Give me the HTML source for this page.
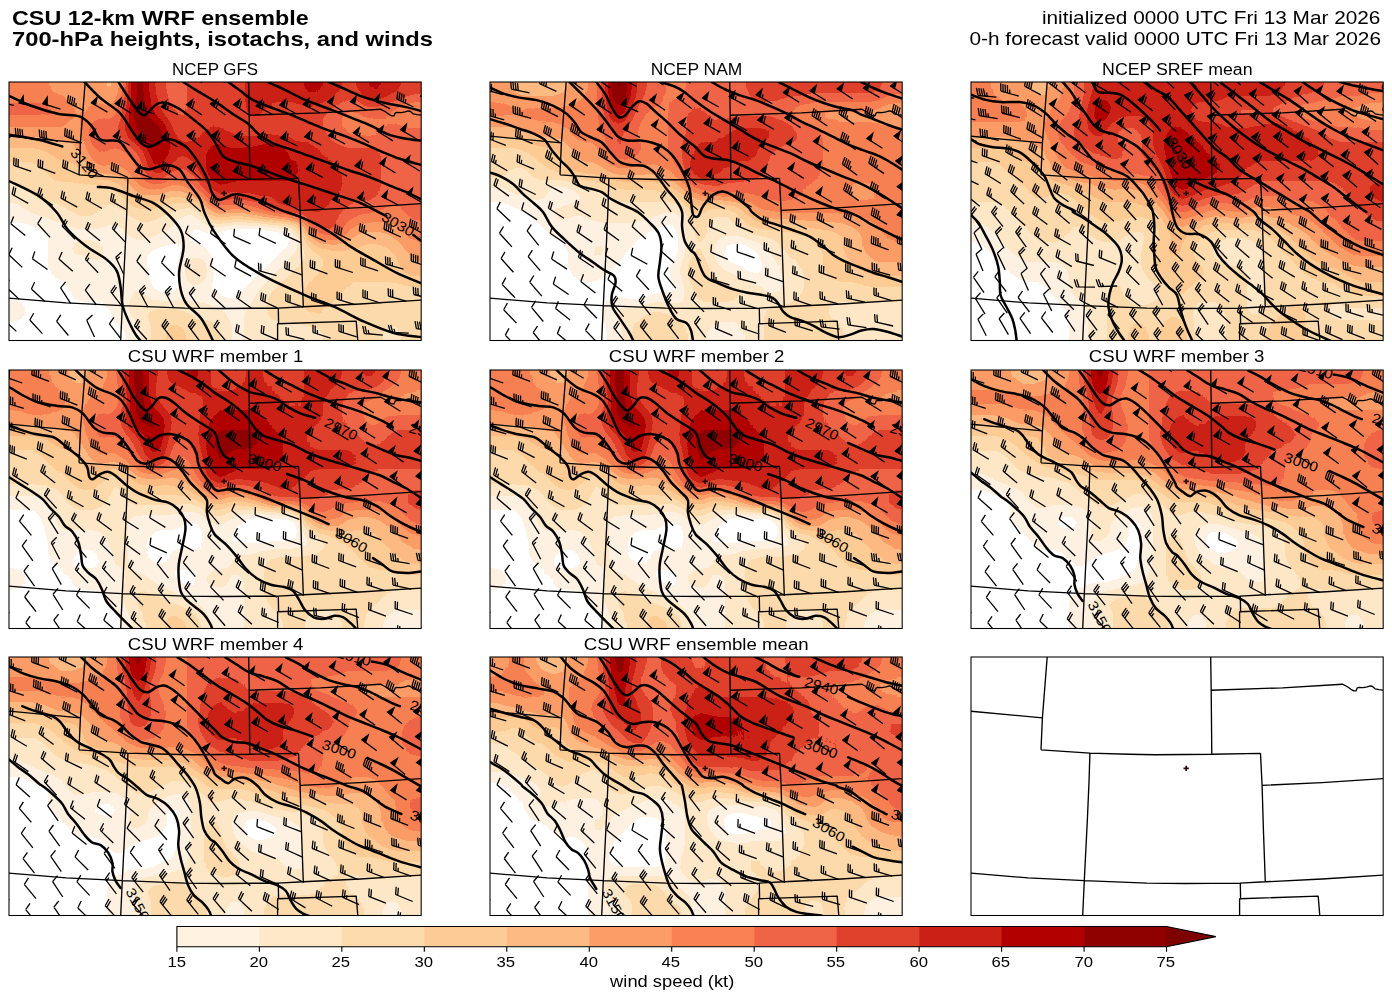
<!DOCTYPE html>
<html><head><meta charset="utf-8"><title>CSU 12-km WRF ensemble</title>
<style>
html,body{margin:0;padding:0;background:#fff;}
body{width:1392px;height:1001px;position:relative;overflow:hidden;font-family:"Liberation Sans",sans-serif;color:#000;}
.t{position:absolute;white-space:nowrap;line-height:1;}
.pan{position:absolute;overflow:visible;}
.cl{font-family:"Liberation Sans",sans-serif;font-size:13.9px;fill:#000;text-anchor:middle;}
.sx{display:inline-block;transform-origin:0 50%;}
.sc{display:inline-block;transform-origin:50% 50%;}
.sr{display:inline-block;transform-origin:100% 50%;}
</style></head><body>
<svg width="0" height="0" style="position:absolute"><defs><filter id="fld" x="-20%" y="-20%" width="140%" height="140%" color-interpolation-filters="sRGB"><feGaussianBlur stdDeviation="4.5"/><feComponentTransfer><feFuncR type="discrete" tableValues="1.0000 1.0000 1.0000 0.9961 0.9922 0.9922 0.9922 0.9882 0.9725 0.9373 0.8745 0.7961 0.6980 0.5608 0.4980 0.4980"/><feFuncG type="discrete" tableValues="1.0000 1.0000 0.9490 0.9098 0.8588 0.8000 0.7294 0.6118 0.5020 0.3922 0.2549 0.1255 0.0000 0.0000 0.0000 0.0000"/><feFuncB type="discrete" tableValues="1.0000 1.0000 0.8824 0.7843 0.6745 0.5882 0.5137 0.4039 0.3255 0.2784 0.1725 0.0824 0.0000 0.0000 0.0000 0.0000"/><feFuncA type="discrete" tableValues="1 1"/></feComponentTransfer></filter></defs></svg>
<div class="t" style="top:8.25px;font-size:20.40px;font-weight:bold;left:11.5px;"><span class="sx" style="transform:scaleX(1.1434)">CSU 12-km WRF ensemble</span></div>
<div class="t" style="top:29.25px;font-size:20.40px;font-weight:bold;left:11.5px;"><span class="sx" style="transform:scaleX(1.1643)">700-hPa heights, isotachs, and winds</span></div>
<div class="t" style="top:8.45px;font-size:19.00px;right:11.3px;"><span class="sr" style="transform:scaleX(1.0941)">initialized 0000 UTC Fri 13 Mar 2026</span></div>
<div class="t" style="top:29.45px;font-size:19.00px;right:11.3px;"><span class="sr" style="transform:scaleX(1.0943)">0-h forecast valid 0000 UTC Fri 13 Mar 2026</span></div><div class="t" style="top:60.80px;font-size:17.30px;left:15.4px;width:400px;text-align:center;"><span class="sc" style="transform:scaleX(0.9767)">NCEP GFS</span></div>
<div class="t" style="top:60.80px;font-size:17.30px;left:496.2px;width:400px;text-align:center;"><span class="sc" style="transform:scaleX(1.0081)">NCEP NAM</span></div>
<div class="t" style="top:60.80px;font-size:17.30px;left:977.1px;width:400px;text-align:center;"><span class="sc" style="transform:scaleX(1.0259)">NCEP SREF mean</span></div>
<div class="t" style="top:347.80px;font-size:17.30px;left:15.4px;width:400px;text-align:center;"><span class="sc" style="transform:scaleX(1.0752)">CSU WRF member 1</span></div>
<div class="t" style="top:347.80px;font-size:17.30px;left:496.2px;width:400px;text-align:center;"><span class="sc" style="transform:scaleX(1.0752)">CSU WRF member 2</span></div>
<div class="t" style="top:347.80px;font-size:17.30px;left:977.1px;width:400px;text-align:center;"><span class="sc" style="transform:scaleX(1.0752)">CSU WRF member 3</span></div>
<div class="t" style="top:635.80px;font-size:17.30px;left:15.4px;width:400px;text-align:center;"><span class="sc" style="transform:scaleX(1.0752)">CSU WRF member 4</span></div>
<div class="t" style="top:635.80px;font-size:17.30px;left:496.2px;width:400px;text-align:center;"><span class="sc" style="transform:scaleX(1.0799)">CSU WRF ensemble mean</span></div>
<svg class="pan" style="left:8.3px;top:80.9px" width="414.2" height="260.5" viewBox="0 0 414.2 260.5">
<g transform="translate(1,1)">
<g id="pc0">
<clipPath id="cp0"><rect x="0" y="0" width="412.2" height="258.5"/></clipPath>
<g clip-path="url(#cp0)">
<g filter="url(#fld)">
<path fill="rgb(8,8,8)" d="M225.7 149.1H255.5V159.4H225.7ZM225.7 159.1H245.7V169.3H225.7Z"/>
<path fill="rgb(12,12,12)" d="M215.9 149.1H226.0V159.4H215.9ZM255.2 149.1H265.3V159.4H255.2ZM215.9 159.1H226.0V169.3H215.9ZM245.4 159.1H255.5V169.3H245.4ZM225.7 169.0H245.7V179.3H225.7Z"/>
<path fill="rgb(16,16,16)" d="M265.0 149.1H275.1V159.4H265.0ZM255.2 159.1H265.3V169.3H255.2ZM215.9 169.0H226.0V179.3H215.9ZM245.4 169.0H255.5V179.3H245.4Z"/>
<path fill="rgb(20,20,20)" d="M206.1 149.1H216.2V159.4H206.1ZM206.1 159.1H216.2V169.3H206.1ZM206.1 169.0H216.2V179.3H206.1ZM215.9 179.0H245.7V189.2H215.9Z"/>
<path fill="rgb(24,24,24)" d="M-30.0 149.1H29.7V159.4H-30.0ZM196.3 149.1H206.4V159.4H196.3ZM274.8 149.1H284.9V159.4H274.8ZM-30.0 159.1H29.7V169.3H-30.0ZM265.0 159.1H275.1V169.3H265.0ZM-30.0 169.0H29.7V179.3H-30.0ZM147.2 169.0H167.1V179.3H147.2ZM255.2 169.0H265.3V179.3H255.2ZM-30.0 179.0H29.7V189.2H-30.0ZM147.2 179.0H167.1V189.2H147.2ZM206.1 179.0H216.2V189.2H206.1ZM245.4 179.0H255.5V189.2H245.4ZM-30.0 188.9H29.7V199.1H-30.0ZM147.2 188.9H167.1V199.1H147.2ZM206.1 188.9H235.8V199.1H206.1ZM-30.0 198.8H39.6V209.1H-30.0ZM147.2 198.8H167.1V209.1H147.2ZM206.1 198.8H226.0V209.1H206.1ZM19.6 208.8H49.4V219.0H19.6ZM29.4 218.7H59.2V229.0H29.4ZM29.4 228.7H88.6V238.9H29.4ZM19.6 238.6H98.4V248.9H19.6ZM-30.0 248.6H108.3V288.8H-30.0Z"/>
<path fill="rgb(28,28,28)" d="M-30.0 139.2H19.9V149.4H-30.0ZM29.4 149.1H39.6V159.4H29.4ZM186.5 149.1H196.6V159.4H186.5ZM29.4 159.1H39.6V169.3H29.4ZM157.0 159.1H167.1V169.3H157.0ZM196.3 159.1H206.4V169.3H196.3ZM29.4 169.0H39.6V179.3H29.4ZM137.4 169.0H147.5V179.3H137.4ZM29.4 179.0H39.6V189.2H29.4ZM137.4 179.0H147.5V189.2H137.4ZM29.4 188.9H39.6V199.1H29.4ZM137.4 188.9H147.5V199.1H137.4ZM235.5 188.9H245.7V199.1H235.5ZM39.3 198.8H49.4V209.1H39.3ZM225.7 198.8H235.8V209.1H225.7ZM-30.0 208.8H19.9V219.0H-30.0ZM49.1 208.8H59.2V219.0H49.1ZM215.9 208.8H226.0V219.0H215.9ZM19.6 218.7H29.7V229.0H19.6ZM58.9 218.7H88.6V229.0H58.9ZM19.6 228.7H29.7V238.9H19.6ZM88.3 228.7H98.4V238.9H88.3ZM-30.0 238.6H19.9V248.9H-30.0ZM98.1 238.6H108.3V248.9H98.1ZM108.0 248.6H118.1V288.8H108.0Z"/>
<path fill="rgb(32,32,32)" d="M19.6 139.2H29.7V149.4H19.6ZM176.7 139.2H196.6V149.4H176.7ZM166.8 149.1H186.8V159.4H166.8ZM147.2 159.1H157.3V169.3H147.2ZM166.8 159.1H196.6V169.3H166.8ZM274.8 159.1H284.9V169.3H274.8ZM166.8 169.0H177.0V179.3H166.8ZM196.3 169.0H206.4V179.3H196.3ZM265.0 169.0H275.1V179.3H265.0ZM58.9 179.0H69.0V189.2H58.9ZM255.2 179.0H265.3V189.2H255.2ZM39.3 188.9H78.8V199.1H39.3ZM245.4 188.9H255.5V199.1H245.4ZM49.1 198.8H69.0V209.1H49.1ZM98.1 198.8H118.1V209.1H98.1ZM137.4 198.8H147.5V209.1H137.4ZM166.8 198.8H177.0V209.1H166.8ZM196.3 198.8H206.4V209.1H196.3ZM235.5 198.8H245.7V209.1H235.5ZM58.9 208.8H69.0V219.0H58.9ZM88.3 208.8H108.3V219.0H88.3ZM206.1 208.8H216.2V219.0H206.1ZM225.7 208.8H235.8V219.0H225.7ZM9.8 218.7H19.9V229.0H9.8ZM88.3 218.7H108.3V229.0H88.3ZM9.8 228.7H19.9V238.9H9.8ZM98.1 228.7H108.3V238.9H98.1ZM108.0 238.6H118.1V248.9H108.0Z"/>
<path fill="rgb(36,36,36)" d="M-30.0 129.2H10.1V139.5H-30.0ZM29.4 139.2H39.6V149.4H29.4ZM225.7 139.2H235.8V149.4H225.7ZM39.3 149.1H49.4V159.4H39.3ZM39.3 159.1H49.4V169.3H39.3ZM137.4 159.1H147.5V169.3H137.4ZM39.3 169.0H49.4V179.3H39.3ZM127.6 169.0H137.7V179.3H127.6ZM39.3 179.0H49.4V189.2H39.3ZM68.7 179.0H78.8V189.2H68.7ZM127.6 179.0H137.7V189.2H127.6ZM166.8 179.0H177.0V189.2H166.8ZM196.3 179.0H206.4V189.2H196.3ZM78.5 188.9H88.6V199.1H78.5ZM98.1 188.9H108.3V199.1H98.1ZM166.8 188.9H177.0V199.1H166.8ZM196.3 188.9H206.4V199.1H196.3ZM68.7 198.8H78.8V209.1H68.7ZM88.3 198.8H98.4V209.1H88.3ZM68.7 208.8H88.6V219.0H68.7ZM108.0 208.8H118.1V219.0H108.0ZM147.2 208.8H167.1V219.0H147.2ZM196.3 208.8H206.4V219.0H196.3ZM-30.0 218.7H10.1V229.0H-30.0ZM-30.0 228.7H10.1V238.9H-30.0ZM117.8 248.6H127.9V288.8H117.8Z"/>
<path fill="rgb(40,40,40)" d="M9.8 129.2H19.9V139.5H9.8ZM176.7 129.2H186.8V139.5H176.7ZM39.3 139.2H49.4V149.4H39.3ZM166.8 139.2H177.0V149.4H166.8ZM215.9 139.2H226.0V149.4H215.9ZM235.5 139.2H255.5V149.4H235.5ZM49.1 149.1H59.2V159.4H49.1ZM98.1 149.1H108.3V159.4H98.1ZM157.0 149.1H167.1V159.4H157.0ZM108.0 159.1H118.1V169.3H108.0ZM127.6 159.1H137.7V169.3H127.6ZM49.1 169.0H59.2V179.3H49.1ZM108.0 169.0H127.9V179.3H108.0ZM49.1 179.0H59.2V189.2H49.1ZM78.5 179.0H88.6V189.2H78.5ZM98.1 179.0H127.9V189.2H98.1ZM88.3 188.9H98.4V199.1H88.3ZM108.0 188.9H137.7V199.1H108.0ZM78.5 198.8H88.6V209.1H78.5ZM137.4 208.8H147.5V219.0H137.4ZM166.8 208.8H196.6V219.0H166.8ZM235.5 208.8H245.7V219.0H235.5ZM108.0 218.7H118.1V229.0H108.0ZM215.9 218.7H235.8V229.0H215.9ZM108.0 228.7H118.1V238.9H108.0ZM117.8 238.6H127.9V248.9H117.8Z"/>
<path fill="rgb(44,44,44)" d="M-30.0 119.3H10.1V129.6H-30.0ZM19.6 129.2H29.7V139.5H19.6ZM49.1 139.2H59.2V149.4H49.1ZM98.1 139.2H108.3V149.4H98.1ZM58.9 149.1H98.4V159.4H58.9ZM108.0 149.1H118.1V159.4H108.0ZM147.2 149.1H157.3V159.4H147.2ZM49.1 159.1H59.2V169.3H49.1ZM98.1 159.1H108.3V169.3H98.1ZM117.8 159.1H127.9V169.3H117.8ZM98.1 169.0H108.3V179.3H98.1ZM176.7 169.0H196.6V179.3H176.7ZM274.8 169.0H284.9V179.3H274.8ZM88.3 179.0H98.4V189.2H88.3ZM265.0 179.0H275.1V189.2H265.0ZM255.2 188.9H265.3V199.1H255.2ZM127.6 198.8H137.7V209.1H127.6ZM176.7 198.8H196.6V209.1H176.7ZM245.4 198.8H255.5V209.1H245.4ZM206.1 218.7H216.2V229.0H206.1ZM215.9 228.7H235.8V238.9H215.9ZM225.7 238.6H235.8V248.9H225.7ZM225.7 248.6H235.8V288.8H225.7Z"/>
<path fill="rgb(48,48,48)" d="M9.8 119.3H19.9V129.6H9.8ZM29.4 129.2H39.6V139.5H29.4ZM166.8 129.2H177.0V139.5H166.8ZM58.9 139.2H98.4V149.4H58.9ZM108.0 139.2H118.1V149.4H108.0ZM157.0 139.2H167.1V149.4H157.0ZM196.3 139.2H216.2V149.4H196.3ZM255.2 139.2H265.3V149.4H255.2ZM117.8 149.1H127.9V159.4H117.8ZM137.4 149.1H147.5V159.4H137.4ZM58.9 159.1H69.0V169.3H58.9ZM88.3 159.1H98.4V169.3H88.3ZM284.6 159.1H294.7V169.3H284.6ZM58.9 169.0H78.8V179.3H58.9ZM88.3 169.0H98.4V179.3H88.3ZM117.8 198.8H127.9V209.1H117.8ZM117.8 208.8H127.9V219.0H117.8ZM196.3 218.7H206.4V229.0H196.3ZM235.5 218.7H245.7V229.0H235.5ZM117.8 228.7H127.9V238.9H117.8ZM215.9 238.6H226.0V248.9H215.9ZM127.6 248.6H137.7V288.8H127.6ZM215.9 248.6H226.0V288.8H215.9Z"/>
<path fill="rgb(52,52,52)" d="M-30.0 109.4H10.1V119.6H-30.0ZM39.3 129.2H49.4V139.5H39.3ZM265.0 139.2H275.1V149.4H265.0ZM127.6 149.1H137.7V159.4H127.6ZM68.7 159.1H88.6V169.3H68.7ZM78.5 169.0H88.6V179.3H78.5ZM127.6 208.8H137.7V219.0H127.6ZM245.4 208.8H255.5V219.0H245.4ZM117.8 218.7H127.9V229.0H117.8ZM186.5 218.7H196.6V229.0H186.5ZM235.5 228.7H245.7V238.9H235.5ZM127.6 238.6H137.7V248.9H127.6ZM235.5 238.6H245.7V248.9H235.5ZM235.5 248.6H245.7V288.8H235.5Z"/>
<path fill="rgb(56,56,56)" d="M9.8 109.4H19.9V119.6H9.8ZM19.6 119.3H29.7V129.6H19.6ZM49.1 129.2H59.2V139.5H49.1ZM98.1 129.2H118.1V139.5H98.1ZM157.0 129.2H167.1V139.5H157.0ZM186.5 129.2H196.6V139.5H186.5ZM117.8 139.2H127.9V149.4H117.8ZM147.2 139.2H157.3V149.4H147.2ZM284.6 149.1H294.7V159.4H284.6ZM284.6 169.0H294.7V179.3H284.6ZM274.8 179.0H284.9V189.2H274.8ZM265.0 188.9H275.1V199.1H265.0ZM255.2 198.8H265.3V209.1H255.2ZM127.6 218.7H137.7V229.0H127.6ZM166.8 218.7H186.8V229.0H166.8ZM245.4 218.7H255.5V229.0H245.4ZM127.6 228.7H137.7V238.9H127.6ZM206.1 228.7H216.2V238.9H206.1ZM245.4 238.6H255.5V248.9H245.4ZM245.4 248.6H304.5V288.8H245.4Z"/>
<path fill="rgb(60,60,60)" d="M-30.0 99.4H10.1V109.7H-30.0ZM29.4 119.3H49.4V129.6H29.4ZM58.9 129.2H69.0V139.5H58.9ZM88.3 129.2H98.4V139.5H88.3ZM127.6 139.2H147.5V149.4H127.6ZM274.8 139.2H284.9V149.4H274.8ZM137.4 218.7H167.1V229.0H137.4ZM186.5 228.7H206.4V238.9H186.5ZM245.4 228.7H255.5V238.9H245.4ZM206.1 238.6H216.2V248.9H206.1ZM255.2 238.6H294.7V248.9H255.2ZM304.2 248.6H314.4V288.8H304.2ZM372.9 248.6H392.9V288.8H372.9Z"/>
<path fill="rgb(64,64,64)" d="M9.8 99.4H19.9V109.7H9.8ZM19.6 109.4H29.7V119.6H19.6ZM78.5 109.4H108.3V119.6H78.5ZM49.1 119.3H59.2V129.6H49.1ZM88.3 119.3H118.1V129.6H88.3ZM176.7 119.3H186.8V129.6H176.7ZM68.7 129.2H88.6V139.5H68.7ZM117.8 129.2H127.9V139.5H117.8ZM147.2 129.2H157.3V139.5H147.2ZM294.4 169.0H304.5V179.3H294.4ZM176.7 179.0H196.6V189.2H176.7ZM284.6 179.0H294.7V189.2H284.6ZM176.7 188.9H196.6V199.1H176.7ZM274.8 188.9H284.9V199.1H274.8ZM265.0 198.8H275.1V209.1H265.0ZM255.2 208.8H265.3V219.0H255.2ZM176.7 228.7H186.8V238.9H176.7ZM255.2 228.7H265.3V238.9H255.2ZM137.4 238.6H147.5V248.9H137.4ZM294.4 238.6H314.4V248.9H294.4ZM372.9 238.6H392.9V248.9H372.9ZM137.4 248.6H147.5V288.8H137.4ZM206.1 248.6H216.2V288.8H206.1Z"/>
<path fill="rgb(68,68,68)" d="M-30.0 89.5H19.9V99.7H-30.0ZM19.6 99.4H29.7V109.7H19.6ZM29.4 109.4H59.2V119.6H29.4ZM68.7 109.4H78.8V119.6H68.7ZM58.9 119.3H69.0V129.6H58.9ZM78.5 119.3H88.6V129.6H78.5ZM166.8 119.3H177.0V129.6H166.8ZM127.6 129.2H147.5V139.5H127.6ZM255.2 218.7H265.3V229.0H255.2ZM137.4 228.7H147.5V238.9H137.4ZM265.0 228.7H284.9V238.9H265.0ZM372.9 228.7H392.9V238.9H372.9ZM186.5 238.6H206.4V248.9H186.5ZM363.1 238.6H373.2V248.9H363.1ZM392.6 238.6H402.7V248.9H392.6ZM314.1 248.6H324.2V288.8H314.1ZM363.1 248.6H373.2V288.8H363.1ZM392.6 248.6H402.7V288.8H392.6Z"/>
<path fill="rgb(72,72,72)" d="M19.6 89.5H29.7V99.7H19.6ZM29.4 99.4H39.6V109.7H29.4ZM78.5 99.4H88.6V109.7H78.5ZM58.9 109.4H69.0V119.6H58.9ZM68.7 119.3H78.8V129.6H68.7ZM157.0 119.3H167.1V129.6H157.0ZM294.4 179.0H304.5V189.2H294.4ZM284.6 188.9H294.7V199.1H284.6ZM274.8 198.8H284.9V209.1H274.8ZM265.0 208.8H284.9V219.0H265.0ZM343.5 208.8H442.5V219.0H343.5ZM265.0 218.7H284.9V229.0H265.0ZM333.7 218.7H442.5V229.0H333.7ZM147.2 228.7H157.3V238.9H147.2ZM166.8 228.7H177.0V238.9H166.8ZM284.6 228.7H294.7V238.9H284.6ZM314.1 228.7H373.2V238.9H314.1ZM392.6 228.7H442.5V238.9H392.6ZM176.7 238.6H186.8V248.9H176.7ZM314.1 238.6H363.4V248.9H314.1ZM402.4 238.6H442.5V248.9H402.4ZM186.5 248.6H206.4V288.8H186.5ZM323.9 248.6H363.4V288.8H323.9ZM402.4 248.6H442.5V288.8H402.4Z"/>
<path fill="rgb(76,76,76)" d="M-30.0 79.5H29.7V89.8H-30.0ZM29.4 89.5H39.6V99.7H29.4ZM39.3 99.4H78.8V109.7H39.3ZM88.3 99.4H98.4V109.7H88.3ZM304.2 169.0H314.4V179.3H304.2ZM304.2 179.0H314.4V189.2H304.2ZM294.4 188.9H304.5V199.1H294.4ZM284.6 198.8H294.7V209.1H284.6ZM343.5 198.8H392.9V209.1H343.5ZM284.6 208.8H294.7V219.0H284.6ZM333.7 208.8H343.8V219.0H333.7ZM284.6 218.7H294.7V229.0H284.6ZM323.9 218.7H334.0V229.0H323.9ZM157.0 228.7H167.1V238.9H157.0ZM294.4 228.7H304.5V238.9H294.4ZM147.2 238.6H157.3V248.9H147.2ZM147.2 248.6H157.3V288.8H147.2ZM176.7 248.6H186.8V288.8H176.7Z"/>
<path fill="rgb(80,80,80)" d="M29.4 79.5H39.6V89.8H29.4ZM39.3 89.5H49.4V99.7H39.3ZM98.1 99.4H108.3V109.7H98.1ZM108.0 109.4H118.1V119.6H108.0ZM117.8 119.3H127.9V129.6H117.8ZM147.2 119.3H157.3V129.6H147.2ZM294.4 159.1H304.5V169.3H294.4ZM304.2 188.9H314.4V199.1H304.2ZM294.4 198.8H304.5V209.1H294.4ZM333.7 198.8H343.8V209.1H333.7ZM392.6 198.8H442.5V209.1H392.6ZM323.9 208.8H334.0V219.0H323.9ZM314.1 218.7H324.2V229.0H314.1ZM304.2 228.7H314.4V238.9H304.2ZM157.0 238.6H177.0V248.9H157.0Z"/>
<path fill="rgb(84,84,84)" d="M-30.0 69.6H29.7V79.8H-30.0ZM49.1 89.5H69.0V99.7H49.1ZM127.6 119.3H147.5V129.6H127.6ZM186.5 119.3H196.6V129.6H186.5ZM314.1 169.0H324.2V179.3H314.1ZM314.1 179.0H324.2V189.2H314.1ZM314.1 188.9H324.2V199.1H314.1ZM333.7 188.9H383.1V199.1H333.7ZM304.2 198.8H314.4V209.1H304.2ZM323.9 198.8H334.0V209.1H323.9ZM294.4 208.8H304.5V219.0H294.4ZM314.1 208.8H324.2V219.0H314.1ZM294.4 218.7H314.4V229.0H294.4ZM157.0 248.6H177.0V288.8H157.0Z"/>
<path fill="rgb(88,88,88)" d="M29.4 69.6H39.6V79.8H29.4ZM39.3 79.5H49.4V89.8H39.3ZM68.7 89.5H78.8V99.7H68.7ZM196.3 129.2H206.4V139.5H196.3ZM284.6 139.2H294.7V149.4H284.6ZM323.9 169.0H383.1V179.3H323.9ZM323.9 179.0H383.1V189.2H323.9ZM323.9 188.9H334.0V199.1H323.9ZM382.8 188.9H392.9V199.1H382.8ZM314.1 198.8H324.2V209.1H314.1ZM304.2 208.8H314.4V219.0H304.2Z"/>
<path fill="rgb(92,92,92)" d="M49.1 79.5H69.0V89.8H49.1ZM353.3 159.1H373.2V169.3H353.3ZM382.8 179.0H392.9V189.2H382.8ZM392.6 188.9H402.7V199.1H392.6Z"/>
<path fill="rgb(96,96,96)" d="M-30.0 59.7H29.7V69.9H-30.0ZM39.3 69.6H49.4V79.8H39.3ZM108.0 99.4H118.1V109.7H108.0ZM117.8 109.4H127.9V119.6H117.8ZM157.0 109.4H177.0V119.6H157.0ZM215.9 129.2H235.8V139.5H215.9ZM304.2 159.1H314.4V169.3H304.2ZM343.5 159.1H353.6V169.3H343.5ZM372.9 159.1H383.1V169.3H372.9ZM382.8 169.0H392.9V179.3H382.8ZM402.4 188.9H442.5V199.1H402.4Z"/>
<path fill="rgb(100,100,100)" d="M29.4 59.7H39.6V69.9H29.4ZM49.1 69.6H69.0V79.8H49.1ZM68.7 79.5H78.8V89.8H68.7ZM78.5 89.5H88.6V99.7H78.5ZM235.5 129.2H245.7V139.5H235.5ZM333.7 159.1H343.8V169.3H333.7Z"/>
<path fill="rgb(104,104,104)" d="M39.3 59.7H49.4V69.9H39.3ZM88.3 89.5H98.4V99.7H88.3ZM147.2 109.4H157.3V119.6H147.2ZM206.1 129.2H216.2V139.5H206.1ZM294.4 149.1H304.5V159.4H294.4ZM353.3 149.1H373.2V159.4H353.3ZM314.1 159.1H334.0V169.3H314.1ZM382.8 159.1H392.9V169.3H382.8ZM392.6 179.0H402.7V189.2H392.6Z"/>
<path fill="rgb(108,108,108)" d="M98.1 -30.0H108.3V10.2H98.1ZM49.1 59.7H69.0V69.9H49.1ZM98.1 89.5H108.3V99.7H98.1ZM127.6 109.4H147.5V119.6H127.6ZM176.7 109.4H186.8V119.6H176.7ZM343.5 149.1H353.6V159.4H343.5ZM372.9 149.1H383.1V159.4H372.9ZM392.6 169.0H402.7V179.3H392.6ZM402.4 179.0H442.5V189.2H402.4Z"/>
<path fill="rgb(112,112,112)" d="M-30.0 49.7H39.6V60.0H-30.0ZM68.7 69.6H78.8V79.8H68.7ZM108.0 89.5H118.1V99.7H108.0ZM117.8 99.4H127.9V109.7H117.8ZM245.4 129.2H255.5V139.5H245.4Z"/>
<path fill="rgb(116,116,116)" d="M88.3 -30.0H98.4V10.2H88.3ZM98.1 9.9H108.3V20.2H98.1ZM39.3 49.7H69.0V60.0H39.3ZM382.8 149.1H392.9V159.4H382.8ZM392.6 159.1H402.7V169.3H392.6ZM402.4 169.0H442.5V179.3H402.4Z"/>
<path fill="rgb(120,120,120)" d="M49.1 -30.0H88.6V10.2H49.1ZM58.9 9.9H78.8V20.2H58.9ZM88.3 9.9H98.4V20.2H88.3ZM58.9 39.8H69.0V50.0H58.9ZM68.7 59.7H78.8V69.9H68.7ZM78.5 79.5H88.6V89.8H78.5ZM157.0 99.4H167.1V109.7H157.0ZM255.2 129.2H265.3V139.5H255.2ZM353.3 139.2H383.1V149.4H353.3ZM333.7 149.1H343.8V159.4H333.7Z"/>
<path fill="rgb(124,124,124)" d="M39.3 -30.0H49.4V10.2H39.3ZM78.5 9.9H88.6V20.2H78.5ZM68.7 19.9H78.8V30.1H68.7ZM98.1 79.5H108.3V89.8H98.1ZM166.8 99.4H177.0V109.7H166.8ZM343.5 139.2H353.6V149.4H343.5ZM402.4 159.1H442.5V169.3H402.4Z"/>
<path fill="rgb(128,128,128)" d="M49.1 9.9H59.2V20.2H49.1ZM58.9 19.9H69.0V30.1H58.9ZM78.5 19.9H88.6V30.1H78.5ZM98.1 19.9H108.3V30.1H98.1ZM58.9 29.8H78.8V40.1H58.9ZM402.4 29.8H442.5V40.1H402.4ZM-30.0 39.8H59.2V50.0H-30.0ZM68.7 39.8H78.8V50.0H68.7ZM68.7 49.7H78.8V60.0H68.7ZM88.3 79.5H98.4V89.8H88.3ZM108.0 79.5H118.1V89.8H108.0ZM117.8 89.5H127.9V99.7H117.8ZM127.6 99.4H137.7V109.7H127.6ZM186.5 109.4H196.6V119.6H186.5ZM196.3 119.3H206.4V129.6H196.3ZM382.8 139.2H392.9V149.4H382.8ZM392.6 149.1H402.7V159.4H392.6Z"/>
<path fill="rgb(131,131,131)" d="M29.4 -30.0H39.6V10.2H29.4ZM39.3 9.9H49.4V20.2H39.3ZM88.3 19.9H98.4V30.1H88.3ZM402.4 19.9H442.5V30.1H402.4ZM392.6 29.8H402.7V40.1H392.6ZM78.5 69.6H88.6V79.8H78.5ZM265.0 129.2H275.1V139.5H265.0ZM402.4 149.1H442.5V159.4H402.4Z"/>
<path fill="rgb(135,135,135)" d="M-30.0 -30.0H29.7V10.2H-30.0ZM108.0 -30.0H118.1V10.2H108.0ZM29.4 9.9H39.6V20.2H29.4ZM49.1 19.9H59.2V30.1H49.1ZM392.6 19.9H402.7V30.1H392.6ZM49.1 29.8H59.2V40.1H49.1ZM78.5 29.8H88.6V40.1H78.5ZM382.8 29.8H392.9V40.1H382.8ZM343.5 39.8H353.6V50.0H343.5ZM98.1 69.6H118.1V79.8H98.1ZM117.8 79.5H127.9V89.8H117.8ZM137.4 99.4H157.3V109.7H137.4ZM176.7 99.4H186.8V109.7H176.7ZM363.1 129.2H392.9V139.5H363.1ZM294.4 139.2H304.5V149.4H294.4ZM333.7 139.2H343.8V149.4H333.7ZM392.6 139.2H402.7V149.4H392.6ZM304.2 149.1H314.4V159.4H304.2Z"/>
<path fill="rgb(139,139,139)" d="M-30.0 9.9H29.7V20.2H-30.0ZM98.1 29.8H108.3V40.1H98.1ZM333.7 29.8H353.6V40.1H333.7ZM333.7 39.8H343.8V50.0H333.7ZM353.3 39.8H363.4V50.0H353.3ZM88.3 69.6H98.4V79.8H88.3ZM215.9 119.3H235.8V129.6H215.9ZM274.8 129.2H284.9V139.5H274.8ZM353.3 129.2H363.4V139.5H353.3ZM402.4 139.2H442.5V149.4H402.4ZM323.9 149.1H334.0V159.4H323.9Z"/>
<path fill="rgb(143,143,143)" d="M108.0 9.9H118.1V20.2H108.0ZM39.3 19.9H49.4V30.1H39.3ZM382.8 19.9H392.9V30.1H382.8ZM-30.0 29.8H49.4V40.1H-30.0ZM88.3 29.8H98.4V40.1H88.3ZM353.3 29.8H383.1V40.1H353.3ZM363.1 39.8H383.1V50.0H363.1ZM392.6 39.8H442.5V50.0H392.6ZM343.5 49.7H373.2V60.0H343.5ZM78.5 59.7H88.6V69.9H78.5ZM98.1 59.7H108.3V69.9H98.1ZM117.8 69.6H127.9V79.8H117.8ZM127.6 89.5H137.7V99.7H127.6ZM166.8 89.5H177.0V99.7H166.8ZM206.1 119.3H216.2V129.6H206.1ZM235.5 119.3H245.7V129.6H235.5ZM372.9 119.3H392.9V129.6H372.9ZM343.5 129.2H353.6V139.5H343.5ZM392.6 129.2H402.7V139.5H392.6ZM314.1 149.1H324.2V159.4H314.1Z"/>
<path fill="rgb(147,147,147)" d="M-30.0 19.9H39.6V30.1H-30.0ZM333.7 19.9H353.6V30.1H333.7ZM323.9 29.8H334.0V40.1H323.9ZM323.9 39.8H334.0V50.0H323.9ZM382.8 39.8H392.9V50.0H382.8ZM333.7 49.7H343.8V60.0H333.7ZM108.0 59.7H118.1V69.9H108.0ZM382.8 109.4H392.9V119.6H382.8ZM392.6 119.3H402.7V129.6H392.6ZM402.4 129.2H442.5V139.5H402.4Z"/>
<path fill="rgb(151,151,151)" d="M108.0 19.9H118.1V30.1H108.0ZM372.9 19.9H383.1V30.1H372.9ZM78.5 39.8H88.6V50.0H78.5ZM98.1 39.8H108.3V50.0H98.1ZM78.5 49.7H88.6V60.0H78.5ZM98.1 49.7H108.3V60.0H98.1ZM323.9 49.7H334.0V60.0H323.9ZM372.9 49.7H442.5V60.0H372.9ZM88.3 59.7H98.4V69.9H88.3ZM372.9 59.7H442.5V69.9H372.9ZM382.8 69.6H442.5V79.8H382.8ZM382.8 79.5H442.5V89.8H382.8ZM157.0 89.5H167.1V99.7H157.0ZM382.8 89.5H442.5V99.7H382.8ZM382.8 99.4H442.5V109.7H382.8ZM372.9 109.4H383.1V119.6H372.9ZM392.6 109.4H442.5V119.6H392.6ZM245.4 119.3H255.5V129.6H245.4ZM363.1 119.3H373.2V129.6H363.1ZM402.4 119.3H442.5V129.6H402.4ZM284.6 129.2H294.7V139.5H284.6ZM333.7 129.2H343.8V139.5H333.7Z"/>
<path fill="rgb(155,155,155)" d="M157.0 -30.0H177.0V10.2H157.0ZM157.0 9.9H177.0V20.2H157.0ZM402.4 9.9H442.5V20.2H402.4ZM166.8 19.9H177.0V30.1H166.8ZM323.9 19.9H334.0V30.1H323.9ZM314.1 29.8H324.2V40.1H314.1ZM88.3 39.8H98.4V50.0H88.3ZM314.1 39.8H324.2V50.0H314.1ZM372.9 69.6H383.1V79.8H372.9ZM127.6 79.5H137.7V89.8H127.6ZM372.9 79.5H383.1V89.8H372.9ZM176.7 89.5H186.8V99.7H176.7ZM372.9 89.5H383.1V99.7H372.9ZM186.5 99.4H196.6V109.7H186.5ZM372.9 99.4H383.1V109.7H372.9ZM196.3 109.4H206.4V119.6H196.3ZM343.5 119.3H363.4V129.6H343.5Z"/>
<path fill="rgb(159,159,159)" d="M392.6 9.9H402.7V20.2H392.6ZM157.0 19.9H167.1V30.1H157.0ZM353.3 19.9H373.2V30.1H353.3ZM108.0 29.8H118.1V40.1H108.0ZM166.8 29.8H177.0V40.1H166.8ZM88.3 49.7H98.4V60.0H88.3ZM108.0 49.7H118.1V60.0H108.0ZM314.1 49.7H324.2V60.0H314.1ZM117.8 59.7H127.9V69.9H117.8ZM333.7 59.7H373.2V69.9H333.7ZM363.1 109.4H373.2V119.6H363.1ZM333.7 119.3H343.8V129.6H333.7ZM323.9 129.2H334.0V139.5H323.9ZM304.2 139.2H314.4V149.4H304.2ZM323.9 139.2H334.0V149.4H323.9Z"/>
<path fill="rgb(163,163,163)" d="M147.2 -30.0H157.3V10.2H147.2ZM176.7 -30.0H186.8V10.2H176.7ZM176.7 9.9H186.8V20.2H176.7ZM333.7 9.9H343.8V20.2H333.7ZM176.7 19.9H186.8V30.1H176.7ZM314.1 19.9H324.2V30.1H314.1ZM176.7 29.8H186.8V40.1H176.7ZM304.2 29.8H314.4V40.1H304.2ZM166.8 39.8H177.0V50.0H166.8ZM304.2 39.8H314.4V50.0H304.2ZM323.9 59.7H334.0V69.9H323.9ZM127.6 69.6H137.7V79.8H127.6ZM363.1 69.6H373.2V79.8H363.1ZM166.8 79.5H177.0V89.8H166.8ZM363.1 79.5H373.2V89.8H363.1ZM363.1 89.5H373.2V99.7H363.1ZM363.1 99.4H373.2V109.7H363.1ZM343.5 109.4H363.4V119.6H343.5Z"/>
<path fill="rgb(167,167,167)" d="M186.5 -30.0H226.0V10.2H186.5ZM402.4 -30.0H442.5V10.2H402.4ZM147.2 9.9H157.3V20.2H147.2ZM186.5 9.9H226.0V20.2H186.5ZM343.5 9.9H353.6V20.2H343.5ZM382.8 9.9H392.9V20.2H382.8ZM186.5 19.9H226.0V30.1H186.5ZM157.0 29.8H167.1V40.1H157.0ZM186.5 29.8H196.6V40.1H186.5ZM215.9 29.8H226.0V40.1H215.9ZM265.0 29.8H304.5V40.1H265.0ZM108.0 39.8H118.1V50.0H108.0ZM176.7 39.8H186.8V50.0H176.7ZM225.7 39.8H235.8V50.0H225.7ZM255.2 39.8H304.5V50.0H255.2ZM304.2 49.7H314.4V60.0H304.2ZM314.1 59.7H324.2V69.9H314.1ZM333.7 69.6H363.4V79.8H333.7ZM176.7 79.5H186.8V89.8H176.7ZM343.5 79.5H363.4V89.8H343.5ZM137.4 89.5H157.3V99.7H137.4ZM343.5 89.5H363.4V99.7H343.5ZM343.5 99.4H363.4V109.7H343.5ZM215.9 109.4H235.8V119.6H215.9ZM333.7 109.4H343.8V119.6H333.7ZM255.2 119.3H265.3V129.6H255.2ZM323.9 119.3H334.0V129.6H323.9ZM294.4 129.2H304.5V139.5H294.4ZM314.1 129.2H324.2V139.5H314.1ZM314.1 139.2H324.2V149.4H314.1Z"/>
<path fill="rgb(171,171,171)" d="M225.7 -30.0H235.8V10.2H225.7ZM333.7 -30.0H343.8V10.2H333.7ZM392.6 -30.0H402.7V10.2H392.6ZM225.7 9.9H235.8V20.2H225.7ZM323.9 9.9H334.0V20.2H323.9ZM147.2 19.9H157.3V30.1H147.2ZM225.7 19.9H235.8V30.1H225.7ZM265.0 19.9H294.7V30.1H265.0ZM304.2 19.9H314.4V30.1H304.2ZM196.3 29.8H216.2V40.1H196.3ZM225.7 29.8H235.8V40.1H225.7ZM255.2 29.8H265.3V40.1H255.2ZM186.5 39.8H196.6V50.0H186.5ZM215.9 39.8H226.0V50.0H215.9ZM235.5 39.8H255.5V50.0H235.5ZM166.8 49.7H186.8V60.0H166.8ZM284.6 49.7H304.5V60.0H284.6ZM323.9 69.6H334.0V79.8H323.9ZM157.0 79.5H167.1V89.8H157.0ZM333.7 79.5H343.8V89.8H333.7ZM186.5 89.5H196.6V99.7H186.5ZM333.7 89.5H343.8V99.7H333.7ZM333.7 99.4H343.8V109.7H333.7ZM206.1 109.4H216.2V119.6H206.1ZM235.5 109.4H245.7V119.6H235.5Z"/>
<path fill="rgb(175,175,175)" d="M343.5 -30.0H353.6V10.2H343.5ZM372.9 9.9H383.1V20.2H372.9ZM255.2 19.9H265.3V30.1H255.2ZM294.4 19.9H304.5V30.1H294.4ZM235.5 29.8H255.5V40.1H235.5ZM157.0 39.8H167.1V50.0H157.0ZM196.3 39.8H216.2V50.0H196.3ZM186.5 49.7H196.6V60.0H186.5ZM225.7 49.7H255.5V60.0H225.7ZM265.0 49.7H284.9V60.0H265.0ZM304.2 59.7H314.4V69.9H304.2ZM166.8 69.6H177.0V79.8H166.8ZM314.1 69.6H324.2V79.8H314.1ZM323.9 79.5H334.0V89.8H323.9ZM245.4 109.4H265.3V119.6H245.4ZM323.9 109.4H334.0V119.6H323.9ZM265.0 119.3H275.1V129.6H265.0ZM314.1 119.3H324.2V129.6H314.1ZM304.2 129.2H314.4V139.5H304.2Z"/>
<path fill="rgb(179,179,179)" d="M235.5 -30.0H245.7V10.2H235.5ZM323.9 -30.0H334.0V10.2H323.9ZM382.8 -30.0H392.9V10.2H382.8ZM235.5 9.9H245.7V20.2H235.5ZM255.2 9.9H284.9V20.2H255.2ZM314.1 9.9H324.2V20.2H314.1ZM353.3 9.9H363.4V20.2H353.3ZM235.5 19.9H255.5V30.1H235.5ZM215.9 49.7H226.0V60.0H215.9ZM255.2 49.7H265.3V60.0H255.2ZM127.6 59.7H137.7V69.9H127.6ZM166.8 59.7H186.8V69.9H166.8ZM284.6 59.7H304.5V69.9H284.6ZM176.7 69.6H186.8V79.8H176.7ZM304.2 69.6H314.4V79.8H304.2ZM314.1 79.5H324.2V89.8H314.1ZM323.9 89.5H334.0V99.7H323.9ZM196.3 99.4H206.4V109.7H196.3ZM323.9 99.4H334.0V109.7H323.9ZM265.0 109.4H275.1V119.6H265.0ZM314.1 109.4H324.2V119.6H314.1ZM274.8 119.3H284.9V129.6H274.8ZM304.2 119.3H314.4V129.6H304.2Z"/>
<path fill="rgb(183,183,183)" d="M137.4 -30.0H147.5V10.2H137.4ZM245.4 -30.0H284.9V10.2H245.4ZM245.4 9.9H255.5V20.2H245.4ZM284.6 9.9H294.7V20.2H284.6ZM363.1 9.9H373.2V20.2H363.1ZM147.2 29.8H157.3V40.1H147.2ZM157.0 49.7H167.1V60.0H157.0ZM196.3 49.7H216.2V60.0H196.3ZM186.5 59.7H196.6V69.9H186.5ZM274.8 59.7H284.9V69.9H274.8ZM157.0 69.6H167.1V79.8H157.0ZM186.5 69.6H196.6V79.8H186.5ZM294.4 69.6H304.5V79.8H294.4ZM186.5 79.5H196.6V89.8H186.5ZM304.2 79.5H314.4V89.8H304.2ZM304.2 89.5H324.2V99.7H304.2ZM294.4 99.4H324.2V109.7H294.4ZM274.8 109.4H314.4V119.6H274.8ZM284.6 119.3H304.5V129.6H284.6Z"/>
<path fill="rgb(187,187,187)" d="M284.6 -30.0H294.7V10.2H284.6ZM314.1 -30.0H324.2V10.2H314.1ZM372.9 -30.0H383.1V10.2H372.9ZM137.4 9.9H147.5V20.2H137.4ZM294.4 9.9H314.4V20.2H294.4ZM117.8 49.7H127.9V60.0H117.8ZM284.6 69.6H294.7V79.8H284.6ZM137.4 79.5H147.5V89.8H137.4ZM294.4 79.5H304.5V89.8H294.4ZM294.4 89.5H304.5V99.7H294.4ZM215.9 99.4H294.7V109.7H215.9Z"/>
<path fill="rgb(191,191,191)" d="M353.3 -30.0H363.4V10.2H353.3ZM137.4 19.9H147.5V30.1H137.4ZM157.0 59.7H167.1V69.9H157.0ZM196.3 59.7H206.4V69.9H196.3ZM215.9 59.7H245.7V69.9H215.9ZM274.8 69.6H284.9V79.8H274.8ZM147.2 79.5H157.3V89.8H147.2ZM284.6 79.5H294.7V89.8H284.6ZM284.6 89.5H294.7V99.7H284.6ZM206.1 99.4H216.2V109.7H206.1Z"/>
<path fill="rgb(195,195,195)" d="M294.4 -30.0H314.4V10.2H294.4ZM363.1 -30.0H373.2V10.2H363.1ZM206.1 59.7H216.2V69.9H206.1ZM245.4 59.7H255.5V69.9H245.4ZM137.4 69.6H147.5V79.8H137.4ZM196.3 89.5H206.4V99.7H196.3ZM225.7 89.5H284.9V99.7H225.7Z"/>
<path fill="rgb(199,199,199)" d="M117.8 -30.0H127.9V10.2H117.8ZM117.8 9.9H127.9V20.2H117.8ZM117.8 39.8H127.9V50.0H117.8ZM255.2 59.7H275.1V69.9H255.2ZM196.3 69.6H206.4V79.8H196.3ZM215.9 69.6H245.7V79.8H215.9ZM196.3 79.5H206.4V89.8H196.3ZM225.7 79.5H255.5V89.8H225.7ZM265.0 79.5H284.9V89.8H265.0ZM215.9 89.5H226.0V99.7H215.9Z"/>
<path fill="rgb(203,203,203)" d="M137.4 29.8H147.5V40.1H137.4ZM147.2 69.6H157.3V79.8H147.2ZM206.1 69.6H216.2V79.8H206.1ZM245.4 69.6H255.5V79.8H245.4ZM215.9 79.5H226.0V89.8H215.9ZM255.2 79.5H265.3V89.8H255.2ZM206.1 89.5H216.2V99.7H206.1Z"/>
<path fill="rgb(207,207,207)" d="M117.8 19.9H127.9V30.1H117.8ZM117.8 29.8H127.9V40.1H117.8ZM147.2 39.8H157.3V50.0H147.2ZM127.6 49.7H137.7V60.0H127.6ZM137.4 59.7H157.3V69.9H137.4ZM255.2 69.6H275.1V79.8H255.2ZM206.1 79.5H216.2V89.8H206.1Z"/>
<path fill="rgb(215,215,215)" d="M127.6 -30.0H137.7V10.2H127.6ZM127.6 9.9H137.7V20.2H127.6ZM147.2 49.7H157.3V60.0H147.2Z"/>
<path fill="rgb(219,219,219)" d="M127.6 19.9H137.7V30.1H127.6ZM127.6 29.8H137.7V40.1H127.6ZM127.6 39.8H147.5V50.0H127.6ZM137.4 49.7H147.5V60.0H137.4Z"/>
</g>
<path d="M76.2 0.0 L71.4 60.9 L70.0 92.8 M0.0 54.2 L71.4 60.9 M70.0 92.8 L118.9 96.1 L158.4 97.2 L183.7 97.7 L214.0 97.5 L240.8 97.2 L289.5 96.4 M239.7 0.0 L240.2 33.2 L240.8 97.2 M240.2 33.2 L311.6 30.8 L371.4 27.2 L376.0 29.5 L380.0 32.3 L382.8 33.9 L385.1 33.7 L386.2 31.0 L387.5 30.3 L392.2 30.6 L396.0 29.8 L399.5 28.8 L401.5 29.5 L404.1 31.8 L408.0 32.6 L412.0 33.2 M118.9 96.1 L118.1 122.9 L116.5 160.0 L113.3 223.7 L111.7 258.5 M289.5 96.4 L291.1 128.4 L292.5 175.0 L294.3 224.8 M291.1 128.4 L351.1 125.6 L412.0 121.7 M0.0 216.2 L57.2 220.9 L113.3 223.7 L175.8 226.1 L214.0 226.5 L269.0 226.1 L294.3 224.8 L351.1 222.0 L412.0 218.2 M269.3 226.1 L269.6 241.6 L268.6 241.8 L268.6 258.5 M268.6 241.8 L347.2 239.1 L348.8 258.5" fill="none" stroke="#000" stroke-width="1.35" stroke-linejoin="round"/>
<path d="M0.0 99.0 C4.9 101.5 21.7 108.8 29.6 114.0 C37.5 119.2 42.5 124.3 47.4 130.0 C52.3 135.7 54.3 142.3 59.2 148.0 C64.1 153.7 70.6 159.1 77.0 164.0 C83.4 168.9 92.5 173.4 97.7 177.6 C102.9 181.8 105.6 184.5 108.0 189.4 C110.4 194.3 110.9 201.1 111.9 207.0 C112.9 212.9 111.9 218.1 114.0 225.0 C116.1 231.9 121.3 242.9 124.3 248.6 C127.2 254.3 130.5 257.3 131.7 259.0 M0.0 52.7 C4.9 53.5 20.7 55.7 29.6 57.7 C38.5 59.7 49.3 63.4 53.3 64.5 M88.8 105.0 C91.3 105.2 97.7 105.0 103.6 106.5 C109.5 108.0 117.4 111.5 124.3 114.0 C131.2 116.5 139.1 118.1 145.0 121.3 C150.9 124.5 155.4 128.8 159.8 133.2 C164.2 137.6 169.1 142.6 171.6 148.0 C174.1 153.4 174.8 158.8 174.6 165.7 C174.4 172.6 170.7 182.5 170.2 189.4 C169.7 196.3 170.4 201.8 171.6 207.2 C172.8 212.6 174.1 217.1 177.6 222.0 C181.1 226.9 188.0 230.6 192.4 236.8 C196.8 243.0 202.2 255.3 204.2 259.0 M0.0 13.9 C3.7 15.5 14.1 20.7 22.2 23.7 C30.3 26.7 40.7 29.9 48.8 31.7 C56.9 33.5 65.3 32.5 71.0 34.6 C76.7 36.7 79.5 40.5 82.9 44.4 C86.4 48.2 87.3 55.2 91.7 57.7 C96.1 60.2 105.0 57.2 109.5 59.2 C114.0 61.2 115.0 65.3 118.4 69.5 C121.9 73.7 126.5 81.3 130.2 84.3 C133.9 87.3 136.1 87.5 140.6 87.3 C145.1 87.1 152.0 82.9 156.9 82.9 C161.8 82.9 166.5 84.3 170.2 87.3 C173.9 90.2 175.6 95.7 179.0 100.6 C182.4 105.5 188.2 112.0 190.9 116.9 C193.6 121.8 193.1 125.0 195.3 130.2 C197.5 135.4 199.3 140.6 204.2 148.0 C209.1 155.4 216.5 167.0 224.9 174.6 C233.3 182.2 242.7 187.4 254.5 193.8 C266.3 200.2 284.1 207.9 295.9 213.1 C307.7 218.3 315.6 220.5 325.5 224.9 C335.4 229.3 345.2 235.3 355.1 239.7 C365.0 244.0 375.2 248.4 384.7 251.0 C394.2 253.6 407.4 254.4 412.0 255.1 M75.5 0.0 C78.2 2.7 85.8 11.1 91.7 16.3 C97.6 21.5 105.8 25.7 111.0 31.1 C116.2 36.5 119.1 43.6 122.8 48.8 C126.5 54.0 130.0 59.5 133.2 62.1 C136.4 64.7 138.1 65.3 142.0 64.5 C145.9 63.7 152.7 58.0 156.9 57.1 C161.1 56.2 163.5 57.6 167.2 59.2 C170.9 60.8 175.1 62.6 179.0 66.6 C182.9 70.5 187.7 77.8 190.9 82.9 C194.1 88.0 196.3 92.4 198.3 97.0 C200.3 101.6 201.0 107.0 203.0 110.5 C205.0 114.0 206.6 117.6 210.2 117.9 C213.8 118.2 220.4 113.2 224.6 112.5 C228.8 111.8 230.8 112.4 235.3 113.4 C239.8 114.5 245.5 116.4 251.5 118.8 C257.5 121.2 265.0 125.2 271.3 127.8 C277.6 130.3 283.3 131.7 289.3 134.1 C295.3 136.5 301.3 139.0 307.3 142.2 C313.3 145.3 319.3 149.1 325.3 153.0 C331.3 156.9 336.9 161.5 343.3 165.6 C349.8 169.7 356.6 173.4 364.0 177.6 C371.4 181.8 379.7 187.0 387.7 190.9 C395.7 194.8 407.9 199.5 412.0 201.2 M109.5 0.0 C111.4 3.0 117.6 13.0 121.0 18.0 C124.4 23.0 127.5 27.5 130.0 30.0 C132.5 32.5 133.0 34.3 136.0 33.0 C139.0 31.7 144.5 24.0 148.0 22.0 C151.5 20.0 153.2 20.2 157.0 21.0 C160.8 21.8 165.9 24.2 170.6 27.0 C175.3 29.8 180.5 34.3 185.0 37.9 C189.5 41.5 194.0 44.8 197.6 48.7 C201.2 52.6 203.9 57.1 206.6 61.3 C209.3 65.5 210.8 70.8 213.8 73.8 C216.8 76.8 220.4 77.7 224.6 79.2 C228.8 80.7 233.8 81.3 238.9 82.8 C244.0 84.3 249.7 86.2 255.1 88.2 C260.5 90.2 264.4 92.1 271.3 94.5 C278.2 96.9 287.8 99.8 296.5 102.6 C305.2 105.4 314.5 108.6 323.5 111.6 C332.5 114.6 343.0 117.6 350.5 120.6 C358.0 123.6 363.9 127.3 368.4 129.6 C372.9 131.8 375.9 133.3 377.4 134.1 M404.4 153.0 L411.6 158.4 M174.2 0.0 C176.6 1.5 183.2 5.8 188.6 9.1 C194.0 12.4 200.6 16.0 206.6 19.9 C212.6 23.8 219.2 28.9 224.6 32.5 C230.0 36.1 234.7 38.2 238.9 41.5 C243.1 44.8 245.5 49.0 249.7 52.3 C253.9 55.6 258.7 58.8 264.1 61.3 C269.5 63.8 276.1 65.4 282.1 67.5 C288.1 69.6 293.8 71.5 300.1 73.8 C306.4 76.0 313.3 78.6 319.9 81.0 C326.5 83.4 332.8 85.8 339.7 88.2 C346.6 90.6 354.0 92.7 361.2 95.4 C368.4 98.1 376.2 101.7 382.8 104.4 C389.4 107.1 396.0 109.5 400.8 111.6 C405.6 113.7 409.8 116.1 411.6 117.0 M219.2 0.0 C221.3 1.5 227.9 6.2 231.8 9.1 C235.7 12.0 238.3 14.8 242.5 17.2 C246.7 19.6 252.1 21.6 256.9 23.5 C261.7 25.4 266.5 27.1 271.3 28.9 C276.1 30.7 280.9 32.3 285.7 34.3 C290.5 36.2 294.7 38.4 300.1 40.6 C305.5 42.9 312.1 45.5 318.1 47.8 C324.1 50.0 330.1 51.9 336.1 54.1 C342.1 56.4 348.1 58.8 354.1 61.3 C360.1 63.8 366.0 66.8 372.0 69.3 C378.0 71.8 383.4 74.2 390.0 76.5 C396.6 78.8 408.0 81.8 411.6 82.8 M258.7 0.0 C261.4 1.2 269.2 4.6 274.9 7.3 C280.6 10.0 286.9 13.6 292.9 16.3 C298.9 19.0 305.5 21.4 310.9 23.5 C316.3 25.6 319.9 26.8 325.3 28.9 C330.7 31.0 337.3 33.7 343.3 36.1 C349.3 38.5 355.2 40.6 361.2 43.3 C367.2 46.0 373.2 50.0 379.2 52.3 C385.2 54.5 391.8 55.8 397.2 56.8 C402.6 57.8 409.2 58.3 411.6 58.6 M319.9 0.0 C322.0 0.9 327.4 3.2 332.5 5.5 C337.6 7.8 345.1 11.5 350.5 13.6 C355.9 15.7 360.0 16.8 364.8 18.1 C369.6 19.5 374.4 20.6 379.2 21.7 C384.0 22.8 388.2 23.2 393.6 24.4 C399.0 25.6 408.6 28.1 411.6 28.9" fill="none" stroke="#000" stroke-width="2.5" stroke-linecap="round" stroke-linejoin="round"/>
<path d="M7.4 249.4 L-6.2 236.8 M-6.2 236.8 L-2.9 229.8 M33.4 251.6 L20.8 238.0 M20.8 238.0 L24.7 231.3 M59.4 253.5 L47.6 239.3 M47.6 239.3 L51.8 232.8 M85.5 255.1 L77.7 238.3 M77.7 238.3 L83.5 233.1 M111.7 256.4 L100.4 241.8 M100.4 241.8 L104.9 235.4 M137.9 257.5 L125.4 243.8 M125.4 243.8 L129.3 237.1 M127.0 245.5 L130.9 238.8 M128.5 247.2 L130.5 243.9 M164.1 258.2 L152.8 243.6 M152.8 243.6 L157.2 237.2 M154.2 245.4 L158.6 239.1 M155.6 247.2 L160.0 240.9 M190.4 258.6 L179.3 243.8 M179.3 243.8 L183.8 237.5 M180.7 245.7 L185.2 239.4 M182.1 247.5 L186.6 241.2 M216.6 258.7 L204.8 244.6 M204.8 244.6 L208.9 238.0 M206.2 246.3 L210.4 239.8 M242.9 258.6 L226.6 249.7 M226.6 249.7 L228.1 242.1 M228.7 250.8 L230.2 243.2 M269.1 258.1 L252.1 250.8 M252.1 250.8 L252.9 243.1 M254.3 251.7 L255.1 244.0 M295.4 257.3 L277.4 252.9 M277.4 252.9 L276.9 245.1 M279.6 253.4 L279.2 245.7 M321.6 256.2 L304.0 250.5 M304.0 250.5 L304.0 242.7 M306.2 251.2 L306.2 243.5 M308.4 251.9 L308.4 248.0 M347.7 254.8 L330.0 249.5 M330.0 249.5 L329.9 241.8 M332.2 250.2 L332.1 242.4 M334.4 250.8 L334.3 243.1 M373.8 253.1 L355.4 251.5 M355.4 251.5 L353.7 243.9 M357.7 251.7 L356.0 244.1 M360.0 251.9 L359.2 248.1 M399.8 251.2 L381.4 250.4 M381.4 250.4 L379.4 242.9 M383.7 250.5 L381.7 243.0 M386.0 250.6 L385.0 246.8 M425.8 248.9 L407.4 246.7 M407.4 246.7 L406.0 239.1 M409.7 247.0 L408.3 239.4 M412.0 247.2 L410.6 239.6 M10.3 217.4 L-3.2 204.7 M-3.2 204.7 L0.2 197.7 M35.9 219.5 L22.4 207.0 M22.4 207.0 L25.7 200.0 M61.6 221.4 L51.6 205.8 M51.6 205.8 L56.6 199.9 M87.4 223.0 L76.3 208.1 M76.3 208.1 L80.9 201.9 M113.1 224.3 L101.8 209.7 M101.8 209.7 L106.2 203.3 M103.2 211.5 L107.6 205.1 M139.0 225.3 L130.3 208.9 M130.3 208.9 L135.8 203.4 M131.4 211.0 L136.8 205.5 M132.5 213.0 L135.2 210.2 M164.8 226.0 L156.1 209.7 M156.1 209.7 L161.5 204.1 M157.2 211.7 L162.6 206.2 M158.3 213.7 L161.0 211.0 M190.7 226.4 L180.2 211.1 M180.2 211.1 L185.0 205.0 M181.5 213.1 L186.3 206.9 M216.6 226.5 L202.9 214.1 M202.9 214.1 L206.2 207.0 M204.6 215.6 L207.9 208.6 M242.5 226.3 L227.5 215.5 M227.5 215.5 L230.0 208.1 M229.4 216.8 L231.8 209.5 M268.3 225.9 L251.6 218.0 M251.6 218.0 L252.6 210.3 M253.7 219.0 L254.7 211.3 M255.8 220.0 L256.8 212.3 M294.2 225.1 L276.7 219.2 M276.7 219.2 L276.8 211.4 M278.9 219.9 L279.0 212.2 M281.0 220.7 L281.2 212.9 M320.0 224.0 L302.5 218.2 M302.5 218.2 L302.6 210.5 M304.6 218.9 L304.8 211.2 M306.8 219.7 L307.0 211.9 M345.8 222.7 L328.1 217.2 M328.1 217.2 L328.1 209.5 M330.3 217.9 L330.3 210.2 M332.5 218.6 L332.5 210.9 M371.5 221.0 L353.9 215.4 M353.9 215.4 L354.0 207.6 M356.1 216.1 L356.2 208.3 M358.3 216.8 L358.4 209.0 M397.2 219.1 L379.4 214.1 M379.4 214.1 L379.2 206.3 M381.6 214.7 L381.4 207.0 M383.8 215.3 L383.6 207.6 M422.8 216.9 L404.8 212.5 M404.8 212.5 L404.3 204.8 M407.0 213.1 L406.5 205.4 M409.3 213.6 L408.8 205.9 M13.3 185.4 L-0.2 172.7 M-0.2 172.7 L3.2 165.8 M38.5 187.5 L23.4 176.8 M23.4 176.8 L25.8 169.4 M63.8 189.3 L49.9 177.1 M49.9 177.1 L53.1 170.0 M89.2 190.8 L76.4 177.4 M76.4 177.4 L80.2 170.7 M78.0 179.1 L79.9 175.7 M114.6 192.1 L106.8 175.3 M106.8 175.3 L112.5 170.1 M107.8 177.4 L110.6 174.8 M140.1 193.0 L127.8 179.2 M127.8 179.2 L131.8 172.6 M165.5 193.7 L152.5 180.6 M152.5 180.6 L156.1 173.7 M191.0 194.1 L175.9 183.5 M175.9 183.5 L178.3 176.1 M177.8 184.8 L180.2 177.4 M179.7 186.1 L180.9 182.4 M216.6 194.2 L201.4 183.7 M201.4 183.7 L203.7 176.3 M242.1 194.1 L225.7 185.4 M225.7 185.4 L227.2 177.8 M267.6 193.6 L249.8 188.6 M249.8 188.6 L249.5 180.8 M252.0 189.2 L251.8 181.5 M293.0 192.9 L275.7 186.3 M275.7 186.3 L276.2 178.6 M277.9 187.1 L278.4 179.4 M280.1 187.9 L280.5 180.2 M318.5 191.8 L301.1 185.4 M301.1 185.4 L301.5 177.7 M303.3 186.2 L303.7 178.5 M305.5 187.0 L305.8 179.3 M343.9 190.5 L326.3 184.8 M326.3 184.8 L326.4 177.0 M328.5 185.5 L328.6 177.8 M330.7 186.2 L330.8 178.5 M369.2 188.9 L351.7 183.1 M351.7 183.1 L351.8 175.3 M353.9 183.8 L354.0 176.1 M356.1 184.5 L356.2 176.8 M394.5 187.1 L376.7 182.1 M376.7 182.1 L376.5 174.3 M378.9 182.7 L378.7 174.9 M381.2 183.3 L380.9 175.6 M383.4 184.0 L383.3 180.1 M419.7 184.9 L402.2 179.1 M402.2 179.1 L402.3 171.4 M404.4 179.8 L404.5 172.1 M406.6 180.6 L406.7 172.8 M408.8 181.3 L408.9 173.5 M16.3 153.4 L1.8 141.8 M1.8 141.8 L4.6 134.6 M41.1 155.4 L28.7 141.7 M28.7 141.7 L32.7 135.0 M66.1 157.2 L53.1 144.0 M53.1 144.0 L56.7 137.2 M54.7 145.6 L58.4 138.8 M91.0 158.7 L76.6 147.1 M76.6 147.1 L79.4 139.9 M78.4 148.6 L81.2 141.4 M116.1 159.9 L103.3 146.5 M103.3 146.5 L107.0 139.8 M104.9 148.2 L108.6 141.4 M141.2 160.8 L128.4 147.4 M128.4 147.4 L132.1 140.7 M130.0 149.1 L133.7 142.3 M166.3 161.5 L153.2 148.4 M153.2 148.4 L156.8 141.5 M191.4 161.9 L176.5 150.9 M176.5 150.9 L179.1 143.6 M216.5 162.0 L201.5 151.1 M201.5 151.1 L204.0 143.8 M241.6 161.8 L224.7 154.4 M224.7 154.4 L225.5 146.7 M266.8 161.4 L250.0 153.5 M250.0 153.5 L251.1 145.8 M291.9 160.7 L275.1 152.9 M275.1 152.9 L276.0 145.2 M277.2 153.9 L278.1 146.2 M279.3 154.9 L279.8 151.0 M316.9 159.7 L300.0 152.2 M300.0 152.2 L300.8 144.5 M302.1 153.2 L303.0 145.5 M304.2 154.1 L305.1 146.4 M306.3 155.0 L307.2 147.3 M342.0 158.4 L325.4 150.1 M325.4 150.1 L326.7 142.4 M327.5 151.1 L328.8 143.5 M329.6 152.2 L330.8 144.5 M331.6 153.2 L332.9 145.6 M366.9 156.9 L350.3 148.7 M350.3 148.7 L351.5 141.0 M352.4 149.7 L353.6 142.1 M354.5 150.7 L355.7 143.1 M356.6 151.8 L357.2 147.9 M391.9 155.0 L375.0 147.4 M375.0 147.4 L376.0 139.7 M377.1 148.3 L378.1 140.6 M379.2 149.3 L380.2 141.6 M381.3 150.3 L382.3 142.6 M383.4 151.2 L383.9 147.4 M416.7 153.0 L400.4 144.3 M400.4 144.3 L401.8 136.7 M402.4 145.4 L403.8 137.8 M404.5 146.5 L405.9 138.8 M406.5 147.5 L407.9 139.9 M408.5 148.6 L409.3 144.8 M19.2 121.4 L3.1 112.3 M3.1 112.3 L4.8 104.7 M5.1 113.4 L6.8 105.8 M43.7 123.4 L28.6 112.7 M28.6 112.7 L31.0 105.3 M30.5 114.0 L32.9 106.6 M32.4 115.3 L33.6 111.7 M68.3 125.1 L52.0 116.3 M52.0 116.3 L53.5 108.7 M54.0 117.4 L55.5 109.8 M56.1 118.5 L56.8 114.7 M92.9 126.5 L76.9 117.3 M76.9 117.3 L78.6 109.7 M78.9 118.4 L80.6 110.9 M80.9 119.6 L81.7 115.8 M117.6 127.7 L101.5 118.6 M101.5 118.6 L103.1 111.0 M103.5 119.7 L105.1 112.1 M105.5 120.8 L106.3 117.1 M142.2 128.6 L126.6 118.8 M126.6 118.8 L128.6 111.3 M128.5 120.0 L130.5 112.5 M130.5 121.2 L132.5 113.7 M167.0 129.3 L151.6 118.9 M151.6 118.9 L153.8 111.5 M153.5 120.2 L155.8 112.8 M191.7 129.6 L177.9 117.3 M177.9 117.3 L181.1 110.3 M179.7 118.9 L182.9 111.8 M181.4 120.4 L183.0 116.9 M216.5 129.7 L201.1 119.5 M201.1 119.5 L203.3 112.1 M203.0 120.8 L205.2 113.3 M204.9 122.1 L207.1 114.6 M206.9 123.3 L209.0 115.9 M208.8 124.6 L209.9 120.9 M241.2 129.6 L225.0 120.7 M225.0 120.7 L226.6 113.1 M227.0 121.8 L228.6 114.2 M229.1 122.9 L230.6 115.3 M231.1 124.0 L232.6 116.4 M233.1 125.1 L233.9 121.3 M266.0 129.2 L249.7 120.4 M255.8 123.7 L257.3 116.1 M290.7 128.5 L274.3 119.9 M280.4 123.1 L281.8 115.5 M315.4 127.5 L298.8 119.3 M305.0 122.4 L306.2 114.7 M340.0 126.3 L323.7 117.5 M329.8 120.8 L330.6 117.0 M364.6 124.8 L348.6 115.6 M354.6 119.1 L355.4 115.3 M389.2 123.0 L372.8 114.4 M413.7 121.0 L397.7 111.6 M-1.9 87.2 L-19.5 81.7 M-19.5 81.7 L-19.5 73.9 M-17.3 82.4 L-17.3 74.6 M-15.1 83.1 L-15.1 75.3 M22.2 89.4 L4.7 83.3 M4.7 83.3 L5.0 75.5 M6.9 84.0 L7.2 76.3 M9.1 84.8 L9.3 77.1 M46.3 91.3 L29.0 84.8 M29.0 84.8 L29.5 77.0 M31.2 85.6 L31.6 77.8 M33.3 86.4 L33.8 78.7 M70.5 93.0 L53.6 85.4 M53.6 85.4 L54.6 77.7 M55.7 86.3 L56.7 78.6 M57.8 87.3 L58.8 79.6 M94.7 94.4 L77.8 86.9 M77.8 86.9 L78.6 79.2 M79.9 87.9 L80.8 80.2 M82.0 88.8 L82.9 81.1 M84.1 89.7 L85.0 82.0 M119.0 95.5 L102.2 87.8 M102.2 87.8 L103.2 80.1 M104.3 88.8 L105.3 81.1 M106.4 89.7 L107.4 82.0 M108.5 90.7 L109.5 83.0 M143.3 96.4 L126.1 89.6 M132.6 92.1 L132.9 88.3 M167.7 97.0 L152.6 86.4 M152.6 86.4 L154.9 79.0 M154.4 87.7 L156.8 80.3 M156.3 89.1 L158.7 81.7 M158.2 90.4 L160.6 83.0 M160.1 91.7 L161.3 88.0 M192.1 97.4 L178.6 84.7 M183.7 89.5 L187.0 82.5 M216.4 97.5 L202.0 85.9 M207.4 90.3 L210.2 83.1 M209.2 91.7 L210.6 88.1 M240.8 97.3 L224.3 89.0 M230.5 92.1 L231.8 84.5 M232.6 93.2 L233.2 89.3 M265.2 96.9 L248.6 88.8 M254.8 91.8 L256.0 84.2 M256.9 92.8 L257.5 89.0 M289.5 96.2 L273.5 86.9 M279.5 90.4 L281.2 82.9 M281.5 91.6 L282.4 87.8 M313.8 95.3 L297.3 86.9 M303.5 90.1 L304.8 82.4 M338.1 94.1 L321.9 85.2 M328.0 88.6 L329.5 81.0 M362.4 92.7 L346.1 83.8 M352.2 87.1 L353.7 79.5 M386.5 91.0 L370.8 81.2 M410.7 89.0 L395.0 79.2 M1.4 55.3 L-16.9 53.2 M-16.9 53.2 L-18.4 45.6 M-14.6 53.4 L-16.1 45.8 M-12.4 53.7 L-13.8 46.1 M-10.1 54.0 L-11.5 46.4 M25.1 57.4 L7.0 53.6 M7.0 53.6 L6.3 45.9 M9.3 54.0 L8.6 46.3 M11.5 54.5 L10.8 46.8 M13.8 55.0 L13.1 47.3 M48.9 59.3 L30.8 55.2 M30.8 55.2 L30.2 47.5 M33.1 55.7 L32.4 48.0 M35.3 56.2 L34.7 48.5 M37.6 56.7 L36.9 49.0 M72.7 60.9 L55.6 53.8 M55.6 53.8 L56.3 46.1 M57.7 54.7 L58.4 46.9 M59.9 55.5 L60.6 47.8 M62.0 56.4 L62.7 48.7 M64.2 57.3 L64.5 53.5 M96.6 62.2 L80.6 52.9 M120.5 63.3 L104.4 54.2 M110.4 57.6 L111.3 53.8 M144.4 64.2 L127.4 57.0 M133.8 59.7 L134.5 52.0 M135.9 60.6 L136.7 52.9 M168.4 64.8 L152.4 55.5 M158.4 59.0 L160.1 51.4 M192.4 65.1 L178.0 53.6 M183.4 57.9 L186.2 50.7 M185.2 59.4 L186.6 55.7 M216.4 65.2 L202.4 53.2 M207.6 57.7 L210.7 50.6 M209.4 59.2 L210.9 55.7 M240.4 65.1 L225.3 54.4 M231.0 58.4 L233.4 51.0 M232.9 59.7 L234.1 56.1 M264.4 64.7 L248.5 55.2 M254.5 58.8 L256.2 51.2 M256.4 60.0 L258.2 52.4 M288.4 64.0 L271.7 56.0 M277.9 59.0 L279.0 51.4 M312.3 63.1 L295.8 54.7 M302.0 57.8 L303.3 50.2 M336.2 62.0 L319.7 53.5 M325.9 56.7 L326.6 52.9 M360.1 60.6 L344.4 50.7 M350.3 54.4 L351.2 50.7 M383.9 58.9 L368.3 49.0 M407.6 57.0 L391.7 47.6 M4.8 23.4 L-13.3 19.2 M28.1 25.4 L10.1 20.8 M51.5 27.2 L33.8 21.7 M74.9 28.7 L58.4 20.4 M58.4 20.4 L59.6 12.8 M60.5 21.5 L61.7 13.8 M62.5 22.5 L63.8 14.9 M64.6 23.6 L65.8 15.9 M66.6 24.6 L67.3 20.8 M98.4 30.1 L82.4 20.8 M122.0 31.1 L106.2 21.5 M112.1 25.1 L114.0 17.6 M114.1 26.3 L115.9 18.8 M145.5 32.0 L128.1 25.8 M134.6 28.1 L134.9 20.4 M136.8 28.9 L136.9 25.0 M169.1 32.6 L152.3 24.9 M158.6 27.8 L159.1 23.9 M192.7 32.9 L177.5 22.5 M183.2 26.4 L185.4 19.0 M216.4 33.0 L201.5 21.9 M207.1 26.1 L209.7 18.8 M240.0 32.9 L224.6 22.5 M230.4 26.4 L232.6 19.0 M263.6 32.5 L247.3 23.8 M253.4 27.0 L254.8 19.4 M287.2 31.8 L270.9 23.0 M277.0 26.3 L278.5 18.7 M310.8 30.9 L294.4 22.3 M300.5 25.5 L301.2 21.7 M334.3 29.8 L318.7 19.8 M357.8 28.5 L341.5 19.6 M381.2 26.8 L364.8 18.4 M404.6 25.0 L387.9 17.1 M387.9 17.1 L388.9 9.4 M389.9 18.1 L391.0 10.4 M392.0 19.1 L393.1 11.4 M394.1 20.1 L395.2 12.4 M396.2 21.1 L396.8 17.2 M427.9 22.9 L411.7 14.0 M123.4 -1.1 L107.9 -11.1 M113.7 -7.3 L115.8 -14.8 M115.7 -6.1 L117.7 -13.6 M146.6 -0.2 L129.6 -7.4 M136.0 -4.7 L136.7 -12.4 M169.8 0.3 L153.5 -8.3 M159.6 -5.1 L160.3 -8.9 M193.1 0.7 L177.5 -9.4 M183.4 -5.6 L185.4 -13.1 M216.3 0.7 L201.1 -9.7 M206.8 -5.8 L209.0 -13.2 M239.6 0.6 L223.7 -8.9 M229.6 -5.3 L231.4 -12.8 M262.8 0.2 L246.9 -9.2 M252.8 -5.7 L254.6 -13.2 M286.0 -0.4 L270.1 -9.8 M276.1 -6.3 L277.9 -13.8 M278.1 -5.1 L279.0 -8.9 M309.2 -1.2 L293.0 -10.1 M299.1 -6.8 L300.6 -14.4 M301.1 -5.7 L301.9 -9.5" fill="none" stroke="#000" stroke-width="1.3"/>
<path d="M249.7 120.4 L255.2 115.0 L253.8 122.6 Z M274.3 119.9 L279.8 114.4 L278.4 122.0 Z M298.8 119.3 L304.1 113.7 L302.9 121.3 Z M323.7 117.5 L329.3 112.1 L327.8 119.7 Z M348.6 115.6 L354.2 110.3 L352.6 117.9 Z M372.8 114.4 L378.3 108.9 L376.9 116.6 Z M397.7 111.6 L403.4 106.4 L401.7 114.0 Z M126.1 89.6 L131.0 83.5 L130.4 91.3 Z M178.6 84.7 L185.4 80.9 L182.0 87.9 Z M202.0 85.9 L208.4 81.6 L205.6 88.8 Z M224.3 89.0 L229.7 83.4 L228.4 91.1 Z M248.6 88.8 L253.9 83.1 L252.7 90.8 Z M273.5 86.9 L279.2 81.7 L277.5 89.3 Z M297.3 86.9 L302.7 81.4 L301.5 89.0 Z M321.9 85.2 L327.5 79.8 L326.0 87.4 Z M346.1 83.8 L351.7 78.4 L350.2 86.0 Z M370.8 81.2 L376.7 76.1 L374.7 83.7 Z M395.0 79.2 L400.8 74.1 L398.9 81.7 Z M80.6 52.9 L86.3 47.6 L84.6 55.2 Z M104.4 54.2 L110.1 48.9 L108.4 56.5 Z M127.4 57.0 L132.4 51.1 L131.7 58.8 Z M152.4 55.5 L158.1 50.3 L156.4 57.8 Z M178.0 53.6 L184.4 49.2 L181.6 56.5 Z M202.4 53.2 L208.9 49.1 L205.9 56.2 Z M225.3 54.4 L231.5 49.7 L229.1 57.1 Z M248.5 55.2 L254.3 50.1 L252.5 57.6 Z M271.7 56.0 L277.0 50.4 L275.8 58.0 Z M295.8 54.7 L301.3 49.1 L300.0 56.8 Z M319.7 53.5 L325.2 48.0 L323.9 55.6 Z M344.4 50.7 L350.3 45.7 L348.3 53.2 Z M368.3 49.0 L374.2 44.0 L372.2 51.5 Z M391.7 47.6 L397.4 42.4 L395.7 50.0 Z M-13.3 19.2 L-9.4 12.5 L-8.8 20.2 Z M10.1 20.8 L14.2 14.2 L14.6 22.0 Z M33.8 21.7 L38.2 15.3 L38.2 23.1 Z M82.4 20.8 L88.1 15.5 L86.4 23.1 Z M106.2 21.5 L112.0 16.4 L110.1 23.9 Z M128.1 25.8 L132.7 19.6 L132.4 27.4 Z M152.3 24.9 L157.5 19.1 L156.5 26.8 Z M177.5 22.5 L183.5 17.7 L181.3 25.1 Z M201.5 21.9 L207.8 17.4 L205.2 24.7 Z M224.6 22.5 L230.7 17.7 L228.5 25.1 Z M247.3 23.8 L252.8 18.3 L251.3 25.9 Z M270.9 23.0 L276.5 17.6 L275.0 25.2 Z M294.4 22.3 L299.9 16.8 L298.5 24.5 Z M318.7 19.8 L324.6 14.9 L322.6 22.3 Z M341.5 19.6 L347.1 14.2 L345.6 21.8 Z M364.8 18.4 L370.2 12.9 L368.9 20.5 Z M411.7 14.0 L417.3 8.6 L415.8 16.2 Z M107.9 -11.1 L113.9 -16.1 L111.8 -8.6 Z M129.6 -7.4 L134.6 -13.3 L133.8 -5.6 Z M153.5 -8.3 L159.0 -13.8 L157.6 -6.2 Z M177.5 -9.4 L183.5 -14.4 L181.4 -6.9 Z M201.1 -9.7 L207.1 -14.5 L204.9 -7.1 Z M223.7 -8.9 L229.4 -14.0 L227.6 -6.5 Z M246.9 -9.2 L252.6 -14.4 L250.9 -6.8 Z M270.1 -9.8 L275.9 -15.0 L274.1 -7.5 Z M293.0 -10.1 L298.6 -15.5 L297.0 -7.9 Z" fill="#000" stroke="#000" stroke-width="1.3" stroke-linejoin="miter"/>
<text x="75.5" y="81.4" transform="rotate(50.0 75.5 81.4)" class="cl" dy="4.9" textLength="34.8" lengthAdjust="spacingAndGlyphs">3120</text>
<text x="389.1" y="142.2" transform="rotate(30.0 389.1 142.2)" class="cl" dy="4.9" textLength="34.8" lengthAdjust="spacingAndGlyphs">3030</text>
<path d="M212.5 111.4 h5.4 M215.2 108.7 v5.4" stroke="#2a0a0a" stroke-width="1.7" fill="none"/>
</g>
<rect x="0" y="0" width="412.2" height="258.5" fill="none" stroke="#000" stroke-width="1.07"/>
</g>
</g></svg>
<svg class="pan" style="left:489.1px;top:80.9px" width="414.2" height="260.5" viewBox="0 0 414.2 260.5">
<g transform="translate(1,1)">
<g id="pc1">
<clipPath id="cp1"><rect x="0" y="0" width="412.2" height="258.5"/></clipPath>
<g clip-path="url(#cp1)">
<g filter="url(#fld)">
<path fill="rgb(16,16,16)" d="M157.0 159.1H177.0V169.3H157.0ZM157.0 169.0H177.0V179.3H157.0ZM245.4 169.0H255.5V179.3H245.4ZM137.4 198.8H157.3V209.1H137.4Z"/>
<path fill="rgb(20,20,20)" d="M166.8 149.1H177.0V159.4H166.8ZM176.7 159.1H186.8V169.3H176.7ZM147.2 169.0H157.3V179.3H147.2ZM157.0 179.0H167.1V189.2H157.0ZM137.4 188.9H157.3V199.1H137.4ZM127.6 198.8H137.7V209.1H127.6ZM157.0 198.8H167.1V209.1H157.0Z"/>
<path fill="rgb(24,24,24)" d="M-30.0 129.2H29.7V139.5H-30.0ZM-30.0 139.2H39.6V149.4H-30.0ZM-30.0 149.1H49.4V159.4H-30.0ZM157.0 149.1H167.1V159.4H157.0ZM176.7 149.1H186.8V159.4H176.7ZM-30.0 159.1H59.2V169.3H-30.0ZM147.2 159.1H157.3V169.3H147.2ZM235.5 159.1H255.5V169.3H235.5ZM-30.0 169.0H69.0V179.3H-30.0ZM176.7 169.0H186.8V179.3H176.7ZM235.5 169.0H245.7V179.3H235.5ZM255.2 169.0H265.3V179.3H255.2ZM-30.0 179.0H69.0V189.2H-30.0ZM137.4 179.0H157.3V189.2H137.4ZM166.8 179.0H177.0V189.2H166.8ZM255.2 179.0H265.3V189.2H255.2ZM-30.0 188.9H69.0V199.1H-30.0ZM127.6 188.9H137.7V199.1H127.6ZM157.0 188.9H167.1V199.1H157.0ZM-30.0 198.8H78.8V209.1H-30.0ZM117.8 198.8H127.9V209.1H117.8ZM166.8 198.8H177.0V209.1H166.8ZM-30.0 208.8H118.1V219.0H-30.0ZM137.4 208.8H157.3V219.0H137.4ZM-30.0 218.7H108.3V229.0H-30.0ZM-30.0 228.7H108.3V238.9H-30.0ZM-30.0 238.6H108.3V248.9H-30.0ZM-30.0 248.6H108.3V288.8H-30.0Z"/>
<path fill="rgb(28,28,28)" d="M-30.0 119.3H19.9V129.6H-30.0ZM29.4 129.2H39.6V139.5H29.4ZM39.3 139.2H49.4V149.4H39.3ZM176.7 139.2H186.8V149.4H176.7ZM49.1 149.1H59.2V159.4H49.1ZM58.9 159.1H69.0V169.3H58.9ZM68.7 169.0H78.8V179.3H68.7ZM137.4 169.0H147.5V179.3H137.4ZM68.7 179.0H78.8V189.2H68.7ZM127.6 179.0H137.7V189.2H127.6ZM265.0 179.0H275.1V189.2H265.0ZM68.7 188.9H78.8V199.1H68.7ZM117.8 188.9H127.9V199.1H117.8ZM166.8 188.9H177.0V199.1H166.8ZM78.5 198.8H118.1V209.1H78.5ZM176.7 198.8H186.8V209.1H176.7ZM127.6 208.8H137.7V219.0H127.6ZM108.0 238.6H118.1V248.9H108.0ZM108.0 248.6H118.1V288.8H108.0Z"/>
<path fill="rgb(32,32,32)" d="M19.6 119.3H29.7V129.6H19.6ZM39.3 129.2H49.4V139.5H39.3ZM49.1 139.2H59.2V149.4H49.1ZM166.8 139.2H177.0V149.4H166.8ZM58.9 149.1H98.4V159.4H58.9ZM147.2 149.1H157.3V159.4H147.2ZM68.7 159.1H88.6V169.3H68.7ZM137.4 159.1H147.5V169.3H137.4ZM255.2 159.1H265.3V169.3H255.2ZM127.6 169.0H137.7V179.3H127.6ZM265.0 169.0H275.1V179.3H265.0ZM117.8 179.0H127.9V189.2H117.8ZM176.7 179.0H186.8V189.2H176.7ZM245.4 179.0H255.5V189.2H245.4ZM78.5 188.9H88.6V199.1H78.5ZM108.0 188.9H118.1V199.1H108.0ZM176.7 188.9H186.8V199.1H176.7ZM265.0 188.9H275.1V199.1H265.0ZM117.8 208.8H127.9V219.0H117.8ZM157.0 208.8H167.1V219.0H157.0ZM176.7 208.8H186.8V219.0H176.7ZM108.0 218.7H118.1V229.0H108.0ZM108.0 228.7H118.1V238.9H108.0Z"/>
<path fill="rgb(36,36,36)" d="M-30.0 109.4H10.1V119.6H-30.0ZM58.9 109.4H78.8V119.6H58.9ZM29.4 119.3H39.6V129.6H29.4ZM78.5 139.2H98.4V149.4H78.5ZM157.0 139.2H167.1V149.4H157.0ZM137.4 149.1H147.5V159.4H137.4ZM186.5 149.1H196.6V159.4H186.5ZM127.6 159.1H137.7V169.3H127.6ZM186.5 159.1H196.6V169.3H186.5ZM78.5 169.0H88.6V179.3H78.5ZM225.7 169.0H235.8V179.3H225.7ZM78.5 179.0H88.6V189.2H78.5ZM235.5 179.0H245.7V189.2H235.5ZM88.3 188.9H108.3V199.1H88.3ZM255.2 188.9H265.3V199.1H255.2ZM166.8 208.8H177.0V219.0H166.8ZM117.8 248.6H127.9V288.8H117.8Z"/>
<path fill="rgb(40,40,40)" d="M9.8 109.4H19.9V119.6H9.8ZM78.5 109.4H88.6V119.6H78.5ZM39.3 119.3H49.4V129.6H39.3ZM49.1 129.2H59.2V139.5H49.1ZM176.7 129.2H186.8V139.5H176.7ZM58.9 139.2H78.8V149.4H58.9ZM98.1 139.2H108.3V149.4H98.1ZM147.2 139.2H157.3V149.4H147.2ZM186.5 139.2H196.6V149.4H186.5ZM98.1 149.1H108.3V159.4H98.1ZM117.8 149.1H137.7V159.4H117.8ZM88.3 159.1H98.4V169.3H88.3ZM225.7 159.1H235.8V169.3H225.7ZM265.0 159.1H275.1V169.3H265.0ZM117.8 169.0H127.9V179.3H117.8ZM186.5 169.0H196.6V179.3H186.5ZM88.3 179.0H98.4V189.2H88.3ZM108.0 179.0H118.1V189.2H108.0ZM274.8 179.0H284.9V189.2H274.8ZM274.8 188.9H284.9V199.1H274.8ZM186.5 198.8H196.6V209.1H186.5ZM274.8 198.8H284.9V209.1H274.8ZM186.5 208.8H196.6V219.0H186.5ZM117.8 218.7H127.9V229.0H117.8ZM117.8 238.6H127.9V248.9H117.8ZM225.7 248.6H245.7V288.8H225.7Z"/>
<path fill="rgb(44,44,44)" d="M58.9 99.4H78.8V109.7H58.9ZM19.6 109.4H29.7V119.6H19.6ZM49.1 119.3H59.2V129.6H49.1ZM166.8 129.2H177.0V139.5H166.8ZM108.0 139.2H147.5V149.4H108.0ZM108.0 149.1H118.1V159.4H108.0ZM117.8 159.1H127.9V169.3H117.8ZM88.3 169.0H98.4V179.3H88.3ZM274.8 169.0H284.9V179.3H274.8ZM98.1 179.0H108.3V189.2H98.1ZM245.4 188.9H255.5V199.1H245.4ZM284.6 188.9H294.7V199.1H284.6ZM284.6 198.8H294.7V209.1H284.6ZM137.4 218.7H147.5V229.0H137.4ZM117.8 228.7H127.9V238.9H117.8ZM225.7 238.6H245.7V248.9H225.7ZM215.9 248.6H226.0V288.8H215.9ZM245.4 248.6H255.5V288.8H245.4Z"/>
<path fill="rgb(48,48,48)" d="M-30.0 99.4H19.9V109.7H-30.0ZM29.4 109.4H39.6V119.6H29.4ZM49.1 109.4H59.2V119.6H49.1ZM88.3 109.4H98.4V119.6H88.3ZM58.9 119.3H78.8V129.6H58.9ZM58.9 129.2H69.0V139.5H58.9ZM78.5 129.2H98.4V139.5H78.5ZM157.0 129.2H167.1V139.5H157.0ZM186.5 129.2H196.6V139.5H186.5ZM225.7 149.1H255.5V159.4H225.7ZM98.1 159.1H118.1V169.3H98.1ZM98.1 169.0H118.1V179.3H98.1ZM186.5 179.0H196.6V189.2H186.5ZM225.7 179.0H235.8V189.2H225.7ZM284.6 179.0H294.7V189.2H284.6ZM186.5 188.9H196.6V199.1H186.5ZM265.0 198.8H275.1V209.1H265.0ZM274.8 208.8H284.9V219.0H274.8ZM127.6 218.7H137.7V229.0H127.6ZM147.2 218.7H157.3V229.0H147.2ZM127.6 238.6H137.7V248.9H127.6ZM215.9 238.6H226.0V248.9H215.9ZM245.4 238.6H255.5V248.9H245.4ZM127.6 248.6H137.7V288.8H127.6Z"/>
<path fill="rgb(52,52,52)" d="M78.5 99.4H88.6V109.7H78.5ZM39.3 109.4H49.4V119.6H39.3ZM98.1 109.4H108.3V119.6H98.1ZM78.5 119.3H98.4V129.6H78.5ZM68.7 129.2H78.8V139.5H68.7ZM98.1 129.2H157.3V139.5H98.1ZM215.9 159.1H226.0V169.3H215.9ZM215.9 169.0H226.0V179.3H215.9ZM235.5 188.9H245.7V199.1H235.5ZM294.4 188.9H304.5V199.1H294.4ZM255.2 198.8H265.3V209.1H255.2ZM294.4 198.8H304.5V209.1H294.4ZM284.6 208.8H294.7V219.0H284.6ZM176.7 218.7H196.6V229.0H176.7ZM215.9 228.7H255.5V238.9H215.9ZM206.1 238.6H216.2V248.9H206.1ZM255.2 238.6H265.3V248.9H255.2ZM206.1 248.6H216.2V288.8H206.1ZM255.2 248.6H265.3V288.8H255.2Z"/>
<path fill="rgb(56,56,56)" d="M19.6 89.5H29.7V99.7H19.6ZM19.6 99.4H39.6V109.7H19.6ZM49.1 99.4H59.2V109.7H49.1ZM98.1 119.3H118.1V129.6H98.1ZM166.8 119.3H186.8V129.6H166.8ZM225.7 139.2H235.8V149.4H225.7ZM215.9 149.1H226.0V159.4H215.9ZM255.2 149.1H265.3V159.4H255.2ZM274.8 159.1H284.9V169.3H274.8ZM284.6 169.0H294.7V179.3H284.6ZM294.4 179.0H304.5V189.2H294.4ZM225.7 188.9H235.8V199.1H225.7ZM265.0 208.8H275.1V219.0H265.0ZM294.4 208.8H304.5V219.0H294.4ZM157.0 218.7H177.0V229.0H157.0ZM196.3 218.7H206.4V229.0H196.3ZM255.2 218.7H275.1V229.0H255.2ZM127.6 228.7H147.5V238.9H127.6ZM196.3 228.7H216.2V238.9H196.3ZM255.2 228.7H265.3V238.9H255.2ZM353.3 228.7H442.5V238.9H353.3ZM363.1 238.6H442.5V248.9H363.1ZM363.1 248.6H442.5V288.8H363.1Z"/>
<path fill="rgb(60,60,60)" d="M29.4 89.5H39.6V99.7H29.4ZM39.3 99.4H49.4V109.7H39.3ZM88.3 99.4H98.4V109.7H88.3ZM108.0 109.4H118.1V119.6H108.0ZM117.8 119.3H167.1V129.6H117.8ZM225.7 129.2H235.8V139.5H225.7ZM215.9 139.2H226.0V149.4H215.9ZM235.5 139.2H245.7V149.4H235.5ZM196.3 149.1H206.4V159.4H196.3ZM196.3 159.1H206.4V169.3H196.3ZM215.9 179.0H226.0V189.2H215.9ZM304.2 188.9H314.4V199.1H304.2ZM245.4 198.8H255.5V209.1H245.4ZM304.2 198.8H314.4V209.1H304.2ZM196.3 208.8H206.4V219.0H196.3ZM255.2 208.8H265.3V219.0H255.2ZM206.1 218.7H255.5V229.0H206.1ZM343.5 218.7H442.5V229.0H343.5ZM186.5 228.7H196.6V238.9H186.5ZM265.0 228.7H275.1V238.9H265.0ZM343.5 228.7H353.6V238.9H343.5ZM196.3 238.6H206.4V248.9H196.3ZM265.0 238.6H275.1V248.9H265.0ZM353.3 238.6H363.4V248.9H353.3ZM196.3 248.6H206.4V288.8H196.3ZM265.0 248.6H275.1V288.8H265.0ZM353.3 248.6H363.4V288.8H353.3Z"/>
<path fill="rgb(64,64,64)" d="M19.6 79.5H39.6V89.8H19.6ZM-30.0 89.5H19.9V99.7H-30.0ZM39.3 89.5H49.4V99.7H39.3ZM98.1 99.4H108.3V109.7H98.1ZM117.8 109.4H127.9V119.6H117.8ZM186.5 119.3H196.6V129.6H186.5ZM215.9 129.2H226.0V139.5H215.9ZM235.5 129.2H245.7V139.5H235.5ZM196.3 139.2H206.4V149.4H196.3ZM245.4 139.2H255.5V149.4H245.4ZM265.0 149.1H284.9V159.4H265.0ZM206.1 159.1H216.2V169.3H206.1ZM284.6 159.1H294.7V169.3H284.6ZM196.3 169.0H206.4V179.3H196.3ZM294.4 169.0H304.5V179.3H294.4ZM304.2 179.0H314.4V189.2H304.2ZM215.9 188.9H226.0V199.1H215.9ZM196.3 198.8H206.4V209.1H196.3ZM235.5 198.8H245.7V209.1H235.5ZM245.4 208.8H255.5V219.0H245.4ZM304.2 208.8H314.4V219.0H304.2ZM274.8 218.7H294.7V229.0H274.8ZM333.7 218.7H343.8V229.0H333.7ZM147.2 228.7H157.3V238.9H147.2ZM176.7 228.7H186.8V238.9H176.7ZM333.7 228.7H343.8V238.9H333.7ZM137.4 238.6H147.5V248.9H137.4ZM186.5 238.6H196.6V248.9H186.5ZM343.5 238.6H353.6V248.9H343.5ZM137.4 248.6H147.5V288.8H137.4Z"/>
<path fill="rgb(68,68,68)" d="M19.6 69.6H29.7V79.8H19.6ZM9.8 79.5H19.9V89.8H9.8ZM49.1 89.5H59.2V99.7H49.1ZM127.6 109.4H167.1V119.6H127.6ZM206.1 149.1H216.2V159.4H206.1ZM284.6 149.1H294.7V159.4H284.6ZM294.4 159.1H304.5V169.3H294.4ZM206.1 169.0H216.2V179.3H206.1ZM304.2 169.0H314.4V179.3H304.2ZM314.1 179.0H324.2V189.2H314.1ZM314.1 188.9H324.2V199.1H314.1ZM225.7 198.8H235.8V209.1H225.7ZM314.1 198.8H324.2V209.1H314.1ZM206.1 208.8H245.7V219.0H206.1ZM314.1 208.8H324.2V219.0H314.1ZM333.7 208.8H442.5V219.0H333.7ZM294.4 218.7H314.4V229.0H294.4ZM323.9 218.7H334.0V229.0H323.9ZM157.0 228.7H177.0V238.9H157.0ZM274.8 228.7H284.9V238.9H274.8ZM323.9 228.7H334.0V238.9H323.9ZM147.2 238.6H157.3V248.9H147.2ZM176.7 238.6H186.8V248.9H176.7ZM274.8 238.6H284.9V248.9H274.8ZM333.7 238.6H343.8V248.9H333.7ZM186.5 248.6H196.6V288.8H186.5ZM274.8 248.6H284.9V288.8H274.8ZM343.5 248.6H353.6V288.8H343.5Z"/>
<path fill="rgb(72,72,72)" d="M-30.0 69.6H19.9V79.8H-30.0ZM29.4 69.6H39.6V79.8H29.4ZM-30.0 79.5H10.1V89.8H-30.0ZM39.3 79.5H49.4V89.8H39.3ZM58.9 89.5H69.0V99.7H58.9ZM108.0 99.4H118.1V109.7H108.0ZM166.8 109.4H186.8V119.6H166.8ZM196.3 129.2H206.4V139.5H196.3ZM206.1 139.2H216.2V149.4H206.1ZM294.4 149.1H304.5V159.4H294.4ZM304.2 159.1H314.4V169.3H304.2ZM314.1 169.0H324.2V179.3H314.1ZM196.3 179.0H206.4V189.2H196.3ZM196.3 188.9H206.4V199.1H196.3ZM206.1 198.8H226.0V209.1H206.1ZM323.9 198.8H334.0V209.1H323.9ZM323.9 208.8H334.0V219.0H323.9ZM314.1 218.7H324.2V229.0H314.1ZM284.6 228.7H324.2V238.9H284.6ZM157.0 238.6H177.0V248.9H157.0ZM284.6 238.6H334.0V248.9H284.6ZM147.2 248.6H186.8V288.8H147.2ZM284.6 248.6H343.8V288.8H284.6Z"/>
<path fill="rgb(76,76,76)" d="M68.7 89.5H78.8V99.7H68.7ZM206.1 129.2H216.2V139.5H206.1ZM304.2 149.1H314.4V159.4H304.2ZM314.1 159.1H324.2V169.3H314.1ZM323.9 169.0H334.0V179.3H323.9ZM206.1 179.0H216.2V189.2H206.1ZM323.9 179.0H334.0V189.2H323.9ZM323.9 188.9H334.0V199.1H323.9ZM333.7 198.8H373.2V209.1H333.7Z"/>
<path fill="rgb(80,80,80)" d="M-30.0 59.7H29.7V69.9H-30.0ZM39.3 69.6H49.4V79.8H39.3ZM49.1 79.5H59.2V89.8H49.1ZM117.8 99.4H127.9V109.7H117.8ZM245.4 129.2H255.5V139.5H245.4ZM255.2 139.2H265.3V149.4H255.2ZM314.1 149.1H324.2V159.4H314.1ZM323.9 159.1H334.0V169.3H323.9ZM206.1 188.9H216.2V199.1H206.1ZM333.7 188.9H343.8V199.1H333.7ZM372.9 198.8H442.5V209.1H372.9Z"/>
<path fill="rgb(84,84,84)" d="M29.4 59.7H39.6V69.9H29.4ZM49.1 69.6H59.2V79.8H49.1ZM58.9 79.5H69.0V89.8H58.9ZM78.5 89.5H88.6V99.7H78.5ZM127.6 99.4H167.1V109.7H127.6ZM215.9 119.3H235.8V129.6H215.9ZM265.0 139.2H275.1V149.4H265.0ZM323.9 149.1H334.0V159.4H323.9ZM333.7 159.1H343.8V169.3H333.7ZM333.7 169.0H343.8V179.3H333.7ZM333.7 179.0H343.8V189.2H333.7ZM343.5 188.9H363.4V199.1H343.5Z"/>
<path fill="rgb(88,88,88)" d="M58.9 69.6H69.0V79.8H58.9ZM88.3 89.5H98.4V99.7H88.3ZM166.8 99.4H177.0V109.7H166.8ZM186.5 109.4H196.6V119.6H186.5ZM196.3 119.3H206.4V129.6H196.3ZM235.5 119.3H245.7V129.6H235.5ZM274.8 139.2H304.5V149.4H274.8ZM333.7 149.1H343.8V159.4H333.7ZM343.5 179.0H353.6V189.2H343.5ZM363.1 188.9H373.2V199.1H363.1Z"/>
<path fill="rgb(92,92,92)" d="M39.3 59.7H49.4V69.9H39.3ZM68.7 79.5H78.8V89.8H68.7ZM98.1 89.5H108.3V99.7H98.1ZM304.2 139.2H314.4V149.4H304.2ZM343.5 149.1H353.6V159.4H343.5ZM343.5 159.1H353.6V169.3H343.5ZM343.5 169.0H353.6V179.3H343.5ZM353.3 179.0H363.4V189.2H353.3ZM372.9 188.9H383.1V199.1H372.9Z"/>
<path fill="rgb(96,96,96)" d="M-30.0 49.7H29.7V60.0H-30.0ZM49.1 59.7H69.0V69.9H49.1ZM68.7 69.6H78.8V79.8H68.7ZM108.0 89.5H118.1V99.7H108.0ZM176.7 99.4H186.8V109.7H176.7ZM206.1 119.3H216.2V129.6H206.1ZM255.2 129.2H265.3V139.5H255.2ZM314.1 139.2H324.2V149.4H314.1ZM353.3 169.0H363.4V179.3H353.3ZM363.1 179.0H373.2V189.2H363.1ZM382.8 188.9H442.5V199.1H382.8Z"/>
<path fill="rgb(100,100,100)" d="M29.4 49.7H39.6V60.0H29.4ZM245.4 119.3H255.5V129.6H245.4ZM323.9 139.2H343.8V149.4H323.9ZM353.3 149.1H363.4V159.4H353.3ZM353.3 159.1H363.4V169.3H353.3Z"/>
<path fill="rgb(104,104,104)" d="M29.4 -30.0H69.0V10.2H29.4ZM68.7 59.7H78.8V69.9H68.7ZM78.5 79.5H88.6V89.8H78.5ZM117.8 89.5H127.9V99.7H117.8ZM343.5 139.2H353.6V149.4H343.5ZM363.1 169.0H373.2V179.3H363.1ZM372.9 179.0H383.1V189.2H372.9Z"/>
<path fill="rgb(108,108,108)" d="M19.6 -30.0H29.7V10.2H19.6ZM68.7 -30.0H78.8V10.2H68.7ZM39.3 49.7H49.4V60.0H39.3ZM78.5 69.6H88.6V79.8H78.5ZM88.3 79.5H108.3V89.8H88.3ZM127.6 89.5H167.1V99.7H127.6ZM353.3 139.2H363.4V149.4H353.3ZM363.1 149.1H373.2V159.4H363.1ZM363.1 159.1H373.2V169.3H363.1ZM382.8 179.0H442.5V189.2H382.8Z"/>
<path fill="rgb(112,112,112)" d="M29.4 9.9H69.0V20.2H29.4ZM402.4 29.8H442.5V40.1H402.4ZM-30.0 39.8H29.7V50.0H-30.0ZM49.1 49.7H69.0V60.0H49.1ZM108.0 79.5H118.1V89.8H108.0ZM166.8 89.5H177.0V99.7H166.8ZM186.5 99.4H196.6V109.7H186.5ZM196.3 109.4H206.4V119.6H196.3ZM265.0 129.2H275.1V139.5H265.0ZM372.9 169.0H383.1V179.3H372.9Z"/>
<path fill="rgb(116,116,116)" d="M9.8 -30.0H19.9V10.2H9.8ZM78.5 -30.0H88.6V10.2H78.5ZM19.6 9.9H29.7V20.2H19.6ZM68.7 9.9H78.8V20.2H68.7ZM402.4 19.9H442.5V30.1H402.4ZM392.6 29.8H402.7V40.1H392.6ZM29.4 39.8H39.6V50.0H29.4ZM68.7 49.7H78.8V60.0H68.7ZM78.5 59.7H88.6V69.9H78.5ZM88.3 69.6H108.3V79.8H88.3ZM274.8 129.2H284.9V139.5H274.8ZM363.1 139.2H373.2V149.4H363.1ZM372.9 149.1H383.1V159.4H372.9ZM372.9 159.1H383.1V169.3H372.9ZM382.8 169.0H442.5V179.3H382.8Z"/>
<path fill="rgb(120,120,120)" d="M-30.0 -30.0H10.1V10.2H-30.0ZM9.8 9.9H19.9V20.2H9.8ZM78.5 9.9H88.6V20.2H78.5ZM392.6 19.9H402.7V30.1H392.6ZM382.8 29.8H392.9V40.1H382.8ZM39.3 39.8H49.4V50.0H39.3ZM176.7 89.5H186.8V99.7H176.7ZM255.2 119.3H265.3V129.6H255.2ZM284.6 129.2H314.4V139.5H284.6ZM372.9 139.2H383.1V149.4H372.9ZM382.8 159.1H392.9V169.3H382.8Z"/>
<path fill="rgb(124,124,124)" d="M88.3 -30.0H98.4V10.2H88.3ZM-30.0 9.9H10.1V20.2H-30.0ZM333.7 29.8H383.1V40.1H333.7ZM49.1 39.8H69.0V50.0H49.1ZM88.3 59.7H108.3V69.9H88.3ZM157.0 79.5H167.1V89.8H157.0ZM363.1 99.4H383.1V109.7H363.1ZM206.1 109.4H216.2V119.6H206.1ZM363.1 109.4H383.1V119.6H363.1ZM314.1 129.2H353.6V139.5H314.1ZM382.8 149.1H392.9V159.4H382.8ZM392.6 159.1H442.5V169.3H392.6Z"/>
<path fill="rgb(128,128,128)" d="M88.3 9.9H98.4V20.2H88.3ZM19.6 19.9H78.8V30.1H19.6ZM382.8 19.9H392.9V30.1H382.8ZM-30.0 29.8H39.6V40.1H-30.0ZM323.9 29.8H334.0V40.1H323.9ZM68.7 39.8H78.8V50.0H68.7ZM392.6 39.8H442.5V50.0H392.6ZM78.5 49.7H88.6V60.0H78.5ZM353.3 59.7H373.2V69.9H353.3ZM108.0 69.6H118.1V79.8H108.0ZM353.3 69.6H373.2V79.8H353.3ZM117.8 79.5H127.9V89.8H117.8ZM137.4 79.5H157.3V89.8H137.4ZM166.8 79.5H177.0V89.8H166.8ZM353.3 99.4H363.4V109.7H353.3ZM382.8 99.4H392.9V109.7H382.8ZM215.9 109.4H235.8V119.6H215.9ZM353.3 109.4H363.4V119.6H353.3ZM382.8 109.4H392.9V119.6H382.8ZM353.3 129.2H373.2V139.5H353.3ZM382.8 139.2H392.9V149.4H382.8ZM392.6 149.1H402.7V159.4H392.6Z"/>
<path fill="rgb(131,131,131)" d="M98.1 -30.0H108.3V10.2H98.1ZM98.1 9.9H108.3V20.2H98.1ZM-30.0 19.9H19.9V30.1H-30.0ZM78.5 19.9H98.4V30.1H78.5ZM323.9 19.9H383.1V30.1H323.9ZM39.3 29.8H78.8V40.1H39.3ZM314.1 29.8H324.2V40.1H314.1ZM78.5 39.8H88.6V50.0H78.5ZM343.5 39.8H392.9V50.0H343.5ZM88.3 49.7H108.3V60.0H88.3ZM353.3 49.7H373.2V60.0H353.3ZM343.5 59.7H353.6V69.9H343.5ZM372.9 59.7H383.1V69.9H372.9ZM343.5 69.6H353.6V79.8H343.5ZM372.9 69.6H383.1V79.8H372.9ZM127.6 79.5H137.7V89.8H127.6ZM353.3 79.5H373.2V89.8H353.3ZM353.3 89.5H392.9V99.7H353.3ZM343.5 99.4H353.6V109.7H343.5ZM392.6 99.4H402.7V109.7H392.6ZM235.5 109.4H245.7V119.6H235.5ZM343.5 109.4H353.6V119.6H343.5ZM392.6 109.4H402.7V119.6H392.6ZM265.0 119.3H275.1V129.6H265.0ZM353.3 119.3H392.9V129.6H353.3ZM372.9 129.2H392.9V139.5H372.9ZM392.6 139.2H402.7V149.4H392.6ZM402.4 149.1H442.5V159.4H402.4Z"/>
<path fill="rgb(135,135,135)" d="M98.1 19.9H108.3V30.1H98.1ZM314.1 19.9H324.2V30.1H314.1ZM78.5 29.8H108.3V40.1H78.5ZM88.3 39.8H108.3V50.0H88.3ZM157.0 39.8H167.1V50.0H157.0ZM333.7 39.8H343.8V50.0H333.7ZM157.0 49.7H167.1V60.0H157.0ZM343.5 49.7H353.6V60.0H343.5ZM372.9 49.7H442.5V60.0H372.9ZM108.0 59.7H118.1V69.9H108.0ZM382.8 59.7H442.5V69.9H382.8ZM157.0 69.6H177.0V79.8H157.0ZM382.8 69.6H442.5V79.8H382.8ZM176.7 79.5H186.8V89.8H176.7ZM343.5 79.5H353.6V89.8H343.5ZM372.9 79.5H442.5V89.8H372.9ZM343.5 89.5H353.6V99.7H343.5ZM392.6 89.5H442.5V99.7H392.6ZM333.7 99.4H343.8V109.7H333.7ZM402.4 99.4H442.5V109.7H402.4ZM245.4 109.4H255.5V119.6H245.4ZM323.9 109.4H343.8V119.6H323.9ZM402.4 109.4H442.5V119.6H402.4ZM274.8 119.3H284.9V129.6H274.8ZM314.1 119.3H353.6V129.6H314.1ZM392.6 119.3H442.5V129.6H392.6ZM392.6 129.2H442.5V139.5H392.6ZM402.4 139.2H442.5V149.4H402.4Z"/>
<path fill="rgb(139,139,139)" d="M176.7 -30.0H196.6V10.2H176.7ZM402.4 9.9H442.5V20.2H402.4ZM304.2 19.9H314.4V30.1H304.2ZM157.0 29.8H177.0V40.1H157.0ZM304.2 29.8H314.4V40.1H304.2ZM147.2 39.8H157.3V50.0H147.2ZM166.8 39.8H177.0V50.0H166.8ZM323.9 39.8H334.0V50.0H323.9ZM108.0 49.7H118.1V60.0H108.0ZM147.2 49.7H157.3V60.0H147.2ZM166.8 49.7H177.0V60.0H166.8ZM333.7 49.7H343.8V60.0H333.7ZM157.0 59.7H177.0V69.9H157.0ZM333.7 59.7H343.8V69.9H333.7ZM147.2 69.6H157.3V79.8H147.2ZM333.7 69.6H343.8V79.8H333.7ZM333.7 79.5H343.8V89.8H333.7ZM186.5 89.5H196.6V99.7H186.5ZM333.7 89.5H343.8V99.7H333.7ZM196.3 99.4H206.4V109.7H196.3ZM323.9 99.4H334.0V109.7H323.9ZM255.2 109.4H265.3V119.6H255.2ZM314.1 109.4H324.2V119.6H314.1ZM284.6 119.3H314.4V129.6H284.6Z"/>
<path fill="rgb(143,143,143)" d="M166.8 9.9H196.6V20.2H166.8ZM392.6 9.9H402.7V20.2H392.6ZM157.0 19.9H186.8V30.1H157.0ZM147.2 29.8H157.3V40.1H147.2ZM147.2 59.7H157.3V69.9H147.2ZM117.8 69.6H127.9V79.8H117.8ZM176.7 69.6H186.8V79.8H176.7ZM323.9 89.5H334.0V99.7H323.9ZM314.1 99.4H324.2V109.7H314.1ZM265.0 109.4H275.1V119.6H265.0ZM304.2 109.4H314.4V119.6H304.2Z"/>
<path fill="rgb(147,147,147)" d="M166.8 -30.0H177.0V10.2H166.8ZM196.3 -30.0H206.4V10.2H196.3ZM294.4 19.9H304.5V30.1H294.4ZM176.7 29.8H186.8V40.1H176.7ZM294.4 29.8H304.5V40.1H294.4ZM108.0 39.8H118.1V50.0H108.0ZM176.7 39.8H186.8V50.0H176.7ZM314.1 39.8H324.2V50.0H314.1ZM137.4 49.7H147.5V60.0H137.4ZM176.7 49.7H186.8V60.0H176.7ZM323.9 49.7H334.0V60.0H323.9ZM176.7 59.7H186.8V69.9H176.7ZM323.9 59.7H334.0V69.9H323.9ZM137.4 69.6H147.5V79.8H137.4ZM323.9 69.6H334.0V79.8H323.9ZM323.9 79.5H334.0V89.8H323.9ZM314.1 89.5H324.2V99.7H314.1ZM304.2 99.4H314.4V109.7H304.2ZM274.8 109.4H304.5V119.6H274.8Z"/>
<path fill="rgb(151,151,151)" d="M206.1 -30.0H245.7V10.2H206.1ZM402.4 -30.0H442.5V10.2H402.4ZM157.0 9.9H167.1V20.2H157.0ZM196.3 9.9H206.4V20.2H196.3ZM215.9 9.9H245.7V20.2H215.9ZM382.8 9.9H392.9V20.2H382.8ZM147.2 19.9H157.3V30.1H147.2ZM186.5 19.9H196.6V30.1H186.5ZM225.7 19.9H255.5V30.1H225.7ZM284.6 19.9H294.7V30.1H284.6ZM108.0 29.8H118.1V40.1H108.0ZM137.4 39.8H147.5V50.0H137.4ZM137.4 59.7H147.5V69.9H137.4ZM314.1 59.7H324.2V69.9H314.1ZM127.6 69.6H137.7V79.8H127.6ZM284.6 69.6H324.2V79.8H284.6ZM186.5 79.5H196.6V89.8H186.5ZM284.6 79.5H324.2V89.8H284.6ZM284.6 89.5H314.4V99.7H284.6ZM206.1 99.4H216.2V109.7H206.1ZM274.8 99.4H304.5V109.7H274.8Z"/>
<path fill="rgb(155,155,155)" d="M157.0 -30.0H167.1V10.2H157.0ZM245.4 -30.0H255.5V10.2H245.4ZM392.6 -30.0H402.7V10.2H392.6ZM206.1 9.9H216.2V20.2H206.1ZM245.4 9.9H255.5V20.2H245.4ZM314.1 9.9H383.1V20.2H314.1ZM215.9 19.9H226.0V30.1H215.9ZM255.2 19.9H284.9V30.1H255.2ZM186.5 29.8H196.6V40.1H186.5ZM225.7 29.8H235.8V40.1H225.7ZM284.6 29.8H294.7V40.1H284.6ZM186.5 39.8H196.6V50.0H186.5ZM304.2 39.8H314.4V50.0H304.2ZM186.5 49.7H196.6V60.0H186.5ZM314.1 49.7H324.2V60.0H314.1ZM117.8 59.7H127.9V69.9H117.8ZM294.4 59.7H314.4V69.9H294.4ZM274.8 79.5H284.9V89.8H274.8ZM274.8 89.5H284.9V99.7H274.8ZM235.5 99.4H275.1V109.7H235.5Z"/>
<path fill="rgb(159,159,159)" d="M108.0 9.9H118.1V20.2H108.0ZM147.2 9.9H157.3V20.2H147.2ZM255.2 9.9H265.3V20.2H255.2ZM294.4 9.9H314.4V20.2H294.4ZM108.0 19.9H118.1V30.1H108.0ZM196.3 19.9H216.2V30.1H196.3ZM137.4 29.8H147.5V40.1H137.4ZM215.9 29.8H226.0V40.1H215.9ZM235.5 29.8H284.9V40.1H235.5ZM117.8 49.7H137.7V60.0H117.8ZM304.2 49.7H314.4V60.0H304.2ZM186.5 59.7H196.6V69.9H186.5ZM284.6 59.7H294.7V69.9H284.6ZM186.5 69.6H196.6V79.8H186.5ZM274.8 69.6H284.9V79.8H274.8ZM265.0 89.5H275.1V99.7H265.0ZM215.9 99.4H235.8V109.7H215.9Z"/>
<path fill="rgb(163,163,163)" d="M108.0 -30.0H118.1V10.2H108.0ZM147.2 -30.0H157.3V10.2H147.2ZM255.2 -30.0H265.3V10.2H255.2ZM382.8 -30.0H392.9V10.2H382.8ZM265.0 9.9H294.7V20.2H265.0ZM196.3 29.8H216.2V40.1H196.3ZM196.3 39.8H206.4V50.0H196.3ZM215.9 39.8H226.0V50.0H215.9ZM294.4 39.8H304.5V50.0H294.4ZM127.6 59.7H137.7V69.9H127.6ZM245.4 89.5H265.3V99.7H245.4Z"/>
<path fill="rgb(167,167,167)" d="M265.0 -30.0H383.1V10.2H265.0ZM117.8 39.8H137.7V50.0H117.8ZM206.1 39.8H216.2V50.0H206.1ZM225.7 39.8H235.8V50.0H225.7ZM196.3 49.7H206.4V60.0H196.3ZM294.4 49.7H304.5V60.0H294.4ZM274.8 59.7H284.9V69.9H274.8ZM265.0 79.5H275.1V89.8H265.0ZM196.3 89.5H206.4V99.7H196.3ZM235.5 89.5H245.7V99.7H235.5Z"/>
<path fill="rgb(171,171,171)" d="M137.4 19.9H147.5V30.1H137.4ZM235.5 39.8H245.7V50.0H235.5ZM284.6 39.8H294.7V50.0H284.6ZM206.1 49.7H226.0V60.0H206.1ZM284.6 49.7H294.7V60.0H284.6ZM196.3 59.7H206.4V69.9H196.3ZM265.0 69.6H275.1V79.8H265.0ZM245.4 79.5H265.3V89.8H245.4ZM225.7 89.5H235.8V99.7H225.7Z"/>
<path fill="rgb(175,175,175)" d="M245.4 39.8H284.9V50.0H245.4ZM225.7 49.7H235.8V60.0H225.7ZM274.8 49.7H284.9V60.0H274.8ZM265.0 59.7H275.1V69.9H265.0ZM196.3 69.6H206.4V79.8H196.3ZM235.5 79.5H245.7V89.8H235.5ZM215.9 89.5H226.0V99.7H215.9Z"/>
<path fill="rgb(179,179,179)" d="M235.5 49.7H245.7V60.0H235.5ZM206.1 59.7H235.8V69.9H206.1ZM235.5 69.6H265.3V79.8H235.5ZM225.7 79.5H235.8V89.8H225.7Z"/>
<path fill="rgb(183,183,183)" d="M137.4 9.9H147.5V20.2H137.4ZM245.4 49.7H275.1V60.0H245.4ZM235.5 59.7H265.3V69.9H235.5ZM215.9 69.6H235.8V79.8H215.9ZM196.3 79.5H206.4V89.8H196.3ZM206.1 89.5H216.2V99.7H206.1Z"/>
<path fill="rgb(187,187,187)" d="M137.4 -30.0H147.5V10.2H137.4ZM117.8 29.8H127.9V40.1H117.8ZM206.1 69.6H216.2V79.8H206.1ZM215.9 79.5H226.0V89.8H215.9Z"/>
<path fill="rgb(191,191,191)" d="M127.6 29.8H137.7V40.1H127.6ZM206.1 79.5H216.2V89.8H206.1Z"/>
<path fill="rgb(199,199,199)" d="M117.8 19.9H127.9V30.1H117.8Z"/>
<path fill="rgb(207,207,207)" d="M127.6 19.9H137.7V30.1H127.6Z"/>
<path fill="rgb(215,215,215)" d="M117.8 9.9H127.9V20.2H117.8Z"/>
<path fill="rgb(219,219,219)" d="M117.8 -30.0H127.9V10.2H117.8ZM127.6 9.9H137.7V20.2H127.6Z"/>
<path fill="rgb(227,227,227)" d="M127.6 -30.0H137.7V10.2H127.6Z"/>
</g>
<path d="M76.2 0.0 L71.4 60.9 L70.0 92.8 M0.0 54.2 L71.4 60.9 M70.0 92.8 L118.9 96.1 L158.4 97.2 L183.7 97.7 L214.0 97.5 L240.8 97.2 L289.5 96.4 M239.7 0.0 L240.2 33.2 L240.8 97.2 M240.2 33.2 L311.6 30.8 L371.4 27.2 L376.0 29.5 L380.0 32.3 L382.8 33.9 L385.1 33.7 L386.2 31.0 L387.5 30.3 L392.2 30.6 L396.0 29.8 L399.5 28.8 L401.5 29.5 L404.1 31.8 L408.0 32.6 L412.0 33.2 M118.9 96.1 L118.1 122.9 L116.5 160.0 L113.3 223.7 L111.7 258.5 M289.5 96.4 L291.1 128.4 L292.5 175.0 L294.3 224.8 M291.1 128.4 L351.1 125.6 L412.0 121.7 M0.0 216.2 L57.2 220.9 L113.3 223.7 L175.8 226.1 L214.0 226.5 L269.0 226.1 L294.3 224.8 L351.1 222.0 L412.0 218.2 M269.3 226.1 L269.6 241.6 L268.6 241.8 L268.6 258.5 M268.6 241.8 L347.2 239.1 L348.8 258.5" fill="none" stroke="#000" stroke-width="1.35" stroke-linejoin="round"/>
<path d="M-0.3 5.3 C2.2 6.4 9.6 10.2 14.5 11.9 C19.4 13.6 23.6 14.5 29.3 15.6 C35.0 16.7 42.8 17.2 48.5 18.6 C54.2 20.0 58.6 21.6 63.3 23.8 C68.0 26.0 73.0 28.9 76.7 31.9 C80.4 34.9 83.0 38.4 85.5 41.5 C88.0 44.6 88.5 47.9 91.5 50.4 C94.5 52.9 99.8 54.6 103.3 56.3 C106.8 58.0 109.2 58.3 112.2 60.8 C115.2 63.3 118.1 67.9 121.1 71.1 C124.0 74.3 126.7 78.0 129.9 80.0 C133.1 82.0 136.4 82.4 140.3 83.0 C144.2 83.6 149.9 82.7 153.6 83.7 C157.3 84.7 159.8 86.6 162.5 88.9 C165.2 91.2 167.4 94.6 169.9 97.8 C172.4 101.0 174.6 104.6 177.3 108.1 C180.0 111.5 183.7 114.8 186.2 118.5 C188.7 122.2 191.1 125.6 192.1 130.0 C193.1 134.4 191.6 140.0 192.1 144.9 C192.6 149.8 193.5 155.8 195.0 159.7 C196.5 163.6 199.2 166.4 201.0 168.6 C202.8 170.8 203.4 168.8 205.7 173.0 C208.0 177.2 210.9 189.0 214.6 193.7 C218.3 198.4 223.2 198.9 227.9 201.1 C232.6 203.3 237.8 205.5 242.7 207.1 C247.6 208.7 252.6 209.8 257.5 210.8 C262.4 211.8 268.1 212.2 272.3 213.0 C276.5 213.8 280.0 214.4 282.7 215.9 C285.4 217.4 286.9 219.7 288.6 221.9 C290.3 224.1 291.0 227.1 293.0 229.3 C295.0 231.5 297.2 233.6 300.4 235.2 C303.6 236.8 308.4 237.4 312.3 238.9 C316.2 240.4 320.2 242.1 324.1 244.1 C328.0 246.1 331.9 248.8 335.9 250.7 C339.8 252.5 343.9 254.8 347.8 255.2 C351.8 255.6 355.7 254.0 359.6 252.9 C363.5 251.8 367.4 249.5 371.4 248.5 C375.3 247.5 378.9 246.8 383.3 247.0 C387.8 247.2 393.4 248.8 398.1 250.0 C402.8 251.2 409.4 253.7 411.7 254.4 M-0.3 37.1 C2.2 37.8 9.6 39.9 14.5 41.5 C19.4 43.1 24.4 45.0 29.3 46.7 C34.2 48.4 39.9 50.0 44.1 51.9 C48.3 53.8 51.5 55.1 54.5 57.8 C57.5 60.5 59.2 64.8 61.9 68.2 C64.6 71.7 67.8 75.3 70.7 78.5 C73.7 81.7 77.1 84.4 79.6 87.4 C82.1 90.4 83.8 93.6 85.5 96.3 C87.2 99.0 87.0 101.8 90.0 103.7 C93.0 105.6 99.6 106.3 103.3 107.4 C107.0 108.5 109.2 108.8 112.2 110.4 C115.2 112.0 117.6 114.9 121.1 117.0 C124.5 119.1 128.5 120.7 132.9 122.9 C137.3 125.1 143.3 127.1 147.7 130.0 C152.1 132.9 156.1 137.0 159.5 140.5 C162.9 144.0 166.4 146.9 168.4 150.8 C170.4 154.7 171.2 159.2 171.4 164.1 C171.7 169.0 170.4 175.2 169.9 180.4 C169.4 185.6 167.9 190.3 168.4 195.2 C168.9 200.1 171.1 205.1 172.8 210.0 C174.5 214.9 176.6 220.4 178.8 224.8 C181.0 229.2 183.2 234.0 186.2 236.7 C189.1 239.4 194.0 239.1 196.5 241.1 C199.0 243.1 199.9 245.3 201.0 248.5 C202.1 251.7 202.8 258.1 203.2 260.0 M-0.3 90.4 C1.7 91.1 7.6 92.8 11.5 94.8 C15.4 96.8 19.7 99.2 23.4 102.2 C27.1 105.2 30.3 109.4 33.7 112.6 C37.2 115.8 40.9 118.6 44.1 121.5 C47.3 124.4 50.0 126.1 53.0 130.0 C56.0 133.9 58.4 140.5 61.9 144.9 C65.3 149.3 69.3 152.5 73.7 156.7 C78.1 160.9 83.6 166.1 88.5 170.1 C93.4 174.1 98.9 177.3 103.3 180.4 C107.7 183.5 111.6 186.4 115.1 188.6 C118.5 190.8 122.3 191.6 124.0 193.7 C125.7 195.8 125.9 197.9 125.5 201.1 C125.1 204.3 122.3 209.1 121.8 213.0 C121.3 216.9 121.2 220.9 122.5 224.8 C123.8 228.8 127.2 232.5 129.9 236.7 C132.6 240.9 136.5 246.1 138.8 250.0 C141.2 253.9 143.1 258.3 144.0 260.0 M79.6 0.1 C81.6 2.1 87.5 8.0 91.5 11.9 C95.5 15.8 99.8 20.1 103.3 23.8 C106.8 27.5 109.2 30.4 112.2 34.1 C115.2 37.8 118.4 42.5 121.1 46.0 C123.8 49.5 125.7 52.8 128.4 54.9 C131.1 57.0 133.6 58.0 137.3 58.6 C141.0 59.2 146.4 58.2 150.6 58.6 C154.8 59.0 158.8 59.7 162.5 60.8 C166.2 61.9 169.6 63.2 172.8 65.2 C176.0 67.2 179.0 69.6 181.7 72.6 C184.4 75.6 186.9 79.3 189.1 83.0 C191.3 86.7 193.3 90.8 195.0 94.8 C196.7 98.8 198.5 102.8 199.5 106.7 C200.5 110.7 200.5 114.6 201.0 118.5 C201.5 122.4 201.9 127.4 202.4 130.0 C202.9 132.6 203.0 133.3 204.0 134.0 C205.0 134.7 207.2 135.3 208.5 134.0 C209.8 132.7 210.7 128.3 212.0 126.0 C213.3 123.7 214.2 122.2 216.1 120.0 C218.0 117.8 220.8 114.3 223.5 112.6 C226.2 110.9 229.4 109.6 232.3 109.6 C235.2 109.6 238.2 111.1 241.2 112.6 C244.2 114.1 247.1 116.3 250.1 118.5 C253.1 120.7 257.0 124.0 259.0 125.9 C261.0 127.8 259.7 128.2 261.9 130.1 C264.1 132.0 267.9 135.3 272.3 137.5 C276.8 139.7 282.9 141.4 288.6 143.4 C294.3 145.4 300.9 147.3 306.3 149.3 C311.7 151.3 316.7 152.8 321.1 155.3 C325.6 157.8 329.3 161.2 333.0 164.1 C336.7 167.0 339.9 170.5 343.3 173.0 C346.8 175.5 349.5 176.9 353.7 178.9 C357.9 180.9 363.6 182.9 368.5 184.9 C373.4 186.9 378.4 189.1 383.3 190.8 C388.2 192.5 393.4 193.7 398.1 195.2 C402.8 196.7 409.4 198.9 411.7 199.7 M106.3 0.1 C107.8 2.1 112.4 7.5 115.1 11.9 C117.8 16.3 120.3 22.9 122.5 26.7 C124.7 30.5 126.4 33.7 128.4 34.9 C130.4 36.1 132.2 35.7 134.4 34.1 C136.6 32.5 139.3 27.8 141.8 25.3 C144.3 22.8 146.7 19.9 149.2 19.3 C151.7 18.7 153.9 19.9 156.6 21.6 C159.3 23.3 161.9 26.6 165.4 29.7 C168.9 32.8 173.6 36.6 177.3 40.1 C181.0 43.6 184.2 47.2 187.6 50.4 C191.0 53.6 195.0 56.8 198.0 59.3 C201.0 61.8 202.9 62.7 205.7 65.2 C208.5 67.7 210.9 72.1 214.6 74.1 C218.3 76.1 223.7 76.4 227.9 77.1 C232.1 77.8 235.3 77.3 239.7 78.5 C244.1 79.7 249.6 82.3 254.5 84.5 C259.4 86.7 264.6 89.7 269.3 91.9 C274.0 94.1 278.0 95.6 282.7 97.8 C287.4 100.0 292.6 102.7 297.5 105.2 C302.4 107.7 307.1 110.1 312.3 112.6 C317.5 115.1 322.6 117.5 328.5 120.0 C334.4 122.5 342.9 125.7 347.8 127.4 C352.7 129.1 354.7 128.9 358.1 130.1 C361.6 131.3 364.8 132.5 368.5 134.5 C372.2 136.5 376.4 139.7 380.3 141.9 C384.2 144.1 388.2 145.9 392.2 147.9 C396.1 149.9 400.8 152.2 404.0 153.8 C407.2 155.4 410.4 156.9 411.7 157.5 M171.4 0.1 C173.6 0.8 180.8 2.8 184.7 4.5 C188.6 6.2 191.5 8.0 195.0 10.5 C198.5 13.0 201.4 16.1 205.7 19.3 C209.9 22.5 215.6 26.5 220.5 29.7 C225.4 32.9 230.4 35.6 235.3 38.6 C240.2 41.6 245.7 44.8 250.1 47.5 C254.5 50.2 257.9 52.7 261.9 54.9 C265.8 57.1 269.4 58.8 273.8 60.8 C278.2 62.8 283.7 64.7 288.6 66.7 C293.5 68.7 298.5 70.4 303.4 72.6 C308.3 74.8 312.8 77.5 318.2 80.0 C323.6 82.5 330.0 84.9 335.9 87.4 C341.8 89.9 348.3 92.6 353.7 94.8 C359.1 97.0 363.6 98.5 368.5 100.7 C373.4 102.9 378.4 105.4 383.3 108.1 C388.2 110.8 393.4 114.0 398.1 117.0 C402.8 120.0 409.4 124.4 411.7 125.9 M222.0 0.1 C224.2 1.3 230.6 5.3 235.3 7.5 C240.0 9.7 245.2 11.7 250.1 13.4 C255.0 15.1 260.0 16.2 264.9 17.9 C269.8 19.6 274.3 21.5 279.7 23.8 C285.1 26.1 292.1 29.2 297.5 31.9 C302.9 34.6 307.1 37.5 312.3 40.1 C317.5 42.7 323.3 45.0 328.5 47.5 C333.7 50.0 338.4 52.4 343.3 54.9 C348.2 57.4 353.2 60.1 358.1 62.3 C363.0 64.5 367.7 66.2 372.9 68.2 C378.1 70.2 384.3 71.9 389.2 74.1 C394.1 76.3 398.8 79.3 402.5 81.5 C406.2 83.7 410.2 86.4 411.7 87.4 M288.6 0.1 C291.1 1.3 298.5 5.0 303.4 7.5 C308.3 10.0 313.3 12.7 318.2 14.9 C323.1 17.1 328.1 19.1 333.0 20.8 C337.9 22.5 342.9 24.1 347.8 25.3 C352.7 26.5 358.7 27.0 362.6 28.2 C366.5 29.4 367.9 31.2 371.4 32.7 C374.8 34.2 378.9 35.4 383.3 37.1 C387.8 38.8 393.4 41.3 398.1 43.0 C402.8 44.7 409.4 46.8 411.7 47.5 M371.4 0.1 C373.4 1.1 378.9 4.0 383.3 6.0 C387.8 8.0 393.4 10.2 398.1 11.9 C402.8 13.6 409.4 15.6 411.7 16.4" fill="none" stroke="#000" stroke-width="2.5" stroke-linecap="round" stroke-linejoin="round"/>
<path d="M12.8 12.5 L-5.1 7.6 M-5.1 7.6 L-5.4 -0.1 M-2.8 8.2 L-3.1 0.5 M-0.6 8.9 L-0.9 1.1 M1.6 9.5 L1.3 1.7 M39.6 10.9 L21.4 7.2 M21.4 7.2 L20.7 -0.5 M23.7 7.7 L22.9 -0.0 M26.0 8.1 L25.2 0.4 M28.2 8.6 L27.5 0.9 M66.4 9.3 L49.5 1.6 M49.5 1.6 L50.5 -6.1 M51.6 2.6 L52.6 -5.1 M53.7 3.5 L54.7 -4.2 M55.9 4.5 L56.8 -3.2 M93.2 7.7 L78.1 -3.1 M78.1 -3.1 L80.5 -10.4 M80.0 -1.7 L82.4 -9.1 M81.9 -0.4 L84.3 -7.7 M83.8 1.0 L86.2 -6.4 M85.6 2.3 L86.9 -1.4 M120.0 6.1 L105.1 -4.9 M110.7 -0.8 L113.2 -8.1 M112.5 0.6 L115.0 -6.7 M146.8 4.5 L130.2 -3.8 M136.4 -0.7 L137.7 -8.4 M173.6 2.9 L157.6 -6.5 M200.4 1.3 L185.2 -9.3 M227.2 -0.4 L210.9 -9.2 M254.0 -2.0 L237.6 -10.6 M243.8 -7.4 L244.5 -11.2 M14.3 37.9 L-3.5 32.9 M-3.5 32.9 L-3.7 25.1 M-1.3 33.5 L-1.5 25.8 M0.9 34.1 L0.7 26.4 M3.2 34.8 L3.0 27.0 M5.4 35.4 L5.3 31.5 M41.1 36.3 L23.3 31.3 M23.3 31.3 L23.0 23.6 M25.5 32.0 L25.3 24.2 M27.7 32.6 L27.5 24.8 M30.0 33.2 L29.7 25.4 M32.2 33.8 L32.1 29.9 M67.9 34.7 L51.4 26.3 M51.4 26.3 L52.7 18.7 M53.5 27.4 L54.7 19.7 M55.5 28.4 L56.8 20.8 M57.6 29.5 L58.9 21.8 M59.6 30.5 L60.3 26.7 M94.7 33.1 L79.4 22.6 M121.5 31.5 L106.0 21.4 M111.8 25.2 L113.9 17.7 M113.8 26.4 L114.8 22.7 M148.3 29.9 L131.4 22.4 M175.1 28.3 L159.8 17.9 M201.9 26.7 L187.1 15.5 M192.7 19.7 L194.0 16.1 M228.7 25.0 L212.6 15.9 M255.5 23.4 L239.2 14.7 M245.3 18.0 L246.0 14.2 M282.3 21.8 L266.2 12.7 M272.2 16.1 L273.1 12.3 M309.1 20.2 L293.4 10.4 M335.9 18.6 L320.2 8.8 M362.7 17.0 L347.3 6.8 M389.5 15.4 L373.5 6.2 M416.3 13.8 L400.6 4.0 M15.8 63.3 L-1.5 56.7 M-1.5 56.7 L-1.0 49.0 M0.7 57.5 L1.2 49.8 M2.9 58.4 L3.3 50.6 M42.6 61.7 L25.5 54.7 M25.5 54.7 L26.2 46.9 M27.7 55.5 L28.3 47.8 M29.8 56.4 L30.5 48.7 M31.9 57.3 L32.3 53.4 M69.4 60.1 L53.6 50.5 M53.6 50.5 L55.5 43.0 M55.6 51.7 L57.4 44.2 M57.6 52.9 L59.4 45.4 M59.5 54.1 L61.4 46.6 M96.2 58.5 L80.5 48.7 M80.5 48.7 L82.5 41.2 M82.5 49.9 L84.4 42.4 M84.4 51.1 L86.4 43.6 M86.4 52.4 L88.4 44.9 M88.4 53.6 L89.3 49.8 M123.0 56.9 L107.2 47.4 M113.1 50.9 L114.0 47.2 M149.8 55.3 L133.3 47.0 M176.6 53.7 L161.6 42.9 M203.4 52.1 L189.0 40.5 M194.4 44.8 L195.8 41.2 M230.2 50.4 L214.2 41.3 M220.2 44.7 L221.8 37.1 M257.0 48.8 L241.0 39.6 M247.0 43.1 L248.7 35.5 M283.8 47.2 L267.8 38.0 M273.8 41.4 L275.5 33.9 M310.6 45.6 L295.0 35.7 M300.8 39.4 L301.8 35.7 M337.4 44.0 L322.0 33.8 M322.0 33.8 L324.2 26.3 M323.9 35.1 L326.1 27.6 M325.9 36.3 L328.0 28.9 M327.8 37.6 L330.0 30.2 M329.7 38.9 L330.8 35.2 M364.2 42.4 L349.0 31.9 M349.0 31.9 L351.2 24.5 M350.9 33.2 L353.2 25.8 M352.8 34.6 L355.1 27.1 M354.7 35.9 L357.0 28.5 M356.6 37.2 L357.7 33.5 M391.0 40.8 L375.0 31.5 M375.0 31.5 L376.7 24.0 M377.0 32.7 L378.7 25.1 M379.0 33.8 L380.7 26.3 M381.0 35.0 L382.7 27.4 M383.0 36.2 L383.9 32.4 M417.8 39.2 L402.2 29.3 M402.2 29.3 L404.2 21.8 M404.2 30.5 L406.2 23.0 M406.1 31.8 L408.1 24.3 M408.1 33.0 L410.1 25.5 M17.3 88.7 L1.4 79.4 M1.4 79.4 L3.1 71.8 M3.4 80.5 L5.1 73.0 M5.4 81.7 L6.2 77.9 M44.1 87.1 L27.1 80.0 M27.1 80.0 L27.8 72.3 M29.2 80.9 L29.9 73.2 M31.3 81.8 L31.7 77.9 M70.9 85.5 L55.5 75.3 M55.5 75.3 L57.7 67.8 M57.4 76.6 L59.6 69.1 M59.4 77.8 L61.5 70.4 M61.3 79.1 L62.4 75.4 M97.7 83.9 L82.0 74.2 M82.0 74.2 L83.9 66.7 M84.0 75.4 L85.9 67.9 M85.9 76.6 L87.8 69.1 M87.9 77.8 L89.8 70.3 M124.5 82.3 L108.5 73.1 M108.5 73.1 L110.1 65.6 M110.5 74.3 L112.1 66.7 M112.5 75.4 L114.1 67.8 M114.5 76.6 L116.1 69.0 M116.5 77.7 L117.3 73.9 M151.3 80.7 L135.3 71.4 M135.3 71.4 L137.0 63.9 M137.3 72.6 L139.0 65.0 M139.3 73.8 L141.0 66.2 M141.3 74.9 L143.0 67.3 M143.3 76.1 L144.2 72.3 M178.1 79.1 L164.1 67.0 M204.9 77.5 L191.0 65.3 M196.2 69.8 L199.4 62.8 M198.0 71.4 L199.5 67.8 M231.7 75.8 L215.2 67.5 M221.4 70.7 L222.7 63.0 M258.5 74.2 L242.2 65.6 M248.3 68.8 L249.8 61.2 M285.3 72.6 L269.3 63.4 M312.1 71.0 L296.5 61.2 M338.9 69.4 L323.5 59.2 M365.7 67.8 L350.7 57.1 M350.7 57.1 L353.1 49.7 M352.6 58.4 L355.0 51.0 M354.5 59.7 L356.9 52.4 M356.3 61.1 L358.8 53.7 M358.2 62.4 L359.4 58.7 M392.5 66.2 L376.9 56.4 M419.3 64.6 L404.2 54.0 M18.9 114.1 L3.9 103.3 M3.9 103.3 L6.4 95.9 M5.8 104.6 L8.2 97.3 M45.7 112.5 L29.0 104.4 M29.0 104.4 L30.2 96.7 M31.1 105.4 L32.3 97.7 M72.5 110.9 L56.2 102.2 M56.2 102.2 L57.6 94.5 M99.3 109.3 L82.7 101.1 M82.7 101.1 L83.9 93.4 M84.8 102.1 L86.0 94.4 M126.1 107.7 L110.0 98.5 M110.0 98.5 L111.7 90.9 M112.0 99.7 L113.7 92.1 M114.0 100.8 L115.7 93.2 M152.9 106.1 L137.9 95.2 M137.9 95.2 L140.4 87.8 M139.8 96.5 L142.3 89.2 M141.7 97.9 L144.1 90.6 M179.7 104.5 L167.2 90.8 M167.2 90.8 L171.0 84.1 M168.7 92.5 L172.6 85.8 M170.3 94.2 L174.2 87.5 M171.8 95.9 L173.8 92.6 M206.5 102.9 L193.2 89.9 M198.2 94.8 L199.9 91.3 M233.3 101.2 L216.5 93.5 M222.8 96.4 L223.3 92.6 M260.1 99.6 L243.8 90.8 M249.9 94.1 L250.7 90.3 M286.9 98.0 L271.0 88.6 M313.7 96.4 L298.1 86.5 M340.5 94.8 L325.0 84.6 M367.3 93.2 L352.4 82.2 M352.4 82.2 L354.9 74.9 M354.3 83.6 L356.8 76.3 M356.1 85.0 L358.7 77.6 M358.0 86.3 L360.5 79.0 M359.8 87.7 L361.1 84.0 M394.1 91.6 L378.8 81.1 M378.8 81.1 L381.1 73.7 M380.7 82.4 L383.0 75.0 M382.6 83.7 L384.9 76.3 M384.5 85.1 L386.8 77.6 M386.4 86.4 L387.6 82.7 M420.9 90.0 L406.0 78.9 M20.4 139.5 L6.9 126.8 M6.9 126.8 L10.3 119.9 M47.2 137.9 L31.7 127.8 M31.7 127.8 L33.8 120.4 M74.0 136.3 L58.4 126.3 M58.4 126.3 L60.5 118.8 M60.4 127.5 L62.4 120.1 M100.8 134.7 L84.8 125.4 M84.8 125.4 L86.6 117.8 M86.8 126.5 L88.6 119.0 M127.6 133.1 L112.0 123.1 M112.0 123.1 L114.0 115.7 M113.9 124.4 L116.0 116.9 M154.4 131.5 L140.4 119.4 M140.4 119.4 L143.5 112.3 M142.2 120.9 L145.2 113.8 M181.2 129.9 L170.4 114.8 M170.4 114.8 L175.1 108.6 M171.8 116.7 L176.4 110.5 M208.0 128.3 L194.2 115.9 M194.2 115.9 L197.4 108.9 M195.9 117.5 L199.1 110.4 M197.7 119.0 L200.9 111.9 M234.8 126.6 L217.8 119.2 M217.8 119.2 L218.7 111.5 M220.0 120.2 L220.8 112.5 M222.1 121.1 L222.9 113.4 M261.6 125.0 L245.5 115.8 M245.5 115.8 L247.2 108.3 M247.5 117.0 L249.2 109.4 M249.6 118.1 L251.2 110.6 M251.6 119.3 L253.2 111.7 M253.6 120.4 L254.4 116.7 M288.4 123.4 L272.2 114.5 M315.2 121.8 L299.2 112.6 M342.0 120.2 L326.1 110.7 M368.8 118.6 L353.6 108.0 M353.6 108.0 L356.0 100.6 M355.5 109.3 L357.9 101.9 M357.4 110.6 L359.8 103.3 M359.3 112.0 L361.7 104.6 M361.2 113.3 L362.4 109.6 M395.6 117.0 L380.2 106.7 M380.2 106.7 L382.4 99.3 M382.1 108.0 L384.3 100.6 M384.1 109.3 L386.2 101.8 M386.0 110.6 L388.2 103.1 M387.9 111.9 L389.0 108.1 M422.4 115.4 L407.4 104.6 M21.9 164.9 L9.5 151.2 M9.5 151.2 L13.5 144.5 M48.7 163.3 L37.1 148.9 M37.1 148.9 L41.3 142.5 M75.5 161.7 L60.2 151.3 M60.2 151.3 L62.5 143.9 M102.3 160.1 L86.9 149.8 M86.9 149.8 L89.1 142.4 M88.8 151.1 L91.0 143.7 M129.1 158.5 L114.1 147.6 M114.1 147.6 L116.6 140.3 M116.0 149.0 L117.2 145.3 M155.9 156.9 L142.1 144.6 M142.1 144.6 L145.3 137.5 M182.7 155.3 L171.7 140.4 M171.7 140.4 L176.2 134.1 M209.5 153.7 L198.1 139.1 M198.1 139.1 L202.5 132.7 M199.6 140.9 L204.0 134.5 M201.0 142.7 L203.2 139.5 M236.3 152.0 L219.4 144.6 M219.4 144.6 L220.2 136.9 M221.5 145.5 L222.3 137.8 M263.1 150.4 L246.1 143.3 M246.1 143.3 L246.8 135.6 M248.2 144.2 L248.9 136.5 M250.3 145.1 L250.7 141.2 M289.9 148.8 L272.9 141.5 M272.9 141.5 L273.7 133.8 M275.0 142.4 L275.8 134.7 M277.2 143.4 L278.0 135.6 M316.7 147.2 L299.9 139.4 M299.9 139.4 L301.0 131.7 M302.0 140.4 L303.1 132.7 M304.1 141.4 L305.2 133.7 M343.5 145.6 L327.0 137.3 M327.0 137.3 L328.3 129.6 M329.1 138.3 L330.4 130.7 M331.1 139.3 L332.4 131.7 M333.2 140.4 L333.8 136.6 M370.3 144.0 L354.1 135.1 M354.1 135.1 L355.6 127.5 M356.1 136.2 L357.7 128.6 M358.2 137.3 L359.7 129.7 M360.2 138.4 L361.7 130.8 M397.1 142.4 L381.2 132.9 M381.2 132.9 L383.0 125.4 M383.2 134.1 L385.0 126.6 M385.2 135.3 L387.0 127.7 M387.2 136.5 L389.0 128.9 M389.2 137.7 L390.1 133.9 M423.9 140.8 L407.3 132.7 M-3.4 191.9 L-16.6 179.0 M-16.6 179.0 L-13.2 172.1 M23.4 190.3 L11.1 176.5 M11.1 176.5 L15.0 169.9 M50.2 188.7 L38.2 174.6 M38.2 174.6 L42.4 168.1 M77.0 187.1 L61.6 177.0 M61.6 177.0 L63.7 169.5 M103.8 185.5 L88.4 175.3 M88.4 175.3 L90.6 167.8 M90.3 176.6 L92.5 169.1 M130.6 183.9 L115.4 173.4 M115.4 173.4 L117.7 166.0 M157.4 182.3 L141.2 173.4 M141.2 173.4 L142.7 165.8 M184.2 180.7 L170.3 168.5 M170.3 168.5 L173.4 161.4 M211.0 179.1 L198.1 165.8 M198.1 165.8 L201.8 159.0 M199.8 167.5 L203.4 160.6 M201.4 169.1 L205.1 162.3 M237.8 177.4 L220.8 170.2 M220.8 170.2 L221.6 162.4 M264.6 175.8 L247.2 169.8 M247.2 169.8 L247.4 162.1 M291.4 174.2 L274.1 167.9 M274.1 167.9 L274.4 160.2 M276.2 168.7 L276.6 161.0 M278.4 169.5 L278.6 165.6 M318.2 172.6 L301.1 165.6 M301.1 165.6 L301.8 157.9 M303.3 166.5 L303.9 158.8 M305.4 167.4 L305.7 163.5 M345.0 171.0 L328.0 163.8 M328.0 163.8 L328.8 156.1 M330.1 164.7 L330.9 157.0 M332.3 165.6 L333.0 157.9 M334.4 166.5 L334.8 162.6 M371.8 169.4 L354.5 163.0 M354.5 163.0 L354.9 155.2 M356.7 163.8 L357.1 156.0 M358.8 164.6 L359.2 156.8 M361.0 165.4 L361.4 157.6 M398.6 167.8 L381.3 161.4 M381.3 161.4 L381.7 153.6 M383.5 162.2 L383.9 154.4 M385.6 163.0 L386.0 155.2 M387.8 163.8 L388.2 156.0 M390.0 164.6 L390.2 160.7 M425.4 166.2 L407.6 161.3 M407.6 161.3 L407.3 153.6 M409.8 161.9 L409.6 154.2 M412.1 162.5 L411.8 154.8 M414.3 163.1 L414.0 155.4 M416.5 163.7 L416.4 159.9 M-1.8 217.3 L-15.1 204.5 M-15.1 204.5 L-11.6 197.5 M25.0 215.7 L12.1 202.4 M12.1 202.4 L15.8 195.6 M51.8 214.1 L39.7 200.1 M39.7 200.1 L43.8 193.5 M78.6 212.5 L63.3 202.0 M63.3 202.0 L65.6 194.6 M105.4 210.9 L90.8 199.5 M90.8 199.5 L93.5 192.2 M132.2 209.3 L118.0 197.4 M118.0 197.4 L120.9 190.3 M159.0 207.7 L146.4 194.1 M146.4 194.1 L150.3 187.4 M185.8 206.1 L174.0 191.8 M174.0 191.8 L178.2 185.3 M212.6 204.5 L198.3 192.7 M198.3 192.7 L201.2 185.5 M200.0 194.2 L202.9 187.0 M201.8 195.7 L204.7 188.5 M239.4 202.8 L221.6 197.5 M221.6 197.5 L221.6 189.8 M223.9 198.2 L223.8 190.4 M226.1 198.9 L226.0 195.0 M266.2 201.2 L248.3 196.5 M248.3 196.5 L248.0 188.7 M250.5 197.1 L250.2 189.3 M293.0 199.6 L275.5 193.5 M275.5 193.5 L275.8 185.7 M277.7 194.2 L278.0 186.5 M319.8 198.0 L302.5 191.3 M302.5 191.3 L303.1 183.6 M304.7 192.2 L305.2 184.4 M306.8 193.0 L307.1 189.1 M346.6 196.4 L329.1 190.2 M329.1 190.2 L329.4 182.5 M331.3 191.0 L331.6 183.2 M333.5 191.8 L333.8 184.0 M373.4 194.8 L355.7 189.3 M355.7 189.3 L355.7 181.6 M357.9 190.0 L357.9 182.3 M360.1 190.7 L360.1 183.0 M362.3 191.4 L362.3 187.5 M400.2 193.2 L382.3 188.2 M382.3 188.2 L382.1 180.5 M384.6 188.8 L384.3 181.1 M386.8 189.5 L386.6 181.7 M389.0 190.1 L388.9 186.2 M427.0 191.6 L408.8 188.1 M408.8 188.1 L407.9 180.4 M411.1 188.5 L410.2 180.8 M413.3 189.0 L412.5 181.3 M415.6 189.4 L415.2 185.5 M-0.3 242.7 L-13.6 229.8 M-13.6 229.8 L-10.1 222.9 M26.5 241.1 L13.7 227.8 M13.7 227.8 L17.4 221.0 M53.3 239.5 L41.5 225.3 M41.5 225.3 L45.7 218.8 M80.1 237.9 L65.6 226.4 M65.6 226.4 L68.4 219.2 M106.9 236.3 L94.0 223.0 M94.0 223.0 L97.6 216.2 M133.7 234.7 L122.0 220.3 M122.0 220.3 L126.3 213.9 M123.5 222.1 L127.7 215.7 M160.5 233.1 L149.1 218.5 M149.1 218.5 L153.5 212.1 M150.5 220.3 L154.9 213.9 M151.9 222.2 L154.1 219.0 M187.3 231.5 L175.9 216.9 M175.9 216.9 L180.3 210.5 M177.3 218.7 L181.7 212.3 M178.7 220.5 L180.9 217.4 M214.1 229.9 L201.1 216.7 M201.1 216.7 L204.8 209.8 M202.7 218.3 L206.4 211.5 M240.9 228.2 L223.3 222.6 M223.3 222.6 L223.3 214.9 M225.5 223.3 L225.5 215.6 M227.7 224.0 L227.7 220.2 M267.7 226.6 L250.0 221.2 M250.0 221.2 L249.9 213.5 M252.2 221.9 L252.1 214.2 M254.4 222.6 L254.4 218.7 M294.5 225.0 L277.4 218.0 M277.4 218.0 L278.1 210.2 M279.5 218.8 L280.2 211.1 M281.7 219.7 L282.0 215.9 M321.3 223.4 L303.8 217.3 M303.8 217.3 L304.1 209.6 M306.0 218.1 L306.3 210.4 M308.2 218.9 L308.3 215.0 M348.1 221.8 L330.2 216.9 M330.2 216.9 L330.0 209.2 M332.5 217.5 L332.2 209.8 M334.7 218.1 L334.6 214.3 M374.9 220.2 L356.9 216.1 M356.9 216.1 L356.3 208.3 M359.1 216.6 L358.5 208.9 M361.4 217.1 L361.1 213.2 M401.7 218.6 L384.0 213.1 M384.0 213.1 L384.0 205.4 M386.2 213.8 L386.2 206.1 M388.4 214.5 L388.4 210.6 M1.2 268.1 L-12.0 255.2 M-12.0 255.2 L-8.5 248.3 M28.0 266.5 L15.3 253.1 M15.3 253.1 L19.0 246.3 M54.8 264.9 L43.2 250.5 M43.2 250.5 L47.5 244.1 M81.6 263.3 L67.4 251.5 M67.4 251.5 L70.3 244.3 M108.4 261.7 L95.5 248.4 M95.5 248.4 L99.2 241.6 M135.2 260.1 L123.7 245.6 M123.7 245.6 L128.1 239.2 M125.2 247.4 L129.5 241.0 M162.0 258.5 L150.3 244.2 M150.3 244.2 L154.6 237.7 M151.8 245.9 L156.0 239.5 M153.2 247.7 L157.5 241.3 M188.8 256.9 L177.5 242.2 M177.5 242.2 L182.0 235.9 M178.9 244.0 L183.4 237.7 M180.3 245.9 L182.6 242.7 M215.6 255.3 L204.4 240.5 M204.4 240.5 L208.9 234.2 M205.8 242.4 L210.3 236.1 M242.4 253.6 L225.4 246.3 M225.4 246.3 L226.2 238.6 M227.5 247.2 L228.3 239.5 M269.2 252.0 L251.7 246.1 M251.7 246.1 L251.9 238.4 M253.9 246.9 L254.1 239.1 M256.1 247.6 L256.2 243.7 M296.0 250.4 L278.8 243.7 M278.8 243.7 L279.3 236.0 M280.9 244.6 L281.4 236.8 M283.1 245.4 L283.6 237.7 M322.8 248.8 L305.1 243.5 M305.1 243.5 L305.0 235.8 M307.3 244.2 L307.2 236.4 M309.5 244.8 L309.4 237.1 M349.6 247.2 L331.3 244.9 M331.3 244.9 L329.9 237.3 M333.6 245.2 L332.2 237.5 M335.9 245.5 L335.2 241.6 M376.4 245.6 L358.1 242.8 M358.1 242.8 L357.0 235.1 M360.4 243.1 L359.3 235.5 M403.2 244.0 L385.2 239.8 M385.2 239.8 L384.6 232.1 M387.5 240.3 L386.9 232.6 M404.7 269.4 L386.7 265.3 M386.7 265.3 L386.1 257.5 M389.0 265.8 L388.4 258.1" fill="none" stroke="#000" stroke-width="1.3"/>
<path d="M105.1 -4.9 L111.3 -9.5 L108.8 -2.1 Z M130.2 -3.8 L135.6 -9.4 L134.4 -1.7 Z M157.6 -6.5 L163.3 -11.7 L161.6 -4.1 Z M185.2 -9.3 L191.3 -14.1 L189.0 -6.7 Z M210.9 -9.2 L216.5 -14.6 L215.0 -7.0 Z M237.6 -10.6 L243.2 -16.1 L241.7 -8.5 Z M79.4 22.6 L85.5 17.8 L83.2 25.3 Z M106.0 21.4 L112.0 16.4 L109.9 23.9 Z M131.4 22.4 L136.4 16.6 L135.6 24.3 Z M159.8 17.9 L165.8 13.1 L163.6 20.5 Z M187.1 15.5 L193.4 11.0 L190.8 18.3 Z M212.6 15.9 L218.3 10.6 L216.6 18.2 Z M239.2 14.7 L244.7 9.3 L243.3 16.9 Z M266.2 12.7 L271.9 7.4 L270.2 15.0 Z M293.4 10.4 L299.3 5.4 L297.3 12.9 Z M320.2 8.8 L326.1 3.7 L324.2 11.2 Z M347.3 6.8 L353.3 1.9 L351.1 9.3 Z M373.5 6.2 L379.2 0.9 L377.5 8.5 Z M400.6 4.0 L406.5 -1.0 L404.5 6.5 Z M107.2 47.4 L112.9 42.2 L111.1 49.7 Z M133.3 47.0 L138.6 41.4 L137.4 49.1 Z M161.6 42.9 L167.7 38.2 L165.3 45.6 Z M189.0 40.5 L195.4 36.1 L192.6 43.4 Z M214.2 41.3 L219.8 36.0 L218.2 43.6 Z M241.0 39.6 L246.7 34.3 L245.0 41.9 Z M267.8 38.0 L273.5 32.7 L271.8 40.3 Z M295.0 35.7 L300.9 30.7 L298.9 38.2 Z M164.1 67.0 L170.7 62.9 L167.6 70.0 Z M191.0 65.3 L197.6 61.2 L194.5 68.3 Z M215.2 67.5 L220.6 62.0 L219.3 69.6 Z M242.2 65.6 L247.7 60.1 L246.3 67.7 Z M269.3 63.4 L275.0 58.2 L273.3 65.7 Z M296.5 61.2 L302.4 56.1 L300.4 63.6 Z M323.5 59.2 L329.6 54.3 L327.4 61.7 Z M376.9 56.4 L382.8 51.3 L380.8 58.8 Z M404.2 54.0 L410.3 49.3 L408.0 56.7 Z M193.2 89.9 L200.0 86.3 L196.5 93.2 Z M216.5 93.5 L221.7 87.7 L220.7 95.4 Z M243.8 90.8 L249.4 85.4 L247.9 93.0 Z M271.0 88.6 L276.7 83.4 L274.9 90.9 Z M298.1 86.5 L304.0 81.5 L302.0 89.0 Z M325.0 84.6 L331.0 79.7 L328.9 87.2 Z M406.0 78.9 L412.3 74.4 L409.7 81.7 Z M272.2 114.5 L277.8 109.1 L276.2 116.7 Z M299.2 112.6 L304.9 107.3 L303.2 114.9 Z M326.1 110.7 L331.9 105.5 L330.1 113.1 Z M407.4 104.6 L413.6 99.9 L411.1 107.3 Z M407.3 132.7 L412.6 127.0 L411.5 134.7 Z" fill="#000" stroke="#000" stroke-width="1.3" stroke-linejoin="miter"/>
<path d="M212.5 111.4 h5.4 M215.2 108.7 v5.4" stroke="#2a0a0a" stroke-width="1.7" fill="none"/>
</g>
<rect x="0" y="0" width="412.2" height="258.5" fill="none" stroke="#000" stroke-width="1.07"/>
</g>
</g></svg>
<svg class="pan" style="left:970.0px;top:80.9px" width="414.2" height="260.5" viewBox="0 0 414.2 260.5">
<g transform="translate(1,1)">
<g id="pc2">
<clipPath id="cp2"><rect x="0" y="0" width="412.2" height="258.5"/></clipPath>
<g clip-path="url(#cp2)">
<g filter="url(#fld)">
<path fill="rgb(24,24,24)" d="M-30.0 169.0H10.1V179.3H-30.0ZM-30.0 179.0H19.9V189.2H-30.0ZM-30.0 188.9H29.7V199.1H-30.0ZM-30.0 198.8H39.6V209.1H-30.0ZM-30.0 208.8H69.0V219.0H-30.0ZM-30.0 218.7H78.8V229.0H-30.0ZM-30.0 228.7H88.6V238.9H-30.0ZM-30.0 238.6H88.6V248.9H-30.0ZM-30.0 248.6H88.6V288.8H-30.0Z"/>
<path fill="rgb(28,28,28)" d="M-30.0 159.1H10.1V169.3H-30.0ZM9.8 169.0H19.9V179.3H9.8ZM19.6 179.0H29.7V189.2H19.6ZM29.4 188.9H39.6V199.1H29.4ZM39.3 198.8H69.0V209.1H39.3ZM68.7 208.8H78.8V219.0H68.7ZM78.5 218.7H88.6V229.0H78.5ZM88.3 228.7H98.4V238.9H88.3ZM88.3 238.6H98.4V248.9H88.3ZM88.3 248.6H98.4V288.8H88.3Z"/>
<path fill="rgb(32,32,32)" d="M9.8 159.1H19.9V169.3H9.8ZM19.6 169.0H29.7V179.3H19.6ZM29.4 179.0H39.6V189.2H29.4ZM39.3 188.9H49.4V199.1H39.3ZM68.7 198.8H78.8V209.1H68.7ZM78.5 208.8H88.6V219.0H78.5ZM88.3 218.7H98.4V229.0H88.3Z"/>
<path fill="rgb(36,36,36)" d="M-30.0 149.1H10.1V159.4H-30.0ZM49.1 188.9H78.8V199.1H49.1ZM78.5 198.8H88.6V209.1H78.5ZM98.1 228.7H108.3V238.9H98.1ZM98.1 238.6H108.3V248.9H98.1ZM98.1 248.6H108.3V288.8H98.1Z"/>
<path fill="rgb(40,40,40)" d="M9.8 149.1H19.9V159.4H9.8ZM19.6 159.1H29.7V169.3H19.6ZM29.4 169.0H39.6V179.3H29.4ZM39.3 179.0H49.4V189.2H39.3ZM78.5 188.9H88.6V199.1H78.5ZM88.3 208.8H98.4V219.0H88.3ZM98.1 218.7H108.3V229.0H98.1Z"/>
<path fill="rgb(44,44,44)" d="M-30.0 139.2H10.1V149.4H-30.0ZM49.1 179.0H88.6V189.2H49.1ZM88.3 188.9H98.4V199.1H88.3ZM88.3 198.8H98.4V209.1H88.3ZM108.0 228.7H118.1V238.9H108.0ZM108.0 238.6H118.1V248.9H108.0ZM108.0 248.6H118.1V288.8H108.0Z"/>
<path fill="rgb(48,48,48)" d="M9.8 139.2H19.9V149.4H9.8ZM19.6 149.1H29.7V159.4H19.6ZM29.4 159.1H39.6V169.3H29.4ZM39.3 169.0H49.4V179.3H39.3ZM265.0 169.0H275.1V179.3H265.0ZM88.3 179.0H98.4V189.2H88.3ZM157.0 198.8H177.0V209.1H157.0ZM98.1 208.8H108.3V219.0H98.1ZM108.0 218.7H118.1V229.0H108.0Z"/>
<path fill="rgb(52,52,52)" d="M-30.0 129.2H19.9V139.5H-30.0ZM19.6 139.2H29.7V149.4H19.6ZM29.4 149.1H39.6V159.4H29.4ZM39.3 159.1H49.4V169.3H39.3ZM255.2 159.1H275.1V169.3H255.2ZM49.1 169.0H98.4V179.3H49.1ZM255.2 169.0H265.3V179.3H255.2ZM98.1 179.0H108.3V189.2H98.1ZM98.1 188.9H108.3V199.1H98.1ZM98.1 198.8H108.3V209.1H98.1ZM108.0 208.8H118.1V219.0H108.0ZM166.8 208.8H177.0V219.0H166.8ZM117.8 218.7H127.9V229.0H117.8ZM117.8 228.7H127.9V238.9H117.8ZM117.8 238.6H127.9V248.9H117.8ZM117.8 248.6H127.9V288.8H117.8Z"/>
<path fill="rgb(56,56,56)" d="M19.6 129.2H29.7V139.5H19.6ZM29.4 139.2H39.6V149.4H29.4ZM39.3 149.1H49.4V159.4H39.3ZM49.1 159.1H59.2V169.3H49.1ZM98.1 159.1H118.1V169.3H98.1ZM157.0 159.1H167.1V169.3H157.0ZM245.4 159.1H255.5V169.3H245.4ZM274.8 159.1H284.9V169.3H274.8ZM98.1 169.0H167.1V179.3H98.1ZM245.4 169.0H255.5V179.3H245.4ZM274.8 169.0H284.9V179.3H274.8ZM108.0 179.0H167.1V189.2H108.0ZM274.8 179.0H284.9V189.2H274.8ZM108.0 188.9H137.7V199.1H108.0ZM147.2 188.9H167.1V199.1H147.2ZM108.0 198.8H127.9V209.1H108.0ZM117.8 208.8H127.9V219.0H117.8ZM157.0 208.8H167.1V219.0H157.0ZM176.7 208.8H186.8V219.0H176.7ZM225.7 228.7H245.7V238.9H225.7ZM225.7 238.6H245.7V248.9H225.7ZM225.7 248.6H245.7V288.8H225.7Z"/>
<path fill="rgb(60,60,60)" d="M-30.0 119.3H29.7V129.6H-30.0ZM29.4 129.2H39.6V139.5H29.4ZM39.3 139.2H49.4V149.4H39.3ZM49.1 149.1H59.2V159.4H49.1ZM98.1 149.1H118.1V159.4H98.1ZM157.0 149.1H177.0V159.4H157.0ZM58.9 159.1H98.4V169.3H58.9ZM117.8 159.1H157.3V169.3H117.8ZM284.6 169.0H294.7V179.3H284.6ZM284.6 179.0H294.7V189.2H284.6ZM137.4 188.9H147.5V199.1H137.4ZM166.8 188.9H177.0V199.1H166.8ZM274.8 188.9H294.7V199.1H274.8ZM127.6 198.8H137.7V209.1H127.6ZM176.7 198.8H186.8V209.1H176.7ZM274.8 198.8H294.7V209.1H274.8ZM127.6 208.8H137.7V219.0H127.6ZM274.8 208.8H294.7V219.0H274.8ZM127.6 218.7H137.7V229.0H127.6ZM225.7 218.7H245.7V229.0H225.7ZM274.8 218.7H294.7V229.0H274.8ZM363.1 218.7H373.2V229.0H363.1ZM127.6 228.7H137.7V238.9H127.6ZM245.4 228.7H255.5V238.9H245.4ZM363.1 228.7H442.5V238.9H363.1ZM127.6 238.6H137.7V248.9H127.6ZM245.4 238.6H255.5V248.9H245.4ZM127.6 248.6H137.7V288.8H127.6ZM245.4 248.6H255.5V288.8H245.4Z"/>
<path fill="rgb(64,64,64)" d="M29.4 119.3H39.6V129.6H29.4ZM39.3 129.2H49.4V139.5H39.3ZM49.1 139.2H59.2V149.4H49.1ZM98.1 139.2H118.1V149.4H98.1ZM58.9 149.1H69.0V159.4H58.9ZM88.3 149.1H98.4V159.4H88.3ZM117.8 149.1H127.9V159.4H117.8ZM147.2 149.1H157.3V159.4H147.2ZM255.2 149.1H275.1V159.4H255.2ZM166.8 159.1H177.0V169.3H166.8ZM235.5 159.1H245.7V169.3H235.5ZM284.6 159.1H294.7V169.3H284.6ZM166.8 169.0H177.0V179.3H166.8ZM235.5 169.0H245.7V179.3H235.5ZM166.8 179.0H177.0V189.2H166.8ZM255.2 179.0H275.1V189.2H255.2ZM137.4 198.8H157.3V209.1H137.4ZM147.2 208.8H157.3V219.0H147.2ZM186.5 208.8H196.6V219.0H186.5ZM157.0 218.7H177.0V229.0H157.0ZM215.9 218.7H226.0V229.0H215.9ZM245.4 218.7H255.5V229.0H245.4ZM353.3 218.7H363.4V229.0H353.3ZM372.9 218.7H442.5V229.0H372.9ZM215.9 228.7H226.0V238.9H215.9ZM274.8 228.7H294.7V238.9H274.8ZM353.3 228.7H363.4V238.9H353.3ZM215.9 238.6H226.0V248.9H215.9Z"/>
<path fill="rgb(68,68,68)" d="M-30.0 109.4H39.6V119.6H-30.0ZM39.3 119.3H49.4V129.6H39.3ZM49.1 129.2H59.2V139.5H49.1ZM98.1 129.2H108.3V139.5H98.1ZM58.9 139.2H69.0V149.4H58.9ZM88.3 139.2H98.4V149.4H88.3ZM157.0 139.2H177.0V149.4H157.0ZM68.7 149.1H88.6V159.4H68.7ZM127.6 149.1H147.5V159.4H127.6ZM245.4 149.1H255.5V159.4H245.4ZM274.8 149.1H284.9V159.4H274.8ZM294.4 169.0H304.5V179.3H294.4ZM245.4 179.0H255.5V189.2H245.4ZM294.4 179.0H304.5V189.2H294.4ZM265.0 188.9H275.1V199.1H265.0ZM294.4 188.9H304.5V199.1H294.4ZM265.0 198.8H275.1V209.1H265.0ZM294.4 198.8H304.5V209.1H294.4ZM137.4 208.8H147.5V219.0H137.4ZM225.7 208.8H255.5V219.0H225.7ZM265.0 208.8H275.1V219.0H265.0ZM294.4 208.8H304.5V219.0H294.4ZM353.3 208.8H363.4V219.0H353.3ZM137.4 218.7H147.5V229.0H137.4ZM176.7 218.7H186.8V229.0H176.7ZM255.2 218.7H275.1V229.0H255.2ZM294.4 218.7H304.5V229.0H294.4ZM343.5 218.7H353.6V229.0H343.5ZM137.4 228.7H147.5V238.9H137.4ZM255.2 228.7H275.1V238.9H255.2ZM343.5 228.7H353.6V238.9H343.5ZM137.4 238.6H147.5V248.9H137.4ZM255.2 238.6H265.3V248.9H255.2ZM274.8 238.6H284.9V248.9H274.8ZM353.3 238.6H442.5V248.9H353.3ZM137.4 248.6H147.5V288.8H137.4ZM215.9 248.6H226.0V288.8H215.9ZM255.2 248.6H265.3V288.8H255.2Z"/>
<path fill="rgb(72,72,72)" d="M-30.0 89.5H29.7V99.7H-30.0ZM-30.0 99.4H39.6V109.7H-30.0ZM39.3 109.4H49.4V119.6H39.3ZM49.1 119.3H59.2V129.6H49.1ZM78.5 119.3H98.4V129.6H78.5ZM58.9 129.2H98.4V139.5H58.9ZM108.0 129.2H118.1V139.5H108.0ZM68.7 139.2H88.6V149.4H68.7ZM117.8 139.2H127.9V149.4H117.8ZM147.2 139.2H157.3V149.4H147.2ZM176.7 139.2H186.8V149.4H176.7ZM176.7 149.1H186.8V159.4H176.7ZM235.5 149.1H245.7V159.4H235.5ZM284.6 149.1H294.7V159.4H284.6ZM225.7 159.1H235.8V169.3H225.7ZM294.4 159.1H304.5V169.3H294.4ZM225.7 169.0H235.8V179.3H225.7ZM235.5 179.0H245.7V189.2H235.5ZM304.2 179.0H314.4V189.2H304.2ZM176.7 188.9H186.8V199.1H176.7ZM245.4 188.9H265.3V199.1H245.4ZM304.2 188.9H324.2V199.1H304.2ZM186.5 198.8H196.6V209.1H186.5ZM235.5 198.8H265.3V209.1H235.5ZM304.2 198.8H334.0V209.1H304.2ZM215.9 208.8H226.0V219.0H215.9ZM255.2 208.8H265.3V219.0H255.2ZM304.2 208.8H314.4V219.0H304.2ZM333.7 208.8H353.6V219.0H333.7ZM363.1 208.8H373.2V219.0H363.1ZM147.2 218.7H157.3V229.0H147.2ZM186.5 218.7H216.2V229.0H186.5ZM147.2 228.7H157.3V238.9H147.2ZM176.7 228.7H196.6V238.9H176.7ZM206.1 228.7H216.2V238.9H206.1ZM294.4 228.7H304.5V238.9H294.4ZM265.0 238.6H275.1V248.9H265.0ZM284.6 238.6H294.7V248.9H284.6ZM343.5 238.6H353.6V248.9H343.5ZM265.0 248.6H284.9V288.8H265.0ZM343.5 248.6H442.5V288.8H343.5Z"/>
<path fill="rgb(76,76,76)" d="M-30.0 79.5H29.7V89.8H-30.0ZM29.4 89.5H39.6V99.7H29.4ZM39.3 99.4H49.4V109.7H39.3ZM49.1 109.4H59.2V119.6H49.1ZM78.5 109.4H98.4V119.6H78.5ZM58.9 119.3H78.8V129.6H58.9ZM98.1 119.3H108.3V129.6H98.1ZM127.6 139.2H147.5V149.4H127.6ZM176.7 159.1H186.8V169.3H176.7ZM304.2 169.0H314.4V179.3H304.2ZM314.1 179.0H324.2V189.2H314.1ZM235.5 188.9H245.7V199.1H235.5ZM323.9 188.9H334.0V199.1H323.9ZM225.7 198.8H235.8V209.1H225.7ZM333.7 198.8H363.4V209.1H333.7ZM314.1 208.8H334.0V219.0H314.1ZM372.9 208.8H383.1V219.0H372.9ZM304.2 218.7H314.4V229.0H304.2ZM333.7 218.7H343.8V229.0H333.7ZM157.0 228.7H177.0V238.9H157.0ZM333.7 228.7H343.8V238.9H333.7ZM147.2 238.6H157.3V248.9H147.2ZM176.7 238.6H186.8V248.9H176.7ZM333.7 238.6H343.8V248.9H333.7ZM147.2 248.6H157.3V288.8H147.2ZM176.7 248.6H186.8V288.8H176.7ZM284.6 248.6H294.7V288.8H284.6ZM333.7 248.6H343.8V288.8H333.7Z"/>
<path fill="rgb(80,80,80)" d="M29.4 79.5H39.6V89.8H29.4ZM39.3 89.5H49.4V99.7H39.3ZM49.1 99.4H59.2V109.7H49.1ZM58.9 109.4H78.8V119.6H58.9ZM98.1 109.4H108.3V119.6H98.1ZM108.0 119.3H118.1V129.6H108.0ZM117.8 129.2H127.9V139.5H117.8ZM157.0 129.2H177.0V139.5H157.0ZM225.7 149.1H235.8V159.4H225.7ZM294.4 149.1H304.5V159.4H294.4ZM304.2 159.1H314.4V169.3H304.2ZM176.7 169.0H186.8V179.3H176.7ZM215.9 169.0H226.0V179.3H215.9ZM314.1 169.0H324.2V179.3H314.1ZM176.7 179.0H186.8V189.2H176.7ZM225.7 179.0H235.8V189.2H225.7ZM323.9 179.0H334.0V189.2H323.9ZM186.5 188.9H196.6V199.1H186.5ZM225.7 188.9H235.8V199.1H225.7ZM333.7 188.9H343.8V199.1H333.7ZM196.3 198.8H206.4V209.1H196.3ZM215.9 198.8H226.0V209.1H215.9ZM363.1 198.8H373.2V209.1H363.1ZM196.3 208.8H216.2V219.0H196.3ZM382.8 208.8H442.5V219.0H382.8ZM314.1 218.7H334.0V229.0H314.1ZM196.3 228.7H206.4V238.9H196.3ZM304.2 228.7H314.4V238.9H304.2ZM157.0 238.6H177.0V248.9H157.0ZM186.5 238.6H196.6V248.9H186.5ZM294.4 238.6H304.5V248.9H294.4ZM186.5 248.6H196.6V288.8H186.5Z"/>
<path fill="rgb(84,84,84)" d="M-30.0 69.6H29.7V79.8H-30.0ZM49.1 89.5H59.2V99.7H49.1ZM58.9 99.4H69.0V109.7H58.9ZM78.5 99.4H88.6V109.7H78.5ZM127.6 129.2H157.3V139.5H127.6ZM176.7 129.2H186.8V139.5H176.7ZM245.4 139.2H255.5V149.4H245.4ZM274.8 139.2H284.9V149.4H274.8ZM186.5 149.1H196.6V159.4H186.5ZM215.9 159.1H226.0V169.3H215.9ZM215.9 188.9H226.0V199.1H215.9ZM343.5 188.9H363.4V199.1H343.5ZM206.1 198.8H216.2V209.1H206.1ZM314.1 228.7H334.0V238.9H314.1ZM304.2 238.6H314.4V248.9H304.2ZM323.9 238.6H334.0V248.9H323.9ZM157.0 248.6H177.0V288.8H157.0ZM294.4 248.6H304.5V288.8H294.4ZM323.9 248.6H334.0V288.8H323.9Z"/>
<path fill="rgb(88,88,88)" d="M29.4 69.6H39.6V79.8H29.4ZM39.3 79.5H49.4V89.8H39.3ZM58.9 89.5H69.0V99.7H58.9ZM68.7 99.4H78.8V109.7H68.7ZM88.3 99.4H98.4V109.7H88.3ZM108.0 109.4H118.1V119.6H108.0ZM117.8 119.3H127.9V129.6H117.8ZM186.5 139.2H196.6V149.4H186.5ZM235.5 139.2H245.7V149.4H235.5ZM255.2 139.2H275.1V149.4H255.2ZM284.6 139.2H294.7V149.4H284.6ZM215.9 149.1H226.0V159.4H215.9ZM304.2 149.1H314.4V159.4H304.2ZM186.5 159.1H196.6V169.3H186.5ZM314.1 159.1H324.2V169.3H314.1ZM323.9 169.0H334.0V179.3H323.9ZM186.5 179.0H196.6V189.2H186.5ZM206.1 179.0H226.0V189.2H206.1ZM333.7 179.0H343.8V189.2H333.7ZM196.3 188.9H216.2V199.1H196.3ZM363.1 188.9H373.2V199.1H363.1ZM372.9 198.8H383.1V209.1H372.9ZM196.3 238.6H216.2V248.9H196.3ZM314.1 238.6H324.2V248.9H314.1ZM304.2 248.6H324.2V288.8H304.2Z"/>
<path fill="rgb(92,92,92)" d="M49.1 79.5H69.0V89.8H49.1ZM68.7 89.5H78.8V99.7H68.7ZM127.6 119.3H167.1V129.6H127.6ZM294.4 139.2H304.5V149.4H294.4ZM186.5 169.0H196.6V179.3H186.5ZM196.3 179.0H206.4V189.2H196.3ZM343.5 179.0H353.6V189.2H343.5ZM382.8 198.8H442.5V209.1H382.8ZM206.1 248.6H216.2V288.8H206.1Z"/>
<path fill="rgb(96,96,96)" d="M-30.0 59.7H29.7V69.9H-30.0ZM39.3 69.6H49.4V79.8H39.3ZM98.1 99.4H108.3V109.7H98.1ZM117.8 109.4H127.9V119.6H117.8ZM166.8 119.3H186.8V129.6H166.8ZM186.5 129.2H196.6V139.5H186.5ZM225.7 139.2H235.8V149.4H225.7ZM196.3 149.1H206.4V159.4H196.3ZM314.1 149.1H324.2V159.4H314.1ZM206.1 159.1H216.2V169.3H206.1ZM323.9 159.1H334.0V169.3H323.9ZM196.3 169.0H216.2V179.3H196.3ZM333.7 169.0H343.8V179.3H333.7ZM353.3 179.0H363.4V189.2H353.3ZM372.9 188.9H383.1V199.1H372.9ZM196.3 248.6H206.4V288.8H196.3Z"/>
<path fill="rgb(100,100,100)" d="M29.4 59.7H39.6V69.9H29.4ZM49.1 69.6H69.0V79.8H49.1ZM68.7 79.5H78.8V89.8H68.7ZM127.6 109.4H167.1V119.6H127.6ZM304.2 139.2H314.4V149.4H304.2ZM206.1 149.1H216.2V159.4H206.1ZM196.3 159.1H206.4V169.3H196.3ZM363.1 179.0H373.2V189.2H363.1ZM382.8 188.9H442.5V199.1H382.8Z"/>
<path fill="rgb(104,104,104)" d="M39.3 59.7H49.4V69.9H39.3ZM78.5 89.5H88.6V99.7H78.5ZM108.0 99.4H118.1V109.7H108.0ZM166.8 109.4H177.0V119.6H166.8ZM196.3 139.2H206.4V149.4H196.3ZM215.9 139.2H226.0V149.4H215.9ZM323.9 149.1H334.0V159.4H323.9ZM333.7 159.1H343.8V169.3H333.7ZM343.5 169.0H353.6V179.3H343.5Z"/>
<path fill="rgb(108,108,108)" d="M58.9 -30.0H78.8V10.2H58.9ZM49.1 59.7H69.0V69.9H49.1ZM68.7 69.6H78.8V79.8H68.7ZM117.8 99.4H127.9V109.7H117.8ZM284.6 129.2H294.7V139.5H284.6ZM314.1 139.2H324.2V149.4H314.1ZM353.3 169.0H363.4V179.3H353.3ZM372.9 179.0H383.1V189.2H372.9Z"/>
<path fill="rgb(112,112,112)" d="M58.9 9.9H78.8V20.2H58.9ZM-30.0 49.7H39.6V60.0H-30.0ZM88.3 89.5H98.4V99.7H88.3ZM127.6 99.4H137.7V109.7H127.6ZM235.5 129.2H255.5V139.5H235.5ZM274.8 129.2H284.9V139.5H274.8ZM294.4 129.2H304.5V139.5H294.4ZM206.1 139.2H216.2V149.4H206.1ZM333.7 149.1H343.8V159.4H333.7ZM343.5 159.1H353.6V169.3H343.5ZM382.8 179.0H442.5V189.2H382.8Z"/>
<path fill="rgb(116,116,116)" d="M49.1 -30.0H59.2V10.2H49.1ZM78.5 -30.0H88.6V10.2H78.5ZM402.4 19.9H442.5V30.1H402.4ZM402.4 29.8H442.5V40.1H402.4ZM39.3 49.7H69.0V60.0H39.3ZM68.7 59.7H78.8V69.9H68.7ZM78.5 79.5H88.6V89.8H78.5ZM137.4 99.4H167.1V109.7H137.4ZM186.5 119.3H196.6V129.6H186.5ZM255.2 129.2H275.1V139.5H255.2ZM304.2 129.2H314.4V139.5H304.2ZM323.9 139.2H334.0V149.4H323.9ZM363.1 169.0H373.2V179.3H363.1Z"/>
<path fill="rgb(120,120,120)" d="M29.4 -30.0H49.4V10.2H29.4ZM49.1 9.9H59.2V20.2H49.1ZM78.5 9.9H88.6V20.2H78.5ZM58.9 19.9H78.8V30.1H58.9ZM392.6 19.9H402.7V30.1H392.6ZM392.6 29.8H402.7V40.1H392.6ZM58.9 39.8H69.0V50.0H58.9ZM98.1 89.5H108.3V99.7H98.1ZM166.8 99.4H177.0V109.7H166.8ZM176.7 109.4H186.8V119.6H176.7ZM225.7 129.2H235.8V139.5H225.7ZM333.7 139.2H343.8V149.4H333.7ZM343.5 149.1H353.6V159.4H343.5ZM353.3 159.1H363.4V169.3H353.3Z"/>
<path fill="rgb(124,124,124)" d="M19.6 -30.0H29.7V10.2H19.6ZM29.4 9.9H49.4V20.2H29.4ZM382.8 19.9H392.9V30.1H382.8ZM58.9 29.8H78.8V40.1H58.9ZM382.8 29.8H392.9V40.1H382.8ZM-30.0 39.8H59.2V50.0H-30.0ZM68.7 49.7H78.8V60.0H68.7ZM78.5 69.6H88.6V79.8H78.5ZM108.0 89.5H118.1V99.7H108.0ZM314.1 129.2H324.2V139.5H314.1ZM372.9 169.0H383.1V179.3H372.9Z"/>
<path fill="rgb(128,128,128)" d="M88.3 -30.0H98.4V10.2H88.3ZM19.6 9.9H29.7V20.2H19.6ZM49.1 19.9H59.2V30.1H49.1ZM78.5 19.9H88.6V30.1H78.5ZM353.3 19.9H383.1V30.1H353.3ZM49.1 29.8H59.2V40.1H49.1ZM353.3 29.8H383.1V40.1H353.3ZM68.7 39.8H78.8V50.0H68.7ZM88.3 79.5H98.4V89.8H88.3ZM117.8 89.5H127.9V99.7H117.8ZM284.6 119.3H304.5V129.6H284.6ZM196.3 129.2H206.4V139.5H196.3ZM215.9 129.2H226.0V139.5H215.9ZM323.9 129.2H334.0V139.5H323.9ZM343.5 139.2H353.6V149.4H343.5ZM353.3 149.1H363.4V159.4H353.3ZM363.1 159.1H373.2V169.3H363.1ZM382.8 169.0H442.5V179.3H382.8Z"/>
<path fill="rgb(131,131,131)" d="M9.8 -30.0H19.9V10.2H9.8ZM9.8 9.9H19.9V20.2H9.8ZM88.3 9.9H98.4V20.2H88.3ZM19.6 19.9H49.4V30.1H19.6ZM343.5 19.9H353.6V30.1H343.5ZM-30.0 29.8H49.4V40.1H-30.0ZM343.5 29.8H353.6V40.1H343.5ZM78.5 59.7H88.6V69.9H78.5ZM127.6 89.5H137.7V99.7H127.6ZM274.8 119.3H284.9V129.6H274.8ZM304.2 119.3H314.4V129.6H304.2ZM333.7 129.2H343.8V139.5H333.7Z"/>
<path fill="rgb(135,135,135)" d="M-30.0 -30.0H10.1V10.2H-30.0ZM-30.0 9.9H10.1V20.2H-30.0ZM-30.0 19.9H19.9V30.1H-30.0ZM88.3 19.9H98.4V30.1H88.3ZM333.7 19.9H343.8V30.1H333.7ZM78.5 29.8H88.6V40.1H78.5ZM333.7 29.8H343.8V40.1H333.7ZM88.3 69.6H98.4V79.8H88.3ZM98.1 79.5H108.3V89.8H98.1ZM137.4 89.5H147.5V99.7H137.4ZM176.7 99.4H186.8V109.7H176.7ZM235.5 119.3H255.5V129.6H235.5ZM314.1 119.3H324.2V129.6H314.1ZM206.1 129.2H216.2V139.5H206.1ZM343.5 129.2H353.6V139.5H343.5ZM353.3 139.2H363.4V149.4H353.3ZM363.1 149.1H373.2V159.4H363.1ZM372.9 159.1H383.1V169.3H372.9Z"/>
<path fill="rgb(139,139,139)" d="M392.6 9.9H442.5V20.2H392.6ZM323.9 19.9H334.0V30.1H323.9ZM78.5 39.8H88.6V50.0H78.5ZM392.6 39.8H442.5V50.0H392.6ZM78.5 49.7H88.6V60.0H78.5ZM108.0 79.5H118.1V89.8H108.0ZM147.2 89.5H167.1V99.7H147.2ZM186.5 109.4H196.6V119.6H186.5ZM255.2 119.3H275.1V129.6H255.2ZM323.9 119.3H343.8V129.6H323.9ZM382.8 159.1H442.5V169.3H382.8Z"/>
<path fill="rgb(143,143,143)" d="M98.1 -30.0H108.3V10.2H98.1ZM98.1 9.9H108.3V20.2H98.1ZM363.1 9.9H392.9V20.2H363.1ZM88.3 29.8H98.4V40.1H88.3ZM323.9 29.8H334.0V40.1H323.9ZM363.1 39.8H392.9V50.0H363.1ZM88.3 59.7H98.4V69.9H88.3ZM98.1 69.6H108.3V79.8H98.1ZM117.8 79.5H127.9V89.8H117.8ZM166.8 89.5H186.8V99.7H166.8ZM284.6 109.4H314.4V119.6H284.6ZM225.7 119.3H235.8V129.6H225.7ZM343.5 119.3H353.6V129.6H343.5ZM353.3 129.2H363.4V139.5H353.3ZM363.1 139.2H373.2V149.4H363.1ZM372.9 149.1H383.1V159.4H372.9Z"/>
<path fill="rgb(147,147,147)" d="M353.3 9.9H363.4V20.2H353.3ZM98.1 19.9H108.3V30.1H98.1ZM314.1 19.9H324.2V30.1H314.1ZM353.3 39.8H363.4V50.0H353.3ZM127.6 79.5H137.7V89.8H127.6ZM274.8 109.4H284.9V119.6H274.8ZM314.1 109.4H353.6V119.6H314.1ZM196.3 119.3H206.4V129.6H196.3ZM353.3 119.3H363.4V129.6H353.3ZM363.1 129.2H373.2V139.5H363.1ZM372.9 139.2H383.1V149.4H372.9ZM382.8 149.1H442.5V159.4H382.8Z"/>
<path fill="rgb(151,151,151)" d="M363.1 -30.0H442.5V10.2H363.1ZM343.5 9.9H353.6V20.2H343.5ZM98.1 29.8H108.3V40.1H98.1ZM314.1 29.8H324.2V40.1H314.1ZM88.3 39.8H98.4V50.0H88.3ZM343.5 39.8H353.6V50.0H343.5ZM88.3 49.7H98.4V60.0H88.3ZM157.0 49.7H167.1V60.0H157.0ZM98.1 59.7H108.3V69.9H98.1ZM108.0 69.6H118.1V79.8H108.0ZM137.4 79.5H147.5V89.8H137.4ZM157.0 79.5H177.0V89.8H157.0ZM353.3 109.4H363.4V119.6H353.3ZM215.9 119.3H226.0V129.6H215.9ZM363.1 119.3H373.2V129.6H363.1ZM372.9 129.2H383.1V139.5H372.9ZM382.8 139.2H392.9V149.4H382.8Z"/>
<path fill="rgb(155,155,155)" d="M353.3 -30.0H363.4V10.2H353.3ZM333.7 9.9H343.8V20.2H333.7ZM304.2 19.9H314.4V30.1H304.2ZM147.2 49.7H157.3V60.0H147.2ZM363.1 49.7H442.5V60.0H363.1ZM157.0 59.7H167.1V69.9H157.0ZM117.8 69.6H127.9V79.8H117.8ZM157.0 69.6H167.1V79.8H157.0ZM147.2 79.5H157.3V89.8H147.2ZM186.5 99.4H196.6V109.7H186.5ZM284.6 99.4H363.4V109.7H284.6ZM245.4 109.4H255.5V119.6H245.4ZM265.0 109.4H275.1V119.6H265.0ZM363.1 109.4H373.2V119.6H363.1ZM372.9 119.3H383.1V129.6H372.9ZM382.8 129.2H392.9V139.5H382.8ZM392.6 139.2H442.5V149.4H392.6Z"/>
<path fill="rgb(159,159,159)" d="M108.0 -30.0H118.1V10.2H108.0ZM108.0 9.9H118.1V20.2H108.0ZM323.9 9.9H334.0V20.2H323.9ZM265.0 19.9H304.5V30.1H265.0ZM265.0 29.8H294.7V40.1H265.0ZM304.2 29.8H314.4V40.1H304.2ZM98.1 39.8H108.3V50.0H98.1ZM147.2 39.8H167.1V50.0H147.2ZM333.7 39.8H343.8V50.0H333.7ZM98.1 49.7H108.3V60.0H98.1ZM137.4 49.7H147.5V60.0H137.4ZM166.8 49.7H177.0V60.0H166.8ZM353.3 49.7H363.4V60.0H353.3ZM108.0 59.7H118.1V69.9H108.0ZM147.2 59.7H157.3V69.9H147.2ZM166.8 59.7H177.0V69.9H166.8ZM127.6 69.6H137.7V79.8H127.6ZM147.2 69.6H157.3V79.8H147.2ZM166.8 69.6H177.0V79.8H166.8ZM176.7 79.5H186.8V89.8H176.7ZM274.8 99.4H284.9V109.7H274.8ZM363.1 99.4H373.2V109.7H363.1ZM235.5 109.4H245.7V119.6H235.5ZM255.2 109.4H265.3V119.6H255.2ZM372.9 109.4H383.1V119.6H372.9ZM206.1 119.3H216.2V129.6H206.1ZM382.8 119.3H392.9V129.6H382.8ZM392.6 129.2H402.7V139.5H392.6Z"/>
<path fill="rgb(163,163,163)" d="M343.5 -30.0H353.6V10.2H343.5ZM314.1 9.9H324.2V20.2H314.1ZM255.2 19.9H265.3V30.1H255.2ZM255.2 29.8H265.3V40.1H255.2ZM294.4 29.8H304.5V40.1H294.4ZM363.1 59.7H442.5V69.9H363.1ZM137.4 69.6H147.5V79.8H137.4ZM186.5 89.5H196.6V99.7H186.5ZM284.6 89.5H373.2V99.7H284.6ZM372.9 99.4H383.1V109.7H372.9ZM402.4 129.2H442.5V139.5H402.4Z"/>
<path fill="rgb(167,167,167)" d="M323.9 -30.0H343.8V10.2H323.9ZM108.0 19.9H118.1V30.1H108.0ZM245.4 19.9H255.5V30.1H245.4ZM108.0 29.8H118.1V40.1H108.0ZM245.4 29.8H255.5V40.1H245.4ZM137.4 39.8H147.5V50.0H137.4ZM166.8 39.8H177.0V50.0H166.8ZM323.9 39.8H334.0V50.0H323.9ZM108.0 49.7H118.1V60.0H108.0ZM343.5 49.7H353.6V60.0H343.5ZM117.8 59.7H147.5V69.9H117.8ZM353.3 59.7H363.4V69.9H353.3ZM176.7 69.6H186.8V79.8H176.7ZM363.1 69.6H442.5V79.8H363.1ZM353.3 79.5H442.5V89.8H353.3ZM274.8 89.5H284.9V99.7H274.8ZM372.9 89.5H392.9V99.7H372.9ZM265.0 99.4H275.1V109.7H265.0ZM225.7 109.4H235.8V119.6H225.7ZM382.8 109.4H392.9V119.6H382.8ZM392.6 119.3H402.7V129.6H392.6Z"/>
<path fill="rgb(171,171,171)" d="M314.1 -30.0H324.2V10.2H314.1ZM304.2 9.9H314.4V20.2H304.2ZM225.7 19.9H245.7V30.1H225.7ZM225.7 29.8H245.7V40.1H225.7ZM108.0 39.8H118.1V50.0H108.0ZM353.3 69.6H363.4V79.8H353.3ZM284.6 79.5H353.6V89.8H284.6ZM392.6 89.5H442.5V99.7H392.6ZM255.2 99.4H265.3V109.7H255.2ZM382.8 99.4H392.9V109.7H382.8ZM196.3 109.4H206.4V119.6H196.3ZM402.4 119.3H442.5V129.6H402.4Z"/>
<path fill="rgb(175,175,175)" d="M117.8 -30.0H127.9V10.2H117.8ZM255.2 9.9H304.5V20.2H255.2ZM215.9 19.9H226.0V30.1H215.9ZM147.2 29.8H177.0V40.1H147.2ZM215.9 29.8H226.0V40.1H215.9ZM176.7 39.8H186.8V50.0H176.7ZM255.2 39.8H284.9V50.0H255.2ZM314.1 39.8H324.2V50.0H314.1ZM117.8 49.7H137.7V60.0H117.8ZM176.7 49.7H186.8V60.0H176.7ZM333.7 49.7H343.8V60.0H333.7ZM176.7 59.7H186.8V69.9H176.7ZM343.5 59.7H353.6V69.9H343.5ZM343.5 69.6H353.6V79.8H343.5ZM186.5 79.5H196.6V89.8H186.5ZM274.8 79.5H284.9V89.8H274.8ZM265.0 89.5H275.1V99.7H265.0ZM245.4 99.4H255.5V109.7H245.4ZM392.6 99.4H402.7V109.7H392.6ZM215.9 109.4H226.0V119.6H215.9ZM392.6 109.4H402.7V119.6H392.6Z"/>
<path fill="rgb(179,179,179)" d="M304.2 -30.0H314.4V10.2H304.2ZM215.9 9.9H255.5V20.2H215.9ZM206.1 19.9H216.2V30.1H206.1ZM225.7 39.8H255.5V50.0H225.7ZM284.6 39.8H294.7V50.0H284.6ZM323.9 49.7H334.0V60.0H323.9ZM333.7 59.7H343.8V69.9H333.7ZM274.8 69.6H343.8V79.8H274.8ZM265.0 79.5H275.1V89.8H265.0ZM235.5 99.4H245.7V109.7H235.5ZM402.4 99.4H442.5V109.7H402.4ZM402.4 109.4H442.5V119.6H402.4Z"/>
<path fill="rgb(183,183,183)" d="M127.6 -30.0H304.5V10.2H127.6ZM117.8 9.9H127.9V20.2H117.8ZM137.4 9.9H216.2V20.2H137.4ZM147.2 19.9H206.4V30.1H147.2ZM137.4 29.8H147.5V40.1H137.4ZM176.7 29.8H196.6V40.1H176.7ZM206.1 29.8H216.2V40.1H206.1ZM117.8 39.8H137.7V50.0H117.8ZM215.9 39.8H226.0V50.0H215.9ZM294.4 39.8H314.4V50.0H294.4ZM235.5 49.7H284.9V60.0H235.5ZM245.4 59.7H294.7V69.9H245.4ZM314.1 59.7H334.0V69.9H314.1ZM186.5 69.6H196.6V79.8H186.5ZM255.2 69.6H275.1V79.8H255.2ZM255.2 89.5H265.3V99.7H255.2ZM225.7 99.4H235.8V109.7H225.7ZM206.1 109.4H216.2V119.6H206.1Z"/>
<path fill="rgb(187,187,187)" d="M196.3 29.8H206.4V40.1H196.3ZM186.5 39.8H196.6V50.0H186.5ZM186.5 49.7H196.6V60.0H186.5ZM225.7 49.7H235.8V60.0H225.7ZM284.6 49.7H294.7V60.0H284.6ZM314.1 49.7H324.2V60.0H314.1ZM235.5 59.7H245.7V69.9H235.5ZM294.4 59.7H314.4V69.9H294.4ZM245.4 69.6H255.5V79.8H245.4ZM255.2 79.5H265.3V89.8H255.2ZM245.4 89.5H255.5V99.7H245.4ZM196.3 99.4H206.4V109.7H196.3Z"/>
<path fill="rgb(191,191,191)" d="M127.6 9.9H137.7V20.2H127.6ZM117.8 19.9H127.9V30.1H117.8ZM137.4 19.9H147.5V30.1H137.4ZM196.3 39.8H216.2V50.0H196.3ZM215.9 49.7H226.0V60.0H215.9ZM294.4 49.7H314.4V60.0H294.4ZM186.5 59.7H196.6V69.9H186.5ZM225.7 59.7H235.8V69.9H225.7ZM235.5 69.6H245.7V79.8H235.5ZM245.4 79.5H255.5V89.8H245.4ZM235.5 89.5H245.7V99.7H235.5ZM215.9 99.4H226.0V109.7H215.9Z"/>
<path fill="rgb(195,195,195)" d="M117.8 29.8H127.9V40.1H117.8ZM225.7 69.6H235.8V79.8H225.7ZM235.5 79.5H245.7V89.8H235.5ZM196.3 89.5H206.4V99.7H196.3ZM225.7 89.5H235.8V99.7H225.7Z"/>
<path fill="rgb(199,199,199)" d="M127.6 19.9H137.7V30.1H127.6ZM127.6 29.8H137.7V40.1H127.6ZM196.3 49.7H216.2V60.0H196.3ZM215.9 59.7H226.0V69.9H215.9ZM196.3 79.5H206.4V89.8H196.3ZM225.7 79.5H235.8V89.8H225.7ZM215.9 89.5H226.0V99.7H215.9ZM206.1 99.4H216.2V109.7H206.1Z"/>
<path fill="rgb(203,203,203)" d="M196.3 59.7H206.4V69.9H196.3ZM215.9 69.6H226.0V79.8H215.9ZM215.9 79.5H226.0V89.8H215.9Z"/>
<path fill="rgb(207,207,207)" d="M206.1 59.7H216.2V69.9H206.1ZM196.3 69.6H206.4V79.8H196.3ZM206.1 89.5H216.2V99.7H206.1Z"/>
<path fill="rgb(211,211,211)" d="M206.1 69.6H216.2V79.8H206.1ZM206.1 79.5H216.2V89.8H206.1Z"/>
</g>
<path d="M76.2 0.0 L71.4 60.9 L70.0 92.8 M0.0 54.2 L71.4 60.9 M70.0 92.8 L118.9 96.1 L158.4 97.2 L183.7 97.7 L214.0 97.5 L240.8 97.2 L289.5 96.4 M239.7 0.0 L240.2 33.2 L240.8 97.2 M240.2 33.2 L311.6 30.8 L371.4 27.2 L376.0 29.5 L380.0 32.3 L382.8 33.9 L385.1 33.7 L386.2 31.0 L387.5 30.3 L392.2 30.6 L396.0 29.8 L399.5 28.8 L401.5 29.5 L404.1 31.8 L408.0 32.6 L412.0 33.2 M118.9 96.1 L118.1 122.9 L116.5 160.0 L113.3 223.7 L111.7 258.5 M289.5 96.4 L291.1 128.4 L292.5 175.0 L294.3 224.8 M291.1 128.4 L351.1 125.6 L412.0 121.7 M0.0 216.2 L57.2 220.9 L113.3 223.7 L175.8 226.1 L214.0 226.5 L269.0 226.1 L294.3 224.8 L351.1 222.0 L412.0 218.2 M269.3 226.1 L269.6 241.6 L268.6 241.8 L268.6 258.5 M268.6 241.8 L347.2 239.1 L348.8 258.5" fill="none" stroke="#000" stroke-width="1.35" stroke-linejoin="round"/>
<path d="M-0.1 133.1 C1.1 134.3 4.8 137.1 7.3 140.5 C9.8 143.9 12.2 149.1 14.7 153.8 C17.2 158.5 20.0 163.4 22.1 168.6 C24.2 173.8 26.2 179.7 27.3 184.9 C28.4 190.1 28.4 195.0 28.8 199.7 C29.2 204.4 28.4 208.8 29.5 213.0 C30.6 217.2 33.4 220.9 35.4 224.8 C37.4 228.8 39.8 232.8 41.3 236.7 C42.8 240.6 43.5 244.6 44.3 248.5 C45.0 252.4 45.5 258.1 45.8 260.0 M-0.1 12.7 C2.4 13.6 9.8 16.7 14.7 17.9 C19.6 19.1 23.8 19.7 29.5 20.1 C35.2 20.5 43.0 19.5 48.7 20.1 C54.4 20.7 59.0 21.8 63.5 23.8 C68.0 25.8 71.7 28.7 75.4 31.9 C79.1 35.1 82.2 39.7 85.7 43.0 C89.2 46.3 92.6 49.2 96.1 51.9 C99.6 54.6 103.5 56.6 106.5 59.3 C109.5 62.0 111.4 65.2 113.9 68.2 C116.4 71.2 118.1 74.4 121.3 77.1 C124.5 79.8 128.7 82.3 133.1 84.5 C137.5 86.7 143.9 88.7 147.9 90.4 C151.9 92.1 153.9 92.6 156.8 94.8 C159.8 97.0 162.9 100.7 165.6 103.7 C168.3 106.7 170.8 109.4 173.0 112.6 C175.2 115.8 177.5 120.0 179.0 122.9 C180.5 125.8 181.2 126.3 181.9 130.0 C182.6 133.7 183.3 140.0 183.4 144.9 C183.5 149.8 182.7 154.8 182.7 159.7 C182.7 164.6 183.0 170.1 183.4 174.5 C183.8 178.9 183.7 182.6 184.9 186.3 C186.1 190.0 188.6 193.5 190.8 196.7 C193.0 199.9 195.7 202.9 198.2 205.6 C200.7 208.3 203.9 208.8 205.9 213.0 C207.9 217.2 208.8 225.5 210.3 230.7 C211.8 235.9 213.1 239.7 214.8 244.1 C216.5 248.5 219.5 254.7 220.7 257.4 C221.9 260.0 221.9 259.6 222.2 260.0 M-0.1 57.1 C1.4 58.0 5.1 60.9 8.8 62.3 C12.5 63.6 17.2 64.5 22.1 65.2 C27.0 65.9 33.7 65.7 38.4 66.7 C43.1 67.7 46.8 69.1 50.2 71.1 C53.7 73.1 56.1 75.8 59.1 78.5 C62.1 81.2 65.5 84.7 68.0 87.4 C70.5 90.1 72.2 91.8 73.9 94.8 C75.6 97.8 76.8 101.8 78.3 105.2 C79.8 108.7 80.6 112.5 82.8 115.5 C85.0 118.5 88.2 120.7 91.7 122.9 C95.2 125.1 101.8 127.6 103.5 128.8 C105.2 130.0 100.5 128.9 102.0 130.1 C103.5 131.3 108.5 133.5 112.4 136.0 C116.4 138.5 121.5 141.9 125.7 144.9 C129.9 147.9 133.8 150.4 137.5 153.8 C141.2 157.2 145.7 161.7 147.9 165.6 C150.1 169.5 150.8 173.6 150.8 177.5 C150.8 181.4 149.4 185.4 147.9 189.3 C146.4 193.2 143.6 197.2 142.0 201.1 C140.4 205.0 139.1 209.1 138.3 213.0 C137.6 216.9 137.1 220.9 137.5 224.8 C137.9 228.8 139.0 232.8 140.5 236.7 C142.0 240.6 144.1 244.6 146.4 248.5 C148.7 252.4 153.2 258.1 154.5 260.0 M91.7 0.1 C93.2 1.8 97.8 6.8 100.5 10.5 C103.2 14.2 105.4 18.6 107.9 22.3 C110.4 26.0 112.8 29.3 115.3 32.7 C117.8 36.2 120.2 40.3 122.7 43.0 C125.2 45.7 126.9 47.4 130.1 48.9 C133.3 50.4 137.8 50.4 142.0 51.9 C146.2 53.4 151.1 55.6 155.3 57.8 C159.5 60.0 163.4 62.2 167.1 65.2 C170.8 68.2 174.3 71.9 177.5 75.6 C180.7 79.3 183.9 83.7 186.4 87.4 C188.9 91.1 190.6 94.1 192.3 97.8 C194.0 101.5 195.5 105.6 196.7 109.6 C197.9 113.5 198.9 118.1 199.7 121.5 C200.4 124.9 200.2 126.1 201.2 130.0 C202.2 133.9 203.6 141.3 205.9 144.9 C208.2 148.5 211.1 150.4 214.8 151.6 C218.5 152.8 223.9 151.0 228.1 152.3 C232.3 153.7 236.7 156.2 239.9 159.7 C243.1 163.1 244.6 169.1 247.3 173.0 C250.0 176.9 252.7 180.0 256.2 183.4 C259.7 186.8 264.2 190.5 268.1 193.7 C272.1 196.9 276.2 199.8 279.9 202.6 C283.6 205.4 287.3 208.1 290.3 210.8 C293.3 213.5 295.0 216.1 297.7 218.9 C300.4 221.7 303.1 224.8 306.5 227.8 C309.9 230.8 314.2 233.8 318.4 236.7 C322.6 239.6 327.0 242.8 331.7 245.5 C336.4 248.2 341.8 250.7 346.5 252.9 C351.2 255.1 357.6 257.9 359.8 258.9 M121.4 0.0 C122.3 1.7 124.0 8.1 126.9 9.9 C129.8 11.7 135.2 10.3 139.1 10.8 C142.9 11.3 146.1 11.1 150.0 12.9 C153.9 14.8 158.6 18.7 162.6 21.9 C166.6 25.1 170.6 29.0 174.1 32.3 C177.6 35.6 180.8 38.8 183.3 41.5 C185.8 44.2 188.1 47.2 189.0 48.4 M217.7 96.8 C220.7 98.2 229.1 102.6 235.5 105.2 C241.9 107.8 250.3 109.9 256.2 112.6 C262.1 115.3 266.6 118.6 271.0 121.5 C275.4 124.4 279.9 127.3 282.9 130.0 C285.9 132.7 285.6 134.5 288.8 137.5 C292.0 140.5 297.9 144.2 302.1 147.9 C306.3 151.6 309.9 155.8 313.9 159.7 C317.8 163.6 321.6 167.8 325.8 171.5 C330.0 175.2 334.4 178.7 339.1 181.9 C343.8 185.1 349.0 188.1 353.9 190.8 C358.8 193.5 363.8 196.0 368.7 198.2 C373.6 200.4 378.6 202.4 383.5 204.1 C388.4 205.8 393.6 207.2 398.3 208.5 C403.0 209.8 409.6 211.6 411.9 212.2 M174.1 0.0 C175.6 1.2 179.5 4.5 183.3 7.0 C187.1 9.5 192.9 11.6 197.1 15.0 C201.3 18.4 205.0 23.7 208.6 27.7 C212.2 31.7 215.5 35.4 218.9 39.2 C222.3 43.0 225.9 47.1 229.2 50.7 C232.4 54.3 235.7 58.1 238.4 61.0 C241.1 63.9 242.2 65.4 245.3 67.9 C248.4 70.4 253.0 72.7 256.8 76.0 C260.6 79.3 264.5 84.4 268.3 87.5 C272.1 90.6 276.2 92.6 279.9 94.8 C283.6 97.0 286.6 98.5 290.3 100.7 C294.0 102.9 297.7 105.4 302.1 108.1 C306.5 110.8 312.0 114.0 316.9 117.0 C321.8 120.0 328.0 123.7 331.7 125.9 C335.4 128.1 335.9 127.6 339.1 130.0 C342.3 132.4 346.9 137.3 350.9 140.5 C354.8 143.7 358.6 146.4 362.8 149.3 C367.0 152.2 371.4 155.5 376.1 158.2 C380.8 160.9 386.0 163.5 390.9 165.6 C395.8 167.7 402.2 169.6 405.7 170.8 C409.2 172.0 410.9 172.6 411.9 173.0 M219.2 0.1 C220.9 2.1 226.1 8.0 229.6 11.9 C233.1 15.8 236.2 19.9 239.9 23.8 C243.6 27.8 247.9 31.9 251.8 35.6 C255.8 39.3 259.4 42.5 263.6 46.0 C267.8 49.5 272.4 53.1 276.9 56.3 C281.3 59.5 285.9 62.5 290.3 65.2 C294.8 67.9 298.9 70.1 303.6 72.6 C308.3 75.1 313.5 77.5 318.4 80.0 C323.3 82.5 328.3 84.7 333.2 87.4 C338.1 90.1 343.1 93.3 348.0 96.3 C352.9 99.3 357.9 101.8 362.8 105.2 C367.7 108.7 373.2 113.5 377.6 117.0 C382.0 120.5 386.4 123.7 389.4 125.9 C392.3 128.1 394.3 129.3 395.3 130.0 M248.8 0.1 C250.8 1.6 256.5 5.8 260.7 9.0 C264.9 12.2 269.6 15.9 274.0 19.3 C278.4 22.8 282.9 26.2 287.3 29.7 C291.7 33.2 295.9 36.9 300.6 40.1 C305.3 43.3 310.5 46.0 315.4 48.9 C320.3 51.8 325.3 55.1 330.2 57.8 C335.1 60.5 340.1 62.7 345.0 65.2 C349.9 67.7 354.9 70.1 359.8 72.6 C364.7 75.1 369.9 77.5 374.6 80.0 C379.3 82.5 383.7 84.9 387.9 87.4 C392.1 89.9 395.8 92.3 399.8 94.8 C403.8 97.3 409.9 101.0 411.9 102.2 M288.8 0.1 C291.3 1.6 298.7 6.0 303.6 9.0 C308.5 12.0 313.5 14.7 318.4 17.9 C323.3 21.1 328.3 24.8 333.2 28.2 C338.1 31.6 343.1 35.4 348.0 38.6 C352.9 41.8 357.9 44.8 362.8 47.5 C367.7 50.2 372.7 52.7 377.6 54.9 C382.5 57.1 386.7 58.6 392.4 60.8 C398.1 63.0 408.6 67.0 411.9 68.2 M331.7 0.1 C333.9 1.6 340.3 6.0 345.0 9.0 C349.7 12.0 355.4 15.4 359.8 17.9 C364.2 20.4 367.7 21.9 371.6 23.8 C375.6 25.7 379.1 27.4 383.5 29.0 C387.9 30.6 393.6 32.0 398.3 33.4 C403.0 34.8 409.6 36.5 411.9 37.1 M368.7 0.1 C371.2 0.7 378.6 2.7 383.5 3.8 C388.4 4.9 393.6 5.9 398.3 6.8 C403.0 7.7 409.6 8.6 411.9 9.0" fill="none" stroke="#000" stroke-width="2.5" stroke-linecap="round" stroke-linejoin="round"/>
<path d="M3.3 16.2 L-15.0 13.7 M25.5 15.1 L7.1 13.5 M7.1 13.5 L5.4 5.9 M9.4 13.7 L7.7 6.1 M11.7 13.9 L10.0 6.3 M14.0 14.1 L12.3 6.5 M16.3 14.3 L15.5 10.5 M47.7 14.0 L29.9 9.0 M29.9 9.0 L29.7 1.3 M32.1 9.6 L31.9 1.9 M34.4 10.3 L34.1 2.5 M36.6 10.9 L36.4 3.1 M38.8 11.5 L38.7 7.6 M69.9 12.9 L53.6 4.2 M53.6 4.2 L55.0 -3.4 M55.6 5.3 L57.1 -2.3 M57.7 6.4 L59.1 -1.2 M59.7 7.5 L61.2 -0.2 M92.1 11.8 L77.4 0.5 M77.4 0.5 L80.1 -6.7 M79.3 1.9 L81.9 -5.3 M81.1 3.4 L83.8 -3.9 M82.9 4.8 L85.6 -2.5 M84.8 6.2 L86.1 2.5 M114.3 10.7 L99.6 -0.5 M105.1 3.7 L106.4 0.0 M136.5 9.6 L120.4 0.6 M126.4 3.9 L128.0 -3.7 M158.7 8.4 L143.9 -2.6 M149.5 1.5 L152.0 -5.8 M180.9 7.3 L166.7 -4.5 M172.0 -0.1 L175.0 -7.2 M203.1 6.2 L189.5 -6.3 M194.6 -1.6 L197.9 -8.6 M225.3 5.1 L212.1 -7.9 M217.1 -3.0 L220.6 -9.9 M247.5 4.0 L233.8 -8.4 M238.9 -3.7 L242.2 -10.8 M269.7 2.9 L255.3 -8.7 M260.7 -4.4 L263.6 -11.6 M291.9 1.8 L278.3 -10.7 M283.4 -6.0 L286.7 -13.0 M314.1 0.7 L300.1 -11.4 M305.4 -6.9 L308.4 -14.0 M336.3 -0.4 L322.0 -12.1 M327.4 -7.7 L330.2 -14.9 M358.5 -1.5 L343.4 -12.2 M349.1 -8.2 L350.2 -11.9 M4.4 37.8 L-13.8 34.3 M-13.8 34.3 L-14.6 26.6 M-11.5 34.7 L-12.4 27.0 M-9.2 35.2 L-10.1 27.5 M-7.0 35.6 L-7.8 27.9 M-4.7 36.1 L-5.1 32.2 M26.6 36.7 L8.3 33.7 M8.3 33.7 L7.2 26.1 M10.6 34.1 L9.5 26.4 M12.9 34.5 L11.8 26.8 M15.2 34.8 L14.1 27.2 M17.5 35.2 L16.9 31.4 M48.8 35.6 L30.9 31.0 M30.9 31.0 L30.5 23.2 M33.1 31.6 L32.7 23.8 M35.4 32.1 L35.0 24.4 M37.6 32.7 L37.2 25.0 M39.8 33.3 L39.6 29.4 M71.0 34.5 L55.3 24.7 M55.3 24.7 L57.2 17.2 M57.2 26.0 L59.2 18.4 M59.2 27.2 L61.1 19.7 M61.2 28.4 L63.1 20.9 M63.1 29.6 L64.1 25.9 M93.2 33.4 L78.7 21.9 M115.4 32.3 L101.0 20.7 M106.4 25.0 L109.2 17.8 M137.6 31.2 L122.1 21.1 M127.9 24.8 L130.0 17.4 M129.9 26.1 L130.9 22.4 M159.8 30.1 L144.5 19.7 M150.2 23.6 L152.5 16.1 M182.0 28.9 L167.3 17.7 M172.8 21.9 L175.5 14.6 M204.2 27.8 L191.4 14.4 M196.2 19.5 L200.0 12.7 M226.4 26.7 L213.8 13.2 M218.5 18.3 L222.3 11.5 M248.6 25.6 L235.4 12.6 M240.4 17.5 L243.9 10.6 M270.8 24.5 L256.9 12.3 M262.1 16.9 L263.6 13.3 M293.0 23.4 L278.5 11.9 M283.9 16.2 L285.3 12.6 M315.2 22.3 L301.6 9.7 M306.7 14.4 L308.4 10.9 M337.4 21.2 L323.5 9.0 M359.6 20.1 L344.8 8.9 M381.8 18.9 L366.1 9.2 M404.0 17.8 L387.8 8.9 M387.8 8.9 L389.3 1.3 M389.8 10.1 L391.3 2.5 M391.8 11.2 L393.4 3.6 M393.9 12.3 L395.4 4.7 M395.9 13.4 L396.7 9.6 M426.2 16.7 L411.1 6.0 M411.1 6.0 L413.6 -1.4 M413.0 7.3 L415.5 -0.0 M414.9 8.7 L417.3 1.3 M416.8 10.0 L419.2 2.6 M418.7 11.4 L419.9 7.7 M5.5 59.4 L-12.5 54.9 M-12.5 54.9 L-12.9 47.2 M-10.2 55.5 L-10.7 47.7 M-8.0 56.0 L-8.4 48.3 M-5.7 56.6 L-6.2 48.9 M27.7 58.3 L9.6 54.2 M9.6 54.2 L9.0 46.5 M11.9 54.7 L11.3 47.0 M14.2 55.2 L13.6 47.5 M16.4 55.7 L15.8 48.0 M49.9 57.2 L32.6 50.7 M32.6 50.7 L33.0 42.9 M34.7 51.5 L35.2 43.8 M36.9 52.3 L37.3 44.6 M39.1 53.1 L39.5 45.4 M72.1 56.1 L55.9 47.2 M55.9 47.2 L57.4 39.6 M57.9 48.3 L59.4 40.7 M59.9 49.4 L61.5 41.8 M62.0 50.5 L63.5 42.9 M64.0 51.6 L64.8 47.8 M94.3 55.0 L79.8 43.5 M85.2 47.8 L86.6 44.2 M116.5 53.9 L101.9 42.5 M107.4 46.8 L110.1 39.5 M138.7 52.8 L123.3 42.5 M129.0 46.4 L130.1 42.7 M160.9 51.7 L145.8 40.9 M151.5 44.9 L152.7 41.2 M183.1 50.5 L168.9 38.6 M174.2 43.1 L177.2 35.9 M205.3 49.4 L191.4 37.2 M196.6 41.8 L199.8 34.7 M198.4 43.3 L199.9 39.8 M227.5 48.3 L215.1 34.6 M219.7 39.8 L223.6 33.1 M249.7 47.2 L236.6 34.1 M241.5 39.0 L245.1 32.2 M271.9 46.1 L258.1 33.8 M263.3 38.4 L266.5 31.3 M294.1 45.0 L279.7 33.4 M285.1 37.7 L287.9 30.5 M316.3 43.9 L301.4 32.8 M307.0 37.0 L309.6 29.7 M338.5 42.8 L324.7 30.4 M329.9 35.1 L331.5 31.5 M360.7 41.7 L346.4 29.9 M382.9 40.5 L367.8 29.8 M405.1 39.4 L389.6 29.4 M389.6 29.4 L391.7 21.9 M391.5 30.6 L393.6 23.2 M393.4 31.9 L395.5 24.4 M395.4 33.1 L397.5 25.7 M397.3 34.4 L398.4 30.7 M427.3 38.3 L411.7 28.3 M411.7 28.3 L413.8 20.8 M413.7 29.6 L415.7 22.1 M415.6 30.8 L417.7 23.3 M417.6 32.1 L419.6 24.6 M419.5 33.3 L420.5 29.6 M6.6 81.0 L-10.9 74.9 M-10.9 74.9 L-10.6 67.1 M-8.7 75.6 L-8.4 67.9 M-6.5 76.4 L-6.2 68.6 M28.8 79.9 L11.3 73.7 M11.3 73.7 L11.6 66.0 M13.5 74.5 L13.8 66.7 M15.7 75.3 L16.0 67.5 M51.0 78.8 L34.7 70.0 M34.7 70.0 L36.1 62.4 M36.7 71.1 L38.2 63.5 M38.7 72.2 L40.2 64.6 M40.8 73.3 L41.5 69.5 M73.2 77.7 L58.0 67.1 M58.0 67.1 L60.3 59.7 M59.9 68.5 L62.2 61.1 M61.8 69.8 L64.1 62.4 M63.7 71.1 L66.0 63.7 M95.4 76.6 L80.2 66.0 M117.6 75.5 L102.0 65.5 M107.8 69.2 L108.9 65.5 M139.8 74.4 L124.9 63.4 M130.4 67.5 L131.7 63.8 M162.0 73.3 L147.6 61.5 M153.0 65.9 L154.5 62.3 M184.2 72.1 L170.9 59.3 M175.9 64.1 L179.3 57.2 M206.4 71.0 L192.9 58.3 M198.0 63.1 L201.4 56.1 M199.7 64.7 L203.1 57.7 M228.6 69.9 L214.5 57.9 M219.8 62.4 L222.8 55.3 M221.5 63.9 L223.1 60.3 M250.8 68.8 L237.6 55.8 M242.5 60.7 L246.1 53.8 M273.0 67.7 L259.2 55.3 M264.4 60.0 L267.6 52.9 M295.2 66.6 L280.7 55.0 M286.2 59.3 L289.0 52.1 M288.0 60.8 L289.4 57.2 M317.4 65.5 L302.6 54.4 M308.1 58.6 L310.7 51.2 M310.0 59.9 L311.2 56.3 M339.6 64.4 L324.5 53.6 M330.1 57.7 L332.6 50.3 M361.8 63.3 L347.7 51.2 M353.0 55.7 L354.5 52.2 M384.0 62.2 L369.5 50.6 M374.9 54.9 L376.3 51.3 M406.2 61.0 L391.4 49.9 M396.9 54.1 L398.2 50.4 M7.6 102.6 L-9.1 94.8 M-9.1 94.8 L-8.1 87.1 M-7.0 95.7 L-6.0 88.1 M-4.9 96.7 L-3.9 89.0 M29.8 101.5 L14.1 91.8 M14.1 91.8 L16.0 84.3 M16.1 93.0 L18.0 85.5 M18.0 94.2 L19.9 86.7 M52.0 100.4 L37.2 89.4 M37.2 89.4 L39.8 82.0 M39.1 90.7 L41.6 83.4 M40.9 92.1 L43.5 84.8 M74.2 99.3 L60.4 87.1 M60.4 87.1 L63.5 80.0 M62.1 88.6 L65.3 81.5 M63.8 90.1 L67.0 83.0 M65.6 91.6 L67.2 88.1 M96.4 98.2 L81.7 86.9 M81.7 86.9 L84.4 79.7 M83.6 88.3 L86.2 81.1 M85.4 89.7 L88.1 82.5 M87.3 91.2 L89.9 83.9 M118.6 97.1 L103.2 86.9 M103.2 86.9 L105.3 79.5 M105.1 88.2 L107.2 80.7 M107.0 89.5 L109.2 82.0 M109.0 90.7 L111.1 83.3 M110.9 92.0 L112.0 88.3 M140.8 96.0 L125.2 86.0 M125.2 86.0 L127.2 78.6 M127.2 87.3 L129.2 79.8 M129.1 88.5 L131.1 81.0 M131.1 89.8 L133.1 82.3 M133.0 91.0 L134.0 87.3 M163.0 94.9 L150.0 81.8 M185.2 93.7 L173.6 79.3 M207.4 92.6 L195.1 78.9 M199.7 84.0 L203.6 77.4 M201.2 85.8 L205.2 79.1 M229.6 91.5 L215.3 79.8 M220.7 84.2 L223.6 77.0 M222.5 85.7 L223.9 82.1 M251.8 90.4 L237.1 79.2 M242.6 83.4 L245.3 76.1 M244.5 84.8 L245.8 81.2 M274.0 89.3 L260.4 76.8 M265.5 81.5 L268.8 74.5 M296.2 88.2 L282.2 76.2 M287.4 80.7 L290.5 73.6 M318.4 87.1 L304.0 75.5 M309.4 79.8 L312.2 72.6 M340.6 86.0 L326.1 74.6 M331.5 78.8 L334.3 71.6 M362.8 84.9 L348.1 73.6 M353.7 77.8 L356.3 70.6 M385.0 83.8 L370.2 72.7 M375.8 76.8 L378.3 69.5 M407.2 82.6 L393.6 70.2 M398.7 74.9 L402.0 67.8 M8.7 124.2 L-5.7 112.6 M-5.7 112.6 L-2.8 105.4 M-3.9 114.1 L-1.0 106.9 M-2.1 115.5 L-0.7 111.9 M30.9 123.1 L15.7 112.6 M15.7 112.6 L18.0 105.2 M17.6 113.9 L19.9 106.5 M19.5 115.2 L20.6 111.5 M53.1 122.0 L39.6 109.3 M39.6 109.3 L43.0 102.4 M41.3 110.9 L44.7 103.9 M43.0 112.5 L46.4 105.5 M75.3 120.9 L61.5 108.6 M61.5 108.6 L64.7 101.5 M63.2 110.1 L66.4 103.1 M65.0 111.7 L68.2 104.6 M97.5 119.8 L82.4 109.1 M82.4 109.1 L84.8 101.7 M84.3 110.4 L86.7 103.0 M86.2 111.8 L88.6 104.4 M119.7 118.7 L104.4 108.3 M104.4 108.3 L106.6 100.9 M106.3 109.6 L108.6 102.2 M108.2 110.9 L110.5 103.5 M110.2 112.2 L111.3 108.5 M141.9 117.6 L127.3 106.2 M127.3 106.2 L130.0 99.0 M129.1 107.6 L131.8 100.4 M131.0 109.1 L133.7 101.8 M132.8 110.5 L134.1 106.8 M164.1 116.5 L151.0 103.4 M151.0 103.4 L154.6 96.5 M152.7 105.0 L156.3 98.1 M154.3 106.6 L157.9 99.8 M155.9 108.3 L157.7 104.8 M186.3 115.3 L176.3 99.8 M176.3 99.8 L181.3 93.8 M177.6 101.7 L182.6 95.8 M178.8 103.7 L183.8 97.7 M180.1 105.6 L185.1 99.7 M181.3 107.6 L183.8 104.6 M208.5 114.2 L197.4 99.5 M201.6 105.0 L206.1 98.7 M203.0 106.8 L205.2 103.7 M230.7 113.1 L216.6 101.2 M221.9 105.7 L224.9 98.5 M252.9 112.0 L238.0 101.1 M243.6 105.2 L244.8 101.5 M275.1 110.9 L260.3 99.8 M265.9 104.0 L267.2 100.3 M297.3 109.8 L283.7 97.2 M319.5 108.7 L305.7 96.4 M310.9 101.0 L312.4 97.5 M341.7 107.6 L327.8 95.4 M333.0 100.0 L334.6 96.4 M363.9 106.5 L350.0 94.2 M355.2 98.8 L356.8 95.3 M386.1 105.3 L372.1 93.3 M377.4 97.8 L380.4 90.7 M408.3 104.2 L394.1 92.5 M399.4 96.9 L402.3 89.7 M9.8 145.8 L-0.7 130.6 M-0.7 130.6 L4.1 124.5 M0.7 132.5 L5.5 126.4 M32.0 144.7 L20.5 130.2 M20.5 130.2 L24.9 123.8 M21.9 132.0 L26.3 125.6 M23.4 133.8 L25.6 130.6 M54.2 143.6 L40.5 131.2 M40.5 131.2 L43.7 124.2 M42.2 132.8 L45.4 125.7 M43.9 134.3 L45.5 130.8 M76.4 142.5 L61.6 131.4 M61.6 131.4 L64.1 124.1 M63.4 132.8 L66.0 125.5 M65.3 134.2 L67.8 126.9 M98.6 141.4 L84.5 129.4 M84.5 129.4 L87.6 122.2 M86.3 130.9 L89.3 123.7 M88.1 132.4 L89.6 128.8 M120.8 140.3 L105.9 129.3 M105.9 129.3 L108.4 122.0 M107.8 130.7 L110.3 123.3 M109.6 132.0 L112.2 124.7 M143.0 139.2 L129.0 127.1 M129.0 127.1 L132.1 119.9 M130.8 128.6 L133.9 121.5 M132.5 130.1 L135.6 123.0 M165.2 138.0 L152.8 124.3 M152.8 124.3 L156.8 117.6 M154.4 126.0 L158.3 119.3 M155.9 127.7 L159.9 121.1 M187.4 136.9 L176.1 122.3 M176.1 122.3 L180.5 116.0 M177.5 124.1 L181.9 117.8 M178.9 126.0 L183.3 119.6 M209.6 135.8 L198.2 121.3 M198.2 121.3 L202.5 114.9 M199.6 123.1 L204.0 116.7 M201.0 124.9 L205.4 118.5 M202.4 126.7 L206.8 120.4 M203.9 128.6 L206.1 125.4 M231.8 134.7 L217.9 122.6 M217.9 122.6 L221.0 115.5 M219.6 124.1 L222.7 117.0 M221.3 125.6 L224.5 118.5 M223.1 127.1 L226.2 120.0 M254.0 133.6 L239.3 122.3 M239.3 122.3 L242.0 115.1 M241.2 123.8 L243.8 116.5 M243.0 125.2 L245.7 117.9 M244.8 126.6 L247.5 119.3 M276.2 132.5 L261.5 121.3 M261.5 121.3 L264.1 114.0 M263.3 122.7 L265.9 115.4 M265.1 124.1 L267.8 116.8 M267.0 125.5 L269.6 118.2 M298.4 131.4 L283.5 120.5 M283.5 120.5 L286.0 113.1 M285.3 121.8 L287.8 114.5 M287.2 123.2 L289.7 115.9 M289.1 124.6 L291.6 117.2 M320.6 130.3 L306.5 118.3 M306.5 118.3 L309.6 111.1 M308.3 119.8 L311.4 112.6 M310.1 121.3 L313.1 114.1 M311.8 122.8 L314.9 115.6 M313.6 124.3 L315.1 120.7 M342.8 129.2 L328.6 117.3 M365.0 128.1 L350.6 116.4 M356.0 120.8 L357.5 117.2 M387.2 126.9 L372.6 115.6 M378.1 119.8 L379.4 116.2 M409.4 125.8 L394.5 114.9 M400.1 119.0 L402.6 111.7 M10.9 167.4 L3.0 150.7 M3.0 150.7 L8.7 145.4 M33.1 166.3 L24.3 150.0 M24.3 150.0 L29.7 144.5 M25.4 152.1 L30.8 146.5 M55.3 165.2 L44.6 150.1 M44.6 150.1 L49.3 143.9 M46.0 152.0 L50.7 145.8 M47.3 153.9 L49.6 150.8 M77.5 164.1 L63.3 152.2 M63.3 152.2 L66.3 145.0 M65.1 153.7 L68.1 146.5 M66.9 155.2 L68.4 151.6 M99.7 163.0 L83.6 153.9 M83.6 153.9 L85.2 146.3 M85.6 155.0 L87.2 147.4 M87.6 156.2 L88.4 152.4 M121.9 161.9 L108.3 149.3 M108.3 149.3 L111.6 142.3 M110.0 150.9 L113.3 143.9 M111.7 152.4 L113.4 148.9 M144.1 160.8 L130.8 147.9 M130.8 147.9 L134.3 141.0 M132.4 149.5 L135.9 142.6 M134.1 151.1 L135.9 147.6 M166.3 159.7 L153.7 146.1 M153.7 146.1 L157.6 139.3 M155.3 147.8 L159.2 141.0 M156.9 149.5 L158.8 146.1 M188.5 158.5 L176.3 144.6 M176.3 144.6 L180.3 138.0 M177.8 146.4 L181.8 139.8 M179.3 148.1 L183.3 141.5 M210.7 157.4 L196.4 145.6 M196.4 145.6 L199.4 138.4 M198.2 147.1 L201.2 139.9 M200.0 148.6 L203.0 141.4 M201.8 150.0 L203.3 146.5 M232.9 156.3 L218.9 144.2 M218.9 144.2 L222.0 137.1 M220.7 145.7 L223.8 138.6 M222.4 147.2 L225.5 140.1 M255.1 155.2 L241.7 142.4 M241.7 142.4 L245.2 135.4 M243.4 144.0 L246.9 137.1 M245.1 145.6 L246.8 142.1 M277.3 154.1 L262.9 142.5 M262.9 142.5 L265.7 135.3 M264.7 143.9 L267.5 136.7 M266.5 145.4 L267.9 141.8 M299.5 153.0 L284.6 142.0 M284.6 142.0 L287.1 134.7 M286.4 143.4 L288.9 136.1 M288.3 144.8 L290.8 137.4 M321.7 151.9 L306.3 141.6 M306.3 141.6 L308.5 134.1 M308.3 142.8 L310.5 135.4 M310.2 144.1 L312.4 136.7 M312.1 145.4 L313.2 141.7 M343.9 150.8 L328.0 141.3 M328.0 141.3 L329.8 133.8 M330.0 142.5 L331.7 135.0 M331.9 143.7 L333.7 136.1 M333.9 144.9 L335.7 137.3 M366.1 149.7 L350.8 139.3 M388.3 148.6 L372.4 139.1 M378.3 142.6 L379.3 138.9 M410.5 147.4 L394.2 138.6 M400.3 141.9 L401.1 138.1 M12.0 189.0 L5.0 171.9 M5.0 171.9 L11.0 167.0 M34.2 187.9 L26.3 171.2 M26.3 171.2 L32.0 165.9 M56.4 186.8 L47.6 170.5 M47.6 170.5 L53.0 165.0 M48.7 172.6 L54.1 167.0 M78.6 185.7 L66.2 171.9 M66.2 171.9 L70.2 165.2 M67.8 173.6 L71.8 167.0 M100.8 184.6 L85.0 174.9 M85.0 174.9 L86.9 167.4 M87.0 176.1 L88.9 168.6 M123.0 183.5 L105.0 179.0 M105.0 179.0 L104.6 171.2 M107.3 179.5 L106.8 171.8 M145.2 182.4 L128.1 175.3 M128.1 175.3 L128.7 167.6 M130.2 176.2 L130.9 168.5 M167.4 181.2 L154.7 167.8 M154.7 167.8 L158.5 161.0 M156.3 169.5 L160.1 162.7 M157.9 171.1 L159.8 167.8 M189.6 180.1 L178.6 165.3 M178.6 165.3 L183.2 159.0 M179.9 167.1 L184.5 160.9 M181.3 169.0 L185.9 162.7 M182.7 170.8 L185.0 167.7 M211.8 179.0 L198.5 166.1 M198.5 166.1 L202.0 159.2 M200.2 167.7 L203.7 160.8 M201.8 169.3 L205.4 162.4 M203.5 170.9 L205.2 167.5 M234.0 177.9 L219.6 166.3 M219.6 166.3 L222.4 159.1 M221.4 167.7 L224.2 160.5 M223.2 169.2 L226.0 162.0 M256.2 176.8 L243.7 163.1 M243.7 163.1 L247.6 156.5 M245.2 164.9 L249.1 158.2 M246.8 166.6 L248.8 163.2 M278.4 175.7 L264.4 163.6 M264.4 163.6 L267.4 156.5 M266.1 165.1 L269.2 158.0 M300.6 174.6 L285.5 163.8 M285.5 163.8 L288.0 156.4 M287.4 165.2 L289.8 157.8 M289.3 166.5 L290.5 162.8 M322.8 173.5 L307.0 163.8 M307.0 163.8 L308.8 156.3 M308.9 165.0 L310.8 157.5 M310.9 166.3 L312.8 158.7 M345.0 172.4 L328.4 164.2 M328.4 164.2 L329.5 156.6 M330.4 165.2 L331.6 157.6 M332.5 166.3 L333.7 158.6 M334.6 167.3 L335.2 163.4 M367.2 171.3 L349.9 164.7 M349.9 164.7 L350.4 156.9 M352.0 165.5 L352.5 157.7 M354.2 166.3 L354.7 158.6 M356.4 167.1 L356.8 159.4 M389.4 170.2 L372.2 163.1 M372.2 163.1 L372.9 155.4 M374.4 164.0 L375.0 156.3 M376.5 164.9 L377.2 157.2 M378.7 165.8 L379.3 158.0 M380.8 166.6 L381.1 162.8 M411.6 169.0 L394.1 163.0 M394.1 163.0 L394.3 155.2 M396.3 163.7 L396.5 156.0 M398.5 164.5 L398.7 156.7 M400.6 165.2 L400.9 157.5 M402.8 166.0 L402.9 162.1 M13.0 210.6 L2.5 195.4 M2.5 195.4 L7.2 189.3 M35.2 209.5 L23.9 194.9 M23.9 194.9 L28.3 188.6 M57.4 208.4 L50.0 191.4 M50.0 191.4 L55.9 186.4 M79.6 207.3 L69.5 191.8 M69.5 191.8 L74.5 185.8 M101.8 206.2 L86.5 195.9 M86.5 195.9 L88.7 188.4 M88.4 197.1 L90.6 189.7 M124.0 205.1 L105.5 204.8 M105.5 204.8 L103.3 197.4 M107.9 204.8 L105.6 197.4 M146.2 204.0 L127.8 204.7 M127.8 204.7 L125.1 197.4 M130.1 204.6 L127.4 197.3 M132.4 204.5 L131.1 200.9 M168.4 202.8 L155.3 189.9 M155.3 189.9 L158.8 183.0 M156.9 191.5 L160.4 184.6 M190.6 201.7 L180.2 186.5 M180.2 186.5 L184.9 180.4 M181.5 188.4 L186.3 182.3 M182.8 190.3 L185.2 187.3 M212.8 200.6 L201.0 186.4 M201.0 186.4 L205.2 179.9 M202.5 188.2 L206.7 181.7 M204.0 190.0 L208.2 183.5 M235.0 199.5 L221.6 186.8 M221.6 186.8 L225.0 179.8 M223.3 188.4 L226.7 181.4 M225.0 190.0 L228.4 183.0 M257.2 198.4 L242.5 187.3 M242.5 187.3 L245.1 180.0 M244.3 188.7 L246.9 181.4 M246.2 190.1 L248.8 182.8 M279.4 197.3 L266.1 184.5 M266.1 184.5 L269.5 177.6 M267.7 186.1 L271.2 179.2 M269.4 187.7 L271.1 184.2 M301.6 196.2 L287.2 184.6 M287.2 184.6 L290.1 177.4 M289.0 186.0 L291.9 178.8 M290.8 187.5 L292.2 183.9 M323.8 195.1 L308.0 185.5 M308.0 185.5 L309.8 178.0 M310.0 186.7 L311.8 179.2 M312.0 187.9 L313.8 180.4 M346.0 194.0 L329.3 186.1 M329.3 186.1 L330.4 178.4 M331.4 187.1 L332.5 179.4 M333.5 188.1 L334.5 180.4 M368.2 192.9 L350.8 186.7 M350.8 186.7 L351.0 179.0 M353.0 187.5 L353.2 179.8 M355.1 188.3 L355.4 180.5 M357.3 189.0 L357.5 185.2 M390.4 191.8 L372.5 187.2 M372.5 187.2 L372.1 179.4 M374.8 187.8 L374.3 180.0 M377.0 188.3 L376.6 180.6 M379.2 188.9 L379.0 185.0 M412.6 190.6 L395.1 184.8 M395.1 184.8 L395.2 177.1 M397.3 185.6 L397.4 177.8 M399.5 186.3 L399.6 178.5 M401.7 187.0 L401.7 183.1 M14.1 232.2 L4.4 216.5 M4.4 216.5 L9.5 210.6 M36.3 231.1 L25.8 215.9 M25.8 215.9 L30.5 209.8 M58.5 230.0 L47.1 215.4 M47.1 215.4 L51.5 209.0 M80.7 228.9 L72.5 212.3 M72.5 212.3 L78.2 207.0 M102.9 227.8 L89.7 214.8 M89.7 214.8 L93.3 207.9 M91.4 216.4 L93.2 213.0 M125.1 226.7 L108.8 218.0 M108.8 218.0 L110.2 210.4 M110.8 219.1 L112.2 211.5 M147.3 225.6 L130.7 217.4 M130.7 217.4 L131.9 209.8 M132.8 218.5 L133.9 210.8 M134.9 219.5 L135.4 215.6 M169.5 224.4 L154.7 213.4 M154.7 213.4 L157.3 206.1 M156.6 214.8 L159.1 207.4 M158.4 216.1 L159.7 212.5 M191.7 223.3 L182.9 207.1 M182.9 207.1 L188.3 201.5 M184.0 209.1 L189.4 203.6 M185.1 211.1 L187.8 208.4 M213.9 222.2 L205.0 206.0 M205.0 206.0 L210.3 200.4 M206.1 208.1 L211.4 202.5 M207.2 210.1 L209.9 207.3 M236.1 221.1 L224.3 206.9 M224.3 206.9 L228.5 200.4 M225.8 208.7 L230.0 202.2 M227.2 210.5 L229.3 207.2 M258.3 220.0 L243.8 208.5 M243.8 208.5 L246.6 201.3 M245.6 210.0 L248.4 202.7 M247.4 211.4 L248.8 207.8 M280.5 218.9 L264.7 209.2 M264.7 209.2 L266.6 201.7 M266.7 210.4 L268.6 202.9 M268.7 211.6 L269.6 207.9 M302.7 217.8 L286.2 209.5 M286.2 209.5 L287.4 201.9 M288.2 210.6 L289.5 202.9 M290.3 211.6 L290.9 207.8 M324.9 216.7 L309.3 206.8 M309.3 206.8 L311.3 199.3 M311.3 208.0 L313.3 200.5 M313.2 209.2 L315.2 201.8 M347.1 215.6 L330.8 206.8 M330.8 206.8 L332.3 199.2 M332.9 207.9 L334.3 200.3 M334.9 209.0 L335.6 205.2 M369.3 214.5 L351.9 208.1 M351.9 208.1 L352.3 200.4 M354.1 208.9 L354.5 201.2 M356.3 209.7 L356.5 205.9 M391.5 213.3 L373.6 208.8 M373.6 208.8 L373.2 201.1 M375.8 209.4 L375.4 201.6 M378.1 209.9 L377.6 202.2 M413.7 212.2 L395.6 208.5 M395.6 208.5 L394.8 200.8 M397.9 208.9 L397.1 201.2 M400.1 209.4 L399.4 201.7 M15.2 253.8 L6.9 237.3 M6.9 237.3 L12.4 231.9 M37.4 252.7 L28.1 236.7 M28.1 236.7 L33.4 231.0 M59.6 251.6 L49.0 236.4 M49.0 236.4 L53.8 230.3 M81.8 250.5 L70.4 235.9 M70.4 235.9 L74.8 229.5 M104.0 249.4 L93.7 234.0 M93.7 234.0 L98.5 228.0 M95.0 236.0 L97.4 232.9 M126.2 248.3 L115.1 233.5 M115.1 233.5 L119.6 227.2 M116.5 235.3 L121.0 229.0 M148.4 247.2 L136.9 232.7 M136.9 232.7 L141.2 226.3 M138.3 234.5 L142.6 228.1 M139.7 236.3 L144.1 229.9 M170.6 246.0 L158.5 232.1 M158.5 232.1 L162.5 225.5 M160.0 233.8 L164.1 227.2 M161.5 235.6 L165.6 229.0 M192.8 244.9 L181.7 230.1 M181.7 230.1 L186.3 223.8 M183.1 232.0 L187.7 225.7 M184.5 233.8 L189.0 227.5 M215.0 243.8 L206.1 227.6 M206.1 227.6 L211.5 222.0 M207.2 229.6 L212.6 224.0 M208.3 231.7 L213.7 226.1 M237.2 242.7 L227.0 227.3 M227.0 227.3 L231.9 221.3 M228.3 229.2 L233.2 223.2 M259.4 241.6 L245.9 228.9 M245.9 228.9 L249.3 221.9 M247.6 230.5 L251.0 223.5 M249.3 232.1 L251.0 228.6 M281.6 240.5 L266.4 230.0 M266.4 230.0 L268.7 222.6 M268.3 231.3 L270.6 223.9 M270.2 232.6 L271.3 228.9 M303.8 239.4 L287.9 229.9 M287.9 229.9 L289.7 222.4 M289.9 231.1 L291.7 223.6 M291.9 232.3 L293.7 224.7 M326.0 238.3 L309.2 230.4 M309.2 230.4 L310.3 222.7 M311.3 231.4 L312.4 223.7 M313.4 232.4 L314.5 224.7 M348.2 237.2 L332.2 227.8 M332.2 227.8 L334.0 220.3 M334.2 229.0 L336.0 221.4 M336.2 230.1 L337.1 226.4 M370.4 236.1 L353.5 228.5 M353.5 228.5 L354.4 220.8 M355.6 229.4 L356.5 221.7 M357.7 230.4 L358.2 226.5 M392.6 234.9 L375.0 229.4 M375.0 229.4 L375.0 221.6 M377.2 230.1 L377.2 222.3 M379.4 230.8 L379.4 226.9 M414.8 233.8 L396.8 229.7 M396.8 229.7 L396.2 222.0 M399.0 230.2 L398.4 222.5 M401.3 230.7 L401.0 226.9 M127.3 269.9 L117.8 254.0 M117.8 254.0 L123.0 248.2 M119.0 256.0 L124.1 250.2 M149.5 268.8 L138.4 253.9 M138.4 253.9 L143.0 247.6 M139.8 255.8 L144.4 249.5 M141.2 257.6 L145.7 251.4 M171.7 267.7 L160.2 253.1 M160.2 253.1 L164.6 246.7 M161.7 254.9 L166.0 248.5 M163.1 256.8 L167.5 250.4 M193.9 266.5 L182.8 251.7 M182.8 251.7 L187.4 245.4 M184.2 253.6 L188.7 247.3 M185.6 255.4 L190.1 249.1 M216.1 265.4 L205.2 250.5 M205.2 250.5 L209.8 244.3 M206.5 252.4 L211.1 246.1 M207.9 254.2 L212.5 248.0 M238.3 264.3 L224.7 251.7 M224.7 251.7 L228.0 244.7 M226.4 253.3 L229.7 246.3 M260.5 263.2 L248.2 249.4 M248.2 249.4 L252.2 242.7 M249.7 251.1 L253.8 244.5 M251.3 252.8 L253.3 249.5 M282.7 262.1 L267.9 251.0 M267.9 251.0 L270.5 243.7 M269.7 252.4 L272.3 245.1 M271.6 253.8 L274.2 246.5 M304.9 261.0 L289.0 251.5 M289.0 251.5 L290.8 243.9 M291.0 252.7 L292.8 245.1 M293.0 253.8 L294.8 246.3 M327.1 259.9 L310.3 252.0 M310.3 252.0 L311.4 244.3 M312.4 253.0 L313.5 245.3 M314.5 254.0 L315.6 246.3 M349.3 258.8 L331.9 252.6 M331.9 252.6 L332.2 244.8 M334.0 253.3 L334.3 245.6 M336.2 254.1 L336.5 246.4 M371.5 257.7 L354.6 250.2 M354.6 250.2 L355.4 242.5 M356.7 251.1 L357.5 243.4 M358.8 252.1 L359.7 244.4 M393.7 256.6 L376.5 249.8 M376.5 249.8 L377.0 242.1 M378.6 250.6 L379.2 242.9 M380.8 251.5 L381.3 243.8 M415.9 255.4 L398.4 249.4 M398.4 249.4 L398.7 241.6 M400.6 250.1 L400.8 242.4 M402.8 250.9 L403.0 243.1" fill="none" stroke="#000" stroke-width="1.3"/>
<path d="M-15.0 13.7 L-11.7 6.7 L-10.4 14.3 Z M99.6 -0.5 L105.9 -5.0 L103.3 2.3 Z M120.4 0.6 L126.0 -4.8 L124.4 2.8 Z M143.9 -2.6 L150.2 -7.2 L147.6 0.1 Z M166.7 -4.5 L173.2 -8.7 L170.3 -1.5 Z M189.5 -6.3 L196.2 -10.2 L192.9 -3.2 Z M212.1 -7.9 L219.0 -11.5 L215.4 -4.6 Z M233.8 -8.4 L240.4 -12.3 L237.2 -5.3 Z M255.3 -8.7 L261.8 -13.0 L258.9 -5.8 Z M278.3 -10.7 L285.0 -14.6 L281.7 -7.6 Z M300.1 -11.4 L306.7 -15.5 L303.6 -8.4 Z M322.0 -12.1 L328.5 -16.4 L325.6 -9.2 Z M343.4 -12.2 L349.5 -16.9 L347.2 -9.5 Z M78.7 21.9 L85.1 17.5 L82.3 24.8 Z M101.0 20.7 L107.4 16.4 L104.6 23.6 Z M122.1 21.1 L128.1 16.1 L126.0 23.6 Z M144.5 19.7 L150.5 14.9 L148.3 22.3 Z M167.3 17.7 L173.6 13.2 L171.0 20.5 Z M191.4 14.4 L198.4 11.0 L194.6 17.8 Z M213.8 13.2 L220.7 9.8 L216.9 16.6 Z M235.4 12.6 L242.2 9.0 L238.7 15.9 Z M256.9 12.3 L263.5 8.3 L260.3 15.4 Z M278.5 11.9 L284.9 7.5 L282.1 14.8 Z M301.6 9.7 L308.3 5.9 L305.0 12.9 Z M323.5 9.0 L330.1 4.9 L327.0 12.0 Z M344.8 8.9 L351.1 4.4 L348.5 11.7 Z M366.1 9.2 L372.0 4.1 L370.0 11.6 Z M79.8 43.5 L86.2 39.1 L83.4 46.3 Z M101.9 42.5 L108.3 38.1 L105.5 45.3 Z M123.3 42.5 L129.3 37.7 L127.1 45.1 Z M145.8 40.9 L152.0 36.2 L149.6 43.6 Z M168.9 38.6 L175.5 34.4 L172.5 41.6 Z M191.4 37.2 L198.1 33.2 L194.9 40.2 Z M215.1 34.6 L222.1 31.4 L218.2 38.0 Z M236.6 34.1 L243.5 30.5 L239.9 37.4 Z M258.1 33.8 L264.8 29.8 L261.5 36.8 Z M279.7 33.4 L286.1 29.1 L283.3 36.3 Z M301.4 32.8 L307.7 28.3 L305.2 35.6 Z M324.7 30.4 L331.4 26.5 L328.1 33.5 Z M346.4 29.9 L352.9 25.7 L349.9 32.9 Z M367.8 29.8 L374.0 25.1 L371.6 32.5 Z M80.2 66.0 L86.3 61.3 L84.0 68.6 Z M102.0 65.5 L108.0 60.5 L105.9 68.0 Z M124.9 63.4 L131.1 58.8 L128.6 66.1 Z M147.6 61.5 L154.1 57.3 L151.2 64.5 Z M170.9 59.3 L177.7 55.6 L174.2 62.5 Z M192.9 58.3 L199.7 54.5 L196.3 61.5 Z M214.5 57.9 L221.1 53.8 L218.0 60.9 Z M237.6 55.8 L244.5 52.2 L240.9 59.1 Z M259.2 55.3 L265.9 51.4 L262.6 58.4 Z M280.7 55.0 L287.2 50.7 L284.4 57.9 Z M302.6 54.4 L308.8 49.9 L306.3 57.2 Z M324.5 53.6 L330.7 48.9 L328.3 56.3 Z M347.7 51.2 L354.3 47.1 L351.2 54.2 Z M369.5 50.6 L375.9 46.3 L373.1 53.5 Z M391.4 49.9 L397.7 45.4 L395.1 52.7 Z M150.0 81.8 L156.8 78.2 L153.2 85.0 Z M173.6 79.3 L180.9 76.5 L176.5 82.9 Z M195.1 78.9 L202.1 75.7 L198.1 82.3 Z M215.3 79.8 L221.8 75.5 L218.9 82.7 Z M237.1 79.2 L243.4 74.7 L240.8 82.0 Z M260.4 76.8 L267.1 72.9 L263.8 79.9 Z M282.2 76.2 L288.7 72.1 L285.7 79.2 Z M304.0 75.5 L310.4 71.2 L307.6 78.4 Z M326.1 74.6 L332.5 70.2 L329.7 77.4 Z M348.1 73.6 L354.5 69.1 L351.8 76.4 Z M370.2 72.7 L376.5 68.2 L373.9 75.5 Z M393.6 70.2 L400.3 66.3 L397.0 73.3 Z M197.4 99.5 L204.7 96.8 L200.2 103.1 Z M216.6 101.2 L223.1 97.0 L220.1 104.2 Z M238.0 101.1 L244.2 96.5 L241.7 103.8 Z M260.3 99.8 L266.6 95.3 L264.0 102.6 Z M283.7 97.2 L290.4 93.4 L287.1 100.4 Z M305.7 96.4 L312.3 92.4 L309.1 99.5 Z M327.8 95.4 L334.4 91.3 L331.3 98.4 Z M350.0 94.2 L356.7 90.2 L353.5 97.3 Z M372.1 93.3 L378.7 89.2 L375.6 96.3 Z M394.1 92.5 L400.6 88.2 L397.6 95.4 Z M328.6 117.3 L335.1 113.1 L332.1 120.3 Z M350.6 116.4 L357.1 112.1 L354.2 119.3 Z M372.6 115.6 L379.0 111.2 L376.3 118.4 Z M394.5 114.9 L400.7 110.3 L398.2 117.6 Z M350.8 139.3 L356.9 134.4 L354.6 141.9 Z M372.4 139.1 L378.2 133.9 L376.4 141.4 Z M394.2 138.6 L399.8 133.2 L398.3 140.8 Z" fill="#000" stroke="#000" stroke-width="1.3" stroke-linejoin="miter"/>
<text x="208.6" y="71.4" transform="rotate(58.0 208.6 71.4)" class="cl" dy="4.9" textLength="34.8" lengthAdjust="spacingAndGlyphs">3030</text>
<path d="M212.5 111.4 h5.4 M215.2 108.7 v5.4" stroke="#2a0a0a" stroke-width="1.7" fill="none"/>
</g>
<rect x="0" y="0" width="412.2" height="258.5" fill="none" stroke="#000" stroke-width="1.07"/>
</g>
</g></svg>
<svg class="pan" style="left:8.3px;top:368.6px" width="414.2" height="260.5" viewBox="0 0 414.2 260.5">
<g transform="translate(1,1)">
<g id="pc3">
<clipPath id="cp3"><rect x="0" y="0" width="412.2" height="258.5"/></clipPath>
<g clip-path="url(#cp3)">
<g filter="url(#fld)">
<path fill="rgb(12,12,12)" d="M245.4 149.1H284.9V159.4H245.4Z"/>
<path fill="rgb(16,16,16)" d="M235.5 149.1H245.7V159.4H235.5Z"/>
<path fill="rgb(20,20,20)" d="M245.4 159.1H284.9V169.3H245.4Z"/>
<path fill="rgb(24,24,24)" d="M-30.0 149.1H29.7V159.4H-30.0ZM-30.0 159.1H29.7V169.3H-30.0ZM176.7 159.1H186.8V169.3H176.7ZM225.7 159.1H245.7V169.3H225.7ZM-30.0 169.0H29.7V179.3H-30.0ZM147.2 169.0H157.3V179.3H147.2ZM-30.0 179.0H29.7V189.2H-30.0ZM19.6 188.9H29.7V199.1H19.6ZM29.4 198.8H39.6V209.1H29.4ZM29.4 208.8H49.4V219.0H29.4ZM19.6 218.7H59.2V229.0H19.6ZM-30.0 228.7H88.6V238.9H-30.0ZM-30.0 238.6H98.4V248.9H-30.0ZM-30.0 248.6H108.3V288.8H-30.0Z"/>
<path fill="rgb(28,28,28)" d="M-30.0 139.2H29.7V149.4H-30.0ZM176.7 149.1H186.8V159.4H176.7ZM29.4 159.1H39.6V169.3H29.4ZM147.2 159.1H177.0V169.3H147.2ZM186.5 159.1H196.6V169.3H186.5ZM29.4 169.0H39.6V179.3H29.4ZM137.4 169.0H147.5V179.3H137.4ZM157.0 169.0H186.8V179.3H157.0ZM29.4 179.0H39.6V189.2H29.4ZM68.7 179.0H88.6V189.2H68.7ZM137.4 179.0H157.3V189.2H137.4ZM-30.0 188.9H19.9V199.1H-30.0ZM29.4 188.9H39.6V199.1H29.4ZM68.7 188.9H88.6V199.1H68.7ZM19.6 198.8H29.7V209.1H19.6ZM39.3 198.8H49.4V209.1H39.3ZM166.8 198.8H186.8V209.1H166.8ZM19.6 208.8H29.7V219.0H19.6ZM49.1 208.8H59.2V219.0H49.1ZM176.7 208.8H186.8V219.0H176.7ZM-30.0 218.7H19.9V229.0H-30.0ZM58.9 218.7H88.6V229.0H58.9ZM88.3 228.7H98.4V238.9H88.3ZM98.1 238.6H108.3V248.9H98.1Z"/>
<path fill="rgb(32,32,32)" d="M29.4 149.1H39.6V159.4H29.4ZM166.8 149.1H177.0V159.4H166.8ZM186.5 149.1H196.6V159.4H186.5ZM225.7 149.1H235.8V159.4H225.7ZM137.4 159.1H147.5V169.3H137.4ZM215.9 159.1H226.0V169.3H215.9ZM284.6 159.1H294.7V169.3H284.6ZM186.5 169.0H206.4V179.3H186.5ZM215.9 169.0H255.5V179.3H215.9ZM58.9 179.0H69.0V189.2H58.9ZM157.0 179.0H167.1V189.2H157.0ZM186.5 179.0H216.2V189.2H186.5ZM39.3 188.9H69.0V199.1H39.3ZM88.3 188.9H98.4V199.1H88.3ZM137.4 188.9H167.1V199.1H137.4ZM9.8 198.8H19.9V209.1H9.8ZM49.1 198.8H69.0V209.1H49.1ZM147.2 198.8H167.1V209.1H147.2ZM9.8 208.8H19.9V219.0H9.8ZM58.9 208.8H69.0V219.0H58.9ZM166.8 208.8H177.0V219.0H166.8ZM88.3 218.7H98.4V229.0H88.3ZM98.1 228.7H108.3V238.9H98.1ZM196.3 228.7H216.2V238.9H196.3ZM108.0 248.6H118.1V288.8H108.0Z"/>
<path fill="rgb(36,36,36)" d="M-30.0 129.2H29.7V139.5H-30.0ZM29.4 139.2H39.6V149.4H29.4ZM137.4 149.1H167.1V159.4H137.4ZM284.6 149.1H294.7V159.4H284.6ZM127.6 159.1H137.7V169.3H127.6ZM39.3 169.0H49.4V179.3H39.3ZM58.9 169.0H88.6V179.3H58.9ZM127.6 169.0H137.7V179.3H127.6ZM206.1 169.0H216.2V179.3H206.1ZM255.2 169.0H284.9V179.3H255.2ZM39.3 179.0H59.2V189.2H39.3ZM88.3 179.0H98.4V189.2H88.3ZM127.6 179.0H137.7V189.2H127.6ZM166.8 179.0H186.8V189.2H166.8ZM166.8 188.9H206.4V199.1H166.8ZM-30.0 198.8H10.1V209.1H-30.0ZM68.7 198.8H88.6V209.1H68.7ZM186.5 198.8H196.6V209.1H186.5ZM-30.0 208.8H10.1V219.0H-30.0ZM68.7 208.8H98.4V219.0H68.7ZM157.0 208.8H167.1V219.0H157.0ZM186.5 208.8H196.6V219.0H186.5ZM98.1 218.7H108.3V229.0H98.1ZM186.5 218.7H216.2V229.0H186.5ZM215.9 228.7H226.0V238.9H215.9ZM108.0 238.6H118.1V248.9H108.0ZM206.1 238.6H216.2V248.9H206.1Z"/>
<path fill="rgb(40,40,40)" d="M29.4 129.2H39.6V139.5H29.4ZM176.7 139.2H186.8V149.4H176.7ZM235.5 139.2H255.5V149.4H235.5ZM127.6 149.1H137.7V159.4H127.6ZM215.9 149.1H226.0V159.4H215.9ZM39.3 159.1H49.4V169.3H39.3ZM196.3 159.1H216.2V169.3H196.3ZM49.1 169.0H59.2V179.3H49.1ZM88.3 169.0H98.4V179.3H88.3ZM284.6 169.0H294.7V179.3H284.6ZM127.6 188.9H137.7V199.1H127.6ZM206.1 188.9H216.2V199.1H206.1ZM88.3 198.8H108.3V209.1H88.3ZM137.4 198.8H147.5V209.1H137.4ZM98.1 208.8H108.3V219.0H98.1ZM176.7 218.7H186.8V229.0H176.7ZM215.9 218.7H226.0V229.0H215.9ZM215.9 238.6H226.0V248.9H215.9ZM206.1 248.6H226.0V288.8H206.1ZM382.8 248.6H442.5V288.8H382.8Z"/>
<path fill="rgb(44,44,44)" d="M166.8 139.2H177.0V149.4H166.8ZM186.5 139.2H196.6V149.4H186.5ZM255.2 139.2H265.3V149.4H255.2ZM39.3 149.1H49.4V159.4H39.3ZM117.8 149.1H127.9V159.4H117.8ZM196.3 149.1H206.4V159.4H196.3ZM49.1 159.1H88.6V169.3H49.1ZM117.8 159.1H127.9V169.3H117.8ZM117.8 169.0H127.9V179.3H117.8ZM294.4 169.0H304.5V179.3H294.4ZM117.8 179.0H127.9V189.2H117.8ZM215.9 179.0H226.0V189.2H215.9ZM108.0 208.8H118.1V219.0H108.0ZM147.2 208.8H157.3V219.0H147.2ZM215.9 208.8H235.8V219.0H215.9ZM166.8 218.7H177.0V229.0H166.8ZM225.7 218.7H235.8V229.0H225.7ZM108.0 228.7H118.1V238.9H108.0ZM186.5 228.7H196.6V238.9H186.5ZM225.7 228.7H235.8V238.9H225.7ZM196.3 238.6H206.4V248.9H196.3ZM225.7 238.6H235.8V248.9H225.7ZM382.8 238.6H442.5V248.9H382.8ZM225.7 248.6H235.8V288.8H225.7ZM372.9 248.6H383.1V288.8H372.9Z"/>
<path fill="rgb(48,48,48)" d="M-30.0 119.3H29.7V129.6H-30.0ZM39.3 139.2H49.4V149.4H39.3ZM117.8 139.2H167.1V149.4H117.8ZM225.7 139.2H235.8V149.4H225.7ZM265.0 139.2H284.9V149.4H265.0ZM206.1 149.1H216.2V159.4H206.1ZM88.3 159.1H98.4V169.3H88.3ZM98.1 179.0H108.3V189.2H98.1ZM225.7 179.0H245.7V189.2H225.7ZM98.1 188.9H127.9V199.1H98.1ZM215.9 188.9H226.0V199.1H215.9ZM108.0 198.8H137.7V209.1H108.0ZM215.9 198.8H235.8V209.1H215.9ZM108.0 218.7H118.1V229.0H108.0ZM372.9 238.6H383.1V248.9H372.9ZM117.8 248.6H127.9V288.8H117.8ZM196.3 248.6H206.4V288.8H196.3Z"/>
<path fill="rgb(52,52,52)" d="M29.4 119.3H39.6V129.6H29.4ZM39.3 129.2H49.4V139.5H39.3ZM49.1 149.1H98.4V159.4H49.1ZM108.0 149.1H118.1V159.4H108.0ZM98.1 159.1H118.1V169.3H98.1ZM294.4 159.1H304.5V169.3H294.4ZM98.1 169.0H118.1V179.3H98.1ZM108.0 179.0H118.1V189.2H108.0ZM245.4 179.0H255.5V189.2H245.4ZM225.7 188.9H235.8V199.1H225.7ZM196.3 198.8H206.4V209.1H196.3ZM235.5 198.8H245.7V209.1H235.5ZM137.4 208.8H147.5V219.0H137.4ZM196.3 208.8H206.4V219.0H196.3ZM235.5 208.8H245.7V219.0H235.5ZM157.0 218.7H167.1V229.0H157.0ZM235.5 218.7H245.7V229.0H235.5ZM176.7 228.7H186.8V238.9H176.7ZM235.5 228.7H245.7V238.9H235.5ZM382.8 228.7H442.5V238.9H382.8ZM117.8 238.6H127.9V248.9H117.8ZM235.5 238.6H245.7V248.9H235.5ZM235.5 248.6H245.7V288.8H235.5ZM363.1 248.6H373.2V288.8H363.1Z"/>
<path fill="rgb(56,56,56)" d="M39.3 119.3H49.4V129.6H39.3ZM108.0 129.2H118.1V139.5H108.0ZM49.1 139.2H59.2V149.4H49.1ZM98.1 139.2H118.1V149.4H98.1ZM215.9 139.2H226.0V149.4H215.9ZM98.1 149.1H108.3V159.4H98.1ZM304.2 169.0H314.4V179.3H304.2ZM255.2 179.0H265.3V189.2H255.2ZM235.5 188.9H245.7V199.1H235.5ZM206.1 198.8H216.2V209.1H206.1ZM117.8 208.8H137.7V219.0H117.8ZM206.1 208.8H216.2V219.0H206.1ZM372.9 228.7H383.1V238.9H372.9ZM186.5 238.6H196.6V248.9H186.5ZM245.4 238.6H255.5V248.9H245.4ZM363.1 238.6H373.2V248.9H363.1ZM245.4 248.6H265.3V288.8H245.4ZM304.2 248.6H324.2V288.8H304.2Z"/>
<path fill="rgb(60,60,60)" d="M98.1 119.3H108.3V129.6H98.1ZM49.1 129.2H59.2V139.5H49.1ZM98.1 129.2H108.3V139.5H98.1ZM176.7 129.2H186.8V139.5H176.7ZM58.9 139.2H98.4V149.4H58.9ZM265.0 179.0H294.7V189.2H265.0ZM245.4 188.9H255.5V199.1H245.4ZM245.4 198.8H255.5V209.1H245.4ZM245.4 208.8H255.5V219.0H245.4ZM117.8 218.7H127.9V229.0H117.8ZM147.2 218.7H157.3V229.0H147.2ZM245.4 218.7H255.5V229.0H245.4ZM382.8 218.7H442.5V229.0H382.8ZM117.8 228.7H127.9V238.9H117.8ZM166.8 228.7H177.0V238.9H166.8ZM245.4 228.7H255.5V238.9H245.4ZM255.2 238.6H265.3V248.9H255.2ZM304.2 238.6H324.2V248.9H304.2ZM127.6 248.6H137.7V288.8H127.6ZM265.0 248.6H275.1V288.8H265.0ZM294.4 248.6H304.5V288.8H294.4ZM323.9 248.6H334.0V288.8H323.9ZM353.3 248.6H363.4V288.8H353.3Z"/>
<path fill="rgb(64,64,64)" d="M-30.0 109.4H39.6V119.6H-30.0ZM98.1 109.4H118.1V119.6H98.1ZM49.1 119.3H59.2V129.6H49.1ZM108.0 119.3H118.1V129.6H108.0ZM58.9 129.2H69.0V139.5H58.9ZM88.3 129.2H98.4V139.5H88.3ZM117.8 129.2H177.0V139.5H117.8ZM196.3 139.2H206.4V149.4H196.3ZM314.1 169.0H324.2V179.3H314.1ZM294.4 179.0H314.4V189.2H294.4ZM137.4 218.7H147.5V229.0H137.4ZM372.9 218.7H383.1V229.0H372.9ZM157.0 228.7H167.1V238.9H157.0ZM255.2 228.7H265.3V238.9H255.2ZM363.1 228.7H373.2V238.9H363.1ZM127.6 238.6H137.7V248.9H127.6ZM265.0 238.6H275.1V248.9H265.0ZM294.4 238.6H304.5V248.9H294.4ZM323.9 238.6H334.0V248.9H323.9ZM353.3 238.6H363.4V248.9H353.3ZM186.5 248.6H196.6V288.8H186.5Z"/>
<path fill="rgb(68,68,68)" d="M39.3 109.4H49.4V119.6H39.3ZM68.7 129.2H88.6V139.5H68.7ZM206.1 139.2H216.2V149.4H206.1ZM255.2 188.9H265.3V199.1H255.2ZM255.2 198.8H265.3V209.1H255.2ZM255.2 208.8H265.3V219.0H255.2ZM372.9 208.8H442.5V219.0H372.9ZM127.6 218.7H137.7V229.0H127.6ZM255.2 218.7H265.3V229.0H255.2ZM363.1 218.7H373.2V229.0H363.1ZM127.6 228.7H137.7V238.9H127.6ZM265.0 228.7H275.1V238.9H265.0ZM294.4 228.7H334.0V238.9H294.4ZM353.3 228.7H363.4V238.9H353.3ZM137.4 238.6H147.5V248.9H137.4ZM176.7 238.6H186.8V248.9H176.7ZM274.8 238.6H294.7V248.9H274.8ZM333.7 238.6H353.6V248.9H333.7ZM137.4 248.6H147.5V288.8H137.4ZM274.8 248.6H294.7V288.8H274.8ZM333.7 248.6H353.6V288.8H333.7Z"/>
<path fill="rgb(72,72,72)" d="M-30.0 89.5H29.7V99.7H-30.0ZM-30.0 99.4H39.6V109.7H-30.0ZM49.1 109.4H59.2V119.6H49.1ZM58.9 119.3H69.0V129.6H58.9ZM88.3 119.3H98.4V129.6H88.3ZM117.8 119.3H127.9V129.6H117.8ZM186.5 129.2H196.6V139.5H186.5ZM284.6 139.2H294.7V149.4H284.6ZM304.2 159.1H314.4V169.3H304.2ZM314.1 179.0H334.0V189.2H314.1ZM265.0 188.9H343.8V199.1H265.0ZM265.0 198.8H353.6V209.1H265.0ZM265.0 208.8H373.2V219.0H265.0ZM265.0 218.7H363.4V229.0H265.0ZM137.4 228.7H157.3V238.9H137.4ZM274.8 228.7H294.7V238.9H274.8ZM333.7 228.7H353.6V238.9H333.7ZM147.2 238.6H157.3V248.9H147.2Z"/>
<path fill="rgb(76,76,76)" d="M-30.0 79.5H29.7V89.8H-30.0ZM29.4 89.5H39.6V99.7H29.4ZM39.3 99.4H49.4V109.7H39.3ZM88.3 109.4H98.4V119.6H88.3ZM68.7 119.3H88.6V129.6H68.7ZM323.9 169.0H334.0V179.3H323.9ZM333.7 179.0H343.8V189.2H333.7ZM343.5 188.9H353.6V199.1H343.5ZM353.3 198.8H392.9V209.1H353.3ZM166.8 238.6H177.0V248.9H166.8ZM147.2 248.6H157.3V288.8H147.2ZM176.7 248.6H186.8V288.8H176.7Z"/>
<path fill="rgb(80,80,80)" d="M29.4 79.5H39.6V89.8H29.4ZM39.3 89.5H49.4V99.7H39.3ZM49.1 99.4H59.2V109.7H49.1ZM98.1 99.4H108.3V109.7H98.1ZM58.9 109.4H69.0V119.6H58.9ZM127.6 119.3H177.0V129.6H127.6ZM225.7 129.2H235.8V139.5H225.7ZM314.1 159.1H324.2V169.3H314.1ZM333.7 169.0H343.8V179.3H333.7ZM343.5 179.0H353.6V189.2H343.5ZM353.3 188.9H363.4V199.1H353.3ZM392.6 198.8H442.5V209.1H392.6ZM157.0 238.6H167.1V248.9H157.0Z"/>
<path fill="rgb(84,84,84)" d="M-30.0 69.6H29.7V79.8H-30.0ZM49.1 89.5H59.2V99.7H49.1ZM58.9 99.4H69.0V109.7H58.9ZM108.0 99.4H118.1V109.7H108.0ZM68.7 109.4H88.6V119.6H68.7ZM215.9 129.2H226.0V139.5H215.9ZM343.5 169.0H353.6V179.3H343.5ZM353.3 179.0H363.4V189.2H353.3ZM363.1 188.9H383.1V199.1H363.1ZM157.0 248.6H177.0V288.8H157.0Z"/>
<path fill="rgb(88,88,88)" d="M29.4 69.6H39.6V79.8H29.4ZM39.3 79.5H49.4V89.8H39.3ZM58.9 89.5H69.0V99.7H58.9ZM68.7 99.4H78.8V109.7H68.7ZM88.3 99.4H98.4V109.7H88.3ZM117.8 109.4H127.9V119.6H117.8ZM176.7 119.3H186.8V129.6H176.7ZM235.5 129.2H245.7V139.5H235.5ZM294.4 149.1H304.5V159.4H294.4ZM323.9 159.1H334.0V169.3H323.9ZM353.3 169.0H363.4V179.3H353.3ZM363.1 179.0H373.2V189.2H363.1ZM382.8 188.9H392.9V199.1H382.8Z"/>
<path fill="rgb(92,92,92)" d="M49.1 79.5H69.0V89.8H49.1ZM196.3 129.2H206.4V139.5H196.3ZM333.7 159.1H363.4V169.3H333.7ZM363.1 169.0H373.2V179.3H363.1ZM372.9 179.0H383.1V189.2H372.9ZM392.6 188.9H402.7V199.1H392.6Z"/>
<path fill="rgb(96,96,96)" d="M-30.0 59.7H29.7V69.9H-30.0ZM39.3 69.6H49.4V79.8H39.3ZM68.7 89.5H78.8V99.7H68.7ZM78.5 99.4H88.6V109.7H78.5ZM127.6 109.4H167.1V119.6H127.6ZM206.1 129.2H216.2V139.5H206.1ZM363.1 159.1H373.2V169.3H363.1ZM372.9 169.0H383.1V179.3H372.9ZM382.8 179.0H392.9V189.2H382.8ZM402.4 188.9H442.5V199.1H402.4Z"/>
<path fill="rgb(100,100,100)" d="M29.4 59.7H39.6V69.9H29.4ZM49.1 69.6H69.0V79.8H49.1ZM68.7 79.5H78.8V89.8H68.7ZM186.5 119.3H196.6V129.6H186.5ZM245.4 129.2H255.5V139.5H245.4ZM343.5 149.1H363.4V159.4H343.5Z"/>
<path fill="rgb(104,104,104)" d="M39.3 59.7H49.4V69.9H39.3ZM78.5 89.5H88.6V99.7H78.5ZM98.1 89.5H108.3V99.7H98.1ZM117.8 99.4H127.9V109.7H117.8ZM166.8 109.4H177.0V119.6H166.8ZM333.7 149.1H343.8V159.4H333.7ZM363.1 149.1H373.2V159.4H363.1ZM372.9 159.1H383.1V169.3H372.9ZM382.8 169.0H392.9V179.3H382.8ZM392.6 179.0H402.7V189.2H392.6Z"/>
<path fill="rgb(108,108,108)" d="M58.9 -30.0H78.8V10.2H58.9ZM49.1 59.7H69.0V69.9H49.1ZM402.4 179.0H442.5V189.2H402.4Z"/>
<path fill="rgb(112,112,112)" d="M58.9 9.9H78.8V20.2H58.9ZM-30.0 49.7H39.6V60.0H-30.0ZM68.7 69.6H78.8V79.8H68.7ZM88.3 89.5H98.4V99.7H88.3ZM108.0 89.5H118.1V99.7H108.0ZM176.7 109.4H186.8V119.6H176.7ZM304.2 149.1H314.4V159.4H304.2ZM372.9 149.1H383.1V159.4H372.9ZM382.8 159.1H392.9V169.3H382.8ZM392.6 169.0H402.7V179.3H392.6Z"/>
<path fill="rgb(116,116,116)" d="M49.1 -30.0H59.2V10.2H49.1ZM78.5 -30.0H88.6V10.2H78.5ZM39.3 49.7H69.0V60.0H39.3ZM157.0 99.4H167.1V109.7H157.0ZM343.5 139.2H363.4V149.4H343.5ZM323.9 149.1H334.0V159.4H323.9ZM402.4 169.0H442.5V179.3H402.4Z"/>
<path fill="rgb(120,120,120)" d="M49.1 9.9H59.2V20.2H49.1ZM78.5 9.9H88.6V20.2H78.5ZM58.9 19.9H78.8V30.1H58.9ZM58.9 39.8H69.0V50.0H58.9ZM68.7 59.7H78.8V69.9H68.7ZM78.5 79.5H88.6V89.8H78.5ZM127.6 99.4H137.7V109.7H127.6ZM166.8 99.4H177.0V109.7H166.8ZM215.9 119.3H235.8V129.6H215.9ZM255.2 129.2H265.3V139.5H255.2ZM294.4 139.2H304.5V149.4H294.4ZM333.7 139.2H343.8V149.4H333.7ZM363.1 139.2H373.2V149.4H363.1ZM314.1 149.1H324.2V159.4H314.1Z"/>
<path fill="rgb(124,124,124)" d="M39.3 -30.0H49.4V10.2H39.3ZM88.3 -30.0H98.4V10.2H88.3ZM392.6 19.9H442.5V30.1H392.6ZM58.9 29.8H78.8V40.1H58.9ZM-30.0 39.8H19.9V50.0H-30.0ZM39.3 39.8H59.2V50.0H39.3ZM68.7 49.7H78.8V60.0H68.7ZM98.1 79.5H108.3V89.8H98.1ZM137.4 99.4H157.3V109.7H137.4ZM372.9 139.2H383.1V149.4H372.9ZM382.8 149.1H392.9V159.4H382.8ZM392.6 159.1H402.7V169.3H392.6Z"/>
<path fill="rgb(128,128,128)" d="M39.3 9.9H49.4V20.2H39.3ZM88.3 9.9H108.3V20.2H88.3ZM49.1 19.9H59.2V30.1H49.1ZM78.5 19.9H108.3V30.1H78.5ZM382.8 19.9H392.9V30.1H382.8ZM49.1 29.8H59.2V40.1H49.1ZM372.9 29.8H442.5V40.1H372.9ZM19.6 39.8H39.6V50.0H19.6ZM68.7 39.8H78.8V50.0H68.7ZM88.3 79.5H98.4V89.8H88.3ZM196.3 119.3H206.4V129.6H196.3ZM235.5 119.3H245.7V129.6H235.5ZM265.0 129.2H284.9V139.5H265.0ZM402.4 159.1H442.5V169.3H402.4Z"/>
<path fill="rgb(131,131,131)" d="M29.4 -30.0H39.6V10.2H29.4ZM98.1 -30.0H108.3V10.2H98.1ZM402.4 9.9H442.5V20.2H402.4ZM372.9 19.9H383.1V30.1H372.9ZM-30.0 29.8H10.1V40.1H-30.0ZM98.1 29.8H108.3V40.1H98.1ZM78.5 69.6H88.6V79.8H78.5ZM108.0 79.5H118.1V89.8H108.0ZM117.8 89.5H127.9V99.7H117.8ZM166.8 89.5H177.0V99.7H166.8ZM176.7 99.4H186.8V109.7H176.7ZM206.1 119.3H216.2V129.6H206.1Z"/>
<path fill="rgb(135,135,135)" d="M-30.0 -30.0H29.7V10.2H-30.0ZM402.4 -30.0H442.5V10.2H402.4ZM-30.0 9.9H19.9V20.2H-30.0ZM29.4 9.9H39.6V20.2H29.4ZM392.6 9.9H402.7V20.2H392.6ZM-30.0 19.9H10.1V30.1H-30.0ZM39.3 19.9H49.4V30.1H39.3ZM9.8 29.8H19.9V40.1H9.8ZM39.3 29.8H49.4V40.1H39.3ZM78.5 29.8H98.4V40.1H78.5ZM363.1 29.8H373.2V40.1H363.1ZM363.1 39.8H373.2V50.0H363.1ZM98.1 69.6H108.3V79.8H98.1ZM186.5 109.4H196.6V119.6H186.5ZM284.6 129.2H294.7V139.5H284.6ZM323.9 139.2H334.0V149.4H323.9ZM382.8 139.2H392.9V149.4H382.8ZM392.6 149.1H402.7V159.4H392.6Z"/>
<path fill="rgb(139,139,139)" d="M392.6 -30.0H402.7V10.2H392.6ZM19.6 9.9H29.7V20.2H19.6ZM382.8 9.9H392.9V20.2H382.8ZM9.8 19.9H19.9V30.1H9.8ZM19.6 29.8H39.6V40.1H19.6ZM353.3 29.8H363.4V40.1H353.3ZM78.5 39.8H88.6V50.0H78.5ZM353.3 39.8H363.4V50.0H353.3ZM78.5 59.7H88.6V69.9H78.5ZM88.3 69.6H98.4V79.8H88.3ZM108.0 69.6H118.1V79.8H108.0ZM157.0 89.5H167.1V99.7H157.0ZM343.5 129.2H373.2V139.5H343.5ZM314.1 139.2H324.2V149.4H314.1Z"/>
<path fill="rgb(143,143,143)" d="M19.6 19.9H39.6V30.1H19.6ZM363.1 19.9H373.2V30.1H363.1ZM98.1 39.8H108.3V50.0H98.1ZM372.9 39.8H442.5V50.0H372.9ZM78.5 49.7H88.6V60.0H78.5ZM353.3 49.7H373.2V60.0H353.3ZM98.1 59.7H108.3V69.9H98.1ZM166.8 79.5H177.0V89.8H166.8ZM176.7 89.5H186.8V99.7H176.7ZM245.4 119.3H255.5V129.6H245.4ZM323.9 129.2H343.8V139.5H323.9ZM372.9 129.2H383.1V139.5H372.9ZM304.2 139.2H314.4V149.4H304.2ZM402.4 149.1H442.5V159.4H402.4Z"/>
<path fill="rgb(147,147,147)" d="M382.8 -30.0H392.9V10.2H382.8ZM343.5 29.8H353.6V40.1H343.5ZM88.3 39.8H98.4V50.0H88.3ZM343.5 39.8H353.6V50.0H343.5ZM98.1 49.7H108.3V60.0H98.1ZM88.3 59.7H98.4V69.9H88.3ZM117.8 79.5H127.9V89.8H117.8ZM127.6 89.5H137.7V99.7H127.6ZM382.8 129.2H392.9V139.5H382.8ZM392.6 139.2H402.7V149.4H392.6Z"/>
<path fill="rgb(151,151,151)" d="M372.9 9.9H383.1V20.2H372.9ZM108.0 19.9H118.1V30.1H108.0ZM343.5 19.9H363.4V30.1H343.5ZM108.0 29.8H118.1V40.1H108.0ZM88.3 49.7H98.4V60.0H88.3ZM343.5 49.7H353.6V60.0H343.5ZM372.9 49.7H383.1V60.0H372.9ZM108.0 59.7H118.1V69.9H108.0ZM353.3 59.7H373.2V69.9H353.3ZM166.8 69.6H177.0V79.8H166.8ZM176.7 79.5H186.8V89.8H176.7ZM363.1 109.4H392.9V119.6H363.1ZM353.3 119.3H383.1V129.6H353.3ZM294.4 129.2H304.5V139.5H294.4ZM314.1 129.2H324.2V139.5H314.1Z"/>
<path fill="rgb(155,155,155)" d="M108.0 9.9H118.1V20.2H108.0ZM333.7 29.8H343.8V40.1H333.7ZM333.7 39.8H343.8V50.0H333.7ZM382.8 49.7H442.5V60.0H382.8ZM117.8 69.6H127.9V79.8H117.8ZM157.0 79.5H167.1V89.8H157.0ZM186.5 99.4H196.6V109.7H186.5ZM363.1 99.4H442.5V109.7H363.1ZM353.3 109.4H363.4V119.6H353.3ZM392.6 109.4H442.5V119.6H392.6ZM323.9 119.3H353.6V129.6H323.9ZM382.8 119.3H392.9V129.6H382.8ZM304.2 129.2H314.4V139.5H304.2ZM402.4 139.2H442.5V149.4H402.4Z"/>
<path fill="rgb(159,159,159)" d="M108.0 -30.0H118.1V10.2H108.0ZM372.9 -30.0H383.1V10.2H372.9ZM157.0 19.9H167.1V30.1H157.0ZM333.7 19.9H343.8V30.1H333.7ZM157.0 29.8H177.0V40.1H157.0ZM108.0 49.7H118.1V60.0H108.0ZM333.7 49.7H343.8V60.0H333.7ZM166.8 59.7H177.0V69.9H166.8ZM343.5 59.7H353.6V69.9H343.5ZM372.9 59.7H383.1V69.9H372.9ZM176.7 69.6H186.8V79.8H176.7ZM353.3 69.6H373.2V79.8H353.3ZM353.3 99.4H363.4V109.7H353.3ZM225.7 109.4H235.8V119.6H225.7ZM343.5 109.4H353.6V119.6H343.5ZM314.1 119.3H324.2V129.6H314.1ZM392.6 119.3H402.7V129.6H392.6ZM392.6 129.2H402.7V139.5H392.6Z"/>
<path fill="rgb(163,163,163)" d="M363.1 9.9H373.2V20.2H363.1ZM166.8 19.9H177.0V30.1H166.8ZM176.7 29.8H186.8V40.1H176.7ZM323.9 29.8H334.0V40.1H323.9ZM108.0 39.8H118.1V50.0H108.0ZM166.8 39.8H177.0V50.0H166.8ZM323.9 39.8H334.0V50.0H323.9ZM166.8 49.7H177.0V60.0H166.8ZM323.9 49.7H334.0V60.0H323.9ZM176.7 59.7H186.8V69.9H176.7ZM333.7 59.7H343.8V69.9H333.7ZM382.8 59.7H442.5V69.9H382.8ZM157.0 69.6H167.1V79.8H157.0ZM372.9 69.6H383.1V79.8H372.9ZM363.1 79.5H373.2V89.8H363.1ZM147.2 89.5H157.3V99.7H147.2ZM186.5 89.5H196.6V99.7H186.5ZM363.1 89.5H442.5V99.7H363.1ZM196.3 109.4H206.4V119.6H196.3ZM215.9 109.4H226.0V119.6H215.9ZM314.1 109.4H343.8V119.6H314.1ZM255.2 119.3H265.3V129.6H255.2ZM304.2 119.3H314.4V129.6H304.2ZM402.4 119.3H442.5V129.6H402.4ZM402.4 129.2H442.5V139.5H402.4Z"/>
<path fill="rgb(167,167,167)" d="M206.1 -30.0H226.0V10.2H206.1ZM265.0 -30.0H284.9V10.2H265.0ZM147.2 9.9H157.3V20.2H147.2ZM274.8 9.9H284.9V20.2H274.8ZM333.7 9.9H363.4V20.2H333.7ZM147.2 19.9H157.3V30.1H147.2ZM323.9 19.9H334.0V30.1H323.9ZM176.7 39.8H186.8V50.0H176.7ZM176.7 49.7H186.8V60.0H176.7ZM117.8 59.7H127.9V69.9H117.8ZM314.1 59.7H334.0V69.9H314.1ZM343.5 69.6H353.6V79.8H343.5ZM382.8 69.6H442.5V79.8H382.8ZM127.6 79.5H137.7V89.8H127.6ZM353.3 79.5H363.4V89.8H353.3ZM372.9 79.5H442.5V89.8H372.9ZM137.4 89.5H147.5V99.7H137.4ZM353.3 89.5H363.4V99.7H353.3ZM343.5 99.4H353.6V109.7H343.5ZM235.5 109.4H245.7V119.6H235.5ZM304.2 109.4H314.4V119.6H304.2ZM294.4 119.3H304.5V129.6H294.4Z"/>
<path fill="rgb(171,171,171)" d="M147.2 -30.0H157.3V10.2H147.2ZM225.7 -30.0H235.8V10.2H225.7ZM255.2 -30.0H265.3V10.2H255.2ZM284.6 -30.0H294.7V10.2H284.6ZM333.7 -30.0H353.6V10.2H333.7ZM206.1 9.9H226.0V20.2H206.1ZM265.0 9.9H275.1V20.2H265.0ZM284.6 9.9H294.7V20.2H284.6ZM176.7 19.9H186.8V30.1H176.7ZM274.8 19.9H294.7V30.1H274.8ZM186.5 29.8H196.6V40.1H186.5ZM314.1 29.8H324.2V40.1H314.1ZM314.1 39.8H324.2V50.0H314.1ZM314.1 49.7H324.2V60.0H314.1ZM157.0 59.7H167.1V69.9H157.0ZM304.2 59.7H314.4V69.9H304.2ZM304.2 69.6H343.8V79.8H304.2ZM186.5 79.5H196.6V89.8H186.5ZM304.2 99.4H343.8V109.7H304.2ZM245.4 109.4H255.5V119.6H245.4ZM294.4 109.4H304.5V119.6H294.4ZM265.0 119.3H294.7V129.6H265.0Z"/>
<path fill="rgb(175,175,175)" d="M196.3 -30.0H206.4V10.2H196.3ZM363.1 -30.0H373.2V10.2H363.1ZM157.0 9.9H167.1V20.2H157.0ZM196.3 9.9H206.4V20.2H196.3ZM225.7 9.9H235.8V20.2H225.7ZM255.2 9.9H265.3V20.2H255.2ZM323.9 9.9H334.0V20.2H323.9ZM186.5 19.9H196.6V30.1H186.5ZM265.0 19.9H275.1V30.1H265.0ZM314.1 19.9H324.2V30.1H314.1ZM147.2 29.8H157.3V40.1H147.2ZM274.8 29.8H294.7V40.1H274.8ZM157.0 39.8H167.1V50.0H157.0ZM186.5 39.8H196.6V50.0H186.5ZM157.0 49.7H167.1V60.0H157.0ZM186.5 49.7H196.6V60.0H186.5ZM304.2 49.7H314.4V60.0H304.2ZM294.4 59.7H304.5V69.9H294.4ZM127.6 69.6H137.7V79.8H127.6ZM186.5 69.6H196.6V79.8H186.5ZM294.4 69.6H304.5V79.8H294.4ZM343.5 79.5H353.6V89.8H343.5ZM343.5 89.5H353.6V99.7H343.5ZM294.4 99.4H304.5V109.7H294.4ZM206.1 109.4H216.2V119.6H206.1ZM255.2 109.4H265.3V119.6H255.2ZM284.6 109.4H294.7V119.6H284.6Z"/>
<path fill="rgb(179,179,179)" d="M157.0 -30.0H167.1V10.2H157.0ZM235.5 -30.0H255.5V10.2H235.5ZM294.4 -30.0H304.5V10.2H294.4ZM323.9 -30.0H334.0V10.2H323.9ZM353.3 -30.0H363.4V10.2H353.3ZM166.8 9.9H177.0V20.2H166.8ZM235.5 9.9H255.5V20.2H235.5ZM294.4 9.9H304.5V20.2H294.4ZM314.1 9.9H324.2V20.2H314.1ZM196.3 19.9H235.8V30.1H196.3ZM255.2 19.9H265.3V30.1H255.2ZM294.4 19.9H314.4V30.1H294.4ZM265.0 29.8H275.1V40.1H265.0ZM294.4 29.8H314.4V40.1H294.4ZM274.8 39.8H294.7V50.0H274.8ZM304.2 39.8H314.4V50.0H304.2ZM294.4 49.7H304.5V60.0H294.4ZM186.5 59.7H196.6V69.9H186.5ZM284.6 59.7H294.7V69.9H284.6ZM284.6 69.6H294.7V79.8H284.6ZM294.4 79.5H343.8V89.8H294.4ZM294.4 89.5H343.8V99.7H294.4ZM284.6 99.4H294.7V109.7H284.6ZM265.0 109.4H284.9V119.6H265.0Z"/>
<path fill="rgb(183,183,183)" d="M137.4 -30.0H147.5V10.2H137.4ZM304.2 -30.0H324.2V10.2H304.2ZM137.4 9.9H147.5V20.2H137.4ZM304.2 9.9H314.4V20.2H304.2ZM137.4 19.9H147.5V30.1H137.4ZM235.5 19.9H255.5V30.1H235.5ZM196.3 29.8H206.4V40.1H196.3ZM255.2 29.8H265.3V40.1H255.2ZM265.0 39.8H275.1V50.0H265.0ZM294.4 39.8H304.5V50.0H294.4ZM274.8 49.7H294.7V60.0H274.8ZM284.6 79.5H294.7V89.8H284.6ZM284.6 89.5H294.7V99.7H284.6ZM274.8 99.4H284.9V109.7H274.8Z"/>
<path fill="rgb(187,187,187)" d="M166.8 -30.0H177.0V10.2H166.8ZM176.7 9.9H196.6V20.2H176.7ZM206.1 29.8H255.5V40.1H206.1ZM196.3 39.8H206.4V50.0H196.3ZM255.2 39.8H265.3V50.0H255.2ZM265.0 49.7H275.1V60.0H265.0ZM127.6 59.7H137.7V69.9H127.6ZM274.8 59.7H284.9V69.9H274.8ZM274.8 69.6H284.9V79.8H274.8ZM147.2 79.5H157.3V89.8H147.2ZM274.8 79.5H284.9V89.8H274.8ZM274.8 89.5H284.9V99.7H274.8ZM196.3 99.4H206.4V109.7H196.3ZM225.7 99.4H275.1V109.7H225.7Z"/>
<path fill="rgb(191,191,191)" d="M186.5 -30.0H196.6V10.2H186.5ZM137.4 29.8H147.5V40.1H137.4ZM147.2 39.8H157.3V50.0H147.2ZM245.4 39.8H255.5V50.0H245.4ZM117.8 49.7H127.9V60.0H117.8ZM255.2 49.7H265.3V60.0H255.2ZM265.0 59.7H275.1V69.9H265.0ZM137.4 79.5H147.5V89.8H137.4ZM265.0 89.5H275.1V99.7H265.0ZM215.9 99.4H226.0V109.7H215.9Z"/>
<path fill="rgb(195,195,195)" d="M176.7 -30.0H186.8V10.2H176.7ZM206.1 39.8H245.7V50.0H206.1ZM196.3 49.7H206.4V60.0H196.3ZM147.2 69.6H157.3V79.8H147.2ZM265.0 69.6H275.1V79.8H265.0ZM265.0 79.5H275.1V89.8H265.0ZM196.3 89.5H206.4V99.7H196.3ZM225.7 89.5H265.3V99.7H225.7Z"/>
<path fill="rgb(199,199,199)" d="M117.8 39.8H127.9V50.0H117.8ZM245.4 49.7H255.5V60.0H245.4ZM147.2 59.7H157.3V69.9H147.2ZM196.3 59.7H206.4V69.9H196.3ZM255.2 59.7H265.3V69.9H255.2ZM137.4 69.6H147.5V79.8H137.4ZM196.3 79.5H206.4V89.8H196.3ZM255.2 79.5H265.3V89.8H255.2ZM215.9 89.5H226.0V99.7H215.9ZM206.1 99.4H216.2V109.7H206.1Z"/>
<path fill="rgb(203,203,203)" d="M117.8 19.9H127.9V30.1H117.8ZM117.8 29.8H127.9V40.1H117.8ZM147.2 49.7H157.3V60.0H147.2ZM206.1 49.7H245.7V60.0H206.1ZM196.3 69.6H206.4V79.8H196.3ZM255.2 69.6H265.3V79.8H255.2ZM225.7 79.5H255.5V89.8H225.7Z"/>
<path fill="rgb(207,207,207)" d="M117.8 -30.0H127.9V10.2H117.8ZM117.8 9.9H127.9V20.2H117.8ZM137.4 39.8H147.5V50.0H137.4ZM127.6 49.7H137.7V60.0H127.6ZM137.4 59.7H147.5V69.9H137.4ZM245.4 59.7H255.5V69.9H245.4ZM245.4 69.6H255.5V79.8H245.4ZM215.9 79.5H226.0V89.8H215.9ZM206.1 89.5H216.2V99.7H206.1Z"/>
<path fill="rgb(211,211,211)" d="M137.4 49.7H147.5V60.0H137.4ZM206.1 59.7H245.7V69.9H206.1ZM215.9 69.6H245.7V79.8H215.9ZM206.1 79.5H216.2V89.8H206.1Z"/>
<path fill="rgb(215,215,215)" d="M127.6 -30.0H137.7V10.2H127.6ZM127.6 9.9H137.7V20.2H127.6ZM127.6 19.9H137.7V30.1H127.6ZM127.6 29.8H137.7V40.1H127.6ZM127.6 39.8H137.7V50.0H127.6ZM206.1 69.6H216.2V79.8H206.1Z"/>
</g>
<path d="M76.2 0.0 L71.4 60.9 L70.0 92.8 M0.0 54.2 L71.4 60.9 M70.0 92.8 L118.9 96.1 L158.4 97.2 L183.7 97.7 L214.0 97.5 L240.8 97.2 L289.5 96.4 M239.7 0.0 L240.2 33.2 L240.8 97.2 M240.2 33.2 L311.6 30.8 L371.4 27.2 L376.0 29.5 L380.0 32.3 L382.8 33.9 L385.1 33.7 L386.2 31.0 L387.5 30.3 L392.2 30.6 L396.0 29.8 L399.5 28.8 L401.5 29.5 L404.1 31.8 L408.0 32.6 L412.0 33.2 M118.9 96.1 L118.1 122.9 L116.5 160.0 L113.3 223.7 L111.7 258.5 M289.5 96.4 L291.1 128.4 L292.5 175.0 L294.3 224.8 M291.1 128.4 L351.1 125.6 L412.0 121.7 M0.0 216.2 L57.2 220.9 L113.3 223.7 L175.8 226.1 L214.0 226.5 L269.0 226.1 L294.3 224.8 L351.1 222.0 L412.0 218.2 M269.3 226.1 L269.6 241.6 L268.6 241.8 L268.6 258.5 M268.6 241.8 L347.2 239.1 L348.8 258.5" fill="none" stroke="#000" stroke-width="1.35" stroke-linejoin="round"/>
<path d="M-0.4 16.7 C2.1 18.2 9.5 23.0 14.4 25.6 C19.3 28.2 23.5 30.5 29.2 32.2 C34.9 33.9 42.7 35.0 48.4 35.9 C54.1 36.8 59.0 36.2 63.2 37.4 C67.4 38.6 70.9 41.1 73.6 43.3 C76.3 45.5 77.5 48.2 79.5 50.7 C81.5 53.2 82.9 56.1 85.4 58.1 C87.9 60.1 90.8 61.6 94.3 62.6 C97.8 63.6 103.0 62.8 106.2 64.0 C109.4 65.2 111.1 67.3 113.6 70.0 C116.1 72.7 118.5 76.8 121.0 80.3 C123.5 83.8 125.6 88.5 128.3 90.7 C131.0 92.9 134.0 93.8 137.2 93.6 C140.4 93.3 144.4 90.2 147.6 89.2 C150.8 88.2 153.6 87.2 156.5 87.7 C159.4 88.2 162.4 89.7 165.3 92.2 C168.2 94.7 171.5 99.0 174.2 102.5 C176.9 106.0 178.9 109.7 181.6 112.9 C184.3 116.1 187.8 118.9 190.5 121.8 C193.2 124.7 196.7 126.9 197.9 130.3 C199.1 133.7 197.4 138.2 197.9 142.2 C198.4 146.2 199.6 150.4 200.9 154.1 C202.2 157.8 202.8 160.9 205.6 164.4 C208.3 167.9 213.7 171.1 217.4 174.8 C221.1 178.5 224.6 182.7 227.8 186.6 C231.0 190.5 233.2 194.8 236.7 198.5 C240.1 202.2 244.3 206.1 248.5 208.8 C252.7 211.5 257.4 213.4 261.8 214.8 C266.2 216.2 271.5 216.0 275.2 217.0 C278.9 218.0 281.5 218.6 284.0 220.7 C286.5 222.8 288.0 226.4 290.0 229.6 C292.0 232.8 293.4 236.9 295.9 239.9 C298.4 242.9 301.6 245.8 304.8 247.3 C308.0 248.8 311.7 249.1 315.1 248.8 C318.6 248.6 322.3 246.1 325.5 245.8 C328.7 245.6 331.7 246.1 334.4 247.3 C337.1 248.5 339.5 251.2 341.7 253.2 C343.9 255.2 346.7 258.1 347.7 259.1 M-0.4 55.2 C1.6 55.9 7.0 58.1 11.4 59.6 C15.8 61.1 20.8 62.8 26.2 64.0 C31.6 65.2 39.5 65.5 44.0 67.0 C48.5 68.5 49.9 70.7 52.9 72.9 C55.9 75.1 58.8 77.8 61.8 80.3 C64.8 82.8 67.9 85.0 70.6 87.7 C73.3 90.4 76.4 93.4 78.0 96.6 C79.6 99.8 79.3 104.9 80.3 107.0 C81.3 109.1 82.2 109.7 84.0 109.2 C85.8 108.7 88.9 105.2 91.4 104.0 C93.9 102.8 96.3 101.5 98.8 101.8 C101.3 102.0 103.2 103.4 106.2 105.5 C109.2 107.6 113.0 111.7 116.5 114.4 C120.0 117.1 123.0 119.6 126.9 121.8 C130.8 124.0 136.8 126.3 140.2 127.7 C143.6 129.1 144.4 129.5 147.6 130.3 C150.8 131.1 155.9 131.2 159.4 132.6 C162.9 134.0 165.7 135.9 168.3 138.5 C170.9 141.1 173.7 144.6 175.0 148.2 C176.3 151.8 176.8 154.8 176.4 160.0 C176.0 165.2 173.8 173.5 172.7 179.2 C171.6 184.9 170.3 189.1 169.8 194.0 C169.3 198.9 169.4 204.1 169.8 208.8 C170.2 213.5 170.8 218.7 172.0 222.2 C173.2 225.7 174.8 227.1 177.2 229.6 C179.5 232.1 183.1 234.5 186.1 237.0 C189.1 239.5 192.4 241.7 194.9 244.4 C197.4 247.1 199.4 250.5 200.9 253.2 C202.4 255.8 203.3 259.1 203.8 260.3 M-0.4 107.0 C1.6 108.2 7.5 111.9 11.4 114.4 C15.3 116.9 19.6 119.3 23.3 121.8 C27.0 124.3 30.7 126.5 33.6 129.2 C36.6 131.9 38.3 134.9 41.0 137.8 C43.7 140.7 47.4 143.7 49.9 146.7 C52.4 149.7 53.6 153.1 55.8 155.6 C58.0 158.1 61.0 158.8 63.2 161.5 C65.4 164.2 67.7 167.9 69.2 171.8 C70.7 175.8 71.4 181.2 72.1 185.2 C72.8 189.1 72.4 192.6 73.6 195.5 C74.8 198.4 77.3 200.7 79.5 202.9 C81.7 205.1 84.7 206.1 86.9 208.8 C89.1 211.5 91.1 215.5 92.8 219.2 C94.5 222.9 95.1 227.3 97.3 231.0 C99.5 234.7 103.2 238.2 106.2 241.4 C109.2 244.6 112.0 247.4 115.0 250.3 C118.0 253.2 122.4 257.6 123.9 259.1 M66.9 0.4 C68.5 1.9 73.0 6.3 76.6 9.3 C80.2 12.3 84.0 15.7 88.4 18.2 C92.8 20.7 99.2 22.1 103.2 24.1 C107.2 26.1 109.4 27.1 112.1 30.0 C114.8 33.0 117.3 37.6 119.5 41.8 C121.7 46.0 123.4 51.2 125.4 55.2 C127.4 59.2 128.8 62.8 131.3 65.5 C133.8 68.2 137.0 71.4 140.2 71.4 C143.4 71.4 147.1 66.7 150.5 65.5 C153.9 64.3 157.2 63.8 160.9 64.0 C164.6 64.2 169.2 65.5 172.7 67.0 C176.1 68.5 179.1 70.2 181.6 72.9 C184.1 75.6 186.2 79.9 187.5 83.3 C188.8 86.7 188.2 90.0 189.2 93.3 C190.2 96.5 191.6 99.6 193.5 102.8 C195.4 106.0 198.4 109.6 200.4 112.3 C202.4 115.0 204.0 117.8 205.6 119.2 C207.2 120.6 207.6 120.9 209.9 120.9 C212.2 120.9 216.2 119.5 219.4 119.2 C222.6 118.9 225.3 118.6 228.9 119.2 C232.5 119.8 236.7 121.3 240.9 122.6 C245.1 123.9 249.9 125.5 253.9 127.0 C257.9 128.4 261.5 129.9 265.1 131.3 C268.7 132.7 271.5 134.0 275.4 135.6 C279.3 137.2 283.4 138.7 288.5 140.8 C293.6 142.9 301.0 146.0 306.2 148.2 C311.4 150.4 317.4 153.1 319.6 154.1 M364.0 188.1 C365.5 189.1 369.6 191.8 372.8 194.0 C376.0 196.2 379.0 199.9 383.2 201.4 C387.4 202.9 393.2 202.9 398.0 202.9 C402.8 202.9 409.6 201.7 411.9 201.4 M109.1 0.4 C110.3 2.4 114.0 8.0 116.5 12.2 C119.0 16.4 121.4 21.7 123.9 25.6 C126.4 29.6 129.1 33.4 131.3 35.9 C133.5 38.4 135.2 40.4 137.2 40.4 C139.2 40.4 141.1 37.9 143.1 35.9 C145.1 33.9 146.9 29.9 149.1 28.5 C151.3 27.1 153.8 27.1 156.5 27.8 C159.2 28.6 161.9 30.4 165.3 33.0 C168.8 35.6 173.0 40.1 177.2 43.3 C181.4 46.5 185.8 49.0 190.5 52.2 C195.2 55.4 202.3 58.6 205.6 62.6 C208.8 66.5 208.5 72.2 210.0 75.9 C211.5 79.6 212.8 82.6 214.5 84.8 C216.2 87.0 218.7 88.5 220.4 89.2 C222.1 89.9 224.1 89.2 224.8 89.2 M278.1 104.0 C280.8 105.0 289.2 107.7 294.4 109.9 C299.6 112.1 304.3 115.1 309.2 117.3 C314.1 119.5 319.1 121.5 324.0 123.2 C328.9 124.9 333.9 126.5 338.8 127.7 C343.7 128.9 348.7 128.9 353.6 130.3 C358.5 131.7 364.0 133.8 368.4 136.3 C372.8 138.8 376.2 142.5 380.2 145.2 C384.1 147.9 388.2 150.4 392.1 152.6 C396.1 154.8 400.6 157.0 403.9 158.5 C407.1 160.0 410.3 161.0 411.6 161.5 M169.8 0.4 C172.3 1.6 179.9 5.1 184.6 7.8 C189.3 10.5 194.4 14.2 197.9 16.7 C201.4 19.2 202.3 20.4 205.6 22.6 C208.8 24.8 213.4 27.3 217.4 30.0 C221.4 32.7 225.6 35.7 229.3 38.9 C233.0 42.1 236.7 45.8 239.6 49.2 C242.5 52.7 244.5 56.9 247.0 59.6 C249.5 62.3 250.9 63.8 254.4 65.5 C257.9 67.2 263.1 68.5 267.8 70.0 C272.5 71.5 277.7 72.4 282.6 74.4 C287.5 76.4 292.5 79.6 297.4 81.8 C302.3 84.0 307.3 86.0 312.2 87.7 C317.1 89.4 322.1 90.7 327.0 92.2 C331.9 93.7 336.8 95.1 341.7 96.6 C346.6 98.1 351.6 99.5 356.5 101.0 C361.4 102.5 366.4 103.5 371.3 105.5 C376.2 107.5 381.7 110.7 386.1 112.9 C390.6 115.1 393.8 116.3 398.0 118.8 C402.2 121.3 409.3 126.2 411.6 127.7 M210.0 0.4 C211.7 1.9 216.9 6.6 220.4 9.3 C223.9 12.0 227.1 14.5 230.8 16.7 C234.5 18.9 238.2 21.1 242.6 22.6 C247.0 24.1 253.0 24.4 257.4 25.6 C261.8 26.8 265.5 28.0 269.2 30.0 C272.9 32.0 275.9 35.2 279.6 37.4 C283.3 39.6 287.0 41.6 291.4 43.3 C295.8 45.0 303.7 47.0 306.2 47.8 M358.0 72.9 C360.2 73.9 366.6 76.8 371.3 78.8 C376.0 80.8 381.2 83.3 386.1 84.8 C391.0 86.3 396.6 86.7 400.9 87.7 C405.1 88.7 409.8 90.2 411.6 90.7 M255.9 0.4 C257.9 1.6 263.4 5.3 267.8 7.8 C272.2 10.3 277.7 12.7 282.6 15.2 C287.5 17.7 292.5 20.4 297.4 22.6 C302.3 24.8 307.0 26.5 312.2 28.5 C317.4 30.5 323.2 32.7 328.4 34.4 C333.6 36.1 338.0 37.2 343.2 38.9 C348.4 40.6 354.6 42.8 359.5 44.8 C364.4 46.8 368.9 48.7 372.8 50.7 C376.8 52.7 381.5 55.6 383.2 56.6 M307.7 0.4 C309.9 1.6 316.3 5.6 321.0 7.8 C325.7 10.0 330.9 11.7 335.8 13.7 C340.7 15.7 345.7 18.1 350.6 19.6 C355.5 21.1 360.5 21.4 365.4 22.6 C370.3 23.8 375.3 25.8 380.2 27.0 C385.1 28.2 389.8 29.1 395.0 30.0 C400.2 30.9 408.8 31.8 411.6 32.2" fill="none" stroke="#000" stroke-width="2.5" stroke-linecap="round" stroke-linejoin="round"/>
<path d="M13.3 13.0 L-4.2 6.8 M40.1 11.4 L22.8 4.8 M22.8 4.8 L23.3 -2.9 M25.0 5.6 L25.4 -2.1 M27.1 6.5 L27.6 -1.3 M29.3 7.3 L29.8 -0.5 M31.4 8.1 L31.7 4.2 M66.9 9.8 L50.0 2.3 M50.0 2.3 L50.9 -5.4 M52.1 3.2 L53.0 -4.5 M54.2 4.2 L55.1 -3.5 M56.3 5.1 L57.2 -2.6 M93.7 8.2 L77.8 -1.2 M77.8 -1.2 L79.6 -8.8 M79.8 -0.1 L81.5 -7.6 M81.7 1.1 L83.5 -6.4 M83.7 2.3 L85.5 -5.3 M85.7 3.5 L86.6 -0.3 M120.5 6.6 L105.7 -4.5 M111.2 -0.3 L113.8 -7.7 M113.1 1.0 L114.4 -2.6 M147.3 5.0 L131.2 -4.3 M137.3 -0.8 L138.9 -8.4 M174.1 3.4 L158.3 -6.4 M164.2 -2.7 L166.2 -10.2 M166.2 -1.5 L167.2 -5.2 M200.9 1.8 L186.1 -9.4 M191.6 -5.2 L194.3 -12.5 M227.7 0.2 L211.9 -9.5 M217.8 -5.9 L219.7 -13.4 M254.5 -1.5 L238.5 -10.8 M244.5 -7.3 L246.3 -14.9 M14.8 38.4 L-2.9 33.1 M-2.9 33.1 L-3.0 25.3 M-0.7 33.7 L-0.8 26.0 M1.5 34.4 L1.5 26.6 M3.7 35.1 L3.7 27.3 M5.9 35.7 L5.9 31.9 M41.6 36.8 L24.0 31.2 M24.0 31.2 L24.0 23.5 M26.2 31.9 L26.2 24.2 M28.4 32.6 L28.4 24.9 M30.6 33.3 L30.6 25.6 M32.8 34.0 L32.8 30.1 M68.4 35.2 L51.2 28.4 M51.2 28.4 L51.7 20.7 M53.3 29.3 L53.9 21.5 M55.5 30.1 L56.0 22.4 M57.6 31.0 L58.2 23.2 M59.8 31.8 L60.1 28.0 M95.2 33.6 L79.2 24.3 M79.2 24.3 L80.9 16.7 M81.2 25.5 L82.9 17.9 M83.2 26.6 L84.9 19.1 M85.2 27.8 L86.9 20.2 M87.2 29.0 L88.1 25.2 M122.0 32.0 L106.9 21.4 M112.5 25.3 L114.9 18.0 M114.4 26.7 L115.6 23.0 M148.8 30.4 L131.9 22.9 M138.2 25.7 L138.7 21.8 M175.6 28.8 L160.0 18.9 M165.8 22.6 L166.8 18.8 M202.4 27.2 L187.7 15.9 M193.2 20.1 L195.9 12.9 M229.2 25.6 L213.5 15.8 M219.4 19.4 L221.4 11.9 M256.0 23.9 L239.9 14.8 M245.9 18.2 L247.6 10.7 M282.8 22.3 L266.8 13.0 M272.8 16.5 L274.5 9.0 M309.6 20.7 L293.6 11.5 M299.6 14.9 L301.3 7.4 M336.4 19.1 L320.4 9.8 M326.4 13.3 L327.3 9.5 M363.2 17.5 L347.2 8.2 M353.2 11.7 L354.1 7.9 M390.0 15.9 L374.0 6.5 M416.8 14.3 L400.1 6.3 M400.1 6.3 L401.3 -1.4 M402.2 7.3 L403.4 -0.4 M404.3 8.3 L405.4 0.6 M406.4 9.3 L407.5 1.6 M408.5 10.3 L409.0 6.4 M16.3 63.8 L-1.5 58.9 M-1.5 58.9 L-1.8 51.2 M0.7 59.5 L0.4 51.8 M2.9 60.1 L2.7 52.4 M5.2 60.8 L5.0 56.9 M43.1 62.2 L25.9 55.5 M25.9 55.5 L26.4 47.8 M28.0 56.4 L28.5 48.6 M30.2 57.2 L30.7 49.5 M32.3 58.0 L32.9 50.3 M69.9 60.6 L53.1 52.9 M53.1 52.9 L54.0 45.2 M55.2 53.9 L56.1 46.2 M57.3 54.9 L58.3 47.2 M59.4 55.8 L60.4 48.1 M96.7 59.0 L80.3 50.4 M123.5 57.4 L107.9 47.5 M113.8 51.2 L115.8 43.7 M115.7 52.4 L116.7 48.7 M150.3 55.8 L133.4 48.2 M139.8 51.1 L140.7 43.4 M141.9 52.0 L142.8 44.3 M177.1 54.2 L161.7 43.9 M167.5 47.8 L168.6 44.0 M203.9 52.6 L190.0 40.4 M195.2 45.0 L198.3 37.9 M197.0 46.5 L198.5 42.9 M230.7 51.0 L215.7 40.1 M221.4 44.2 L223.8 36.8 M223.2 45.5 L225.7 38.2 M257.5 49.3 L241.9 39.4 M247.8 43.2 L249.8 35.7 M249.7 44.4 L250.7 40.6 M284.3 47.7 L268.2 38.7 M274.3 42.1 L275.9 34.5 M311.1 46.1 L295.0 37.1 M301.0 40.5 L302.6 32.9 M337.9 44.5 L321.9 35.3 M327.9 38.7 L328.8 34.9 M364.7 42.9 L349.0 33.2 M391.5 41.3 L375.8 31.5 M418.3 39.7 L401.7 31.5 M401.7 31.5 L402.9 23.9 M403.8 32.6 L405.0 24.9 M405.9 33.6 L407.1 25.9 M407.9 34.6 L409.1 26.9 M410.0 35.6 L410.6 31.8 M17.8 89.2 L0.7 82.4 M0.7 82.4 L1.2 74.7 M2.8 83.2 L3.4 75.5 M5.0 84.1 L5.5 76.4 M44.6 87.6 L28.2 79.1 M28.2 79.1 L29.6 71.4 M30.3 80.1 L31.7 72.5 M32.3 81.2 L33.7 73.6 M71.4 86.0 L55.0 77.5 M55.0 77.5 L56.4 69.9 M57.1 78.6 L58.4 70.9 M59.1 79.6 L60.5 72.0 M61.2 80.7 L61.8 76.9 M98.2 84.4 L81.6 76.2 M81.6 76.2 L82.8 68.6 M83.7 77.3 L84.9 69.6 M85.8 78.3 L87.0 70.6 M87.9 79.3 L89.1 71.6 M89.9 80.3 L90.5 76.5 M125.0 82.8 L108.7 74.1 M114.8 77.4 L115.6 73.5 M151.8 81.2 L134.9 73.7 M141.3 76.5 L142.1 68.8 M143.4 77.4 L143.8 73.6 M178.6 79.6 L164.3 67.9 M169.7 72.3 L171.1 68.7 M205.4 78.0 L192.8 64.5 M197.5 69.5 L201.3 62.8 M199.1 71.2 L202.9 64.5 M232.2 76.4 L217.2 65.6 M222.8 69.6 L225.3 62.3 M224.7 71.0 L227.2 63.6 M259.0 74.7 L243.1 65.4 M249.1 68.9 L250.8 61.4 M251.1 70.1 L252.8 62.5 M285.8 73.1 L269.6 64.4 M275.7 67.7 L277.1 60.0 M312.6 71.5 L296.5 62.6 M302.5 65.9 L304.1 58.3 M339.4 69.9 L323.5 60.5 M329.5 64.0 L331.3 56.5 M366.2 68.3 L350.7 58.3 M356.5 62.0 L357.6 58.3 M393.0 66.7 L377.8 56.3 M383.5 60.2 L384.6 56.5 M419.8 65.1 L403.7 56.1 M409.7 59.5 L410.5 55.7 M19.4 114.6 L3.6 105.0 M3.6 105.0 L5.5 97.4 M5.6 106.2 L7.5 98.7 M7.5 107.4 L8.5 103.6 M46.2 113.0 L31.6 101.6 M31.6 101.6 L34.4 94.3 M33.5 103.0 L36.2 95.7 M35.3 104.4 L36.7 100.8 M73.0 111.4 L56.5 103.0 M56.5 103.0 L57.8 95.4 M58.5 104.1 L59.8 96.4 M60.6 105.1 L61.9 97.5 M99.8 109.8 L82.4 103.5 M82.4 103.5 L82.7 95.8 M84.5 104.3 L84.9 96.5 M86.7 105.1 L86.9 101.2 M126.6 108.2 L110.0 100.0 M110.0 100.0 L111.1 92.4 M112.0 101.1 L113.2 93.4 M114.1 102.1 L115.3 94.4 M116.2 103.1 L117.4 95.4 M153.4 106.6 L137.3 97.4 M137.3 97.4 L139.0 89.8 M139.3 98.6 L141.0 91.0 M141.3 99.7 L143.0 92.1 M143.3 100.8 L145.0 93.3 M180.2 105.0 L166.8 92.2 M166.8 92.2 L170.3 85.2 M168.5 93.8 L171.9 86.8 M170.2 95.4 L173.6 88.4 M171.8 97.0 L175.3 90.0 M173.5 98.6 L175.2 95.1 M207.0 103.4 L193.7 90.5 M198.7 95.3 L202.2 88.4 M200.3 96.9 L203.8 90.0 M233.8 101.8 L217.7 92.5 M223.8 96.0 L225.4 88.4 M225.8 97.1 L226.6 93.4 M260.6 100.1 L244.2 91.5 M250.3 94.8 L251.7 87.1 M252.4 95.8 L253.1 92.0 M287.4 98.5 L271.0 89.9 M277.1 93.1 L278.6 85.5 M314.2 96.9 L297.9 88.1 M304.0 91.4 L305.5 83.8 M341.0 95.3 L324.8 86.3 M330.9 89.7 L332.4 82.1 M367.8 93.7 L352.2 83.7 M358.0 87.5 L359.0 83.7 M394.6 92.1 L379.4 81.6 M385.1 85.5 L386.2 81.8 M421.4 90.5 L405.4 81.1 M411.4 84.6 L412.3 80.8 M20.9 140.0 L6.9 127.9 M6.9 127.9 L10.0 120.8 M47.7 138.4 L35.3 124.7 M35.3 124.7 L39.3 118.0 M36.9 126.4 L40.8 119.7 M74.5 136.8 L58.3 127.8 M58.3 127.8 L59.9 120.2 M60.4 128.9 L62.0 121.3 M62.4 130.0 L63.2 126.2 M101.3 135.2 L84.7 127.0 M84.7 127.0 L85.9 119.3 M86.8 128.0 L88.0 120.3 M88.9 129.0 L89.5 125.2 M128.1 133.6 L111.6 125.2 M111.6 125.2 L112.9 117.6 M113.7 126.3 L115.0 118.6 M115.7 127.3 L116.4 123.5 M154.9 132.0 L139.1 122.3 M139.1 122.3 L141.0 114.8 M141.1 123.5 L143.0 116.0 M143.1 124.7 L144.0 121.0 M181.7 130.4 L169.0 116.9 M169.0 116.9 L172.8 110.2 M170.6 118.6 L174.4 111.8 M172.2 120.3 L174.1 116.9 M208.5 128.8 L194.9 116.2 M194.9 116.2 L198.2 109.2 M196.6 117.8 L199.9 110.8 M198.3 119.4 L201.6 112.4 M200.0 120.9 L203.3 113.9 M235.3 127.2 L218.6 119.3 M218.6 119.3 L219.6 111.6 M220.7 120.3 L221.7 112.6 M222.7 121.2 L223.8 113.6 M224.8 122.2 L225.9 114.5 M262.1 125.5 L245.2 117.9 M251.6 120.8 L252.0 116.9 M288.9 123.9 L272.2 116.0 M278.5 119.0 L279.6 111.3 M315.7 122.3 L299.1 114.1 M305.3 117.2 L306.0 113.4 M342.5 120.7 L325.9 112.5 M332.2 115.6 L332.8 111.7 M369.3 119.1 L353.6 109.3 M396.1 117.5 L381.3 106.4 M386.9 110.6 L388.2 106.9 M422.9 115.9 L407.2 106.1 M413.1 109.8 L414.0 106.0 M22.4 165.4 L10.5 151.2 M10.5 151.2 L14.7 144.7 M49.2 163.8 L39.3 148.2 M39.3 148.2 L44.3 142.3 M40.5 150.2 L45.5 144.2 M76.0 162.2 L62.4 149.6 M62.4 149.6 L65.8 142.6 M64.1 151.2 L67.4 144.2 M102.8 160.6 L87.9 149.6 M87.9 149.6 L90.5 142.3 M89.8 151.0 L92.3 143.6 M129.6 159.0 L113.9 149.3 M113.9 149.3 L115.8 141.8 M115.8 150.5 L116.8 146.7 M156.4 157.4 L140.7 147.7 M140.7 147.7 L142.6 140.2 M183.2 155.8 L170.0 142.8 M170.0 142.8 L173.6 135.9 M210.0 154.2 L198.2 139.9 M198.2 139.9 L202.5 133.4 M199.7 141.7 L203.9 135.2 M236.8 152.6 L222.8 140.5 M222.8 140.5 L225.9 133.4 M263.6 150.9 L246.1 144.9 M246.1 144.9 L246.4 137.1 M290.4 149.3 L273.0 143.1 M273.0 143.1 L273.3 135.3 M275.2 143.9 L275.5 136.1 M317.2 147.7 L300.1 140.8 M344.0 146.1 L326.9 139.1 M326.9 139.1 L327.6 131.4 M329.0 140.0 L329.7 132.3 M331.2 140.9 L331.9 133.1 M333.3 141.7 L334.0 134.0 M370.8 144.5 L354.5 135.9 M354.5 135.9 L355.9 128.2 M356.5 136.9 L357.9 129.3 M358.6 138.0 L360.0 130.4 M360.6 139.1 L362.0 131.5 M397.6 142.9 L381.7 133.5 M424.4 141.3 L407.5 133.8 M413.8 136.6 L414.3 132.8 M-2.9 192.4 L-15.5 178.9 M-15.5 178.9 L-11.7 172.2 M23.9 190.8 L13.2 175.8 M13.2 175.8 L17.8 169.6 M50.7 189.2 L42.2 172.8 M42.2 172.8 L47.7 167.3 M43.3 174.9 L46.0 172.1 M77.5 187.6 L65.7 173.4 M65.7 173.4 L69.9 166.9 M104.3 186.0 L91.1 173.1 M91.1 173.1 L94.6 166.2 M92.8 174.7 L96.3 167.8 M131.1 184.4 L116.2 173.4 M116.2 173.4 L118.8 166.1 M118.1 174.8 L119.4 171.1 M157.9 182.8 L141.0 175.3 M141.0 175.3 L141.9 167.6 M184.7 181.2 L168.6 172.1 M168.6 172.1 L170.2 164.5 M170.6 173.2 L171.4 169.5 M211.5 179.6 L198.7 166.2 M198.7 166.2 L202.5 159.4 M200.3 167.9 L202.2 164.5 M238.3 178.0 L225.1 165.1 M225.1 165.1 L228.6 158.2 M226.7 166.7 L228.5 163.2 M265.1 176.3 L247.8 169.8 M247.8 169.8 L248.3 162.1 M250.0 170.6 L250.5 162.9 M291.9 174.7 L274.4 168.8 M274.4 168.8 L274.6 161.0 M276.6 169.5 L276.8 161.8 M318.7 173.1 L301.1 167.5 M301.1 167.5 L301.2 159.7 M303.3 168.2 L303.4 160.4 M305.5 168.9 L305.6 165.0 M345.5 171.5 L328.1 165.5 M328.1 165.5 L328.3 157.7 M330.3 166.2 L330.5 158.5 M332.4 167.0 L332.7 159.2 M372.3 169.9 L355.0 163.4 M355.0 163.4 L355.4 155.7 M357.2 164.3 L357.6 156.5 M359.3 165.1 L359.8 157.3 M361.5 165.9 L361.7 162.0 M399.1 168.3 L381.7 162.2 M381.7 162.2 L381.9 154.5 M383.9 163.0 L384.1 155.2 M386.0 163.7 L386.3 156.0 M388.2 164.5 L388.5 156.8 M425.9 166.7 L407.9 162.6 M407.9 162.6 L407.3 154.9 M410.2 163.1 L409.5 155.4 M412.4 163.6 L411.8 155.9 M414.7 164.2 L414.0 156.4 M416.9 164.7 L416.6 160.8 M-1.3 217.8 L-13.7 204.0 M-13.7 204.0 L-9.7 197.4 M25.5 216.2 L14.9 201.1 M14.9 201.1 L19.6 194.9 M52.3 214.6 L43.2 198.5 M43.2 198.5 L48.5 192.8 M79.1 213.0 L66.3 199.6 M66.3 199.6 L70.1 192.8 M67.9 201.3 L69.8 197.9 M105.9 211.4 L93.3 197.8 M93.3 197.8 L97.2 191.1 M94.9 199.5 L96.8 196.1 M132.7 209.8 L119.4 196.9 M119.4 196.9 L122.8 190.0 M121.0 198.5 L124.5 191.6 M159.5 208.2 L148.1 193.6 M148.1 193.6 L152.6 187.2 M186.3 206.6 L174.3 192.5 M174.3 192.5 L178.4 185.9 M213.1 205.0 L199.8 192.0 M199.8 192.0 L203.4 185.1 M201.5 193.6 L205.0 186.7 M239.9 203.4 L226.2 190.9 M226.2 190.9 L229.5 183.8 M227.9 192.4 L231.2 185.4 M266.7 201.7 L249.7 194.4 M249.7 194.4 L250.5 186.7 M251.8 195.3 L252.7 187.6 M253.9 196.2 L254.8 188.5 M293.5 200.1 L276.6 192.6 M276.6 192.6 L277.4 184.9 M278.7 193.6 L279.6 185.9 M280.8 194.5 L281.7 186.8 M320.3 198.5 L303.0 191.9 M303.0 191.9 L303.5 184.1 M305.2 192.7 L305.7 185.0 M307.3 193.5 L307.8 185.8 M347.1 196.9 L329.7 190.5 M329.7 190.5 L330.1 182.8 M331.9 191.3 L332.3 183.6 M334.1 192.1 L334.5 184.4 M373.9 195.3 L356.4 189.3 M356.4 189.3 L356.6 181.5 M358.6 190.0 L358.8 182.3 M360.8 190.8 L361.0 183.0 M400.7 193.7 L382.4 190.6 M382.4 190.6 L381.4 182.9 M384.7 191.0 L383.7 183.3 M387.0 191.4 L386.0 183.7 M389.3 191.7 L388.8 187.9 M427.5 192.1 L409.0 190.4 M409.0 190.4 L407.4 182.8 M411.3 190.6 L409.7 183.0 M413.7 190.8 L412.0 183.3 M416.0 191.0 L415.1 187.3 M0.2 243.2 L-12.1 229.4 M-12.1 229.4 L-8.1 222.8 M27.0 241.6 L15.7 227.0 M15.7 227.0 L20.2 220.6 M53.8 240.0 L44.0 224.3 M44.0 224.3 L49.1 218.4 M80.6 238.4 L67.5 225.3 M67.5 225.3 L71.1 218.5 M107.4 236.8 L94.4 223.6 M94.4 223.6 L98.0 216.8 M134.2 235.2 L121.0 222.2 M121.0 222.2 L124.5 215.3 M122.6 223.8 L126.2 216.9 M124.3 225.5 L126.1 222.0 M161.0 233.6 L149.1 219.4 M149.1 219.4 L153.3 212.9 M150.6 221.2 L154.8 214.7 M152.1 223.0 L154.2 219.7 M187.8 232.0 L175.7 218.0 M175.7 218.0 L179.8 211.4 M177.2 219.7 L181.3 213.1 M214.6 230.4 L201.6 217.1 M201.6 217.1 L205.3 210.3 M241.4 228.8 L227.1 217.0 M227.1 217.0 L230.1 209.8 M228.9 218.4 L231.9 211.3 M268.2 227.1 L251.3 219.6 M251.3 219.6 L252.2 211.9 M253.4 220.5 L254.3 212.8 M255.5 221.5 L256.4 213.8 M295.0 225.5 L278.7 216.9 M278.7 216.9 L280.1 209.2 M280.7 217.9 L282.1 210.3 M282.7 219.0 L284.2 211.4 M321.8 223.9 L304.3 217.8 M304.3 217.8 L304.6 210.1 M306.5 218.6 L306.8 210.9 M308.7 219.4 L308.9 211.6 M348.6 222.3 L331.1 216.2 M331.1 216.2 L331.4 208.5 M333.3 217.0 L333.5 209.3 M335.5 217.8 L335.7 210.0 M375.4 220.7 L357.9 214.6 M357.9 214.6 L358.2 206.8 M360.1 215.3 L360.4 207.6 M362.3 216.1 L362.4 212.2 M402.2 219.1 L384.1 215.1 M384.1 215.1 L383.4 207.4 M386.4 215.6 L385.7 207.9 M388.6 216.1 L388.3 212.3 M1.7 268.6 L-10.8 255.0 M-10.8 255.0 L-6.8 248.3 M28.5 267.0 L16.8 252.7 M16.8 252.7 L21.1 246.2 M55.3 265.4 L44.8 250.2 M44.8 250.2 L49.6 244.1 M82.1 263.8 L68.2 251.6 M68.2 251.6 L71.3 244.5 M108.9 262.2 L94.8 250.2 M94.8 250.2 L97.9 243.0 M135.7 260.6 L122.1 248.1 M122.1 248.1 L125.4 241.1 M123.8 249.6 L127.1 242.6 M125.5 251.2 L127.1 247.7 M162.5 259.0 L149.7 245.7 M149.7 245.7 L153.4 238.9 M151.3 247.3 L155.0 240.5 M152.9 249.0 L156.6 242.2 M189.3 257.4 L177.0 243.6 M177.0 243.6 L181.0 236.9 M178.5 245.3 L182.5 238.6 M180.1 247.0 L182.1 243.7 M216.1 255.8 L204.0 241.8 M204.0 241.8 L208.1 235.2 M205.5 243.5 L209.6 236.9 M242.9 254.2 L229.1 241.8 M229.1 241.8 L232.3 234.8 M230.8 243.4 L234.0 236.3 M269.7 252.5 L252.7 245.3 M252.7 245.3 L253.5 237.6 M254.8 246.2 L255.6 238.5 M256.9 247.1 L257.3 243.3 M296.5 250.9 L279.2 244.5 M279.2 244.5 L279.6 236.8 M281.3 245.3 L281.7 237.6 M283.5 246.1 L283.7 242.3 M323.3 249.3 L305.2 245.4 M305.2 245.4 L304.6 237.6 M307.5 245.9 L306.8 238.1 M350.1 247.7 L333.0 240.7 M333.0 240.7 L333.6 233.0 M335.1 241.6 L335.8 233.9 M337.3 242.5 L337.6 238.6 M376.9 246.1 L359.6 239.7 M359.6 239.7 L360.0 231.9 M361.7 240.5 L362.2 232.7 M403.7 244.5 L386.1 238.7 M386.1 238.7 L386.3 231.0 M388.3 239.4 L388.5 231.7 M405.2 269.9 L388.1 262.9 M388.1 262.9 L388.8 255.2 M390.2 263.8 L390.9 256.1" fill="none" stroke="#000" stroke-width="1.3"/>
<path d="M-4.2 6.8 L0.5 0.6 L0.2 8.4 Z M105.7 -4.5 L112.0 -9.0 L109.4 -1.7 Z M131.2 -4.3 L136.9 -9.5 L135.3 -2.0 Z M158.3 -6.4 L164.2 -11.4 L162.3 -3.9 Z M186.1 -9.4 L192.4 -13.9 L189.8 -6.6 Z M211.9 -9.5 L217.7 -14.6 L215.8 -7.1 Z M238.5 -10.8 L244.3 -16.1 L242.5 -8.5 Z M106.9 21.4 L113.0 16.6 L110.6 24.0 Z M131.9 22.9 L137.0 17.1 L136.1 24.8 Z M160.0 18.9 L165.9 13.9 L163.9 21.4 Z M187.7 15.9 L194.0 11.5 L191.4 18.7 Z M213.5 15.8 L219.4 10.7 L217.4 18.2 Z M239.9 14.8 L245.6 9.5 L243.9 17.1 Z M266.8 13.0 L272.5 7.8 L270.8 15.4 Z M293.6 11.5 L299.3 6.2 L297.6 13.8 Z M320.4 9.8 L326.2 4.6 L324.4 12.1 Z M347.2 8.2 L353.0 2.9 L351.2 10.5 Z M374.0 6.5 L379.8 1.3 L378.0 8.9 Z M80.3 50.4 L85.8 44.9 L84.4 52.5 Z M107.9 47.5 L113.8 42.5 L111.8 49.9 Z M133.4 48.2 L138.6 42.4 L137.7 50.1 Z M161.7 43.9 L167.8 39.0 L165.6 46.5 Z M190.0 40.4 L196.6 36.3 L193.5 43.4 Z M215.7 40.1 L221.9 35.5 L219.5 42.8 Z M241.9 39.4 L247.8 34.4 L245.8 41.9 Z M268.2 38.7 L273.9 33.3 L272.2 40.9 Z M295.0 37.1 L300.6 31.8 L299.0 39.4 Z M321.9 35.3 L327.6 30.0 L325.9 37.6 Z M349.0 33.2 L354.8 28.1 L352.9 35.6 Z M375.8 31.5 L381.7 26.5 L379.7 34.0 Z M108.7 74.1 L114.2 68.6 L112.8 76.3 Z M134.9 73.7 L140.0 67.9 L139.1 75.6 Z M164.3 67.9 L170.8 63.6 L167.9 70.8 Z M192.8 64.5 L199.7 61.1 L195.9 67.9 Z M217.2 65.6 L223.4 60.9 L221.0 68.3 Z M243.1 65.4 L248.8 60.2 L247.1 67.8 Z M269.6 64.4 L275.1 58.9 L273.6 66.6 Z M296.5 62.6 L302.1 57.2 L300.5 64.8 Z M323.5 60.5 L329.3 55.3 L327.5 62.9 Z M350.7 58.3 L356.7 53.3 L354.6 60.8 Z M377.8 56.3 L383.8 51.5 L381.6 58.9 Z M403.7 56.1 L409.3 50.8 L407.7 58.4 Z M193.7 90.5 L200.5 86.8 L197.0 93.7 Z M217.7 92.5 L223.4 87.3 L221.7 94.8 Z M244.2 91.5 L249.7 86.0 L248.3 93.7 Z M271.0 89.9 L276.5 84.4 L275.1 92.1 Z M297.9 88.1 L303.5 82.7 L302.0 90.3 Z M324.8 86.3 L330.4 81.0 L328.8 88.6 Z M352.2 83.7 L358.1 78.8 L356.1 86.2 Z M379.4 81.6 L385.5 76.8 L383.2 84.2 Z M405.4 81.1 L411.2 75.9 L409.4 83.4 Z M245.2 117.9 L250.4 112.1 L249.4 119.8 Z M272.2 116.0 L277.5 110.3 L276.4 118.0 Z M299.1 114.1 L304.5 108.5 L303.3 116.2 Z M325.9 112.5 L331.3 106.9 L330.1 114.5 Z M353.6 109.3 L359.5 104.3 L357.5 111.8 Z M381.3 106.4 L387.6 101.9 L385.0 109.2 Z M407.2 106.1 L413.0 101.1 L411.1 108.6 Z M300.1 140.8 L305.0 134.8 L304.4 142.5 Z M381.7 133.5 L387.4 128.3 L385.7 135.9 Z M407.5 133.8 L412.6 128.0 L411.7 135.7 Z" fill="#000" stroke="#000" stroke-width="1.3" stroke-linejoin="miter"/>
<text x="332.1" y="58.9" transform="rotate(25.0 332.1 58.9)" class="cl" dy="4.9" textLength="34.8" lengthAdjust="spacingAndGlyphs">2970</text>
<text x="255.6" y="92.5" transform="rotate(16.0 255.6 92.5)" class="cl" dy="4.9" textLength="34.8" lengthAdjust="spacingAndGlyphs">3000</text>
<text x="342.5" y="170.4" transform="rotate(30.0 342.5 170.4)" class="cl" dy="4.9" textLength="34.8" lengthAdjust="spacingAndGlyphs">3060</text>
<text x="417.0" y="62.0" transform="rotate(15.0 417.0 62.0)" class="cl" dy="4.9" textLength="34.8" lengthAdjust="spacingAndGlyphs">2940</text>
<path d="M212.5 111.4 h5.4 M215.2 108.7 v5.4" stroke="#2a0a0a" stroke-width="1.7" fill="none"/>
</g>
<rect x="0" y="0" width="412.2" height="258.5" fill="none" stroke="#000" stroke-width="1.07"/>
</g>
</g></svg>
<svg class="pan" style="left:489.1px;top:368.6px" width="414.2" height="260.5" viewBox="0 0 414.2 260.5">
<g transform="translate(1,1)">
<use href="#pc3"/>
</g></svg>
<svg class="pan" style="left:970.0px;top:368.6px" width="414.2" height="260.5" viewBox="0 0 414.2 260.5">
<g transform="translate(1,1)">
<g id="pc5">
<clipPath id="cp5"><rect x="0" y="0" width="412.2" height="258.5"/></clipPath>
<g clip-path="url(#cp5)">
<g filter="url(#fld)">
<path fill="rgb(20,20,20)" d="M245.4 169.0H255.5V179.3H245.4Z"/>
<path fill="rgb(24,24,24)" d="M-30.0 129.2H29.7V139.5H-30.0ZM-30.0 139.2H29.7V149.4H-30.0ZM-30.0 149.1H29.7V159.4H-30.0ZM-30.0 159.1H39.6V169.3H-30.0ZM235.5 159.1H255.5V169.3H235.5ZM-30.0 169.0H49.4V179.3H-30.0ZM235.5 169.0H245.7V179.3H235.5ZM255.2 169.0H265.3V179.3H255.2ZM-30.0 179.0H59.2V189.2H-30.0ZM157.0 179.0H167.1V189.2H157.0ZM-30.0 188.9H88.6V199.1H-30.0ZM127.6 188.9H157.3V199.1H127.6ZM-30.0 198.8H98.4V209.1H-30.0ZM117.8 198.8H147.5V209.1H117.8ZM-30.0 208.8H98.4V219.0H-30.0ZM-30.0 218.7H88.6V229.0H-30.0ZM-30.0 228.7H88.6V238.9H-30.0ZM-30.0 238.6H88.6V248.9H-30.0ZM-30.0 248.6H88.6V288.8H-30.0Z"/>
<path fill="rgb(28,28,28)" d="M-30.0 119.3H19.9V129.6H-30.0ZM29.4 129.2H39.6V139.5H29.4ZM29.4 139.2H39.6V149.4H29.4ZM29.4 149.1H39.6V159.4H29.4ZM88.3 149.1H108.3V159.4H88.3ZM157.0 149.1H167.1V159.4H157.0ZM39.3 159.1H49.4V169.3H39.3ZM157.0 159.1H167.1V169.3H157.0ZM49.1 169.0H59.2V179.3H49.1ZM157.0 169.0H167.1V179.3H157.0ZM58.9 179.0H88.6V189.2H58.9ZM137.4 179.0H157.3V189.2H137.4ZM88.3 188.9H98.4V199.1H88.3ZM117.8 188.9H127.9V199.1H117.8ZM157.0 188.9H167.1V199.1H157.0ZM98.1 198.8H118.1V209.1H98.1ZM147.2 198.8H157.3V209.1H147.2ZM98.1 208.8H118.1V219.0H98.1ZM88.3 218.7H98.4V229.0H88.3ZM88.3 228.7H98.4V238.9H88.3ZM88.3 238.6H98.4V248.9H88.3ZM88.3 248.6H98.4V288.8H88.3Z"/>
<path fill="rgb(32,32,32)" d="M19.6 119.3H29.7V129.6H19.6ZM88.3 139.2H108.3V149.4H88.3ZM39.3 149.1H49.4V159.4H39.3ZM78.5 149.1H88.6V159.4H78.5ZM166.8 149.1H177.0V159.4H166.8ZM49.1 159.1H59.2V169.3H49.1ZM166.8 159.1H177.0V169.3H166.8ZM255.2 159.1H265.3V169.3H255.2ZM58.9 169.0H69.0V179.3H58.9ZM147.2 169.0H157.3V179.3H147.2ZM166.8 169.0H177.0V179.3H166.8ZM265.0 169.0H275.1V179.3H265.0ZM88.3 179.0H98.4V189.2H88.3ZM117.8 179.0H137.7V189.2H117.8ZM166.8 179.0H177.0V189.2H166.8ZM245.4 179.0H255.5V189.2H245.4ZM98.1 188.9H118.1V199.1H98.1ZM157.0 198.8H167.1V209.1H157.0ZM117.8 208.8H137.7V219.0H117.8ZM98.1 218.7H108.3V229.0H98.1Z"/>
<path fill="rgb(36,36,36)" d="M-30.0 109.4H10.1V119.6H-30.0ZM29.4 119.3H39.6V129.6H29.4ZM39.3 129.2H49.4V139.5H39.3ZM39.3 139.2H49.4V149.4H39.3ZM78.5 139.2H88.6V149.4H78.5ZM157.0 139.2H167.1V149.4H157.0ZM49.1 149.1H59.2V159.4H49.1ZM68.7 149.1H78.8V159.4H68.7ZM108.0 149.1H118.1V159.4H108.0ZM147.2 149.1H157.3V159.4H147.2ZM58.9 159.1H69.0V169.3H58.9ZM78.5 159.1H108.3V169.3H78.5ZM147.2 159.1H157.3V169.3H147.2ZM68.7 169.0H98.4V179.3H68.7ZM225.7 169.0H235.8V179.3H225.7ZM274.8 169.0H284.9V179.3H274.8ZM98.1 179.0H108.3V189.2H98.1ZM235.5 179.0H245.7V189.2H235.5ZM255.2 179.0H275.1V189.2H255.2ZM166.8 188.9H177.0V199.1H166.8ZM137.4 208.8H147.5V219.0H137.4ZM98.1 228.7H108.3V238.9H98.1ZM98.1 238.6H108.3V248.9H98.1ZM98.1 248.6H108.3V288.8H98.1Z"/>
<path fill="rgb(40,40,40)" d="M9.8 109.4H19.9V119.6H9.8ZM39.3 119.3H49.4V129.6H39.3ZM49.1 139.2H59.2V149.4H49.1ZM68.7 139.2H78.8V149.4H68.7ZM108.0 139.2H118.1V149.4H108.0ZM166.8 139.2H177.0V149.4H166.8ZM58.9 149.1H69.0V159.4H58.9ZM68.7 159.1H78.8V169.3H68.7ZM108.0 159.1H118.1V169.3H108.0ZM225.7 159.1H235.8V169.3H225.7ZM265.0 159.1H275.1V169.3H265.0ZM98.1 169.0H118.1V179.3H98.1ZM137.4 169.0H147.5V179.3H137.4ZM108.0 179.0H118.1V189.2H108.0ZM274.8 179.0H284.9V189.2H274.8ZM274.8 188.9H284.9V199.1H274.8ZM166.8 198.8H177.0V209.1H166.8ZM147.2 208.8H157.3V219.0H147.2ZM108.0 218.7H118.1V229.0H108.0ZM108.0 238.6H118.1V248.9H108.0ZM108.0 248.6H127.9V288.8H108.0Z"/>
<path fill="rgb(44,44,44)" d="M-30.0 99.4H10.1V109.7H-30.0ZM19.6 109.4H29.7V119.6H19.6ZM49.1 129.2H59.2V139.5H49.1ZM58.9 139.2H69.0V149.4H58.9ZM147.2 139.2H157.3V149.4H147.2ZM137.4 149.1H147.5V159.4H137.4ZM137.4 159.1H147.5V169.3H137.4ZM274.8 159.1H284.9V169.3H274.8ZM127.6 169.0H137.7V179.3H127.6ZM284.6 169.0H294.7V179.3H284.6ZM284.6 179.0H294.7V189.2H284.6ZM245.4 188.9H275.1V199.1H245.4ZM284.6 188.9H294.7V199.1H284.6ZM274.8 198.8H294.7V209.1H274.8ZM157.0 208.8H167.1V219.0H157.0ZM117.8 218.7H127.9V229.0H117.8ZM108.0 228.7H118.1V238.9H108.0ZM117.8 238.6H127.9V248.9H117.8ZM215.9 248.6H235.8V288.8H215.9ZM372.9 248.6H392.9V288.8H372.9Z"/>
<path fill="rgb(48,48,48)" d="M9.8 99.4H19.9V109.7H9.8ZM29.4 109.4H39.6V119.6H29.4ZM49.1 119.3H59.2V129.6H49.1ZM58.9 129.2H69.0V139.5H58.9ZM78.5 129.2H108.3V139.5H78.5ZM166.8 129.2H177.0V139.5H166.8ZM176.7 139.2H186.8V149.4H176.7ZM117.8 149.1H127.9V159.4H117.8ZM176.7 149.1H186.8V159.4H176.7ZM225.7 149.1H255.5V159.4H225.7ZM176.7 159.1H186.8V169.3H176.7ZM215.9 159.1H226.0V169.3H215.9ZM117.8 169.0H127.9V179.3H117.8ZM176.7 169.0H186.8V179.3H176.7ZM176.7 179.0H186.8V189.2H176.7ZM225.7 179.0H235.8V189.2H225.7ZM176.7 188.9H186.8V199.1H176.7ZM235.5 188.9H245.7V199.1H235.5ZM265.0 198.8H275.1V209.1H265.0ZM166.8 208.8H177.0V219.0H166.8ZM274.8 208.8H294.7V219.0H274.8ZM117.8 228.7H127.9V238.9H117.8ZM215.9 238.6H235.8V248.9H215.9ZM372.9 238.6H392.9V248.9H372.9ZM127.6 248.6H137.7V288.8H127.6Z"/>
<path fill="rgb(52,52,52)" d="M-30.0 89.5H19.9V99.7H-30.0ZM19.6 99.4H29.7V109.7H19.6ZM39.3 109.4H59.2V119.6H39.3ZM58.9 119.3H69.0V129.6H58.9ZM68.7 129.2H78.8V139.5H68.7ZM108.0 129.2H118.1V139.5H108.0ZM157.0 129.2H167.1V139.5H157.0ZM117.8 139.2H127.9V149.4H117.8ZM137.4 139.2H147.5V149.4H137.4ZM127.6 149.1H137.7V159.4H127.6ZM117.8 159.1H137.7V169.3H117.8ZM284.6 159.1H294.7V169.3H284.6ZM215.9 169.0H226.0V179.3H215.9ZM294.4 169.0H304.5V179.3H294.4ZM294.4 179.0H304.5V189.2H294.4ZM294.4 188.9H304.5V199.1H294.4ZM176.7 198.8H186.8V209.1H176.7ZM245.4 198.8H265.3V209.1H245.4ZM294.4 198.8H304.5V209.1H294.4ZM265.0 208.8H275.1V219.0H265.0ZM294.4 208.8H304.5V219.0H294.4ZM127.6 218.7H137.7V229.0H127.6ZM274.8 218.7H294.7V229.0H274.8ZM215.9 228.7H235.8V238.9H215.9ZM372.9 228.7H392.9V238.9H372.9ZM127.6 238.6H137.7V248.9H127.6ZM206.1 238.6H216.2V248.9H206.1ZM235.5 238.6H245.7V248.9H235.5ZM363.1 238.6H373.2V248.9H363.1ZM392.6 238.6H402.7V248.9H392.6ZM206.1 248.6H216.2V288.8H206.1ZM235.5 248.6H245.7V288.8H235.5ZM363.1 248.6H373.2V288.8H363.1ZM392.6 248.6H402.7V288.8H392.6Z"/>
<path fill="rgb(56,56,56)" d="M19.6 89.5H29.7V99.7H19.6ZM29.4 99.4H39.6V109.7H29.4ZM58.9 109.4H88.6V119.6H58.9ZM68.7 119.3H98.4V129.6H68.7ZM176.7 129.2H186.8V139.5H176.7ZM127.6 139.2H137.7V149.4H127.6ZM186.5 139.2H196.6V149.4H186.5ZM186.5 149.1H196.6V159.4H186.5ZM206.1 149.1H226.0V159.4H206.1ZM255.2 149.1H265.3V159.4H255.2ZM294.4 159.1H304.5V169.3H294.4ZM215.9 179.0H226.0V189.2H215.9ZM225.7 188.9H235.8V199.1H225.7ZM235.5 198.8H245.7V209.1H235.5ZM304.2 198.8H314.4V209.1H304.2ZM176.7 208.8H186.8V219.0H176.7ZM245.4 208.8H265.3V219.0H245.4ZM304.2 208.8H314.4V219.0H304.2ZM137.4 218.7H147.5V229.0H137.4ZM176.7 218.7H196.6V229.0H176.7ZM235.5 218.7H275.1V229.0H235.5ZM294.4 218.7H304.5V229.0H294.4ZM127.6 228.7H137.7V238.9H127.6ZM196.3 228.7H216.2V238.9H196.3ZM235.5 228.7H255.5V238.9H235.5ZM353.3 228.7H373.2V238.9H353.3ZM392.6 228.7H442.5V238.9H392.6ZM402.4 238.6H442.5V248.9H402.4ZM402.4 248.6H442.5V288.8H402.4Z"/>
<path fill="rgb(60,60,60)" d="M-30.0 79.5H29.7V89.8H-30.0ZM29.4 89.5H39.6V99.7H29.4ZM39.3 99.4H59.2V109.7H39.3ZM88.3 109.4H98.4V119.6H88.3ZM98.1 119.3H108.3V129.6H98.1ZM147.2 129.2H157.3V139.5H147.2ZM215.9 139.2H235.8V149.4H215.9ZM196.3 149.1H206.4V159.4H196.3ZM265.0 149.1H275.1V159.4H265.0ZM186.5 159.1H196.6V169.3H186.5ZM186.5 169.0H196.6V179.3H186.5ZM304.2 169.0H314.4V179.3H304.2ZM186.5 179.0H196.6V189.2H186.5ZM304.2 179.0H314.4V189.2H304.2ZM186.5 188.9H196.6V199.1H186.5ZM304.2 188.9H314.4V199.1H304.2ZM186.5 198.8H196.6V209.1H186.5ZM314.1 198.8H324.2V209.1H314.1ZM186.5 208.8H196.6V219.0H186.5ZM235.5 208.8H245.7V219.0H235.5ZM314.1 208.8H324.2V219.0H314.1ZM147.2 218.7H157.3V229.0H147.2ZM196.3 218.7H235.8V229.0H196.3ZM304.2 218.7H314.4V229.0H304.2ZM343.5 218.7H442.5V229.0H343.5ZM186.5 228.7H196.6V238.9H186.5ZM255.2 228.7H304.5V238.9H255.2ZM343.5 228.7H353.6V238.9H343.5ZM196.3 238.6H206.4V248.9H196.3ZM245.4 238.6H255.5V248.9H245.4ZM353.3 238.6H363.4V248.9H353.3ZM196.3 248.6H206.4V288.8H196.3ZM245.4 248.6H255.5V288.8H245.4ZM353.3 248.6H363.4V288.8H353.3Z"/>
<path fill="rgb(64,64,64)" d="M29.4 79.5H39.6V89.8H29.4ZM39.3 89.5H49.4V99.7H39.3ZM58.9 99.4H78.8V109.7H58.9ZM98.1 109.4H108.3V119.6H98.1ZM108.0 119.3H118.1V129.6H108.0ZM157.0 119.3H186.8V129.6H157.0ZM117.8 129.2H127.9V139.5H117.8ZM137.4 129.2H147.5V139.5H137.4ZM186.5 129.2H196.6V139.5H186.5ZM196.3 139.2H216.2V149.4H196.3ZM235.5 139.2H245.7V149.4H235.5ZM274.8 149.1H294.7V159.4H274.8ZM196.3 159.1H216.2V169.3H196.3ZM304.2 159.1H314.4V169.3H304.2ZM206.1 169.0H216.2V179.3H206.1ZM215.9 188.9H226.0V199.1H215.9ZM314.1 188.9H324.2V199.1H314.1ZM225.7 198.8H235.8V209.1H225.7ZM323.9 198.8H334.0V209.1H323.9ZM196.3 208.8H206.4V219.0H196.3ZM225.7 208.8H235.8V219.0H225.7ZM323.9 208.8H343.8V219.0H323.9ZM157.0 218.7H177.0V229.0H157.0ZM314.1 218.7H343.8V229.0H314.1ZM176.7 228.7H186.8V238.9H176.7ZM304.2 228.7H314.4V238.9H304.2ZM333.7 228.7H343.8V238.9H333.7ZM137.4 238.6H147.5V248.9H137.4ZM186.5 238.6H196.6V248.9H186.5ZM255.2 238.6H265.3V248.9H255.2ZM343.5 238.6H353.6V248.9H343.5ZM137.4 248.6H147.5V288.8H137.4Z"/>
<path fill="rgb(68,68,68)" d="M-30.0 69.6H29.7V79.8H-30.0ZM78.5 99.4H88.6V109.7H78.5ZM108.0 109.4H118.1V119.6H108.0ZM157.0 109.4H167.1V119.6H157.0ZM117.8 119.3H127.9V129.6H117.8ZM147.2 119.3H157.3V129.6H147.2ZM127.6 129.2H137.7V139.5H127.6ZM245.4 139.2H255.5V149.4H245.4ZM294.4 149.1H304.5V159.4H294.4ZM196.3 169.0H206.4V179.3H196.3ZM314.1 169.0H324.2V179.3H314.1ZM196.3 179.0H216.2V189.2H196.3ZM314.1 179.0H324.2V189.2H314.1ZM196.3 188.9H216.2V199.1H196.3ZM196.3 198.8H206.4V209.1H196.3ZM215.9 198.8H226.0V209.1H215.9ZM206.1 208.8H226.0V219.0H206.1ZM343.5 208.8H442.5V219.0H343.5ZM137.4 228.7H147.5V238.9H137.4ZM166.8 228.7H177.0V238.9H166.8ZM314.1 228.7H334.0V238.9H314.1ZM176.7 238.6H186.8V248.9H176.7ZM265.0 238.6H314.4V248.9H265.0ZM333.7 238.6H343.8V248.9H333.7ZM186.5 248.6H196.6V288.8H186.5ZM255.2 248.6H265.3V288.8H255.2ZM343.5 248.6H353.6V288.8H343.5Z"/>
<path fill="rgb(72,72,72)" d="M29.4 69.6H39.6V79.8H29.4ZM39.3 79.5H49.4V89.8H39.3ZM49.1 89.5H59.2V99.7H49.1ZM88.3 99.4H98.4V109.7H88.3ZM117.8 109.4H157.3V119.6H117.8ZM166.8 109.4H177.0V119.6H166.8ZM127.6 119.3H147.5V129.6H127.6ZM196.3 129.2H206.4V139.5H196.3ZM215.9 129.2H235.8V139.5H215.9ZM304.2 149.1H314.4V159.4H304.2ZM314.1 159.1H324.2V169.3H314.1ZM323.9 188.9H334.0V199.1H323.9ZM206.1 198.8H216.2V209.1H206.1ZM333.7 198.8H343.8V209.1H333.7ZM147.2 228.7H167.1V238.9H147.2ZM147.2 238.6H177.0V248.9H147.2ZM314.1 238.6H334.0V248.9H314.1ZM147.2 248.6H186.8V288.8H147.2ZM265.0 248.6H343.8V288.8H265.0Z"/>
<path fill="rgb(76,76,76)" d="M58.9 89.5H69.0V99.7H58.9ZM98.1 99.4H108.3V109.7H98.1ZM186.5 119.3H196.6V129.6H186.5ZM206.1 129.2H216.2V139.5H206.1ZM235.5 129.2H245.7V139.5H235.5ZM255.2 139.2H265.3V149.4H255.2ZM323.9 169.0H334.0V179.3H323.9ZM323.9 179.0H334.0V189.2H323.9ZM343.5 198.8H373.2V209.1H343.5Z"/>
<path fill="rgb(80,80,80)" d="M-30.0 59.7H29.7V69.9H-30.0ZM39.3 69.6H49.4V79.8H39.3ZM49.1 79.5H59.2V89.8H49.1ZM108.0 99.4H118.1V109.7H108.0ZM265.0 139.2H275.1V149.4H265.0ZM314.1 149.1H324.2V159.4H314.1ZM323.9 159.1H334.0V169.3H323.9ZM333.7 188.9H343.8V199.1H333.7ZM372.9 198.8H442.5V209.1H372.9Z"/>
<path fill="rgb(84,84,84)" d="M29.4 59.7H39.6V69.9H29.4ZM49.1 69.6H59.2V79.8H49.1ZM58.9 79.5H69.0V89.8H58.9ZM68.7 89.5H78.8V99.7H68.7ZM245.4 129.2H255.5V139.5H245.4ZM274.8 139.2H294.7V149.4H274.8ZM323.9 149.1H334.0V159.4H323.9ZM333.7 159.1H343.8V169.3H333.7ZM333.7 169.0H343.8V179.3H333.7ZM333.7 179.0H343.8V189.2H333.7ZM343.5 188.9H363.4V199.1H343.5Z"/>
<path fill="rgb(88,88,88)" d="M58.9 69.6H69.0V79.8H58.9ZM78.5 89.5H88.6V99.7H78.5ZM117.8 99.4H167.1V109.7H117.8ZM176.7 109.4H186.8V119.6H176.7ZM294.4 139.2H304.5V149.4H294.4ZM333.7 149.1H343.8V159.4H333.7ZM343.5 179.0H353.6V189.2H343.5ZM363.1 188.9H373.2V199.1H363.1Z"/>
<path fill="rgb(92,92,92)" d="M39.3 59.7H49.4V69.9H39.3ZM68.7 79.5H78.8V89.8H68.7ZM88.3 89.5H98.4V99.7H88.3ZM196.3 119.3H206.4V129.6H196.3ZM255.2 129.2H265.3V139.5H255.2ZM304.2 139.2H314.4V149.4H304.2ZM343.5 149.1H353.6V159.4H343.5ZM343.5 159.1H353.6V169.3H343.5ZM343.5 169.0H353.6V179.3H343.5ZM353.3 179.0H363.4V189.2H353.3ZM372.9 188.9H383.1V199.1H372.9Z"/>
<path fill="rgb(96,96,96)" d="M-30.0 49.7H29.7V60.0H-30.0ZM49.1 59.7H69.0V69.9H49.1ZM68.7 69.6H78.8V79.8H68.7ZM98.1 89.5H108.3V99.7H98.1ZM166.8 99.4H177.0V109.7H166.8ZM206.1 119.3H235.8V129.6H206.1ZM314.1 139.2H324.2V149.4H314.1ZM333.7 139.2H343.8V149.4H333.7ZM353.3 169.0H363.4V179.3H353.3ZM363.1 179.0H373.2V189.2H363.1ZM382.8 188.9H442.5V199.1H382.8Z"/>
<path fill="rgb(100,100,100)" d="M29.4 49.7H39.6V60.0H29.4ZM186.5 109.4H196.6V119.6H186.5ZM235.5 119.3H245.7V129.6H235.5ZM265.0 129.2H275.1V139.5H265.0ZM323.9 139.2H334.0V149.4H323.9ZM343.5 139.2H353.6V149.4H343.5ZM353.3 149.1H363.4V159.4H353.3ZM353.3 159.1H363.4V169.3H353.3Z"/>
<path fill="rgb(104,104,104)" d="M49.1 -30.0H69.0V10.2H49.1ZM68.7 59.7H78.8V69.9H68.7ZM78.5 79.5H88.6V89.8H78.5ZM108.0 89.5H118.1V99.7H108.0ZM176.7 99.4H186.8V109.7H176.7ZM274.8 129.2H284.9V139.5H274.8ZM353.3 139.2H363.4V149.4H353.3ZM363.1 169.0H373.2V179.3H363.1ZM372.9 179.0H383.1V189.2H372.9Z"/>
<path fill="rgb(108,108,108)" d="M39.3 -30.0H49.4V10.2H39.3ZM68.7 -30.0H78.8V10.2H68.7ZM39.3 49.7H49.4V60.0H39.3ZM78.5 69.6H88.6V79.8H78.5ZM88.3 79.5H98.4V89.8H88.3ZM245.4 119.3H255.5V129.6H245.4ZM363.1 149.1H373.2V159.4H363.1ZM363.1 159.1H373.2V169.3H363.1ZM382.8 179.0H392.9V189.2H382.8Z"/>
<path fill="rgb(112,112,112)" d="M49.1 9.9H69.0V20.2H49.1ZM-30.0 39.8H29.7V50.0H-30.0ZM49.1 49.7H69.0V60.0H49.1ZM98.1 79.5H108.3V89.8H98.1ZM117.8 89.5H127.9V99.7H117.8ZM255.2 119.3H265.3V129.6H255.2ZM284.6 129.2H294.7V139.5H284.6ZM343.5 129.2H353.6V139.5H343.5ZM363.1 139.2H373.2V149.4H363.1ZM372.9 169.0H383.1V179.3H372.9ZM392.6 179.0H442.5V189.2H392.6Z"/>
<path fill="rgb(116,116,116)" d="M29.4 -30.0H39.6V10.2H29.4ZM78.5 -30.0H88.6V10.2H78.5ZM39.3 9.9H49.4V20.2H39.3ZM68.7 9.9H78.8V20.2H68.7ZM29.4 39.8H39.6V50.0H29.4ZM68.7 49.7H78.8V60.0H68.7ZM78.5 59.7H88.6V69.9H78.5ZM196.3 109.4H206.4V119.6H196.3ZM294.4 129.2H304.5V139.5H294.4ZM333.7 129.2H343.8V139.5H333.7ZM353.3 129.2H363.4V139.5H353.3ZM372.9 149.1H383.1V159.4H372.9ZM372.9 159.1H383.1V169.3H372.9Z"/>
<path fill="rgb(120,120,120)" d="M-30.0 -30.0H29.7V10.2H-30.0ZM29.4 9.9H39.6V20.2H29.4ZM78.5 9.9H88.6V20.2H78.5ZM39.3 39.8H49.4V50.0H39.3ZM88.3 69.6H98.4V79.8H88.3ZM108.0 79.5H118.1V89.8H108.0ZM127.6 89.5H177.0V99.7H127.6ZM186.5 99.4H196.6V109.7H186.5ZM265.0 119.3H275.1V129.6H265.0ZM304.2 129.2H314.4V139.5H304.2ZM323.9 129.2H334.0V139.5H323.9ZM363.1 129.2H373.2V139.5H363.1ZM372.9 139.2H383.1V149.4H372.9ZM382.8 169.0H392.9V179.3H382.8Z"/>
<path fill="rgb(124,124,124)" d="M88.3 -30.0H98.4V10.2H88.3ZM-30.0 9.9H29.7V20.2H-30.0ZM392.6 19.9H442.5V30.1H392.6ZM353.3 29.8H442.5V40.1H353.3ZM49.1 39.8H69.0V50.0H49.1ZM98.1 69.6H108.3V79.8H98.1ZM274.8 119.3H284.9V129.6H274.8ZM343.5 119.3H363.4V129.6H343.5ZM314.1 129.2H324.2V139.5H314.1ZM382.8 159.1H392.9V169.3H382.8ZM392.6 169.0H402.7V179.3H392.6Z"/>
<path fill="rgb(128,128,128)" d="M88.3 9.9H108.3V20.2H88.3ZM39.3 19.9H78.8V30.1H39.3ZM88.3 19.9H108.3V30.1H88.3ZM343.5 19.9H392.9V30.1H343.5ZM-30.0 29.8H39.6V40.1H-30.0ZM98.1 29.8H108.3V40.1H98.1ZM343.5 29.8H353.6V40.1H343.5ZM68.7 39.8H78.8V50.0H68.7ZM78.5 49.7H88.6V60.0H78.5ZM88.3 59.7H98.4V69.9H88.3ZM176.7 89.5H186.8V99.7H176.7ZM206.1 109.4H226.0V119.6H206.1ZM333.7 119.3H343.8V129.6H333.7ZM363.1 119.3H373.2V129.6H363.1ZM372.9 129.2H383.1V139.5H372.9ZM382.8 139.2H392.9V149.4H382.8ZM382.8 149.1H392.9V159.4H382.8ZM402.4 169.0H442.5V179.3H402.4Z"/>
<path fill="rgb(131,131,131)" d="M98.1 -30.0H108.3V10.2H98.1ZM402.4 9.9H442.5V20.2H402.4ZM-30.0 19.9H39.6V30.1H-30.0ZM78.5 19.9H88.6V30.1H78.5ZM333.7 19.9H343.8V30.1H333.7ZM39.3 29.8H78.8V40.1H39.3ZM88.3 29.8H98.4V40.1H88.3ZM333.7 29.8H343.8V40.1H333.7ZM78.5 39.8H88.6V50.0H78.5ZM98.1 39.8H108.3V50.0H98.1ZM363.1 39.8H442.5V50.0H363.1ZM88.3 49.7H98.4V60.0H88.3ZM98.1 59.7H108.3V69.9H98.1ZM225.7 109.4H235.8V119.6H225.7ZM333.7 109.4H373.2V119.6H333.7ZM284.6 119.3H294.7V129.6H284.6ZM323.9 119.3H334.0V129.6H323.9ZM372.9 119.3H383.1V129.6H372.9Z"/>
<path fill="rgb(135,135,135)" d="M402.4 -30.0H442.5V10.2H402.4ZM392.6 9.9H402.7V20.2H392.6ZM157.0 19.9H167.1V30.1H157.0ZM323.9 19.9H334.0V30.1H323.9ZM78.5 29.8H88.6V40.1H78.5ZM157.0 29.8H167.1V40.1H157.0ZM323.9 29.8H334.0V40.1H323.9ZM88.3 39.8H98.4V50.0H88.3ZM353.3 39.8H363.4V50.0H353.3ZM98.1 49.7H108.3V60.0H98.1ZM363.1 49.7H392.9V60.0H363.1ZM353.3 59.7H383.1V69.9H353.3ZM108.0 69.6H118.1V79.8H108.0ZM343.5 69.6H383.1V79.8H343.5ZM117.8 79.5H127.9V89.8H117.8ZM157.0 79.5H177.0V89.8H157.0ZM333.7 79.5H383.1V89.8H333.7ZM186.5 89.5H196.6V99.7H186.5ZM323.9 89.5H383.1V99.7H323.9ZM196.3 99.4H206.4V109.7H196.3ZM323.9 99.4H392.9V109.7H323.9ZM235.5 109.4H255.5V119.6H235.5ZM323.9 109.4H334.0V119.6H323.9ZM372.9 109.4H442.5V119.6H372.9ZM294.4 119.3H304.5V129.6H294.4ZM314.1 119.3H324.2V129.6H314.1ZM382.8 119.3H442.5V129.6H382.8ZM382.8 129.2H402.7V139.5H382.8ZM392.6 159.1H402.7V169.3H392.6Z"/>
<path fill="rgb(139,139,139)" d="M157.0 -30.0H177.0V10.2H157.0ZM392.6 -30.0H402.7V10.2H392.6ZM157.0 9.9H177.0V20.2H157.0ZM382.8 9.9H392.9V20.2H382.8ZM147.2 19.9H157.3V30.1H147.2ZM166.8 19.9H177.0V30.1H166.8ZM304.2 19.9H324.2V30.1H304.2ZM147.2 29.8H157.3V40.1H147.2ZM166.8 29.8H177.0V40.1H166.8ZM314.1 29.8H324.2V40.1H314.1ZM157.0 39.8H177.0V50.0H157.0ZM343.5 39.8H353.6V50.0H343.5ZM157.0 49.7H177.0V60.0H157.0ZM353.3 49.7H363.4V60.0H353.3ZM392.6 49.7H442.5V60.0H392.6ZM157.0 59.7H177.0V69.9H157.0ZM343.5 59.7H353.6V69.9H343.5ZM382.8 59.7H392.9V69.9H382.8ZM157.0 69.6H177.0V79.8H157.0ZM382.8 69.6H392.9V79.8H382.8ZM137.4 79.5H157.3V89.8H137.4ZM176.7 79.5H186.8V89.8H176.7ZM382.8 79.5H392.9V89.8H382.8ZM314.1 89.5H324.2V99.7H314.1ZM382.8 89.5H392.9V99.7H382.8ZM314.1 99.4H324.2V109.7H314.1ZM392.6 99.4H442.5V109.7H392.6ZM255.2 109.4H275.1V119.6H255.2ZM314.1 109.4H324.2V119.6H314.1ZM304.2 119.3H314.4V129.6H304.2ZM402.4 129.2H442.5V139.5H402.4ZM392.6 149.1H402.7V159.4H392.6ZM402.4 159.1H442.5V169.3H402.4Z"/>
<path fill="rgb(143,143,143)" d="M147.2 9.9H157.3V20.2H147.2ZM333.7 9.9H383.1V20.2H333.7ZM108.0 19.9H118.1V30.1H108.0ZM294.4 19.9H304.5V30.1H294.4ZM108.0 29.8H118.1V40.1H108.0ZM304.2 29.8H314.4V40.1H304.2ZM108.0 39.8H118.1V50.0H108.0ZM147.2 39.8H157.3V50.0H147.2ZM333.7 39.8H343.8V50.0H333.7ZM343.5 49.7H353.6V60.0H343.5ZM108.0 59.7H118.1V69.9H108.0ZM333.7 59.7H343.8V69.9H333.7ZM392.6 59.7H402.7V69.9H392.6ZM147.2 69.6H157.3V79.8H147.2ZM176.7 69.6H186.8V79.8H176.7ZM333.7 69.6H343.8V79.8H333.7ZM127.6 79.5H137.7V89.8H127.6ZM323.9 79.5H334.0V89.8H323.9ZM392.6 89.5H402.7V99.7H392.6ZM274.8 109.4H294.7V119.6H274.8ZM304.2 109.4H314.4V119.6H304.2ZM392.6 139.2H402.7V149.4H392.6Z"/>
<path fill="rgb(147,147,147)" d="M147.2 -30.0H157.3V10.2H147.2ZM176.7 -30.0H186.8V10.2H176.7ZM382.8 -30.0H392.9V10.2H382.8ZM176.7 9.9H186.8V20.2H176.7ZM294.4 9.9H334.0V20.2H294.4ZM176.7 19.9H186.8V30.1H176.7ZM284.6 19.9H294.7V30.1H284.6ZM176.7 29.8H186.8V40.1H176.7ZM294.4 29.8H304.5V40.1H294.4ZM176.7 39.8H186.8V50.0H176.7ZM323.9 39.8H334.0V50.0H323.9ZM108.0 49.7H118.1V60.0H108.0ZM147.2 49.7H157.3V60.0H147.2ZM176.7 49.7H186.8V60.0H176.7ZM147.2 59.7H157.3V69.9H147.2ZM176.7 59.7H186.8V69.9H176.7ZM402.4 59.7H442.5V69.9H402.4ZM392.6 69.6H402.7V79.8H392.6ZM186.5 79.5H196.6V89.8H186.5ZM314.1 79.5H324.2V89.8H314.1ZM392.6 79.5H402.7V89.8H392.6ZM304.2 89.5H314.4V99.7H304.2ZM402.4 89.5H442.5V99.7H402.4ZM206.1 99.4H216.2V109.7H206.1ZM304.2 99.4H314.4V109.7H304.2ZM294.4 109.4H304.5V119.6H294.4ZM402.4 139.2H442.5V149.4H402.4ZM402.4 149.1H442.5V159.4H402.4Z"/>
<path fill="rgb(151,151,151)" d="M186.5 -30.0H383.1V10.2H186.5ZM186.5 9.9H196.6V20.2H186.5ZM235.5 9.9H294.7V20.2H235.5ZM245.4 19.9H284.9V30.1H245.4ZM137.4 29.8H147.5V40.1H137.4ZM314.1 39.8H324.2V50.0H314.1ZM323.9 49.7H343.8V60.0H323.9ZM117.8 69.6H127.9V79.8H117.8ZM137.4 69.6H147.5V79.8H137.4ZM323.9 69.6H334.0V79.8H323.9ZM402.4 69.6H442.5V79.8H402.4ZM304.2 79.5H314.4V89.8H304.2ZM402.4 79.5H442.5V89.8H402.4ZM196.3 89.5H206.4V99.7H196.3ZM215.9 99.4H226.0V109.7H215.9ZM294.4 99.4H304.5V109.7H294.4Z"/>
<path fill="rgb(155,155,155)" d="M108.0 9.9H118.1V20.2H108.0ZM196.3 9.9H235.8V20.2H196.3ZM137.4 19.9H147.5V30.1H137.4ZM186.5 19.9H196.6V30.1H186.5ZM235.5 19.9H245.7V30.1H235.5ZM186.5 29.8H196.6V40.1H186.5ZM284.6 29.8H294.7V40.1H284.6ZM304.2 39.8H314.4V50.0H304.2ZM137.4 59.7H147.5V69.9H137.4ZM127.6 69.6H137.7V79.8H127.6ZM294.4 89.5H304.5V99.7H294.4ZM225.7 99.4H235.8V109.7H225.7ZM274.8 99.4H294.7V109.7H274.8Z"/>
<path fill="rgb(159,159,159)" d="M108.0 -30.0H118.1V10.2H108.0ZM196.3 19.9H206.4V30.1H196.3ZM225.7 19.9H235.8V30.1H225.7ZM235.5 29.8H284.9V40.1H235.5ZM137.4 39.8H147.5V50.0H137.4ZM186.5 39.8H196.6V50.0H186.5ZM137.4 49.7H147.5V60.0H137.4ZM186.5 49.7H196.6V60.0H186.5ZM314.1 49.7H324.2V60.0H314.1ZM323.9 59.7H334.0V69.9H323.9ZM186.5 69.6H196.6V79.8H186.5ZM314.1 69.6H324.2V79.8H314.1ZM294.4 79.5H304.5V89.8H294.4ZM206.1 89.5H216.2V99.7H206.1ZM284.6 89.5H294.7V99.7H284.6ZM235.5 99.4H275.1V109.7H235.5Z"/>
<path fill="rgb(163,163,163)" d="M206.1 19.9H226.0V30.1H206.1ZM294.4 39.8H304.5V50.0H294.4ZM304.2 49.7H314.4V60.0H304.2ZM117.8 59.7H127.9V69.9H117.8ZM186.5 59.7H196.6V69.9H186.5ZM314.1 59.7H324.2V69.9H314.1ZM294.4 69.6H314.4V79.8H294.4ZM284.6 79.5H294.7V89.8H284.6ZM215.9 89.5H226.0V99.7H215.9Z"/>
<path fill="rgb(167,167,167)" d="M137.4 9.9H147.5V20.2H137.4ZM196.3 29.8H206.4V40.1H196.3ZM215.9 29.8H235.8V40.1H215.9ZM225.7 39.8H235.8V50.0H225.7ZM117.8 49.7H127.9V60.0H117.8ZM127.6 59.7H137.7V69.9H127.6ZM294.4 59.7H314.4V69.9H294.4ZM284.6 69.6H294.7V79.8H284.6ZM196.3 79.5H206.4V89.8H196.3ZM225.7 89.5H235.8V99.7H225.7ZM274.8 89.5H284.9V99.7H274.8Z"/>
<path fill="rgb(171,171,171)" d="M137.4 -30.0H147.5V10.2H137.4ZM206.1 29.8H216.2V40.1H206.1ZM196.3 39.8H206.4V50.0H196.3ZM215.9 39.8H226.0V50.0H215.9ZM284.6 39.8H294.7V50.0H284.6ZM127.6 49.7H137.7V60.0H127.6ZM294.4 49.7H304.5V60.0H294.4ZM284.6 59.7H294.7V69.9H284.6ZM274.8 69.6H284.9V79.8H274.8ZM215.9 79.5H226.0V89.8H215.9ZM274.8 79.5H284.9V89.8H274.8ZM235.5 89.5H245.7V99.7H235.5ZM265.0 89.5H275.1V99.7H265.0Z"/>
<path fill="rgb(175,175,175)" d="M117.8 29.8H127.9V40.1H117.8ZM117.8 39.8H137.7V50.0H117.8ZM206.1 39.8H216.2V50.0H206.1ZM235.5 39.8H284.9V50.0H235.5ZM215.9 49.7H235.8V60.0H215.9ZM284.6 49.7H294.7V60.0H284.6ZM274.8 59.7H284.9V69.9H274.8ZM206.1 79.5H216.2V89.8H206.1ZM225.7 79.5H235.8V89.8H225.7ZM245.4 89.5H265.3V99.7H245.4Z"/>
<path fill="rgb(179,179,179)" d="M196.3 49.7H206.4V60.0H196.3ZM235.5 49.7H245.7V60.0H235.5ZM274.8 49.7H284.9V60.0H274.8ZM225.7 59.7H235.8V69.9H225.7ZM265.0 59.7H275.1V69.9H265.0ZM196.3 69.6H206.4V79.8H196.3ZM225.7 69.6H235.8V79.8H225.7ZM265.0 69.6H275.1V79.8H265.0ZM235.5 79.5H245.7V89.8H235.5ZM265.0 79.5H275.1V89.8H265.0Z"/>
<path fill="rgb(183,183,183)" d="M127.6 29.8H137.7V40.1H127.6ZM206.1 49.7H216.2V60.0H206.1ZM245.4 49.7H275.1V60.0H245.4ZM196.3 59.7H206.4V69.9H196.3ZM215.9 59.7H226.0V69.9H215.9ZM235.5 59.7H265.3V69.9H235.5ZM215.9 69.6H226.0V79.8H215.9ZM235.5 69.6H265.3V79.8H235.5ZM245.4 79.5H265.3V89.8H245.4Z"/>
<path fill="rgb(187,187,187)" d="M117.8 19.9H127.9V30.1H117.8ZM206.1 69.6H216.2V79.8H206.1Z"/>
<path fill="rgb(191,191,191)" d="M127.6 19.9H137.7V30.1H127.6ZM206.1 59.7H216.2V69.9H206.1Z"/>
<path fill="rgb(199,199,199)" d="M117.8 9.9H127.9V20.2H117.8Z"/>
<path fill="rgb(203,203,203)" d="M127.6 9.9H137.7V20.2H127.6Z"/>
<path fill="rgb(207,207,207)" d="M117.8 -30.0H127.9V10.2H117.8Z"/>
<path fill="rgb(211,211,211)" d="M127.6 -30.0H137.7V10.2H127.6Z"/>
</g>
<path d="M76.2 0.0 L71.4 60.9 L70.0 92.8 M0.0 54.2 L71.4 60.9 M70.0 92.8 L118.9 96.1 L158.4 97.2 L183.7 97.7 L214.0 97.5 L240.8 97.2 L289.5 96.4 M239.7 0.0 L240.2 33.2 L240.8 97.2 M240.2 33.2 L311.6 30.8 L371.4 27.2 L376.0 29.5 L380.0 32.3 L382.8 33.9 L385.1 33.7 L386.2 31.0 L387.5 30.3 L392.2 30.6 L396.0 29.8 L399.5 28.8 L401.5 29.5 L404.1 31.8 L408.0 32.6 L412.0 33.2 M118.9 96.1 L118.1 122.9 L116.5 160.0 L113.3 223.7 L111.7 258.5 M289.5 96.4 L291.1 128.4 L292.5 175.0 L294.3 224.8 M291.1 128.4 L351.1 125.6 L412.0 121.7 M0.0 216.2 L57.2 220.9 L113.3 223.7 L175.8 226.1 L214.0 226.5 L269.0 226.1 L294.3 224.8 L351.1 222.0 L412.0 218.2 M269.3 226.1 L269.6 241.6 L268.6 241.8 L268.6 258.5 M268.6 241.8 L347.2 239.1 L348.8 258.5" fill="none" stroke="#000" stroke-width="1.35" stroke-linejoin="round"/>
<path d="M-0.1 9.3 C2.4 10.5 9.8 14.7 14.7 16.7 C19.6 18.7 23.8 19.8 29.5 21.1 C35.2 22.5 43.0 23.3 48.7 24.8 C54.4 26.3 59.3 27.9 63.5 30.0 C67.7 32.1 70.7 34.4 73.9 37.4 C77.1 40.4 79.8 44.3 82.8 47.8 C85.8 51.2 88.2 55.6 91.7 58.1 C95.2 60.6 100.0 60.9 103.5 62.6 C107.0 64.3 109.4 66.0 112.4 68.5 C115.4 71.0 118.1 74.7 121.3 77.4 C124.5 80.1 128.2 83.1 131.6 84.8 C135.0 86.5 138.6 86.7 142.0 87.7 C145.4 88.7 149.1 89.0 152.3 90.7 C155.5 92.4 158.2 95.1 161.2 98.1 C164.2 101.0 167.1 105.0 170.1 108.4 C173.1 111.9 176.3 115.1 179.0 118.8 C181.7 122.5 184.4 125.9 186.4 130.3 C188.4 134.7 189.8 140.2 190.8 145.2 C191.8 150.1 191.6 155.3 192.3 160.0 C193.0 164.7 193.7 169.6 195.2 173.3 C196.7 177.0 199.4 180.2 201.2 182.2 C203.0 184.2 203.9 183.2 205.9 185.2 C207.9 187.2 210.8 190.8 213.3 194.0 C215.8 197.2 218.0 201.4 220.7 204.4 C223.4 207.4 225.9 209.6 229.6 211.8 C233.3 214.0 238.7 215.7 242.9 217.7 C247.1 219.7 250.5 221.9 254.7 223.6 C258.9 225.3 264.4 226.4 268.1 228.1 C271.8 229.8 274.7 231.5 276.9 234.0 C279.1 236.5 279.7 239.9 281.4 242.9 C283.1 245.9 285.1 249.5 287.3 251.8 C289.5 254.1 292.5 255.7 294.7 256.9 C296.9 258.1 299.6 258.7 300.6 259.1 M13.2 49.2 C15.9 50.2 24.3 53.5 29.5 55.2 C34.7 56.9 40.6 57.9 44.3 59.6 C48.0 61.3 49.2 62.8 51.7 65.5 C54.2 68.2 56.4 72.7 59.1 75.9 C61.8 79.1 64.5 82.3 68.0 84.8 C71.5 87.3 75.8 88.7 79.8 90.7 C83.8 92.7 88.2 94.6 91.7 96.6 C95.2 98.6 98.3 100.3 100.5 102.5 C102.7 104.7 103.5 107.7 105.0 109.9 C106.5 112.1 107.2 113.8 109.4 115.8 C111.6 117.8 115.1 119.4 118.3 121.8 C121.5 124.2 125.5 127.6 128.7 130.3 C131.9 133.0 134.1 135.8 137.5 137.8 C140.9 139.8 145.7 140.2 149.4 142.2 C153.1 144.2 156.8 146.6 159.7 149.6 C162.6 152.6 165.4 156.1 167.1 160.0 C168.8 163.9 169.7 168.6 170.1 173.3 C170.5 178.0 169.1 183.4 169.3 188.1 C169.6 192.8 170.6 196.9 171.6 201.4 C172.6 205.9 174.1 210.4 175.3 214.8 C176.5 219.2 177.4 224.2 179.0 228.1 C180.6 232.0 182.4 235.4 184.9 238.4 C187.4 241.4 191.3 243.3 193.8 245.8 C196.3 248.3 198.2 250.8 199.7 253.2 C201.2 255.6 202.1 259.1 202.6 260.3 M-0.1 102.5 C1.4 103.7 5.6 107.4 8.8 109.9 C12.0 112.4 15.7 114.6 19.1 117.3 C22.6 120.0 26.8 124.0 29.5 126.2 C32.2 128.4 32.9 128.4 35.4 130.3 C37.9 132.2 41.3 135.1 44.3 137.8 C47.3 140.5 50.7 143.5 53.2 146.7 C55.7 149.9 56.6 153.6 59.1 157.0 C61.6 160.4 65.3 163.9 68.0 167.4 C70.7 170.9 72.9 174.8 75.4 177.8 C77.9 180.8 80.1 183.5 82.8 185.2 C85.5 186.9 89.0 186.4 91.7 188.1 C94.4 189.8 97.1 192.5 99.1 195.5 C101.1 198.5 102.8 202.7 103.5 205.9 C104.2 209.1 103.0 211.9 103.5 214.8 C104.0 217.8 105.2 220.9 106.5 223.6 C107.8 226.3 110.8 229.8 111.6 231.0 M72.4 0.4 C74.1 2.1 79.1 7.6 82.8 10.8 C86.5 14.0 90.6 16.7 94.6 19.6 C98.5 22.6 103.0 25.3 106.5 28.5 C110.0 31.7 112.6 35.4 115.3 38.9 C118.0 42.4 120.2 46.0 122.7 49.2 C125.2 52.4 127.1 55.9 130.1 58.1 C133.1 60.3 136.6 61.6 140.5 62.6 C144.4 63.6 149.6 63.3 153.8 64.0 C158.0 64.7 161.9 65.5 165.6 67.0 C169.3 68.5 172.8 70.4 176.0 72.9 C179.2 75.4 182.2 78.6 184.9 81.8 C187.6 85.0 190.1 88.8 192.3 92.2 C194.5 95.7 196.2 99.0 198.2 102.5 C200.2 106.0 202.8 110.4 204.1 112.9 C205.4 115.4 204.6 115.8 205.9 117.3 C207.2 118.8 209.6 120.3 211.8 121.8 C214.0 123.3 217.0 126.2 219.2 126.2 C221.4 126.2 222.6 122.9 225.1 122.0 C227.6 121.1 231.3 120.4 234.0 120.6 C236.7 120.8 238.9 121.8 241.4 123.2 C243.9 124.6 246.3 126.8 248.8 129.2 C251.3 131.6 253.0 135.1 256.2 137.8 C259.4 140.5 263.7 143.2 268.1 145.2 C272.6 147.2 278.0 147.9 282.9 149.6 C287.8 151.3 292.8 153.1 297.7 155.6 C302.6 158.1 308.1 161.4 312.5 164.4 C316.9 167.4 320.4 170.6 324.3 173.3 C328.2 176.0 331.9 178.2 336.1 180.7 C340.3 183.2 344.7 185.9 349.4 188.1 C354.1 190.3 359.3 192.0 364.2 194.0 C369.1 196.0 373.8 198.0 379.0 200.0 C384.2 202.0 389.8 204.2 395.3 205.9 C400.8 207.6 409.1 209.6 411.9 210.3 M107.9 0.4 C109.1 2.1 112.6 6.8 115.3 10.8 C118.0 14.8 121.5 20.4 124.2 24.1 C126.9 27.8 129.1 31.1 131.6 33.0 C134.1 34.9 136.3 35.7 139.0 35.2 C141.7 34.7 145.2 31.1 147.9 30.0 C150.6 28.9 152.6 28.0 155.3 28.5 C158.0 29.0 161.0 30.8 164.2 33.0 C167.4 35.2 171.1 38.6 174.5 41.8 C177.9 45.0 181.5 48.7 184.9 52.2 C188.3 55.7 191.7 59.1 195.2 62.6 C198.7 66.0 202.9 70.0 205.9 72.9 C208.9 75.9 210.3 78.3 213.3 80.3 C216.3 82.3 219.5 83.8 223.7 84.8 C227.9 85.8 234.1 85.2 238.5 86.2 C242.9 87.2 245.9 89.0 250.3 90.7 C254.7 92.4 260.2 94.4 265.1 96.6 C270.0 98.8 275.0 101.5 279.9 104.0 C284.8 106.5 289.8 109.2 294.7 111.4 C299.6 113.6 304.6 115.3 309.5 117.3 C314.4 119.3 319.4 121.2 324.3 123.2 C329.2 125.2 335.9 128.0 339.1 129.2 C342.3 130.4 340.8 129.5 343.5 130.4 C346.2 131.3 351.7 132.8 355.4 134.8 C359.1 136.8 362.2 139.7 365.7 142.2 C369.1 144.7 371.7 147.1 376.1 149.6 C380.6 152.1 389.7 155.8 392.4 157.0 M168.6 0.4 C170.6 1.6 176.4 5.1 180.4 7.8 C184.4 10.5 188.1 13.5 192.3 16.7 C196.6 19.9 201.2 23.8 205.9 27.0 C210.6 30.2 215.8 32.9 220.7 35.9 C225.6 38.9 231.1 41.8 235.5 44.8 C239.9 47.8 243.6 50.7 247.3 53.7 C251.0 56.7 254.0 60.1 257.7 62.6 C261.4 65.1 265.1 66.8 269.5 68.5 C273.9 70.2 279.6 71.4 284.3 72.9 C289.0 74.4 294.5 76.3 297.7 77.4 C300.9 78.5 302.6 79.2 303.6 79.6 M358.3 101.0 C360.5 102.0 366.9 104.8 371.6 107.0 C376.3 109.2 381.5 111.7 386.4 114.4 C391.3 117.1 396.9 120.7 401.2 123.2 C405.4 125.7 410.1 128.2 411.9 129.2 M216.3 0.4 C218.3 1.6 224.2 5.3 228.1 7.8 C232.0 10.3 235.5 13.2 239.9 15.2 C244.3 17.2 250.0 18.1 254.7 19.6 C259.4 21.1 263.9 22.1 268.1 24.1 C272.3 26.1 275.5 29.0 279.9 31.5 C284.3 34.0 289.8 36.7 294.7 38.9 C299.6 41.1 304.6 42.6 309.5 44.8 C314.4 47.0 319.4 49.7 324.3 52.2 C329.2 54.7 334.2 57.4 339.1 59.6 C344.0 61.8 349.0 63.5 353.9 65.5 C358.8 67.5 363.8 69.4 368.7 71.4 C373.6 73.4 378.6 75.2 383.5 77.4 C388.4 79.6 393.6 82.3 398.3 84.8 C403.0 87.3 409.6 91.0 411.9 92.2 M276.9 0.4 C278.9 1.4 284.4 3.8 288.8 6.3 C293.2 8.8 298.7 12.5 303.6 15.2 C308.5 17.9 313.5 20.6 318.4 22.6 C323.3 24.6 328.3 25.8 333.2 27.0 C338.1 28.2 343.6 28.8 348.0 30.0 C352.4 31.2 355.9 32.7 359.8 34.4 C363.7 36.1 367.7 38.4 371.6 40.4 C375.6 42.4 380.3 44.8 383.5 46.3 C386.7 47.8 389.7 48.7 390.9 49.2 M362.8 4.5 C365.3 5.0 372.2 5.9 377.6 7.8 C383.0 9.7 389.6 13.4 395.3 15.9 C401.0 18.4 409.1 21.5 411.9 22.6" fill="none" stroke="#000" stroke-width="2.5" stroke-linecap="round" stroke-linejoin="round"/>
<path d="M13.3 13.0 L-4.4 7.6 M-4.4 7.6 L-4.4 -0.2 M-2.2 8.2 L-2.2 0.5 M0.0 8.9 L-0.0 1.2 M2.2 9.6 L2.2 1.9 M4.4 10.3 L4.4 6.4 M40.1 11.4 L22.7 5.1 M22.7 5.1 L23.0 -2.6 M24.9 5.9 L25.2 -1.8 M27.0 6.7 L27.4 -1.1 M29.2 7.5 L29.5 -0.3 M66.9 9.8 L50.2 1.8 M50.2 1.8 L51.3 -5.9 M52.3 2.8 L53.4 -4.9 M54.4 3.8 L55.5 -3.9 M56.4 4.8 L57.6 -2.9 M93.7 8.2 L78.3 -2.0 M78.3 -2.0 L80.4 -9.5 M80.2 -0.8 L82.4 -8.2 M82.1 0.5 L84.3 -6.9 M84.0 1.8 L86.2 -5.7 M86.0 3.1 L87.1 -0.6 M120.5 6.6 L105.7 -4.5 M111.2 -0.4 L113.8 -7.7 M113.1 1.0 L114.4 -2.6 M147.3 5.0 L131.5 -4.6 M174.1 3.4 L158.7 -7.0 M200.9 1.8 L186.1 -9.4 M227.7 0.2 L211.6 -9.0 M254.5 -1.5 L238.3 -10.5 M14.8 38.4 L-2.8 32.7 M-2.8 32.7 L-2.7 25.0 M-0.6 33.4 L-0.5 25.7 M1.6 34.1 L1.7 26.4 M3.8 34.9 L3.9 27.1 M6.0 35.6 L6.0 31.7 M41.6 36.8 L24.4 29.9 M24.4 29.9 L25.0 22.2 M26.6 30.8 L27.2 23.0 M28.7 31.6 L29.3 23.9 M30.9 32.5 L31.5 24.8 M33.0 33.4 L33.3 29.5 M68.4 35.2 L51.8 27.0 M51.8 27.0 L53.0 19.3 M53.9 28.0 L55.1 20.4 M56.0 29.1 L57.2 21.4 M58.0 30.1 L59.2 22.4 M60.1 31.1 L60.7 27.3 M95.2 33.6 L79.7 23.4 M79.7 23.4 L81.9 16.0 M81.7 24.7 L83.8 17.3 M83.6 26.0 L85.7 18.5 M85.5 27.2 L87.7 19.8 M87.5 28.5 L88.5 24.8 M122.0 32.0 L106.7 21.6 M112.4 25.5 L114.7 18.1 M148.8 30.4 L132.2 22.2 M175.6 28.8 L160.4 18.3 M202.4 27.2 L187.7 16.0 M193.2 20.2 L194.5 16.5 M229.2 25.6 L213.2 16.3 M219.2 19.8 L220.0 16.0 M256.0 23.9 L239.8 15.0 M282.8 22.3 L266.9 12.9 M309.6 20.7 L293.8 11.1 M336.4 19.1 L320.5 9.7 M363.2 17.5 L347.7 7.3 M390.0 15.9 L375.1 4.9 M416.8 14.3 L401.3 4.3 M401.3 4.3 L403.3 -3.2 M403.2 5.5 L405.3 -2.0 M405.1 6.8 L407.2 -0.7 M407.1 8.0 L409.2 0.5 M409.0 9.3 L410.1 5.5 M16.3 63.8 L-0.9 57.2 M-0.9 57.2 L-0.5 49.5 M1.2 58.0 L1.7 50.3 M3.4 58.8 L3.9 51.1 M43.1 62.2 L26.8 53.6 M26.8 53.6 L28.2 45.9 M28.8 54.6 L30.2 47.0 M30.9 55.7 L32.3 48.1 M32.9 56.8 L33.6 53.0 M69.9 60.6 L53.7 51.7 M53.7 51.7 L55.3 44.1 M55.7 52.8 L57.3 45.2 M57.8 53.9 L59.3 46.3 M59.8 55.0 L61.3 47.4 M96.7 59.0 L80.8 49.6 M80.8 49.6 L82.5 42.1 M82.8 50.8 L84.5 43.2 M84.8 52.0 L86.5 44.4 M86.8 53.1 L88.5 45.6 M88.8 54.3 L89.6 50.5 M123.5 57.4 L107.8 47.7 M113.7 51.3 L115.6 43.8 M150.3 55.8 L134.0 47.0 M177.1 54.2 L162.3 43.1 M203.9 52.6 L189.6 40.8 M195.0 45.2 L197.9 38.0 M230.7 51.0 L214.9 41.3 M220.8 44.9 L222.7 37.4 M257.5 49.3 L241.7 39.8 M247.6 43.4 L249.5 35.8 M284.3 47.7 L268.3 38.5 M274.3 42.0 L276.0 34.4 M311.1 46.1 L295.3 36.6 M301.2 40.1 L302.2 36.4 M337.9 44.5 L322.3 34.7 M364.7 42.9 L349.5 32.4 M349.5 32.4 L351.8 25.0 M351.4 33.7 L353.7 26.3 M353.3 35.0 L355.6 27.6 M355.2 36.3 L357.5 28.9 M357.1 37.6 L358.3 33.9 M391.5 41.3 L376.9 30.0 M376.9 30.0 L379.6 22.7 M378.7 31.4 L381.4 24.1 M380.6 32.8 L383.3 25.5 M382.4 34.2 L385.1 27.0 M384.2 35.6 L385.6 32.0 M418.3 39.7 L402.9 29.4 M402.9 29.4 L405.1 22.0 M404.9 30.7 L407.0 23.3 M406.8 32.0 L409.0 24.6 M408.7 33.3 L410.9 25.8 M410.6 34.6 L411.7 30.8 M17.8 89.2 L2.0 79.7 M2.0 79.7 L3.8 72.1 M4.0 80.9 L5.8 73.3 M6.0 82.1 L6.9 78.3 M44.6 87.6 L30.0 76.4 M30.0 76.4 L32.6 69.1 M31.8 77.8 L34.5 70.5 M33.6 79.2 L35.0 75.5 M71.4 86.0 L55.1 77.3 M55.1 77.3 L56.5 69.7 M57.1 78.4 L58.6 70.8 M59.2 79.5 L60.6 71.9 M61.2 80.6 L61.9 76.8 M98.2 84.4 L82.2 75.2 M82.2 75.2 L83.9 67.6 M84.2 76.4 L85.9 68.8 M86.2 77.5 L87.9 69.9 M88.2 78.7 L89.9 71.1 M125.0 82.8 L109.1 73.4 M151.8 81.2 L136.0 71.6 M178.6 79.6 L164.4 67.8 M205.4 78.0 L191.5 65.8 M196.7 70.3 L199.9 63.3 M198.5 71.9 L200.1 68.3 M232.2 76.4 L216.0 67.5 M222.1 70.8 L223.6 63.2 M259.0 74.7 L242.9 65.8 M248.9 69.1 L250.5 61.5 M285.8 73.1 L269.6 64.3 M275.7 67.6 L276.4 63.8 M312.6 71.5 L296.8 62.0 M302.8 65.5 L303.7 61.8 M339.4 69.9 L324.0 59.7 M366.2 68.3 L351.1 57.6 M393.0 66.7 L378.6 55.1 M419.8 65.1 L404.7 54.4 M19.4 114.6 L4.2 104.0 M4.2 104.0 L6.6 96.6 M6.1 105.3 L8.5 97.9 M46.2 113.0 L32.0 101.1 M32.0 101.1 L35.0 93.9 M33.8 102.6 L36.8 95.4 M73.0 111.4 L56.3 103.3 M56.3 103.3 L57.5 95.7 M58.4 104.3 L59.5 96.7 M99.8 109.8 L83.7 100.6 M83.7 100.6 L85.4 93.0 M85.7 101.7 L87.4 94.2 M87.7 102.9 L88.6 99.1 M126.6 108.2 L111.2 97.9 M111.2 97.9 L113.3 90.5 M113.1 99.2 L115.3 91.8 M115.0 100.5 L117.2 93.1 M153.4 106.6 L138.8 95.2 M138.8 95.2 L141.5 88.0 M140.6 96.6 L143.3 89.4 M142.4 98.1 L145.1 90.8 M180.2 105.0 L167.1 91.8 M167.1 91.8 L170.8 85.0 M168.8 93.5 L172.4 86.6 M170.4 95.1 L174.0 88.3 M172.0 96.8 L173.8 93.3 M207.0 103.4 L193.6 90.6 M233.8 101.8 L217.4 93.1 M223.5 96.4 L224.2 92.6 M260.6 100.1 L244.2 91.4 M250.4 94.7 L251.1 90.9 M287.4 98.5 L271.3 89.4 M277.3 92.8 L278.2 89.0 M314.2 96.9 L298.4 87.3 M341.0 95.3 L325.6 85.1 M367.8 93.7 L352.9 82.7 M394.6 92.1 L380.5 80.1 M421.4 90.5 L406.5 79.5 M20.9 140.0 L7.1 127.7 M7.1 127.7 L10.3 120.6 M47.7 138.4 L35.3 124.7 M35.3 124.7 L39.2 118.0 M36.9 126.4 L38.8 123.1 M74.5 136.8 L58.8 127.0 M58.8 127.0 L60.8 119.5 M60.8 128.2 L62.7 120.7 M101.3 135.2 L85.8 125.1 M85.8 125.1 L87.9 117.6 M87.8 126.3 L89.9 118.9 M128.1 133.6 L113.0 122.9 M113.0 122.9 L115.4 115.5 M114.9 124.2 L117.3 116.8 M116.8 125.6 L118.0 121.9 M154.9 132.0 L140.9 119.9 M140.9 119.9 L144.0 112.8 M142.7 121.4 L145.7 114.3 M144.4 122.9 L145.9 119.3 M181.7 130.4 L170.4 115.7 M170.4 115.7 L174.9 109.4 M171.8 117.5 L176.3 111.2 M208.5 128.8 L195.0 116.1 M195.0 116.1 L198.4 109.1 M196.7 117.7 L200.1 110.7 M198.4 119.2 L201.8 112.3 M235.3 127.2 L218.8 118.7 M218.8 118.7 L220.1 111.1 M220.9 119.8 L222.2 112.1 M222.9 120.8 L224.3 113.2 M262.1 125.5 L245.9 116.6 M245.9 116.6 L247.5 109.0 M248.0 117.7 L249.5 110.1 M250.0 118.8 L251.5 111.2 M252.0 119.9 L253.6 112.3 M288.9 123.9 L272.6 115.2 M272.6 115.2 L274.0 107.6 M274.6 116.3 L276.1 108.7 M276.7 117.4 L278.1 109.8 M278.7 118.5 L280.2 110.9 M280.7 119.6 L281.5 115.8 M315.7 122.3 L299.5 113.3 M342.5 120.7 L326.7 111.1 M326.7 111.1 L328.6 103.6 M328.7 112.3 L330.5 104.8 M330.6 113.5 L332.5 106.0 M332.6 114.7 L334.5 107.2 M334.6 115.9 L335.5 112.1 M369.3 119.1 L354.3 108.3 M354.3 108.3 L356.8 100.9 M356.2 109.6 L358.6 102.3 M358.0 111.0 L360.5 103.6 M359.9 112.3 L362.4 105.0 M361.8 113.7 L363.0 110.0 M396.1 117.5 L381.9 105.7 M422.9 115.9 L407.7 105.4 M22.4 165.4 L10.3 151.4 M10.3 151.4 L14.4 144.8 M49.2 163.8 L38.6 148.6 M38.6 148.6 L43.4 142.5 M76.0 162.2 L61.4 150.8 M61.4 150.8 L64.2 143.6 M63.3 152.2 L64.6 148.6 M102.8 160.6 L88.3 149.2 M88.3 149.2 L91.0 141.9 M129.6 159.0 L115.4 147.2 M115.4 147.2 L118.3 140.0 M117.2 148.6 L120.1 141.5 M156.4 157.4 L143.6 144.1 M143.6 144.1 L147.3 137.3 M183.2 155.8 L173.3 140.2 M173.3 140.2 L178.3 134.2 M174.5 142.1 L179.5 136.2 M210.0 154.2 L199.1 139.2 M199.1 139.2 L203.7 133.0 M200.5 141.1 L205.1 134.9 M201.8 143.0 L204.1 139.8 M236.8 152.6 L223.1 140.2 M223.1 140.2 L226.3 133.1 M224.8 141.7 L228.0 134.7 M263.6 150.9 L246.5 144.0 M246.5 144.0 L247.1 136.3 M248.6 144.9 L249.2 137.2 M250.7 145.8 L251.1 141.9 M290.4 149.3 L273.3 142.3 M273.3 142.3 L274.0 134.6 M275.4 143.2 L276.1 135.5 M277.6 144.1 L277.9 140.2 M317.2 147.7 L300.7 139.4 M300.7 139.4 L301.9 131.8 M302.7 140.5 L304.0 132.8 M304.8 141.5 L306.1 133.9 M344.0 146.1 L327.6 137.7 M327.6 137.7 L328.9 130.0 M329.6 138.7 L330.9 131.1 M331.7 139.8 L333.0 132.2 M333.7 140.8 L334.4 137.0 M370.8 144.5 L354.9 135.2 M354.9 135.2 L356.6 127.6 M356.8 136.3 L358.6 128.8 M358.8 137.5 L360.6 130.0 M360.8 138.7 L362.6 131.1 M397.6 142.9 L381.8 133.2 M424.4 141.3 L407.8 133.2 M-2.9 192.4 L-15.7 179.1 M-15.7 179.1 L-11.9 172.3 M23.9 190.8 L12.3 176.4 M12.3 176.4 L16.6 170.0 M50.7 189.2 L39.9 174.2 M39.9 174.2 L44.5 168.0 M77.5 187.6 L63.1 176.1 M63.1 176.1 L65.8 168.9 M104.3 186.0 L91.1 173.1 M91.1 173.1 L94.6 166.2 M92.7 174.7 L94.5 171.3 M131.1 184.4 L118.1 171.2 M118.1 171.2 L121.8 164.4 M157.9 182.8 L145.8 168.8 M145.8 168.8 L149.9 162.2 M184.7 181.2 L174.0 166.1 M174.0 166.1 L178.7 159.9 M175.4 168.0 L180.0 161.8 M211.5 179.6 L200.3 164.9 M200.3 164.9 L204.7 158.5 M201.7 166.7 L206.1 160.4 M203.1 168.6 L205.3 165.4 M238.3 178.0 L225.0 165.1 M225.0 165.1 L228.5 158.2 M265.1 176.3 L247.9 169.6 M247.9 169.6 L248.5 161.9 M291.9 174.7 L274.7 168.0 M274.7 168.0 L275.3 160.3 M276.9 168.8 L277.4 161.1 M318.7 173.1 L301.7 165.9 M301.7 165.9 L302.5 158.2 M303.8 166.8 L304.6 159.1 M306.0 167.7 L306.4 163.8 M345.5 171.5 L328.4 164.5 M328.4 164.5 L329.1 156.7 M330.6 165.3 L331.3 157.6 M332.7 166.2 L333.4 158.5 M334.9 167.1 L335.2 163.2 M372.3 169.9 L355.1 163.2 M355.1 163.2 L355.7 155.4 M357.3 164.0 L357.8 156.3 M359.4 164.9 L360.0 157.1 M361.6 165.7 L362.1 158.0 M399.1 168.3 L381.9 161.7 M381.9 161.7 L382.4 154.0 M384.0 162.5 L384.5 154.8 M386.2 163.3 L386.7 155.6 M388.3 164.2 L388.8 156.4 M390.5 165.0 L390.7 161.1 M425.9 166.7 L408.2 161.6 M-1.3 217.8 L-13.9 204.3 M-13.9 204.3 L-10.1 197.5 M25.5 216.2 L14.0 201.7 M14.0 201.7 L18.4 195.3 M52.3 214.6 L41.7 199.4 M41.7 199.4 L46.5 193.3 M79.1 213.0 L66.0 199.9 M66.0 199.9 L69.6 193.0 M105.9 211.4 L95.1 196.3 M95.1 196.3 L99.8 190.1 M132.7 209.8 L121.2 195.3 M121.2 195.3 L125.5 188.9 M159.5 208.2 L149.5 192.6 M149.5 192.6 L154.5 186.7 M150.8 194.5 L153.3 191.6 M186.3 206.6 L176.3 191.0 M176.3 191.0 L181.4 185.0 M177.6 192.9 L182.6 187.0 M213.1 205.0 L200.7 191.2 M200.7 191.2 L204.7 184.5 M202.3 192.9 L206.2 186.2 M203.8 194.6 L205.8 191.3 M239.9 203.4 L225.9 191.2 M225.9 191.2 L229.1 184.1 M227.7 192.7 L230.8 185.6 M229.4 194.2 L231.0 190.7 M266.7 201.7 L249.6 194.7 M249.6 194.7 L250.3 186.9 M251.7 195.5 L252.4 187.8 M293.5 200.1 L276.6 192.5 M276.6 192.5 L277.5 184.9 M278.7 193.5 L279.6 185.8 M320.3 198.5 L303.2 191.3 M303.2 191.3 L304.0 183.6 M305.4 192.2 L306.1 184.5 M307.5 193.1 L307.9 189.3 M347.1 196.9 L329.8 190.3 M329.8 190.3 L330.3 182.5 M332.0 191.1 L332.5 183.4 M334.1 191.9 L334.6 184.2 M373.9 195.3 L356.3 189.5 M356.3 189.5 L356.5 181.7 M358.5 190.2 L358.7 182.4 M360.7 190.9 L360.9 183.2 M362.9 191.7 L363.0 187.8 M400.7 193.7 L382.9 188.4 M382.9 188.4 L382.8 180.7 M385.1 189.1 L385.0 181.4 M387.4 189.8 L387.2 182.0 M389.6 190.4 L389.5 186.5 M427.5 192.1 L409.4 188.3 M409.4 188.3 L408.6 180.6 M411.6 188.8 L410.9 181.0 M413.9 189.2 L413.2 181.5 M416.2 189.7 L415.8 185.9 M0.2 243.2 L-12.3 229.6 M-12.3 229.6 L-8.4 222.9 M27.0 241.6 L15.3 227.3 M15.3 227.3 L19.5 220.8 M53.8 240.0 L43.6 224.6 M43.6 224.6 L48.5 218.6 M80.6 238.4 L67.9 224.9 M67.9 224.9 L71.8 218.2 M107.4 236.8 L96.2 222.1 M96.2 222.1 L100.7 215.7 M97.6 223.9 L99.9 220.7 M134.2 235.2 L122.7 220.7 M122.7 220.7 L127.1 214.3 M124.2 222.5 L128.5 216.1 M125.6 224.3 L127.8 221.1 M161.0 233.6 L150.5 218.3 M150.5 218.3 L155.3 212.2 M151.8 220.2 L156.6 214.1 M153.2 222.1 L158.0 216.0 M187.8 232.0 L177.3 216.8 M177.3 216.8 L182.0 210.6 M178.6 218.7 L183.4 212.5 M179.9 220.6 L182.3 217.5 M214.6 230.4 L201.9 216.9 M201.9 216.9 L205.8 210.1 M203.5 218.6 L207.3 211.8 M241.4 228.8 L227.0 217.2 M227.0 217.2 L229.8 209.9 M228.8 218.6 L231.6 211.4 M268.2 227.1 L251.3 219.7 M251.3 219.7 L252.1 212.0 M253.4 220.6 L254.3 212.9 M295.0 225.5 L278.6 217.0 M278.6 217.0 L279.9 209.4 M280.6 218.1 L282.0 210.5 M321.8 223.9 L305.0 216.2 M305.0 216.2 L306.0 208.5 M307.1 217.2 L308.1 209.5 M309.2 218.1 L309.7 214.3 M348.6 222.3 L331.5 215.3 M331.5 215.3 L332.2 207.5 M333.6 216.1 L334.3 208.4 M335.8 217.0 L336.1 213.2 M375.4 220.7 L358.1 214.0 M358.1 214.0 L358.6 206.3 M360.3 214.9 L360.8 207.1 M362.5 215.7 L362.7 211.8 M402.2 219.1 L384.7 213.0 M384.7 213.0 L385.0 205.3 M386.9 213.8 L387.2 206.0 M389.1 214.5 L389.2 210.7 M1.7 268.6 L-10.8 255.0 M-10.8 255.0 L-6.9 248.3 M28.5 267.0 L16.7 252.7 M16.7 252.7 L21.0 246.3 M55.3 265.4 L44.9 250.1 M44.9 250.1 L49.7 244.0 M82.1 263.8 L68.8 251.0 M68.8 251.0 L72.2 244.0 M108.9 262.2 L96.2 248.8 M96.2 248.8 L100.0 242.0 M97.8 250.4 L101.6 243.7 M135.7 260.6 L123.5 246.7 M123.5 246.7 L127.5 240.1 M125.0 248.4 L129.0 241.8 M162.5 259.0 L150.9 244.6 M150.9 244.6 L155.2 238.1 M152.3 246.4 L156.6 239.9 M153.8 248.2 L158.1 241.7 M189.3 257.4 L177.7 243.0 M177.7 243.0 L181.9 236.5 M179.1 244.8 L183.4 238.3 M180.6 246.6 L182.7 243.4 M216.1 255.8 L204.1 241.7 M204.1 241.7 L208.2 235.1 M205.6 243.5 L209.7 236.9 M242.9 254.2 L229.4 241.5 M229.4 241.5 L232.8 234.5 M231.1 243.1 L234.5 236.1 M269.7 252.5 L254.2 242.5 M254.2 242.5 L256.3 235.0 M256.1 243.7 L258.2 236.3 M258.1 245.0 L260.2 237.5 M296.5 250.9 L280.8 241.2 M280.8 241.2 L282.7 233.7 M282.7 242.4 L284.7 234.9 M284.7 243.7 L286.6 236.1 M323.3 249.3 L306.9 240.8 M306.9 240.8 L308.2 233.2 M308.9 241.9 L310.3 234.2 M311.0 242.9 L312.4 235.3 M350.1 247.7 L333.3 240.1 M333.3 240.1 L334.2 232.4 M335.4 241.0 L336.3 233.3 M337.5 242.0 L338.0 238.1 M376.9 246.1 L359.7 239.3 M359.7 239.3 L360.3 231.5 M361.9 240.1 L362.5 232.4 M403.7 244.5 L386.6 237.5 M386.6 237.5 L387.2 229.8 M388.7 238.4 L389.4 230.7 M405.2 269.9 L388.5 262.0 M388.5 262.0 L389.5 254.4 M390.6 263.0 L391.6 255.3" fill="none" stroke="#000" stroke-width="1.3"/>
<path d="M105.7 -4.5 L112.0 -9.1 L109.4 -1.8 Z M131.5 -4.6 L137.3 -9.8 L135.4 -2.2 Z M158.7 -7.0 L164.8 -11.8 L162.6 -4.4 Z M186.1 -9.4 L192.4 -13.9 L189.8 -6.6 Z M211.6 -9.0 L217.3 -14.3 L215.6 -6.7 Z M238.3 -10.5 L244.0 -15.8 L242.4 -8.2 Z M106.7 21.6 L112.8 16.8 L110.5 24.2 Z M132.2 22.2 L137.6 16.6 L136.4 24.2 Z M160.4 18.3 L166.5 13.5 L164.2 20.9 Z M187.7 16.0 L194.0 11.5 L191.3 18.8 Z M213.2 16.3 L218.9 11.1 L217.2 18.6 Z M239.8 15.0 L245.4 9.6 L243.9 17.2 Z M266.9 12.9 L272.7 7.7 L270.9 15.2 Z M293.8 11.1 L299.7 6.0 L297.8 13.5 Z M320.5 9.7 L326.3 4.5 L324.5 12.0 Z M347.7 7.3 L353.7 2.4 L351.6 9.9 Z M375.1 4.9 L381.4 0.3 L378.9 7.6 Z M107.8 47.7 L113.6 42.6 L111.7 50.1 Z M134.0 47.0 L139.6 41.6 L138.1 49.2 Z M162.3 43.1 L168.6 38.6 L166.0 45.9 Z M189.6 40.8 L196.1 36.6 L193.2 43.8 Z M214.9 41.3 L220.7 36.2 L218.9 43.7 Z M241.7 39.8 L247.5 34.6 L245.7 42.2 Z M268.3 38.5 L274.0 33.2 L272.3 40.8 Z M295.3 36.6 L301.1 31.4 L299.2 39.0 Z M322.3 34.7 L328.2 29.6 L326.2 37.1 Z M109.1 73.4 L114.8 68.2 L113.1 75.8 Z M136.0 71.6 L141.9 66.4 L140.0 74.0 Z M164.4 67.8 L170.9 63.5 L168.0 70.7 Z M191.5 65.8 L198.1 61.7 L195.0 68.8 Z M216.0 67.5 L221.6 62.1 L220.1 69.7 Z M242.9 65.8 L248.5 60.4 L246.9 68.0 Z M269.6 64.3 L275.1 58.9 L273.6 66.5 Z M296.8 62.0 L302.6 56.8 L300.8 64.4 Z M324.0 59.7 L330.0 54.8 L327.9 62.3 Z M351.1 57.6 L357.3 52.9 L354.9 60.3 Z M378.6 55.1 L385.1 50.8 L382.2 58.0 Z M404.7 54.4 L410.9 49.7 L408.5 57.1 Z M193.6 90.6 L200.4 86.8 L196.9 93.8 Z M217.4 93.1 L222.9 87.7 L221.5 95.3 Z M244.2 91.4 L249.8 86.0 L248.3 93.6 Z M271.3 89.4 L277.0 84.1 L275.3 91.7 Z M298.4 87.3 L304.2 82.2 L302.3 89.7 Z M325.6 85.1 L331.6 80.2 L329.4 87.6 Z M352.9 82.7 L359.2 78.1 L356.6 85.4 Z M380.5 80.1 L387.1 76.0 L384.0 83.1 Z M406.5 79.5 L412.8 74.9 L410.2 82.2 Z M299.5 113.3 L305.2 108.0 L303.6 115.6 Z M381.9 105.7 L388.4 101.5 L385.4 108.6 Z M407.7 105.4 L413.8 100.6 L411.5 108.0 Z M381.8 133.2 L387.7 128.1 L385.8 135.7 Z M407.8 133.2 L413.1 127.5 L411.9 135.2 Z M408.2 161.6 L412.4 155.1 L412.6 162.9 Z" fill="#000" stroke="#000" stroke-width="1.3" stroke-linejoin="miter"/>
<text x="330.2" y="92.2" transform="rotate(18.0 330.2 92.2)" class="cl" dy="4.9" textLength="34.8" lengthAdjust="spacingAndGlyphs">3000</text>
<text x="128.7" y="247.3" transform="rotate(62.0 128.7 247.3)" class="cl" dy="4.9" textLength="34.8" lengthAdjust="spacingAndGlyphs">3150</text>
<text x="345.0" y="0.0" transform="rotate(15.0 345.0 0.0)" class="cl" dy="4.9" textLength="34.8" lengthAdjust="spacingAndGlyphs">2910</text>
<text x="418.0" y="52.0" transform="rotate(15.0 418.0 52.0)" class="cl" dy="4.9" textLength="34.8" lengthAdjust="spacingAndGlyphs">2940</text>
<text x="418.0" y="163.0" transform="rotate(20.0 418.0 163.0)" class="cl" dy="4.9" textLength="34.8" lengthAdjust="spacingAndGlyphs">3030</text>
<path d="M212.5 111.4 h5.4 M215.2 108.7 v5.4" stroke="#2a0a0a" stroke-width="1.7" fill="none"/>
</g>
<rect x="0" y="0" width="412.2" height="258.5" fill="none" stroke="#000" stroke-width="1.07"/>
</g>
</g></svg>
<svg class="pan" style="left:8.3px;top:656.2px" width="414.2" height="260.5" viewBox="0 0 414.2 260.5">
<g transform="translate(1,1)">
<use href="#pc5"/>
</g></svg>
<svg class="pan" style="left:489.1px;top:656.2px" width="414.2" height="260.5" viewBox="0 0 414.2 260.5">
<g transform="translate(1,1)">
<g id="pc7">
<clipPath id="cp7"><rect x="0" y="0" width="412.2" height="258.5"/></clipPath>
<g clip-path="url(#cp7)">
<g filter="url(#fld)">
<path fill="rgb(20,20,20)" d="M245.4 159.1H255.5V169.3H245.4Z"/>
<path fill="rgb(24,24,24)" d="M-30.0 129.2H10.1V139.5H-30.0ZM-30.0 139.2H19.9V149.4H-30.0ZM-30.0 149.1H29.7V159.4H-30.0ZM-30.0 159.1H39.6V169.3H-30.0ZM235.5 159.1H245.7V169.3H235.5ZM255.2 159.1H265.3V169.3H255.2ZM-30.0 169.0H49.4V179.3H-30.0ZM147.2 169.0H167.1V179.3H147.2ZM235.5 169.0H255.5V179.3H235.5ZM-30.0 179.0H59.2V189.2H-30.0ZM137.4 179.0H167.1V189.2H137.4ZM-30.0 188.9H88.6V199.1H-30.0ZM127.6 188.9H167.1V199.1H127.6ZM-30.0 198.8H88.6V209.1H-30.0ZM127.6 198.8H167.1V209.1H127.6ZM-30.0 208.8H88.6V219.0H-30.0ZM-30.0 218.7H88.6V229.0H-30.0ZM-30.0 228.7H88.6V238.9H-30.0ZM-30.0 238.6H88.6V248.9H-30.0ZM-30.0 248.6H88.6V288.8H-30.0Z"/>
<path fill="rgb(28,28,28)" d="M9.8 129.2H19.9V139.5H9.8ZM19.6 139.2H29.7V149.4H19.6ZM147.2 159.1H167.1V169.3H147.2ZM265.0 159.1H284.9V169.3H265.0ZM49.1 169.0H59.2V179.3H49.1ZM137.4 169.0H147.5V179.3H137.4ZM166.8 169.0H177.0V179.3H166.8ZM255.2 169.0H265.3V179.3H255.2ZM58.9 179.0H88.6V189.2H58.9ZM127.6 179.0H137.7V189.2H127.6ZM166.8 179.0H177.0V189.2H166.8ZM88.3 188.9H98.4V199.1H88.3ZM117.8 188.9H127.9V199.1H117.8ZM166.8 188.9H177.0V199.1H166.8ZM88.3 198.8H98.4V209.1H88.3ZM117.8 198.8H127.9V209.1H117.8ZM166.8 198.8H177.0V209.1H166.8ZM88.3 208.8H98.4V219.0H88.3ZM88.3 218.7H98.4V229.0H88.3ZM88.3 228.7H98.4V238.9H88.3ZM88.3 238.6H98.4V248.9H88.3ZM88.3 248.6H98.4V288.8H88.3Z"/>
<path fill="rgb(32,32,32)" d="M-30.0 119.3H10.1V129.6H-30.0ZM19.6 129.2H29.7V139.5H19.6ZM29.4 139.2H39.6V149.4H29.4ZM29.4 149.1H39.6V159.4H29.4ZM235.5 149.1H255.5V159.4H235.5ZM39.3 159.1H59.2V169.3H39.3ZM137.4 159.1H147.5V169.3H137.4ZM166.8 159.1H177.0V169.3H166.8ZM225.7 159.1H235.8V169.3H225.7ZM58.9 169.0H69.0V179.3H58.9ZM127.6 169.0H137.7V179.3H127.6ZM265.0 169.0H284.9V179.3H265.0ZM88.3 179.0H98.4V189.2H88.3ZM117.8 179.0H127.9V189.2H117.8Z"/>
<path fill="rgb(36,36,36)" d="M9.8 119.3H19.9V129.6H9.8ZM147.2 149.1H177.0V159.4H147.2ZM255.2 149.1H284.9V159.4H255.2ZM176.7 159.1H186.8V169.3H176.7ZM68.7 169.0H88.6V179.3H68.7ZM176.7 169.0H186.8V179.3H176.7ZM176.7 179.0H186.8V189.2H176.7ZM98.1 188.9H118.1V199.1H98.1ZM176.7 188.9H186.8V199.1H176.7ZM98.1 198.8H118.1V209.1H98.1ZM176.7 198.8H186.8V209.1H176.7ZM98.1 208.8H108.3V219.0H98.1ZM117.8 208.8H177.0V219.0H117.8ZM98.1 218.7H108.3V229.0H98.1ZM98.1 228.7H108.3V238.9H98.1ZM98.1 238.6H108.3V248.9H98.1ZM98.1 248.6H108.3V288.8H98.1Z"/>
<path fill="rgb(40,40,40)" d="M19.6 119.3H29.7V129.6H19.6ZM29.4 129.2H49.4V139.5H29.4ZM39.3 149.1H49.4V159.4H39.3ZM58.9 149.1H98.4V159.4H58.9ZM137.4 149.1H147.5V159.4H137.4ZM176.7 149.1H186.8V159.4H176.7ZM225.7 149.1H235.8V159.4H225.7ZM58.9 159.1H88.6V169.3H58.9ZM127.6 159.1H137.7V169.3H127.6ZM284.6 159.1H294.7V169.3H284.6ZM88.3 169.0H98.4V179.3H88.3ZM117.8 169.0H127.9V179.3H117.8ZM225.7 169.0H235.8V179.3H225.7ZM284.6 169.0H294.7V179.3H284.6ZM98.1 179.0H118.1V189.2H98.1ZM108.0 208.8H118.1V219.0H108.0ZM176.7 208.8H186.8V219.0H176.7ZM186.5 218.7H196.6V229.0H186.5ZM196.3 228.7H226.0V238.9H196.3ZM108.0 238.6H118.1V248.9H108.0ZM206.1 238.6H226.0V248.9H206.1ZM108.0 248.6H127.9V288.8H108.0ZM206.1 248.6H226.0V288.8H206.1ZM382.8 248.6H442.5V288.8H382.8Z"/>
<path fill="rgb(44,44,44)" d="M29.4 119.3H39.6V129.6H29.4ZM78.5 139.2H108.3V149.4H78.5ZM157.0 139.2H177.0V149.4H157.0ZM98.1 149.1H108.3V159.4H98.1ZM186.5 149.1H196.6V159.4H186.5ZM215.9 149.1H226.0V159.4H215.9ZM88.3 159.1H98.4V169.3H88.3ZM186.5 159.1H196.6V169.3H186.5ZM215.9 159.1H226.0V169.3H215.9ZM186.5 169.0H196.6V179.3H186.5ZM186.5 179.0H196.6V189.2H186.5ZM245.4 179.0H255.5V189.2H245.4ZM186.5 188.9H196.6V199.1H186.5ZM108.0 218.7H118.1V229.0H108.0ZM176.7 218.7H186.8V229.0H176.7ZM215.9 218.7H226.0V229.0H215.9ZM225.7 228.7H235.8V238.9H225.7ZM225.7 238.6H235.8V248.9H225.7ZM382.8 238.6H442.5V248.9H382.8ZM225.7 248.6H235.8V288.8H225.7ZM372.9 248.6H383.1V288.8H372.9Z"/>
<path fill="rgb(48,48,48)" d="M-30.0 109.4H19.9V119.6H-30.0ZM39.3 119.3H49.4V129.6H39.3ZM49.1 129.2H59.2V139.5H49.1ZM39.3 139.2H49.4V149.4H39.3ZM58.9 139.2H78.8V149.4H58.9ZM108.0 139.2H118.1V149.4H108.0ZM147.2 139.2H157.3V149.4H147.2ZM176.7 139.2H186.8V149.4H176.7ZM49.1 149.1H59.2V159.4H49.1ZM108.0 149.1H137.7V159.4H108.0ZM284.6 149.1H294.7V159.4H284.6ZM98.1 159.1H127.9V169.3H98.1ZM98.1 169.0H118.1V179.3H98.1ZM215.9 169.0H226.0V179.3H215.9ZM294.4 169.0H304.5V179.3H294.4ZM225.7 179.0H245.7V189.2H225.7ZM255.2 179.0H294.7V189.2H255.2ZM186.5 198.8H196.6V209.1H186.5ZM186.5 208.8H196.6V219.0H186.5ZM196.3 218.7H216.2V229.0H196.3ZM225.7 218.7H235.8V229.0H225.7ZM108.0 228.7H118.1V238.9H108.0ZM186.5 228.7H196.6V238.9H186.5ZM117.8 238.6H127.9V248.9H117.8ZM196.3 238.6H206.4V248.9H196.3ZM372.9 238.6H383.1V248.9H372.9ZM127.6 248.6H137.7V288.8H127.6ZM196.3 248.6H206.4V288.8H196.3Z"/>
<path fill="rgb(52,52,52)" d="M19.6 109.4H29.7V119.6H19.6ZM88.3 129.2H108.3V139.5H88.3ZM49.1 139.2H59.2V149.4H49.1ZM137.4 139.2H147.5V149.4H137.4ZM186.5 139.2H196.6V149.4H186.5ZM225.7 139.2H235.8V149.4H225.7ZM196.3 149.1H216.2V159.4H196.3ZM196.3 159.1H216.2V169.3H196.3ZM196.3 169.0H216.2V179.3H196.3ZM196.3 179.0H206.4V189.2H196.3ZM215.9 179.0H226.0V189.2H215.9ZM225.7 208.8H235.8V219.0H225.7ZM235.5 218.7H245.7V229.0H235.5ZM235.5 228.7H245.7V238.9H235.5ZM382.8 228.7H442.5V238.9H382.8ZM235.5 238.6H245.7V248.9H235.5ZM235.5 248.6H245.7V288.8H235.5ZM363.1 248.6H373.2V288.8H363.1Z"/>
<path fill="rgb(56,56,56)" d="M-30.0 89.5H10.1V99.7H-30.0ZM-30.0 99.4H19.9V109.7H-30.0ZM29.4 109.4H39.6V119.6H29.4ZM49.1 119.3H59.2V129.6H49.1ZM98.1 119.3H108.3V129.6H98.1ZM78.5 129.2H88.6V139.5H78.5ZM108.0 129.2H118.1V139.5H108.0ZM157.0 129.2H177.0V139.5H157.0ZM117.8 139.2H137.7V149.4H117.8ZM215.9 139.2H226.0V149.4H215.9ZM235.5 139.2H255.5V149.4H235.5ZM294.4 159.1H304.5V169.3H294.4ZM206.1 179.0H216.2V189.2H206.1ZM294.4 179.0H304.5V189.2H294.4ZM196.3 188.9H206.4V199.1H196.3ZM215.9 188.9H255.5V199.1H215.9ZM274.8 188.9H294.7V199.1H274.8ZM225.7 198.8H245.7V209.1H225.7ZM196.3 208.8H206.4V219.0H196.3ZM215.9 208.8H226.0V219.0H215.9ZM235.5 208.8H245.7V219.0H235.5ZM117.8 218.7H127.9V229.0H117.8ZM166.8 218.7H177.0V229.0H166.8ZM245.4 218.7H255.5V229.0H245.4ZM117.8 228.7H127.9V238.9H117.8ZM176.7 228.7H186.8V238.9H176.7ZM245.4 228.7H255.5V238.9H245.4ZM372.9 228.7H383.1V238.9H372.9ZM127.6 238.6H137.7V248.9H127.6ZM186.5 238.6H196.6V248.9H186.5ZM363.1 238.6H373.2V248.9H363.1Z"/>
<path fill="rgb(60,60,60)" d="M9.8 89.5H19.9V99.7H9.8ZM19.6 99.4H29.7V109.7H19.6ZM39.3 109.4H49.4V119.6H39.3ZM98.1 109.4H108.3V119.6H98.1ZM88.3 119.3H98.4V129.6H88.3ZM108.0 119.3H118.1V129.6H108.0ZM58.9 129.2H78.8V139.5H58.9ZM147.2 129.2H157.3V139.5H147.2ZM176.7 129.2H186.8V139.5H176.7ZM304.2 169.0H314.4V179.3H304.2ZM304.2 179.0H314.4V189.2H304.2ZM206.1 188.9H216.2V199.1H206.1ZM255.2 188.9H275.1V199.1H255.2ZM294.4 188.9H304.5V199.1H294.4ZM196.3 198.8H206.4V209.1H196.3ZM215.9 198.8H226.0V209.1H215.9ZM245.4 198.8H255.5V209.1H245.4ZM274.8 198.8H294.7V209.1H274.8ZM206.1 208.8H216.2V219.0H206.1ZM245.4 208.8H255.5V219.0H245.4ZM127.6 218.7H167.1V229.0H127.6ZM255.2 218.7H265.3V229.0H255.2ZM382.8 218.7H442.5V229.0H382.8ZM255.2 228.7H265.3V238.9H255.2ZM245.4 238.6H255.5V248.9H245.4ZM245.4 248.6H255.5V288.8H245.4ZM314.1 248.6H334.0V288.8H314.1ZM353.3 248.6H363.4V288.8H353.3Z"/>
<path fill="rgb(64,64,64)" d="M-30.0 79.5H19.9V89.8H-30.0ZM19.6 89.5H29.7V99.7H19.6ZM29.4 99.4H39.6V109.7H29.4ZM49.1 109.4H59.2V119.6H49.1ZM88.3 109.4H98.4V119.6H88.3ZM108.0 109.4H118.1V119.6H108.0ZM58.9 119.3H69.0V129.6H58.9ZM78.5 119.3H88.6V129.6H78.5ZM117.8 129.2H127.9V139.5H117.8ZM137.4 129.2H147.5V139.5H137.4ZM196.3 139.2H216.2V149.4H196.3ZM255.2 139.2H284.9V149.4H255.2ZM304.2 188.9H324.2V199.1H304.2ZM206.1 198.8H216.2V209.1H206.1ZM255.2 198.8H275.1V209.1H255.2ZM294.4 198.8H334.0V209.1H294.4ZM255.2 208.8H343.8V219.0H255.2ZM265.0 218.7H353.6V229.0H265.0ZM372.9 218.7H383.1V229.0H372.9ZM127.6 228.7H137.7V238.9H127.6ZM166.8 228.7H177.0V238.9H166.8ZM265.0 228.7H275.1V238.9H265.0ZM294.4 228.7H373.2V238.9H294.4ZM137.4 238.6H147.5V248.9H137.4ZM176.7 238.6H186.8V248.9H176.7ZM255.2 238.6H265.3V248.9H255.2ZM304.2 238.6H363.4V248.9H304.2ZM137.4 248.6H147.5V288.8H137.4ZM186.5 248.6H196.6V288.8H186.5Z"/>
<path fill="rgb(68,68,68)" d="M29.4 89.5H39.6V99.7H29.4ZM39.3 99.4H49.4V109.7H39.3ZM78.5 109.4H88.6V119.6H78.5ZM68.7 119.3H78.8V129.6H68.7ZM157.0 119.3H177.0V129.6H157.0ZM127.6 129.2H137.7V139.5H127.6ZM314.1 169.0H324.2V179.3H314.1ZM314.1 179.0H324.2V189.2H314.1ZM323.9 188.9H334.0V199.1H323.9ZM333.7 198.8H343.8V209.1H333.7ZM343.5 208.8H353.6V219.0H343.5ZM372.9 208.8H442.5V219.0H372.9ZM353.3 218.7H373.2V229.0H353.3ZM274.8 228.7H294.7V238.9H274.8ZM265.0 238.6H275.1V248.9H265.0ZM294.4 238.6H304.5V248.9H294.4ZM255.2 248.6H265.3V288.8H255.2ZM304.2 248.6H314.4V288.8H304.2ZM333.7 248.6H353.6V288.8H333.7Z"/>
<path fill="rgb(72,72,72)" d="M19.6 69.6H29.7V79.8H19.6ZM19.6 79.5H39.6V89.8H19.6ZM39.3 89.5H49.4V99.7H39.3ZM49.1 99.4H59.2V109.7H49.1ZM98.1 99.4H108.3V109.7H98.1ZM58.9 109.4H78.8V119.6H58.9ZM117.8 119.3H127.9V129.6H117.8ZM147.2 119.3H157.3V129.6H147.2ZM186.5 129.2H196.6V139.5H186.5ZM304.2 159.1H314.4V169.3H304.2ZM323.9 179.0H334.0V189.2H323.9ZM333.7 188.9H343.8V199.1H333.7ZM343.5 198.8H353.6V209.1H343.5ZM353.3 208.8H373.2V219.0H353.3ZM137.4 228.7H167.1V238.9H137.4ZM147.2 238.6H177.0V248.9H147.2ZM274.8 238.6H294.7V248.9H274.8ZM147.2 248.6H186.8V288.8H147.2ZM265.0 248.6H304.5V288.8H265.0Z"/>
<path fill="rgb(76,76,76)" d="M49.1 89.5H59.2V99.7H49.1ZM58.9 99.4H78.8V109.7H58.9ZM117.8 109.4H127.9V119.6H117.8ZM127.6 119.3H147.5V129.6H127.6ZM284.6 139.2H294.7V149.4H284.6ZM323.9 169.0H334.0V179.3H323.9ZM333.7 179.0H343.8V189.2H333.7ZM343.5 188.9H353.6V199.1H343.5ZM353.3 198.8H392.9V209.1H353.3Z"/>
<path fill="rgb(80,80,80)" d="M-30.0 69.6H19.9V79.8H-30.0ZM29.4 69.6H39.6V79.8H29.4ZM39.3 79.5H59.2V89.8H39.3ZM58.9 89.5H69.0V99.7H58.9ZM78.5 99.4H98.4V109.7H78.5ZM108.0 99.4H118.1V109.7H108.0ZM157.0 109.4H167.1V119.6H157.0ZM176.7 119.3H186.8V129.6H176.7ZM215.9 129.2H235.8V139.5H215.9ZM294.4 149.1H304.5V159.4H294.4ZM314.1 159.1H324.2V169.3H314.1ZM333.7 169.0H343.8V179.3H333.7ZM343.5 179.0H353.6V189.2H343.5ZM353.3 188.9H363.4V199.1H353.3ZM392.6 198.8H442.5V209.1H392.6Z"/>
<path fill="rgb(84,84,84)" d="M127.6 109.4H157.3V119.6H127.6ZM196.3 129.2H206.4V139.5H196.3ZM235.5 129.2H245.7V139.5H235.5ZM323.9 159.1H334.0V169.3H323.9ZM343.5 169.0H353.6V179.3H343.5ZM353.3 179.0H363.4V189.2H353.3ZM363.1 188.9H383.1V199.1H363.1Z"/>
<path fill="rgb(88,88,88)" d="M9.8 59.7H39.6V69.9H9.8ZM39.3 69.6H49.4V79.8H39.3ZM58.9 69.6H69.0V79.8H58.9ZM58.9 79.5H69.0V89.8H58.9ZM68.7 89.5H78.8V99.7H68.7ZM166.8 109.4H177.0V119.6H166.8ZM206.1 129.2H216.2V139.5H206.1ZM333.7 159.1H353.6V169.3H333.7ZM353.3 169.0H363.4V179.3H353.3ZM363.1 179.0H373.2V189.2H363.1ZM382.8 188.9H392.9V199.1H382.8Z"/>
<path fill="rgb(92,92,92)" d="M-30.0 59.7H10.1V69.9H-30.0ZM78.5 89.5H88.6V99.7H78.5ZM117.8 99.4H127.9V109.7H117.8ZM186.5 119.3H196.6V129.6H186.5ZM333.7 149.1H353.6V159.4H333.7ZM353.3 159.1H363.4V169.3H353.3ZM392.6 188.9H402.7V199.1H392.6Z"/>
<path fill="rgb(96,96,96)" d="M49.1 69.6H59.2V79.8H49.1ZM68.7 69.6H78.8V79.8H68.7ZM68.7 79.5H78.8V89.8H68.7ZM88.3 89.5H98.4V99.7H88.3ZM245.4 129.2H255.5V139.5H245.4ZM304.2 149.1H314.4V159.4H304.2ZM353.3 149.1H363.4V159.4H353.3ZM363.1 169.0H373.2V179.3H363.1ZM372.9 179.0H383.1V189.2H372.9ZM402.4 188.9H442.5V199.1H402.4Z"/>
<path fill="rgb(100,100,100)" d="M-30.0 49.7H10.1V60.0H-30.0ZM58.9 59.7H69.0V69.9H58.9ZM176.7 109.4H186.8V119.6H176.7ZM363.1 159.1H373.2V169.3H363.1ZM382.8 179.0H392.9V189.2H382.8Z"/>
<path fill="rgb(104,104,104)" d="M49.1 -30.0H69.0V10.2H49.1ZM9.8 49.7H29.7V60.0H9.8ZM39.3 59.7H59.2V69.9H39.3ZM68.7 59.7H78.8V69.9H68.7ZM78.5 79.5H88.6V89.8H78.5ZM98.1 89.5H108.3V99.7H98.1ZM127.6 99.4H167.1V109.7H127.6ZM255.2 129.2H265.3V139.5H255.2ZM294.4 139.2H304.5V149.4H294.4ZM333.7 139.2H353.6V149.4H333.7ZM314.1 149.1H334.0V159.4H314.1ZM363.1 149.1H373.2V159.4H363.1ZM372.9 169.0H383.1V179.3H372.9ZM392.6 179.0H402.7V189.2H392.6Z"/>
<path fill="rgb(108,108,108)" d="M68.7 -30.0H78.8V10.2H68.7ZM58.9 9.9H69.0V20.2H58.9ZM108.0 89.5H118.1V99.7H108.0ZM166.8 99.4H177.0V109.7H166.8ZM353.3 139.2H363.4V149.4H353.3ZM402.4 179.0H442.5V189.2H402.4Z"/>
<path fill="rgb(112,112,112)" d="M39.3 -30.0H49.4V10.2H39.3ZM49.1 9.9H59.2V20.2H49.1ZM68.7 9.9H78.8V20.2H68.7ZM-30.0 39.8H10.1V50.0H-30.0ZM29.4 49.7H49.4V60.0H29.4ZM58.9 49.7H69.0V60.0H58.9ZM196.3 119.3H206.4V129.6H196.3ZM215.9 119.3H235.8V129.6H215.9ZM265.0 129.2H284.9V139.5H265.0ZM372.9 159.1H383.1V169.3H372.9ZM382.8 169.0H392.9V179.3H382.8Z"/>
<path fill="rgb(116,116,116)" d="M78.5 -30.0H88.6V10.2H78.5ZM9.8 39.8H19.9V50.0H9.8ZM49.1 49.7H59.2V60.0H49.1ZM88.3 79.5H98.4V89.8H88.3ZM206.1 119.3H216.2V129.6H206.1ZM235.5 119.3H245.7V129.6H235.5ZM363.1 139.2H373.2V149.4H363.1ZM372.9 149.1H383.1V159.4H372.9ZM392.6 169.0H442.5V179.3H392.6Z"/>
<path fill="rgb(120,120,120)" d="M-30.0 -30.0H10.1V10.2H-30.0ZM39.3 9.9H49.4V20.2H39.3ZM78.5 9.9H88.6V20.2H78.5ZM58.9 19.9H78.8V30.1H58.9ZM19.6 39.8H29.7V50.0H19.6ZM58.9 39.8H69.0V50.0H58.9ZM68.7 49.7H78.8V60.0H68.7ZM78.5 69.6H88.6V79.8H78.5ZM98.1 79.5H108.3V89.8H98.1ZM117.8 89.5H127.9V99.7H117.8ZM176.7 99.4H186.8V109.7H176.7ZM186.5 109.4H196.6V119.6H186.5ZM284.6 129.2H294.7V139.5H284.6ZM304.2 139.2H334.0V149.4H304.2ZM382.8 159.1H392.9V169.3H382.8Z"/>
<path fill="rgb(124,124,124)" d="M9.8 -30.0H19.9V10.2H9.8ZM88.3 -30.0H98.4V10.2H88.3ZM-30.0 9.9H10.1V20.2H-30.0ZM49.1 19.9H59.2V30.1H49.1ZM392.6 19.9H442.5V30.1H392.6ZM58.9 29.8H78.8V40.1H58.9ZM392.6 29.8H442.5V40.1H392.6ZM29.4 39.8H59.2V50.0H29.4ZM68.7 39.8H78.8V50.0H68.7ZM343.5 129.2H353.6V139.5H343.5ZM372.9 139.2H383.1V149.4H372.9Z"/>
<path fill="rgb(128,128,128)" d="M29.4 -30.0H39.6V10.2H29.4ZM9.8 9.9H19.9V20.2H9.8ZM29.4 9.9H39.6V20.2H29.4ZM88.3 9.9H108.3V20.2H88.3ZM39.3 19.9H49.4V30.1H39.3ZM78.5 19.9H108.3V30.1H78.5ZM382.8 19.9H392.9V30.1H382.8ZM-30.0 29.8H19.9V40.1H-30.0ZM49.1 29.8H59.2V40.1H49.1ZM98.1 29.8H108.3V40.1H98.1ZM372.9 29.8H392.9V40.1H372.9ZM78.5 49.7H88.6V60.0H78.5ZM78.5 59.7H88.6V69.9H78.5ZM88.3 69.6H98.4V79.8H88.3ZM108.0 79.5H118.1V89.8H108.0ZM127.6 89.5H137.7V99.7H127.6ZM157.0 89.5H177.0V99.7H157.0ZM245.4 119.3H255.5V129.6H245.4ZM323.9 129.2H343.8V139.5H323.9ZM353.3 129.2H363.4V139.5H353.3ZM382.8 149.1H392.9V159.4H382.8ZM392.6 159.1H442.5V169.3H392.6Z"/>
<path fill="rgb(131,131,131)" d="M19.6 -30.0H29.7V10.2H19.6ZM98.1 -30.0H108.3V10.2H98.1ZM19.6 9.9H29.7V20.2H19.6ZM402.4 9.9H442.5V20.2H402.4ZM-30.0 19.9H19.9V30.1H-30.0ZM372.9 19.9H383.1V30.1H372.9ZM19.6 29.8H49.4V40.1H19.6ZM78.5 29.8H88.6V40.1H78.5ZM78.5 39.8H88.6V50.0H78.5ZM402.4 39.8H442.5V50.0H402.4ZM98.1 69.6H108.3V79.8H98.1ZM294.4 129.2H304.5V139.5H294.4ZM363.1 129.2H373.2V139.5H363.1Z"/>
<path fill="rgb(135,135,135)" d="M402.4 -30.0H442.5V10.2H402.4ZM392.6 9.9H402.7V20.2H392.6ZM19.6 19.9H39.6V30.1H19.6ZM88.3 29.8H98.4V40.1H88.3ZM353.3 29.8H373.2V40.1H353.3ZM88.3 39.8H98.4V50.0H88.3ZM363.1 39.8H373.2V50.0H363.1ZM392.6 39.8H402.7V50.0H392.6ZM88.3 59.7H98.4V69.9H88.3ZM255.2 119.3H265.3V129.6H255.2ZM304.2 129.2H324.2V139.5H304.2ZM382.8 139.2H392.9V149.4H382.8ZM392.6 149.1H402.7V159.4H392.6Z"/>
<path fill="rgb(139,139,139)" d="M392.6 -30.0H402.7V10.2H392.6ZM382.8 9.9H392.9V20.2H382.8ZM363.1 19.9H373.2V30.1H363.1ZM343.5 29.8H353.6V40.1H343.5ZM353.3 39.8H363.4V50.0H353.3ZM382.8 39.8H392.9V50.0H382.8ZM88.3 49.7H98.4V60.0H88.3ZM98.1 59.7H108.3V69.9H98.1ZM108.0 69.6H118.1V79.8H108.0ZM117.8 79.5H127.9V89.8H117.8ZM176.7 89.5H186.8V99.7H176.7ZM186.5 99.4H196.6V109.7H186.5ZM196.3 109.4H206.4V119.6H196.3ZM323.9 119.3H363.4V129.6H323.9ZM372.9 129.2H383.1V139.5H372.9Z"/>
<path fill="rgb(143,143,143)" d="M343.5 19.9H363.4V30.1H343.5ZM333.7 29.8H343.8V40.1H333.7ZM98.1 39.8H108.3V50.0H98.1ZM343.5 39.8H353.6V50.0H343.5ZM372.9 39.8H383.1V50.0H372.9ZM98.1 49.7H108.3V60.0H98.1ZM353.3 49.7H373.2V60.0H353.3ZM392.6 49.7H442.5V60.0H392.6ZM166.8 79.5H177.0V89.8H166.8ZM137.4 89.5H157.3V99.7H137.4ZM372.9 99.4H392.9V109.7H372.9ZM363.1 109.4H392.9V119.6H363.1ZM265.0 119.3H294.7V129.6H265.0ZM314.1 119.3H324.2V129.6H314.1ZM363.1 119.3H383.1V129.6H363.1ZM382.8 129.2H392.9V139.5H382.8ZM392.6 139.2H402.7V149.4H392.6ZM402.4 149.1H442.5V159.4H402.4Z"/>
<path fill="rgb(147,147,147)" d="M382.8 -30.0H392.9V10.2H382.8ZM372.9 9.9H383.1V20.2H372.9ZM108.0 19.9H118.1V30.1H108.0ZM333.7 19.9H343.8V30.1H333.7ZM108.0 29.8H118.1V40.1H108.0ZM323.9 29.8H334.0V40.1H323.9ZM333.7 39.8H343.8V50.0H333.7ZM343.5 49.7H353.6V60.0H343.5ZM372.9 49.7H383.1V60.0H372.9ZM108.0 59.7H118.1V69.9H108.0ZM353.3 59.7H373.2V69.9H353.3ZM166.8 69.6H177.0V79.8H166.8ZM157.0 79.5H167.1V89.8H157.0ZM176.7 79.5H186.8V89.8H176.7ZM372.9 89.5H392.9V99.7H372.9ZM363.1 99.4H373.2V109.7H363.1ZM392.6 99.4H402.7V109.7H392.6ZM215.9 109.4H235.8V119.6H215.9ZM314.1 109.4H363.4V119.6H314.1ZM392.6 109.4H402.7V119.6H392.6ZM304.2 119.3H314.4V129.6H304.2ZM382.8 119.3H392.9V129.6H382.8Z"/>
<path fill="rgb(151,151,151)" d="M157.0 19.9H177.0V30.1H157.0ZM323.9 19.9H334.0V30.1H323.9ZM157.0 29.8H177.0V40.1H157.0ZM314.1 29.8H324.2V40.1H314.1ZM323.9 39.8H334.0V50.0H323.9ZM333.7 49.7H343.8V60.0H333.7ZM382.8 49.7H392.9V60.0H382.8ZM166.8 59.7H177.0V69.9H166.8ZM343.5 59.7H353.6V69.9H343.5ZM372.9 59.7H392.9V69.9H372.9ZM117.8 69.6H127.9V79.8H117.8ZM176.7 69.6H186.8V79.8H176.7ZM353.3 69.6H383.1V79.8H353.3ZM127.6 79.5H137.7V89.8H127.6ZM363.1 79.5H392.9V89.8H363.1ZM186.5 89.5H196.6V99.7H186.5ZM363.1 89.5H373.2V99.7H363.1ZM392.6 89.5H442.5V99.7H392.6ZM314.1 99.4H334.0V109.7H314.1ZM353.3 99.4H363.4V109.7H353.3ZM402.4 99.4H442.5V109.7H402.4ZM206.1 109.4H216.2V119.6H206.1ZM235.5 109.4H255.5V119.6H235.5ZM294.4 109.4H314.4V119.6H294.4ZM402.4 109.4H442.5V119.6H402.4ZM294.4 119.3H304.5V129.6H294.4ZM392.6 119.3H442.5V129.6H392.6ZM392.6 129.2H442.5V139.5H392.6ZM402.4 139.2H442.5V149.4H402.4Z"/>
<path fill="rgb(155,155,155)" d="M157.0 -30.0H167.1V10.2H157.0ZM206.1 -30.0H216.2V10.2H206.1ZM274.8 -30.0H294.7V10.2H274.8ZM372.9 -30.0H383.1V10.2H372.9ZM108.0 9.9H118.1V20.2H108.0ZM157.0 9.9H167.1V20.2H157.0ZM363.1 9.9H373.2V20.2H363.1ZM147.2 19.9H157.3V30.1H147.2ZM304.2 19.9H324.2V30.1H304.2ZM176.7 29.8H186.8V40.1H176.7ZM166.8 39.8H177.0V50.0H166.8ZM166.8 49.7H177.0V60.0H166.8ZM323.9 49.7H334.0V60.0H323.9ZM176.7 59.7H186.8V69.9H176.7ZM333.7 59.7H343.8V69.9H333.7ZM157.0 69.6H167.1V79.8H157.0ZM343.5 69.6H353.6V79.8H343.5ZM382.8 69.6H392.9V79.8H382.8ZM353.3 79.5H363.4V89.8H353.3ZM392.6 79.5H442.5V89.8H392.6ZM314.1 89.5H334.0V99.7H314.1ZM353.3 89.5H363.4V99.7H353.3ZM304.2 99.4H314.4V109.7H304.2ZM333.7 99.4H353.6V109.7H333.7Z"/>
<path fill="rgb(159,159,159)" d="M108.0 -30.0H118.1V10.2H108.0ZM166.8 -30.0H177.0V10.2H166.8ZM196.3 -30.0H206.4V10.2H196.3ZM147.2 9.9H157.3V20.2H147.2ZM166.8 9.9H177.0V20.2H166.8ZM206.1 9.9H216.2V20.2H206.1ZM274.8 9.9H304.5V20.2H274.8ZM333.7 9.9H363.4V20.2H333.7ZM176.7 19.9H186.8V30.1H176.7ZM284.6 19.9H304.5V30.1H284.6ZM147.2 29.8H157.3V40.1H147.2ZM304.2 29.8H314.4V40.1H304.2ZM108.0 39.8H118.1V50.0H108.0ZM157.0 39.8H167.1V50.0H157.0ZM176.7 39.8H186.8V50.0H176.7ZM314.1 39.8H324.2V50.0H314.1ZM108.0 49.7H118.1V60.0H108.0ZM157.0 49.7H167.1V60.0H157.0ZM176.7 49.7H186.8V60.0H176.7ZM314.1 49.7H324.2V60.0H314.1ZM157.0 59.7H167.1V69.9H157.0ZM323.9 59.7H334.0V69.9H323.9ZM392.6 59.7H442.5V69.9H392.6ZM323.9 69.6H343.8V79.8H323.9ZM392.6 69.6H402.7V79.8H392.6ZM186.5 79.5H196.6V89.8H186.5ZM314.1 79.5H353.6V89.8H314.1ZM304.2 89.5H314.4V99.7H304.2ZM333.7 89.5H353.6V99.7H333.7ZM196.3 99.4H206.4V109.7H196.3ZM294.4 99.4H304.5V109.7H294.4ZM255.2 109.4H294.7V119.6H255.2Z"/>
<path fill="rgb(163,163,163)" d="M147.2 -30.0H157.3V10.2H147.2ZM215.9 -30.0H226.0V10.2H215.9ZM265.0 -30.0H275.1V10.2H265.0ZM294.4 -30.0H304.5V10.2H294.4ZM363.1 -30.0H373.2V10.2H363.1ZM196.3 9.9H206.4V20.2H196.3ZM265.0 9.9H275.1V20.2H265.0ZM304.2 9.9H334.0V20.2H304.2ZM186.5 19.9H196.6V30.1H186.5ZM274.8 19.9H284.9V30.1H274.8ZM186.5 29.8H196.6V40.1H186.5ZM294.4 29.8H304.5V40.1H294.4ZM127.6 69.6H137.7V79.8H127.6ZM314.1 69.6H324.2V79.8H314.1ZM402.4 69.6H442.5V79.8H402.4ZM137.4 79.5H157.3V89.8H137.4ZM304.2 79.5H314.4V89.8H304.2ZM294.4 89.5H304.5V99.7H294.4ZM284.6 99.4H294.7V109.7H284.6Z"/>
<path fill="rgb(167,167,167)" d="M225.7 -30.0H265.3V10.2H225.7ZM304.2 -30.0H363.4V10.2H304.2ZM176.7 9.9H186.8V20.2H176.7ZM215.9 9.9H265.3V20.2H215.9ZM215.9 19.9H275.1V30.1H215.9ZM284.6 29.8H294.7V40.1H284.6ZM147.2 39.8H157.3V50.0H147.2ZM186.5 39.8H196.6V50.0H186.5ZM304.2 39.8H314.4V50.0H304.2ZM117.8 59.7H127.9V69.9H117.8ZM186.5 59.7H196.6V69.9H186.5ZM304.2 59.7H324.2V69.9H304.2ZM186.5 69.6H196.6V79.8H186.5ZM304.2 69.6H314.4V79.8H304.2ZM294.4 79.5H304.5V89.8H294.4ZM284.6 89.5H294.7V99.7H284.6ZM274.8 99.4H284.9V109.7H274.8Z"/>
<path fill="rgb(171,171,171)" d="M186.5 9.9H196.6V20.2H186.5ZM137.4 19.9H147.5V30.1H137.4ZM196.3 19.9H206.4V30.1H196.3ZM137.4 29.8H147.5V40.1H137.4ZM225.7 29.8H284.9V40.1H225.7ZM186.5 49.7H196.6V60.0H186.5ZM147.2 69.6H157.3V79.8H147.2ZM294.4 69.6H304.5V79.8H294.4ZM284.6 79.5H294.7V89.8H284.6ZM196.3 89.5H206.4V99.7H196.3ZM206.1 99.4H255.5V109.7H206.1Z"/>
<path fill="rgb(175,175,175)" d="M176.7 -30.0H196.6V10.2H176.7ZM206.1 19.9H216.2V30.1H206.1ZM196.3 29.8H206.4V40.1H196.3ZM215.9 29.8H226.0V40.1H215.9ZM294.4 39.8H304.5V50.0H294.4ZM147.2 49.7H157.3V60.0H147.2ZM304.2 49.7H314.4V60.0H304.2ZM127.6 59.7H137.7V69.9H127.6ZM147.2 59.7H157.3V69.9H147.2ZM294.4 59.7H304.5V69.9H294.4ZM137.4 69.6H147.5V79.8H137.4ZM284.6 69.6H294.7V79.8H284.6ZM274.8 79.5H284.9V89.8H274.8ZM274.8 89.5H284.9V99.7H274.8ZM255.2 99.4H275.1V109.7H255.2Z"/>
<path fill="rgb(179,179,179)" d="M137.4 9.9H147.5V20.2H137.4ZM206.1 29.8H216.2V40.1H206.1ZM196.3 39.8H206.4V50.0H196.3ZM215.9 39.8H294.7V50.0H215.9ZM117.8 49.7H127.9V60.0H117.8ZM294.4 49.7H304.5V60.0H294.4ZM284.6 59.7H294.7V69.9H284.6ZM206.1 89.5H245.7V99.7H206.1Z"/>
<path fill="rgb(183,183,183)" d="M137.4 -30.0H147.5V10.2H137.4ZM137.4 39.8H147.5V50.0H137.4ZM206.1 39.8H216.2V50.0H206.1ZM137.4 49.7H147.5V60.0H137.4ZM196.3 49.7H206.4V60.0H196.3ZM255.2 49.7H294.7V60.0H255.2ZM137.4 59.7H147.5V69.9H137.4ZM265.0 59.7H284.9V69.9H265.0ZM265.0 69.6H284.9V79.8H265.0ZM196.3 79.5H206.4V89.8H196.3ZM245.4 89.5H255.5V99.7H245.4ZM265.0 89.5H275.1V99.7H265.0Z"/>
<path fill="rgb(187,187,187)" d="M117.8 39.8H127.9V50.0H117.8ZM215.9 49.7H255.5V60.0H215.9ZM255.2 59.7H265.3V69.9H255.2ZM215.9 79.5H245.7V89.8H215.9ZM255.2 89.5H265.3V99.7H255.2Z"/>
<path fill="rgb(191,191,191)" d="M117.8 29.8H127.9V40.1H117.8ZM127.6 49.7H137.7V60.0H127.6ZM206.1 49.7H216.2V60.0H206.1ZM245.4 59.7H255.5V69.9H245.4ZM196.3 69.6H206.4V79.8H196.3ZM245.4 69.6H265.3V79.8H245.4ZM206.1 79.5H216.2V89.8H206.1ZM245.4 79.5H275.1V89.8H245.4Z"/>
<path fill="rgb(195,195,195)" d="M117.8 19.9H127.9V30.1H117.8ZM127.6 39.8H137.7V50.0H127.6ZM196.3 59.7H206.4V69.9H196.3ZM225.7 59.7H245.7V69.9H225.7ZM225.7 69.6H245.7V79.8H225.7Z"/>
<path fill="rgb(199,199,199)" d="M127.6 29.8H137.7V40.1H127.6ZM215.9 59.7H226.0V69.9H215.9ZM215.9 69.6H226.0V79.8H215.9Z"/>
<path fill="rgb(203,203,203)" d="M117.8 9.9H127.9V20.2H117.8ZM127.6 19.9H137.7V30.1H127.6ZM206.1 59.7H216.2V69.9H206.1ZM206.1 69.6H216.2V79.8H206.1Z"/>
<path fill="rgb(207,207,207)" d="M117.8 -30.0H127.9V10.2H117.8Z"/>
<path fill="rgb(211,211,211)" d="M127.6 9.9H137.7V20.2H127.6Z"/>
<path fill="rgb(215,215,215)" d="M127.6 -30.0H137.7V10.2H127.6Z"/>
</g>
<path d="M76.2 0.0 L71.4 60.9 L70.0 92.8 M0.0 54.2 L71.4 60.9 M70.0 92.8 L118.9 96.1 L158.4 97.2 L183.7 97.7 L214.0 97.5 L240.8 97.2 L289.5 96.4 M239.7 0.0 L240.2 33.2 L240.8 97.2 M240.2 33.2 L311.6 30.8 L371.4 27.2 L376.0 29.5 L380.0 32.3 L382.8 33.9 L385.1 33.7 L386.2 31.0 L387.5 30.3 L392.2 30.6 L396.0 29.8 L399.5 28.8 L401.5 29.5 L404.1 31.8 L408.0 32.6 L412.0 33.2 M118.9 96.1 L118.1 122.9 L116.5 160.0 L113.3 223.7 L111.7 258.5 M289.5 96.4 L291.1 128.4 L292.5 175.0 L294.3 224.8 M291.1 128.4 L351.1 125.6 L412.0 121.7 M0.0 216.2 L57.2 220.9 L113.3 223.7 L175.8 226.1 L214.0 226.5 L269.0 226.1 L294.3 224.8 L351.1 222.0 L412.0 218.2 M269.3 226.1 L269.6 241.6 L268.6 241.8 L268.6 258.5 M268.6 241.8 L347.2 239.1 L348.8 258.5" fill="none" stroke="#000" stroke-width="1.35" stroke-linejoin="round"/>
<path d="M-0.3 13.1 C2.2 14.6 9.6 19.5 14.5 22.0 C19.4 24.5 23.6 26.3 29.3 27.9 C35.0 29.5 42.8 30.5 48.5 31.6 C54.2 32.7 59.1 33.0 63.3 34.6 C67.5 36.2 70.7 38.6 73.7 41.2 C76.7 43.8 78.6 47.4 81.1 50.1 C83.6 52.8 85.3 55.5 88.5 57.5 C91.7 59.5 96.8 60.5 100.3 62.0 C103.8 63.5 106.2 64.2 109.2 66.4 C112.2 68.6 115.4 72.1 118.1 75.3 C120.8 78.5 122.5 83.1 125.5 85.6 C128.4 88.1 132.1 89.6 135.8 90.1 C139.5 90.6 144.2 88.7 147.7 88.6 C151.2 88.5 153.6 88.1 156.6 89.3 C159.6 90.5 162.7 93.2 165.4 96.0 C168.1 98.8 170.1 103.0 172.8 106.4 C175.5 109.9 178.7 113.2 181.7 116.7 C184.7 120.2 188.9 124.9 190.6 127.1 C192.3 129.3 191.4 126.8 192.1 129.7 C192.8 132.6 194.1 139.6 195.0 144.6 C195.9 149.6 196.3 155.0 197.3 159.4 C198.3 163.8 199.6 168.2 201.0 171.2 C202.4 174.2 203.4 174.7 205.7 177.2 C208.0 179.7 211.6 183.1 214.6 186.0 C217.6 188.9 220.8 191.7 223.5 194.9 C226.2 198.1 227.7 202.3 230.9 205.3 C234.1 208.3 238.5 210.4 242.7 212.7 C246.9 215.0 251.6 217.6 256.0 219.3 C260.4 221.0 265.4 222.0 269.3 223.0 C273.2 224.0 277.2 223.8 279.7 225.3 C282.2 226.8 282.6 229.3 284.1 231.9 C285.6 234.5 286.6 237.8 288.6 240.8 C290.6 243.8 293.1 247.3 296.0 249.7 C298.9 252.0 302.6 253.7 306.3 254.9 C310.0 256.1 314.0 256.5 318.2 257.1 C322.4 257.7 329.3 258.4 331.5 258.6 M-0.3 51.6 C2.2 52.3 9.6 54.6 14.5 56.0 C19.4 57.4 24.4 58.5 29.3 59.7 C34.2 60.9 40.4 61.8 44.1 63.4 C47.8 65.0 49.0 66.9 51.5 69.4 C54.0 71.9 56.2 75.5 58.9 78.2 C61.6 80.9 64.6 83.1 67.8 85.6 C71.0 88.1 74.1 90.9 78.1 93.0 C82.0 95.1 87.8 96.6 91.5 98.2 C95.2 99.8 97.8 100.9 100.3 102.7 C102.8 104.5 104.1 107.0 106.3 109.3 C108.5 111.6 111.0 114.5 113.7 116.7 C116.4 118.9 119.3 120.6 122.5 122.6 C125.7 124.6 129.7 126.7 132.9 128.6 C136.1 130.5 138.4 132.8 141.8 134.2 C145.2 135.6 150.2 135.7 153.6 137.2 C157.0 138.7 159.8 140.9 162.5 143.1 C165.2 145.3 168.2 147.3 169.9 150.5 C171.6 153.7 172.6 158.0 172.8 162.4 C173.1 166.8 171.9 172.3 171.4 177.2 C170.9 182.1 169.8 187.3 169.9 192.0 C170.0 196.7 171.1 200.9 172.1 205.3 C173.1 209.7 174.5 214.4 175.8 218.6 C177.2 222.8 178.2 226.9 180.2 230.4 C182.2 233.9 185.1 236.8 187.6 239.3 C190.1 241.8 192.8 243.0 195.0 245.2 C197.2 247.4 199.5 250.2 201.0 252.6 C202.5 255.0 203.4 258.5 203.9 259.7 M-0.3 104.9 C1.4 105.9 6.7 108.6 10.1 110.8 C13.5 113.0 16.9 115.5 20.4 118.2 C23.8 120.9 28.7 125.2 30.8 127.1 C32.9 129.0 31.0 128.1 33.0 129.8 C35.0 131.5 39.5 134.5 42.6 137.2 C45.7 139.9 49.0 142.9 51.5 146.1 C54.0 149.3 55.2 153.4 57.4 156.4 C59.6 159.4 62.6 160.8 64.8 163.8 C67.0 166.8 69.0 170.7 70.7 174.2 C72.4 177.7 73.5 181.6 75.2 184.6 C76.9 187.6 78.9 190.0 81.1 192.0 C83.3 194.0 86.3 194.4 88.5 196.4 C90.7 198.4 92.8 201.1 94.4 203.8 C96.0 206.5 97.1 209.7 98.1 212.7 C99.1 215.7 98.9 218.4 100.3 221.6 C101.7 224.8 105.3 230.2 106.3 231.9 M70.7 -0.2 C72.2 1.5 76.1 7.0 79.6 10.2 C83.1 13.4 87.3 16.3 91.5 19.0 C95.7 21.7 101.1 23.9 104.8 26.4 C108.5 28.9 111.0 30.6 113.7 33.8 C116.4 37.0 118.9 42.0 121.1 45.7 C123.3 49.4 124.8 53.0 127.0 56.0 C129.2 59.0 131.7 61.5 134.4 63.4 C137.1 65.2 139.8 66.8 143.2 67.1 C146.6 67.3 151.1 65.1 155.1 64.9 C159.1 64.7 163.2 64.7 166.9 65.7 C170.6 66.7 174.3 68.7 177.3 70.8 C180.3 72.9 182.5 75.2 184.7 78.2 C186.9 81.2 188.6 85.1 190.6 88.6 C192.6 92.1 194.5 95.8 196.5 99.0 C198.5 102.2 200.9 105.8 202.4 107.8 C203.9 109.8 203.9 108.8 205.7 110.8 C207.5 112.8 210.4 118.0 213.1 119.7 C215.8 121.4 218.8 121.2 222.0 121.2 C225.2 121.2 228.9 119.5 232.3 119.7 C235.8 119.9 239.5 121.4 242.7 122.6 C245.9 123.8 249.6 125.9 251.6 127.1 C253.6 128.3 252.3 128.4 254.5 129.8 C256.7 131.2 260.7 133.7 264.9 135.7 C269.1 137.7 274.8 139.6 279.7 141.6 C284.6 143.6 290.1 145.6 294.5 147.6 C298.9 149.6 302.9 151.9 306.3 153.5 C309.8 155.1 313.7 156.6 315.2 157.2 M362.6 189.7 C364.3 190.6 369.4 193.2 372.9 194.9 C376.3 196.6 379.4 198.7 383.3 200.1 C387.2 201.5 391.9 202.2 396.6 203.1 C401.3 204.0 409.2 204.9 411.7 205.3 M109.2 -0.2 C110.4 1.8 114.1 7.4 116.6 11.6 C119.1 15.8 121.5 21.1 124.0 25.0 C126.5 28.9 129.2 33.1 131.4 35.3 C133.6 37.5 135.1 38.5 137.3 38.3 C139.5 38.0 142.5 35.4 144.7 33.8 C146.9 32.2 148.4 29.5 150.6 28.7 C152.8 27.9 155.3 27.9 158.0 28.7 C160.7 29.5 163.7 31.5 166.9 33.8 C170.1 36.1 173.6 39.5 177.3 42.7 C181.0 45.9 184.4 49.1 189.1 53.1 C193.8 57.1 201.9 62.5 205.7 66.4 C209.4 70.4 209.4 73.8 211.6 76.8 C213.8 79.8 215.8 82.6 219.0 84.2 C222.2 85.8 227.0 85.7 230.9 86.4 C234.8 87.1 238.3 87.2 242.7 88.6 C247.1 89.9 252.6 92.5 257.5 94.5 C262.4 96.5 267.4 98.4 272.3 100.4 C277.2 102.4 282.2 104.4 287.1 106.4 C292.0 108.4 297.0 110.3 301.9 112.3 C306.8 114.3 311.8 116.2 316.7 118.2 C321.6 120.2 326.6 122.4 331.5 124.1 C336.4 125.8 343.6 127.6 346.3 128.6 C349.0 129.6 345.6 128.9 347.8 129.8 C350.0 130.7 356.2 132.5 359.6 134.2 C363.1 135.9 365.3 138.0 368.5 140.2 C371.7 142.4 375.4 145.4 378.8 147.6 C382.2 149.8 386.2 151.9 389.2 153.5 C392.2 155.1 395.4 156.6 396.6 157.2 M169.9 -0.2 C172.1 1.0 179.0 4.5 183.2 7.2 C187.4 9.9 191.2 13.1 195.0 16.1 C198.8 19.1 201.9 22.3 205.7 25.0 C209.4 27.7 213.3 29.7 217.5 32.4 C221.7 35.1 227.0 38.2 230.9 41.2 C234.8 44.2 238.0 47.1 241.2 50.1 C244.4 53.1 246.9 56.5 250.1 59.0 C253.3 61.5 256.6 63.1 260.5 64.9 C264.4 66.8 269.1 68.4 273.8 70.1 C278.5 71.8 283.7 73.6 288.6 75.3 C293.5 77.0 300.9 79.6 303.4 80.5 M358.1 100.4 C360.6 101.4 368.0 104.2 372.9 106.4 C377.8 108.6 383.0 111.1 387.7 113.8 C392.4 116.5 397.0 120.1 401.0 122.6 C405.0 125.1 409.9 127.6 411.7 128.6 M213.1 -0.2 C215.1 1.3 220.7 6.0 224.9 8.7 C229.1 11.4 233.6 14.1 238.3 16.1 C243.0 18.1 248.4 19.0 253.1 20.5 C257.8 22.0 262.2 23.0 266.4 25.0 C270.6 27.0 274.0 29.9 278.2 32.4 C282.4 34.9 286.8 37.6 291.5 39.8 C296.2 42.0 301.4 43.7 306.3 45.7 C311.2 47.7 316.2 49.4 321.1 51.6 C326.0 53.8 331.0 56.8 335.9 59.0 C340.8 61.2 345.8 62.9 350.7 64.9 C355.6 66.9 360.6 68.8 365.5 70.8 C370.4 72.8 375.4 74.6 380.3 76.8 C385.2 79.0 389.9 81.5 395.1 84.2 C400.3 86.9 408.9 91.5 411.7 93.0 M264.9 -0.2 C266.9 0.8 272.5 3.5 276.7 5.7 C280.9 7.9 285.7 11.0 290.1 13.1 C294.6 15.2 300.2 17.2 303.4 18.3 C306.6 19.4 308.3 19.6 309.3 19.8 M358.1 39.8 C360.3 40.8 366.7 43.7 371.4 45.7 C376.1 47.7 381.3 49.8 386.2 51.6 C391.1 53.5 396.8 55.6 401.0 56.8 C405.2 58.0 409.9 58.6 411.7 59.0 M322.6 -0.2 C324.8 0.8 331.2 3.7 335.9 5.7 C340.6 7.7 345.8 9.9 350.7 11.6 C355.6 13.3 360.6 14.6 365.5 16.1 C370.4 17.6 375.4 19.0 380.3 20.5 C385.2 22.0 389.9 23.6 395.1 25.0 C400.3 26.4 408.9 28.1 411.7 28.7" fill="none" stroke="#000" stroke-width="2.5" stroke-linecap="round" stroke-linejoin="round"/>
<path d="M13.3 13.0 L-4.2 7.0 M-4.2 7.0 L-4.0 -0.8 M-2.0 7.7 L-1.8 -0.0 M0.2 8.5 L0.4 0.8 M2.3 9.3 L2.6 1.5 M4.5 10.0 L4.6 6.1 M40.1 11.4 L22.8 4.9 M22.8 4.9 L23.2 -2.9 M24.9 5.7 L25.4 -2.1 M27.1 6.5 L27.6 -1.2 M29.3 7.3 L29.7 -0.4 M66.9 9.8 L50.2 1.8 M50.2 1.8 L51.3 -5.9 M52.3 2.8 L53.4 -4.9 M54.4 3.8 L55.5 -3.9 M56.4 4.8 L57.6 -2.9 M93.7 8.2 L78.1 -1.8 M78.1 -1.8 L80.2 -9.3 M80.1 -0.6 L82.1 -8.0 M82.0 0.7 L84.1 -6.8 M84.0 1.9 L86.0 -5.5 M85.9 3.2 L86.9 -0.6 M120.5 6.6 L105.8 -4.7 M111.3 -0.5 L114.0 -7.7 M113.1 0.9 L114.5 -2.7 M147.3 5.0 L131.4 -4.5 M137.3 -0.9 L138.2 -4.7 M174.1 3.4 L158.5 -6.7 M164.4 -2.9 L165.4 -6.6 M200.9 1.8 L186.1 -9.4 M191.7 -5.2 L193.0 -8.9 M227.7 0.2 L211.7 -9.1 M217.7 -5.7 L219.4 -13.2 M254.5 -1.5 L238.3 -10.5 M244.4 -7.1 L246.0 -14.7 M14.8 38.4 L-3.0 33.2 M-3.0 33.2 L-3.1 25.5 M-0.7 33.9 L-0.9 26.1 M1.5 34.5 L1.3 26.8 M3.7 35.2 L3.5 27.4 M5.9 35.8 L5.8 32.0 M41.6 36.8 L24.1 30.8 M24.1 30.8 L24.3 23.0 M26.3 31.5 L26.5 23.8 M28.5 32.3 L28.7 24.5 M30.7 33.0 L30.9 25.3 M32.9 33.8 L33.0 29.9 M68.4 35.2 L51.4 27.9 M51.4 27.9 L52.2 20.1 M53.5 28.8 L54.4 21.1 M55.7 29.7 L56.5 22.0 M57.8 30.6 L58.6 22.9 M59.9 31.5 L60.3 27.7 M95.2 33.6 L79.4 24.0 M79.4 24.0 L81.3 16.4 M81.4 25.2 L83.3 17.6 M83.4 26.4 L85.2 18.8 M85.3 27.6 L87.2 20.0 M87.3 28.8 L88.2 25.0 M122.0 32.0 L106.8 21.5 M112.5 25.4 L114.8 18.0 M114.4 26.7 L115.5 23.0 M148.8 30.4 L132.0 22.7 M138.3 25.6 L138.8 21.7 M175.6 28.8 L160.1 18.7 M165.9 22.5 L167.0 18.7 M202.4 27.2 L187.7 15.9 M193.2 20.2 L195.9 12.9 M229.2 25.6 L213.3 16.2 M219.2 19.7 L221.0 12.1 M256.0 23.9 L239.8 15.0 M245.9 18.3 L247.5 10.7 M282.8 22.3 L266.8 13.1 M272.8 16.5 L273.7 12.8 M309.6 20.7 L293.6 11.4 M299.6 14.9 L300.5 11.1 M336.4 19.1 L320.6 9.4 M326.6 13.1 L327.5 9.3 M363.2 17.5 L347.5 7.7 M353.4 11.4 L354.4 7.6 M390.0 15.9 L374.4 6.0 M416.8 14.3 L400.5 5.6 M400.5 5.6 L401.9 -2.0 M402.5 6.7 L404.0 -0.9 M404.6 7.8 L406.0 0.1 M406.6 8.9 L408.0 1.2 M408.6 9.9 L409.4 6.1 M16.3 63.8 L-1.5 58.7 M-1.5 58.7 L-1.6 50.9 M0.8 59.3 L0.6 51.6 M3.0 60.0 L2.8 52.2 M5.2 60.6 L5.1 56.7 M43.1 62.2 L26.2 54.7 M26.2 54.7 L27.1 47.0 M28.3 55.6 L29.2 47.9 M30.4 56.6 L31.3 48.9 M32.6 57.5 L33.0 53.7 M69.9 60.6 L53.3 52.5 M53.3 52.5 L54.4 44.9 M55.4 53.5 L56.5 45.9 M57.4 54.5 L58.6 46.9 M59.5 55.5 L60.7 47.9 M96.7 59.0 L80.5 50.1 M123.5 57.4 L107.8 47.6 M113.7 51.3 L115.6 43.8 M150.3 55.8 L133.6 47.8 M139.9 50.8 L141.0 43.1 M177.1 54.2 L161.9 43.7 M167.6 47.6 L168.7 43.9 M203.9 52.6 L189.7 40.8 M195.0 45.2 L197.9 38.0 M196.8 46.7 L198.2 43.1 M230.7 51.0 L215.2 41.0 M221.0 44.7 L223.1 37.2 M222.9 46.0 L224.0 42.2 M257.5 49.3 L241.7 39.8 M247.6 43.4 L249.5 35.8 M284.3 47.7 L268.2 38.6 M274.3 42.0 L275.9 34.4 M311.1 46.1 L295.2 36.8 M301.2 40.3 L302.9 32.7 M337.9 44.5 L322.3 34.6 M364.7 42.9 L349.2 32.8 M391.5 41.3 L376.2 31.0 M376.2 31.0 L378.4 23.6 M378.1 32.3 L380.3 24.9 M380.0 33.6 L382.2 26.1 M381.9 34.9 L384.1 27.4 M383.8 36.2 L384.9 32.4 M418.3 39.7 L402.1 30.8 M402.1 30.8 L403.6 23.2 M404.1 31.9 L405.6 24.3 M406.1 33.0 L407.7 25.4 M408.2 34.1 L409.7 26.5 M410.2 35.3 L411.0 31.5 M17.8 89.2 L1.3 80.9 M1.3 80.9 L2.6 73.2 M3.4 81.9 L4.7 74.3 M5.5 83.0 L6.1 79.1 M44.6 87.6 L28.5 78.5 M28.5 78.5 L30.2 70.9 M30.6 79.6 L32.2 72.1 M32.6 80.8 L34.2 73.2 M71.4 86.0 L54.8 77.8 M54.8 77.8 L56.0 70.2 M56.9 78.9 L58.1 71.2 M59.0 79.9 L60.2 72.2 M61.1 80.9 L61.7 77.1 M98.2 84.4 L81.9 75.7 M81.9 75.7 L83.3 68.1 M83.9 76.8 L85.4 69.2 M86.0 77.9 L87.4 70.3 M88.0 79.0 L89.4 71.4 M125.0 82.8 L108.8 73.9 M151.8 81.2 L135.3 72.9 M141.5 76.0 L142.1 72.2 M178.6 79.6 L164.1 68.2 M205.4 78.0 L191.8 65.5 M196.9 70.2 L200.2 63.1 M198.6 71.7 L201.9 64.7 M232.2 76.4 L216.2 67.2 M222.2 70.6 L223.9 63.0 M224.2 71.8 L225.0 68.0 M259.0 74.7 L242.8 65.9 M248.9 69.2 L250.4 61.6 M250.9 70.3 L251.7 66.5 M285.8 73.1 L269.5 64.5 M275.6 67.7 L277.1 60.1 M312.6 71.5 L296.7 62.2 M302.7 65.7 L303.5 61.9 M339.4 69.9 L323.9 59.9 M329.7 63.7 L330.7 59.9 M366.2 68.3 L350.9 57.9 M393.0 66.7 L378.1 55.8 M383.7 59.9 L385.0 56.2 M419.8 65.1 L404.0 55.5 M410.0 59.1 L410.9 55.4 M19.4 114.6 L3.9 104.5 M3.9 104.5 L6.0 97.0 M5.8 105.7 L7.9 98.3 M46.2 113.0 L31.7 101.4 M31.7 101.4 L34.6 94.2 M33.6 102.9 L36.4 95.7 M35.4 104.3 L36.8 100.7 M73.0 111.4 L56.0 104.0 M56.0 104.0 L56.8 96.3 M58.1 105.0 L58.9 97.2 M60.2 105.9 L60.7 102.0 M99.8 109.8 L83.2 101.7 M83.2 101.7 L84.3 94.0 M85.2 102.7 L86.4 95.0 M87.3 103.7 L87.9 99.9 M126.6 108.2 L110.4 99.1 M110.4 99.1 L112.1 91.5 M112.5 100.3 L114.1 92.7 M114.5 101.4 L116.1 93.8 M116.5 102.5 L117.3 98.7 M153.4 106.6 L137.9 96.5 M137.9 96.5 L140.0 89.0 M139.8 97.7 L141.9 90.3 M141.7 99.0 L143.8 91.5 M143.7 100.3 L144.7 96.5 M180.2 105.0 L166.7 92.3 M166.7 92.3 L170.1 85.3 M168.4 93.9 L171.8 86.9 M170.1 95.4 L173.5 88.5 M171.8 97.0 L175.2 90.1 M207.0 103.4 L193.4 90.8 M198.5 95.5 L201.8 88.5 M233.8 101.8 L217.3 93.3 M223.5 96.5 L224.8 88.8 M260.6 100.1 L244.0 91.9 M250.2 95.0 L251.5 87.3 M287.4 98.5 L271.0 89.9 M277.2 93.1 L277.9 89.3 M314.2 96.9 L298.2 87.6 M304.2 91.1 L305.1 87.3 M341.0 95.3 L325.4 85.4 M331.2 89.1 L332.2 85.4 M367.8 93.7 L352.8 82.9 M394.6 92.1 L380.3 80.3 M421.4 90.5 L406.2 79.9 M20.9 140.0 L7.0 127.8 M7.0 127.8 L10.2 120.7 M47.7 138.4 L35.3 124.7 M35.3 124.7 L39.2 118.0 M36.8 126.4 L40.8 119.7 M74.5 136.8 L58.6 127.3 M58.6 127.3 L60.4 119.8 M60.6 128.5 L62.4 121.0 M62.6 129.7 L63.5 125.9 M101.3 135.2 L85.3 125.9 M85.3 125.9 L87.0 118.4 M87.3 127.1 L89.0 119.5 M128.1 133.6 L112.1 124.3 M112.1 124.3 L113.8 116.7 M114.1 125.4 L115.8 117.9 M116.1 126.6 L117.0 122.8 M154.9 132.0 L139.7 121.4 M139.7 121.4 L142.1 114.0 M141.6 122.7 L144.0 115.3 M143.5 124.0 L144.7 120.3 M181.7 130.4 L169.5 116.4 M169.5 116.4 L173.6 109.8 M171.0 118.2 L175.1 111.6 M172.6 119.9 L174.6 116.6 M208.5 128.8 L195.1 116.0 M195.1 116.0 L198.5 109.1 M196.8 117.6 L200.2 110.7 M198.4 119.2 L201.8 112.3 M200.1 120.8 L201.8 117.3 M235.3 127.2 L218.6 119.1 M218.6 119.1 L219.8 111.4 M220.7 120.1 L221.8 112.5 M222.8 121.1 L223.9 113.5 M224.9 122.1 L225.4 118.3 M262.1 125.5 L245.5 117.4 M288.9 123.9 L272.3 115.7 M315.7 122.3 L299.3 113.7 M342.5 120.7 L326.5 111.5 M369.3 119.1 L354.2 108.5 M396.1 117.5 L381.9 105.7 M422.9 115.9 L407.6 105.5 M22.4 165.4 L10.4 151.4 M10.4 151.4 L14.5 144.8 M49.2 163.8 L39.0 148.4 M39.0 148.4 L43.9 142.4 M76.0 162.2 L62.0 150.2 M62.0 150.2 L65.0 143.0 M63.7 151.7 L66.8 144.6 M102.8 160.6 L88.0 149.5 M88.0 149.5 L90.6 142.2 M89.9 150.9 L92.5 143.6 M129.6 159.0 L114.3 148.6 M114.3 148.6 L116.5 141.2 M116.2 149.9 L118.4 142.5 M156.4 157.4 L141.4 146.5 M141.4 146.5 L143.9 139.2 M183.2 155.8 L171.3 141.6 M171.3 141.6 L175.5 135.1 M172.8 143.4 L174.9 140.1 M210.0 154.2 L198.9 139.4 M198.9 139.4 L203.4 133.1 M200.3 141.2 L204.8 134.9 M236.8 152.6 L222.8 140.5 M222.8 140.5 L225.9 133.3 M224.6 142.0 L226.1 138.4 M263.6 150.9 L246.2 144.6 M246.2 144.6 L246.6 136.9 M248.4 145.4 L248.6 141.6 M290.4 149.3 L273.1 142.8 M273.1 142.8 L273.6 135.0 M275.3 143.6 L275.7 135.9 M277.4 144.4 L277.7 140.5 M317.2 147.7 L300.3 140.3 M300.3 140.3 L301.1 132.6 M302.4 141.2 L303.2 133.5 M304.5 142.2 L305.4 134.5 M306.6 143.1 L307.5 135.4 M344.0 146.1 L327.3 138.2 M327.3 138.2 L328.4 130.5 M329.4 139.2 L330.5 131.5 M331.5 140.2 L332.6 132.5 M333.6 141.2 L334.1 137.3 M370.8 144.5 L354.8 135.2 M354.8 135.2 L356.5 127.7 M356.8 136.4 L358.5 128.8 M358.8 137.5 L360.5 130.0 M360.8 138.7 L362.5 131.1 M397.6 142.9 L381.9 133.1 M424.4 141.3 L407.7 133.3 M-2.9 192.4 L-15.7 179.1 M-15.7 179.1 L-12.0 172.3 M23.9 190.8 L12.6 176.2 M12.6 176.2 L17.0 169.9 M50.7 189.2 L40.7 173.7 M40.7 173.7 L45.7 167.7 M77.5 187.6 L64.1 174.9 M64.1 174.9 L67.4 168.0 M104.3 186.0 L90.9 173.2 M90.9 173.2 L94.4 166.3 M92.6 174.8 L94.3 171.4 M131.1 184.4 L116.7 172.9 M116.7 172.9 L119.4 165.6 M157.9 182.8 L142.0 173.3 M142.0 173.3 L143.8 165.8 M184.7 181.2 L170.9 168.9 M170.9 168.9 L174.0 161.9 M172.6 170.5 L174.2 166.9 M211.5 179.6 L199.5 165.5 M199.5 165.5 L203.6 158.9 M201.0 167.3 L205.1 160.7 M238.3 178.0 L224.9 165.3 M224.9 165.3 L228.3 158.3 M226.6 166.9 L228.2 163.4 M265.1 176.3 L247.8 169.9 M247.8 169.9 L248.2 162.1 M250.0 170.7 L250.2 166.8 M291.9 174.7 L274.5 168.6 M274.5 168.6 L274.8 160.9 M276.7 169.4 L276.9 161.6 M318.7 173.1 L301.2 167.1 M301.2 167.1 L301.4 159.4 M303.4 167.9 L303.6 160.1 M305.6 168.6 L305.7 164.8 M345.5 171.5 L328.2 165.1 M328.2 165.1 L328.6 157.3 M330.4 165.9 L330.8 158.2 M332.5 166.7 L332.9 159.0 M372.3 169.9 L355.1 163.2 M355.1 163.2 L355.6 155.5 M357.2 164.1 L357.8 156.3 M359.4 164.9 L359.9 157.2 M361.6 165.7 L361.8 161.9 M399.1 168.3 L381.8 161.8 M381.8 161.8 L382.3 154.1 M384.0 162.6 L384.4 154.9 M386.2 163.4 L386.6 155.7 M388.3 164.2 L388.8 156.5 M390.5 165.1 L390.7 161.2 M425.9 166.7 L408.1 162.0 M408.1 162.0 L407.7 154.2 M410.3 162.6 L409.9 154.8 M412.5 163.2 L412.2 155.4 M414.8 163.7 L414.4 156.0 M417.0 164.3 L416.8 160.5 M-1.3 217.8 L-14.0 204.3 M-14.0 204.3 L-10.2 197.6 M25.5 216.2 L14.2 201.5 M14.2 201.5 L18.7 195.2 M52.3 214.6 L42.2 199.1 M42.2 199.1 L47.1 193.1 M79.1 213.0 L66.1 199.8 M66.1 199.8 L69.8 193.0 M105.9 211.4 L94.2 197.0 M94.2 197.0 L98.5 190.6 M95.7 198.8 L97.8 195.6 M132.7 209.8 L119.9 196.4 M119.9 196.4 L123.6 189.6 M159.5 208.2 L148.2 193.5 M148.2 193.5 L152.6 187.2 M186.3 206.6 L175.2 191.7 M175.2 191.7 L179.8 185.5 M176.6 193.6 L178.9 190.5 M213.1 205.0 L200.3 191.6 M200.3 191.6 L204.0 184.8 M201.9 193.3 L205.6 186.5 M203.5 195.0 L205.3 191.6 M239.9 203.4 L226.0 191.2 M226.0 191.2 L229.1 184.1 M227.7 192.7 L230.8 185.6 M266.7 201.7 L249.3 195.4 M249.3 195.4 L249.7 187.6 M251.5 196.2 L251.8 188.4 M253.6 197.0 L253.8 193.1 M293.5 200.1 L276.4 193.1 M276.4 193.1 L277.0 185.4 M278.5 194.0 L279.2 186.2 M280.6 194.9 L281.0 191.0 M320.3 198.5 L303.0 192.0 M303.0 192.0 L303.4 184.2 M305.1 192.8 L305.6 185.0 M307.3 193.6 L307.5 189.7 M347.1 196.9 L329.7 190.6 M329.7 190.6 L330.0 182.9 M331.9 191.4 L332.2 183.6 M334.0 192.2 L334.4 184.4 M373.9 195.3 L356.3 189.6 M356.3 189.6 L356.4 181.8 M358.5 190.3 L358.6 182.5 M360.7 191.0 L360.8 183.3 M400.7 193.7 L382.7 189.4 M382.7 189.4 L382.1 181.7 M384.9 190.0 L384.4 182.2 M387.2 190.5 L386.6 182.8 M389.4 191.0 L389.1 187.2 M427.5 192.1 L409.2 189.2 M409.2 189.2 L408.1 181.5 M411.5 189.6 L410.3 181.9 M413.8 189.9 L412.6 182.3 M416.0 190.3 L415.5 186.5 M0.2 243.2 L-12.4 229.7 M-12.4 229.7 L-8.6 223.0 M27.0 241.6 L15.2 227.3 M15.2 227.3 L19.5 220.8 M53.8 240.0 L43.6 224.5 M43.6 224.5 L48.6 218.5 M80.6 238.4 L67.9 225.0 M67.9 225.0 L71.6 218.2 M107.4 236.8 L95.7 222.4 M95.7 222.4 L100.0 216.0 M97.2 224.2 L99.3 221.0 M134.2 235.2 L121.8 221.4 M121.8 221.4 L125.8 214.8 M123.4 223.1 L127.3 216.5 M124.9 224.9 L126.9 221.5 M161.0 233.6 L149.7 218.9 M149.7 218.9 L154.2 212.6 M151.2 220.7 L155.6 214.4 M152.6 222.6 L157.0 216.2 M187.8 232.0 L176.6 217.2 M176.6 217.2 L181.1 210.9 M178.0 219.1 L182.5 212.8 M214.6 230.4 L201.8 217.0 M201.8 217.0 L205.5 210.2 M203.4 218.7 L207.1 211.9 M241.4 228.8 L226.9 217.2 M226.9 217.2 L229.7 210.0 M228.7 218.7 L231.5 211.4 M268.2 227.1 L250.8 220.7 M250.8 220.7 L251.2 213.0 M253.0 221.5 L253.4 213.8 M255.2 222.3 L255.4 218.5 M295.0 225.5 L278.3 217.6 M278.3 217.6 L279.4 209.9 M280.4 218.6 L281.5 210.9 M282.5 219.6 L283.0 215.7 M321.8 223.9 L304.5 217.3 M304.5 217.3 L305.0 209.6 M306.7 218.2 L307.1 210.4 M308.8 219.0 L309.1 215.1 M348.6 222.3 L331.2 216.0 M331.2 216.0 L331.5 208.3 M333.4 216.8 L333.7 209.1 M335.5 217.6 L335.7 213.7 M375.4 220.7 L357.9 214.6 M357.9 214.6 L358.2 206.8 M360.1 215.3 L360.4 207.6 M362.3 216.1 L362.4 212.2 M402.2 219.1 L384.4 214.0 M384.4 214.0 L384.2 206.3 M386.6 214.6 L386.4 206.9 M388.9 215.3 L388.8 211.4 M1.7 268.6 L-11.0 255.2 M-11.0 255.2 L-7.2 248.4 M28.5 267.0 L16.6 252.9 M16.6 252.9 L20.7 246.4 M55.3 265.4 L44.7 250.3 M44.7 250.3 L49.4 244.1 M82.1 263.8 L68.5 251.2 M68.5 251.2 L71.9 244.2 M108.9 262.2 L95.7 249.2 M95.7 249.2 L99.3 242.3 M97.4 250.8 L100.9 243.9 M135.7 260.6 L122.8 247.3 M122.8 247.3 L126.5 240.5 M124.4 249.0 L128.1 242.2 M162.5 259.0 L150.2 245.1 M150.2 245.1 L154.2 238.5 M151.8 246.9 L155.8 240.2 M153.3 248.6 L157.3 242.0 M189.3 257.4 L177.2 243.4 M177.2 243.4 L181.3 236.8 M178.7 245.1 L182.8 238.5 M180.3 246.9 L182.3 243.6 M216.1 255.8 L203.9 241.9 M203.9 241.9 L207.9 235.2 M205.4 243.6 L209.5 237.0 M242.9 254.2 L229.0 241.9 M229.0 241.9 L232.2 234.8 M230.8 243.4 L233.9 236.4 M269.7 252.5 L253.5 243.7 M253.5 243.7 L255.0 236.1 M255.5 244.8 L257.0 237.2 M257.5 245.9 L259.0 238.3 M296.5 250.9 L279.9 242.9 M279.9 242.9 L281.0 235.2 M281.9 243.9 L283.1 236.2 M284.0 244.9 L285.2 237.2 M323.3 249.3 L305.4 244.9 M305.4 244.9 L304.9 237.1 M307.6 245.4 L307.1 237.7 M309.9 246.0 L309.6 242.1 M350.1 247.7 L332.4 242.3 M332.4 242.3 L332.4 234.6 M334.6 243.0 L334.6 235.2 M336.8 243.7 L336.8 239.8 M376.9 246.1 L359.4 240.2 M359.4 240.2 L359.5 232.5 M361.6 241.0 L361.7 233.2 M403.7 244.5 L386.3 238.4 M386.3 238.4 L386.5 230.6 M388.4 239.1 L388.7 231.4 M405.2 269.9 L388.1 263.0 M388.1 263.0 L388.7 255.2 M390.2 263.8 L390.9 256.1" fill="none" stroke="#000" stroke-width="1.3"/>
<path d="M105.8 -4.7 L112.2 -9.1 L109.5 -1.9 Z M131.4 -4.5 L137.1 -9.7 L135.3 -2.1 Z M158.5 -6.7 L164.5 -11.6 L162.4 -4.2 Z M186.1 -9.4 L192.4 -13.9 L189.8 -6.6 Z M211.7 -9.1 L217.4 -14.4 L215.7 -6.8 Z M238.3 -10.5 L243.9 -15.8 L242.4 -8.2 Z M106.8 21.5 L112.9 16.7 L110.6 24.1 Z M132.0 22.7 L137.2 16.9 L136.2 24.6 Z M160.1 18.7 L166.1 13.7 L164.0 21.2 Z M187.7 15.9 L194.0 11.5 L191.4 18.7 Z M213.3 16.2 L219.0 11.0 L217.2 18.5 Z M239.8 15.0 L245.4 9.6 L243.9 17.2 Z M266.8 13.1 L272.5 7.8 L270.8 15.4 Z M293.6 11.4 L299.3 6.2 L297.6 13.7 Z M320.6 9.4 L326.5 4.3 L324.6 11.9 Z M347.5 7.7 L353.4 2.7 L351.4 10.2 Z M374.4 6.0 L380.3 1.0 L378.3 8.4 Z M80.5 50.1 L86.1 44.7 L84.6 52.3 Z M107.8 47.6 L113.7 42.6 L111.7 50.1 Z M133.6 47.8 L138.9 42.1 L137.8 49.8 Z M161.9 43.7 L167.9 38.9 L165.7 46.3 Z M189.7 40.8 L196.1 36.6 L193.2 43.7 Z M215.2 41.0 L221.1 36.0 L219.1 43.5 Z M241.7 39.8 L247.5 34.6 L245.7 42.2 Z M268.2 38.6 L273.9 33.3 L272.3 40.9 Z M295.2 36.8 L300.9 31.5 L299.2 39.1 Z M322.3 34.6 L328.2 29.6 L326.2 37.1 Z M349.2 32.8 L355.2 27.9 L353.1 35.3 Z M108.8 73.9 L114.4 68.5 L112.9 76.1 Z M135.3 72.9 L140.7 67.3 L139.4 75.0 Z M164.1 68.2 L170.5 63.8 L167.7 71.0 Z M191.8 65.5 L198.5 61.6 L195.2 68.6 Z M216.2 67.2 L221.9 61.9 L220.2 69.5 Z M242.8 65.9 L248.4 60.5 L246.9 68.1 Z M269.5 64.5 L275.0 59.0 L273.6 66.6 Z M296.7 62.2 L302.4 57.0 L300.7 64.5 Z M323.9 59.9 L329.8 54.9 L327.8 62.4 Z M350.9 57.9 L357.0 53.1 L354.8 60.5 Z M378.1 55.8 L384.4 51.2 L381.9 58.5 Z M404.0 55.5 L409.8 50.4 L408.0 57.9 Z M193.4 90.8 L200.1 86.9 L196.8 93.9 Z M217.3 93.3 L222.8 87.8 L221.4 95.4 Z M244.0 91.9 L249.4 86.3 L248.2 93.9 Z M271.0 89.9 L276.5 84.4 L275.1 92.0 Z M298.2 87.6 L303.9 82.4 L302.2 89.9 Z M325.4 85.4 L331.3 80.4 L329.3 87.9 Z M352.8 82.9 L359.0 78.3 L356.5 85.6 Z M380.3 80.3 L386.8 76.1 L383.9 83.3 Z M406.2 79.9 L412.3 75.2 L410.0 82.6 Z M245.5 117.4 L250.8 111.8 L249.6 119.5 Z M272.3 115.7 L277.7 110.1 L276.5 117.8 Z M299.3 113.7 L304.8 108.2 L303.4 115.9 Z M326.5 111.5 L332.2 106.2 L330.5 113.8 Z M354.2 108.5 L360.3 103.7 L357.9 111.1 Z M381.9 105.7 L388.4 101.5 L385.4 108.6 Z M407.6 105.5 L413.7 100.7 L411.4 108.1 Z M381.9 133.1 L387.8 128.1 L385.8 135.6 Z M407.7 133.3 L413.0 127.6 L411.9 135.3 Z" fill="#000" stroke="#000" stroke-width="1.3" stroke-linejoin="miter"/>
<text x="331.5" y="28.7" transform="rotate(15.0 331.5 28.7)" class="cl" dy="4.9" textLength="34.8" lengthAdjust="spacingAndGlyphs">2940</text>
<text x="330.8" y="91.6" transform="rotate(18.0 330.8 91.6)" class="cl" dy="4.9" textLength="34.8" lengthAdjust="spacingAndGlyphs">3000</text>
<text x="338.9" y="172.7" transform="rotate(30.0 338.9 172.7)" class="cl" dy="4.9" textLength="34.8" lengthAdjust="spacingAndGlyphs">3060</text>
<text x="124.0" y="248.2" transform="rotate(62.0 124.0 248.2)" class="cl" dy="4.9" textLength="34.8" lengthAdjust="spacingAndGlyphs">3150</text>
<text x="418.0" y="162.0" transform="rotate(20.0 418.0 162.0)" class="cl" dy="4.9" textLength="34.8" lengthAdjust="spacingAndGlyphs">3030</text>
<path d="M212.5 111.4 h5.4 M215.2 108.7 v5.4" stroke="#2a0a0a" stroke-width="1.7" fill="none"/>
</g>
<rect x="0" y="0" width="412.2" height="258.5" fill="none" stroke="#000" stroke-width="1.07"/>
</g>
</g></svg>
<svg class="pan" style="left:970.0px;top:656.2px" width="414.2" height="260.5" viewBox="0 0 414.2 260.5">
<g transform="translate(1,1)">
<g id="pc8">
<clipPath id="cp8"><rect x="0" y="0" width="412.2" height="258.5"/></clipPath>
<g clip-path="url(#cp8)">
<path d="M76.2 0.0 L71.4 60.9 L70.0 92.8 M0.0 54.2 L71.4 60.9 M70.0 92.8 L118.9 96.1 L158.4 97.2 L183.7 97.7 L214.0 97.5 L240.8 97.2 L289.5 96.4 M239.7 0.0 L240.2 33.2 L240.8 97.2 M240.2 33.2 L311.6 30.8 L371.4 27.2 L376.0 29.5 L380.0 32.3 L382.8 33.9 L385.1 33.7 L386.2 31.0 L387.5 30.3 L392.2 30.6 L396.0 29.8 L399.5 28.8 L401.5 29.5 L404.1 31.8 L408.0 32.6 L412.0 33.2 M118.9 96.1 L118.1 122.9 L116.5 160.0 L113.3 223.7 L111.7 258.5 M289.5 96.4 L291.1 128.4 L292.5 175.0 L294.3 224.8 M291.1 128.4 L351.1 125.6 L412.0 121.7 M0.0 216.2 L57.2 220.9 L113.3 223.7 L175.8 226.1 L214.0 226.5 L269.0 226.1 L294.3 224.8 L351.1 222.0 L412.0 218.2 M269.3 226.1 L269.6 241.6 L268.6 241.8 L268.6 258.5 M268.6 241.8 L347.2 239.1 L348.8 258.5" fill="none" stroke="#000" stroke-width="1.35" stroke-linejoin="round"/>
<path d="M212.5 111.4 h5.4 M215.2 108.7 v5.4" stroke="#2a0a0a" stroke-width="1.7" fill="none"/>
</g>
<rect x="0" y="0" width="412.2" height="258.5" fill="none" stroke="#000" stroke-width="1.07"/>
</g>
</g></svg>
<svg class="pan" style="left:0;top:900px" width="1392" height="101" viewBox="0 900 1392 101">
<rect x="176.90" y="926.5" width="82.97" height="20.3" fill="#fff2e1"/>
<rect x="259.37" y="926.5" width="82.97" height="20.3" fill="#fee8c8"/>
<rect x="341.84" y="926.5" width="82.97" height="20.3" fill="#fddbac"/>
<rect x="424.31" y="926.5" width="82.97" height="20.3" fill="#fdcc96"/>
<rect x="506.78" y="926.5" width="82.97" height="20.3" fill="#fdba83"/>
<rect x="589.25" y="926.5" width="82.97" height="20.3" fill="#fc9c67"/>
<rect x="671.72" y="926.5" width="82.97" height="20.3" fill="#f88053"/>
<rect x="754.19" y="926.5" width="82.97" height="20.3" fill="#ef6447"/>
<rect x="836.66" y="926.5" width="82.97" height="20.3" fill="#df412c"/>
<rect x="919.13" y="926.5" width="82.97" height="20.3" fill="#cb2015"/>
<rect x="1001.60" y="926.5" width="82.97" height="20.3" fill="#b20000"/>
<rect x="1084.07" y="926.5" width="82.97" height="20.3" fill="#8f0000"/>
<path d="M1166.5 926.5 L1215.8 936.6 L1166.5 946.8 Z" fill="#7f0000"/>
<path d="M176.9 926.5 L1166.5 926.5 L1215.8 936.6 L1166.5 946.8 L176.9 946.8 Z" fill="none" stroke="#000" stroke-width="1.1" stroke-linejoin="miter"/>
<path d="M176.90 946.8 v4.9 M259.37 946.8 v4.9 M341.84 946.8 v4.9 M424.31 946.8 v4.9 M506.78 946.8 v4.9 M589.25 946.8 v4.9 M671.72 946.8 v4.9 M754.19 946.8 v4.9 M836.66 946.8 v4.9 M919.13 946.8 v4.9 M1001.60 946.8 v4.9 M1084.07 946.8 v4.9 M1166.54 946.8 v4.9" stroke="#000" stroke-width="1.1" fill="none"/>
</svg>
<div class="t" style="top:955.40px;font-size:14.10px;left:-23.6px;width:400px;text-align:center;"><span class="sc" style="transform:scaleX(1.1833)">15</span></div>
<div class="t" style="top:955.40px;font-size:14.10px;left:58.9px;width:400px;text-align:center;"><span class="sc" style="transform:scaleX(1.1833)">20</span></div>
<div class="t" style="top:955.40px;font-size:14.10px;left:141.3px;width:400px;text-align:center;"><span class="sc" style="transform:scaleX(1.1833)">25</span></div>
<div class="t" style="top:955.40px;font-size:14.10px;left:223.8px;width:400px;text-align:center;"><span class="sc" style="transform:scaleX(1.1833)">30</span></div>
<div class="t" style="top:955.40px;font-size:14.10px;left:306.3px;width:400px;text-align:center;"><span class="sc" style="transform:scaleX(1.1833)">35</span></div>
<div class="t" style="top:955.40px;font-size:14.10px;left:388.8px;width:400px;text-align:center;"><span class="sc" style="transform:scaleX(1.1833)">40</span></div>
<div class="t" style="top:955.40px;font-size:14.10px;left:471.2px;width:400px;text-align:center;"><span class="sc" style="transform:scaleX(1.1833)">45</span></div>
<div class="t" style="top:955.40px;font-size:14.10px;left:553.7px;width:400px;text-align:center;"><span class="sc" style="transform:scaleX(1.1833)">50</span></div>
<div class="t" style="top:955.40px;font-size:14.10px;left:636.2px;width:400px;text-align:center;"><span class="sc" style="transform:scaleX(1.1833)">55</span></div>
<div class="t" style="top:955.40px;font-size:14.10px;left:718.6px;width:400px;text-align:center;"><span class="sc" style="transform:scaleX(1.1833)">60</span></div>
<div class="t" style="top:955.40px;font-size:14.10px;left:801.1px;width:400px;text-align:center;"><span class="sc" style="transform:scaleX(1.1833)">65</span></div>
<div class="t" style="top:955.40px;font-size:14.10px;left:883.6px;width:400px;text-align:center;"><span class="sc" style="transform:scaleX(1.1833)">70</span></div>
<div class="t" style="top:955.40px;font-size:14.10px;left:966.0px;width:400px;text-align:center;"><span class="sc" style="transform:scaleX(1.1833)">75</span></div>
<div class="t" style="top:973.30px;font-size:16.30px;left:472.6px;width:400px;text-align:center;"><span class="sc" style="transform:scaleX(1.1252)">wind speed (kt)</span></div>
</body></html>
